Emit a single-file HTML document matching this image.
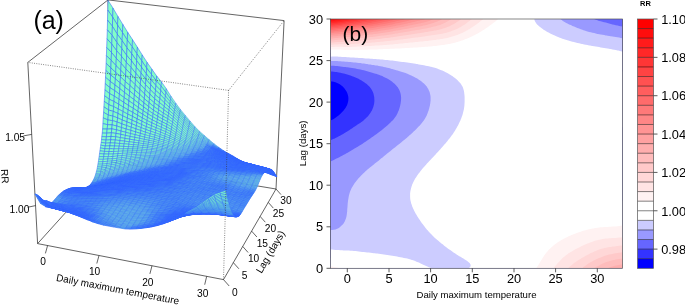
<!DOCTYPE html>
<html><head><meta charset="utf-8"><title>fig</title>
<style>html,body{margin:0;padding:0;background:#fff}svg{display:block;will-change:transform}text{font-family:"Liberation Sans",sans-serif;fill:#000}</style></head><body>
<svg width="685" height="305" viewBox="0 0 685 305">
<rect width="685" height="305" fill="#fff"/>
<g id="cont" clip-path="url(#cp)">
<clipPath id="cp"><rect x="330.5" y="19.0" width="292.1" height="249.3"/></clipPath>
<rect x="330.5" y="19.0" width="292.1" height="249.3" fill="rgb(0,0,255)"/>
<path fill="rgb(51,51,255)" fill-rule="evenodd" d="M330.5 268.3L332.1 268.3L333.8 268.3L335.5 268.3L337.1 268.3L338.8 268.3L340.5 268.3L342.1 268.3L343.8 268.3L345.5 268.3L347.2 268.3L348.8 268.3L350.5 268.3L352.2 268.3L353.8 268.3L355.5 268.3L357.2 268.3L358.8 268.3L360.5 268.3L362.2 268.3L363.8 268.3L365.5 268.3L367.2 268.3L368.8 268.3L370.5 268.3L372.2 268.3L373.8 268.3L375.5 268.3L377.2 268.3L378.9 268.3L380.5 268.3L382.2 268.3L383.9 268.3L385.5 268.3L387.2 268.3L388.9 268.3L390.5 268.3L392.2 268.3L393.9 268.3L395.5 268.3L397.2 268.3L398.9 268.3L400.5 268.3L402.2 268.3L403.9 268.3L405.6 268.3L407.2 268.3L408.9 268.3L410.6 268.3L412.2 268.3L413.9 268.3L415.6 268.3L417.2 268.3L418.9 268.3L420.6 268.3L422.2 268.3L423.9 268.3L425.6 268.3L427.2 268.3L428.9 268.3L430.6 268.3L432.2 268.3L433.9 268.3L435.6 268.3L437.3 268.3L438.9 268.3L440.6 268.3L442.3 268.3L443.9 268.3L445.6 268.3L447.3 268.3L448.9 268.3L450.6 268.3L452.3 268.3L453.9 268.3L455.6 268.3L457.3 268.3L458.9 268.3L460.6 268.3L462.3 268.3L464.0 268.3L465.6 268.3L467.3 268.3L469.0 268.3L470.6 268.3L472.3 268.3L474.0 268.3L475.6 268.3L477.3 268.3L479.0 268.3L480.6 268.3L482.3 268.3L484.0 268.3L485.6 268.3L487.3 268.3L489.0 268.3L490.6 268.3L492.3 268.3L494.0 268.3L495.7 268.3L497.3 268.3L499.0 268.3L500.7 268.3L502.3 268.3L504.0 268.3L505.7 268.3L507.3 268.3L509.0 268.3L510.7 268.3L512.3 268.3L514.0 268.3L515.7 268.3L517.3 268.3L519.0 268.3L520.7 268.3L522.4 268.3L524.0 268.3L525.7 268.3L527.4 268.3L529.0 268.3L530.7 268.3L532.4 268.3L534.0 268.3L535.7 268.3L537.4 268.3L539.0 268.3L540.7 268.3L542.4 268.3L544.0 268.3L545.7 268.3L547.4 268.3L549.0 268.3L550.7 268.3L552.4 268.3L554.1 268.3L555.7 268.3L557.4 268.3L559.1 268.3L560.7 268.3L562.4 268.3L564.1 268.3L565.7 268.3L567.4 268.3L569.1 268.3L570.7 268.3L572.4 268.3L574.1 268.3L575.7 268.3L577.4 268.3L579.1 268.3L580.8 268.3L582.4 268.3L584.1 268.3L585.8 268.3L587.4 268.3L589.1 268.3L590.8 268.3L592.4 268.3L594.1 268.3L595.8 268.3L597.4 268.3L599.1 268.3L600.8 268.3L602.4 268.3L604.1 268.3L605.8 268.3L607.4 268.3L609.1 268.3L610.8 268.3L612.5 268.3L614.1 268.3L615.8 268.3L617.5 268.3L619.1 268.3L620.8 268.3L622.5 268.3L622.5 266.6L622.5 265.0L622.5 263.3L622.5 261.7L622.5 260.0L622.5 258.3L622.5 256.7L622.5 255.0L622.5 253.3L622.5 251.7L622.5 250.0L622.5 248.4L622.5 246.7L622.5 245.0L622.5 243.4L622.5 241.7L622.5 240.0L622.5 238.4L622.5 236.7L622.5 235.1L622.5 233.4L622.5 231.7L622.5 230.1L622.5 228.4L622.5 226.8L622.5 225.1L622.5 223.4L622.5 221.8L622.5 220.1L622.5 218.4L622.5 216.8L622.5 215.1L622.5 213.5L622.5 211.8L622.5 210.1L622.5 208.5L622.5 206.8L622.5 205.1L622.5 203.5L622.5 201.8L622.5 200.2L622.5 198.5L622.5 196.8L622.5 195.2L622.5 193.5L622.5 191.8L622.5 190.2L622.5 188.5L622.5 186.9L622.5 185.2L622.5 183.5L622.5 181.9L622.5 180.2L622.5 178.6L622.5 176.9L622.5 175.2L622.5 173.6L622.5 171.9L622.5 170.2L622.5 168.6L622.5 166.9L622.5 165.3L622.5 163.6L622.5 161.9L622.5 160.3L622.5 158.6L622.5 156.9L622.5 155.3L622.5 153.6L622.5 152.0L622.5 150.3L622.5 148.6L622.5 147.0L622.5 145.3L622.5 143.7L622.5 142.0L622.5 140.3L622.5 138.7L622.5 137.0L622.5 135.3L622.5 133.7L622.5 132.0L622.5 130.4L622.5 128.7L622.5 127.0L622.5 125.4L622.5 123.7L622.5 122.0L622.5 120.4L622.5 118.7L622.5 117.1L622.5 115.4L622.5 113.7L622.5 112.1L622.5 110.4L622.5 108.7L622.5 107.1L622.5 105.4L622.5 103.8L622.5 102.1L622.5 100.4L622.5 98.8L622.5 97.1L622.5 95.5L622.5 93.8L622.5 92.1L622.5 90.5L622.5 88.8L622.5 87.1L622.5 85.5L622.5 83.8L622.5 82.2L622.5 80.5L622.5 78.8L622.5 77.2L622.5 75.5L622.5 73.8L622.5 72.2L622.5 70.5L622.5 68.9L622.5 67.2L622.5 65.5L622.5 63.9L622.5 62.2L622.5 60.6L622.5 58.9L622.5 57.2L622.5 55.6L622.5 53.9L622.5 52.2L622.5 50.6L622.5 48.9L622.5 47.3L622.5 45.6L622.5 43.9L622.5 42.3L622.5 40.6L622.5 38.9L622.5 37.3L622.5 35.6L622.5 34.0L622.5 32.3L622.5 30.6L622.5 29.0L622.5 27.3L622.5 25.6L622.5 24.0L622.5 22.3L622.5 20.7L622.5 19.0L620.8 19.0L619.1 19.0L617.5 19.0L615.8 19.0L614.1 19.0L612.5 19.0L610.8 19.0L609.1 19.0L607.4 19.0L605.8 19.0L604.1 19.0L602.4 19.0L600.8 19.0L599.1 19.0L597.4 19.0L595.8 19.0L594.1 19.0L592.4 19.0L590.8 19.0L589.1 19.0L587.4 19.0L585.8 19.0L584.1 19.0L582.4 19.0L580.8 19.0L579.1 19.0L577.4 19.0L575.7 19.0L574.1 19.0L572.4 19.0L570.7 19.0L569.1 19.0L567.4 19.0L565.7 19.0L564.1 19.0L562.4 19.0L560.7 19.0L559.1 19.0L557.4 19.0L555.7 19.0L554.1 19.0L552.4 19.0L550.7 19.0L549.0 19.0L547.4 19.0L545.7 19.0L544.0 19.0L542.4 19.0L540.7 19.0L539.0 19.0L537.4 19.0L535.7 19.0L534.0 19.0L532.4 19.0L530.7 19.0L529.0 19.0L527.4 19.0L525.7 19.0L524.0 19.0L522.4 19.0L520.7 19.0L519.0 19.0L517.3 19.0L515.7 19.0L514.0 19.0L512.3 19.0L510.7 19.0L509.0 19.0L507.3 19.0L505.7 19.0L504.0 19.0L502.3 19.0L500.7 19.0L499.0 19.0L497.3 19.0L495.7 19.0L494.0 19.0L492.3 19.0L490.6 19.0L489.0 19.0L487.3 19.0L485.6 19.0L484.0 19.0L482.3 19.0L480.6 19.0L479.0 19.0L477.3 19.0L475.6 19.0L474.0 19.0L472.3 19.0L470.6 19.0L469.0 19.0L467.3 19.0L465.6 19.0L464.0 19.0L462.3 19.0L460.6 19.0L458.9 19.0L457.3 19.0L455.6 19.0L453.9 19.0L452.3 19.0L450.6 19.0L448.9 19.0L447.3 19.0L445.6 19.0L443.9 19.0L442.3 19.0L440.6 19.0L438.9 19.0L437.3 19.0L435.6 19.0L433.9 19.0L432.2 19.0L430.6 19.0L428.9 19.0L427.2 19.0L425.6 19.0L423.9 19.0L422.2 19.0L420.6 19.0L418.9 19.0L417.2 19.0L415.6 19.0L413.9 19.0L412.2 19.0L410.6 19.0L408.9 19.0L407.2 19.0L405.6 19.0L403.9 19.0L402.2 19.0L400.5 19.0L398.9 19.0L397.2 19.0L395.5 19.0L393.9 19.0L392.2 19.0L390.5 19.0L388.9 19.0L387.2 19.0L385.5 19.0L383.9 19.0L382.2 19.0L380.5 19.0L378.9 19.0L377.2 19.0L375.5 19.0L373.8 19.0L372.2 19.0L370.5 19.0L368.8 19.0L367.2 19.0L365.5 19.0L363.8 19.0L362.2 19.0L360.5 19.0L358.8 19.0L357.2 19.0L355.5 19.0L353.8 19.0L352.2 19.0L350.5 19.0L348.8 19.0L347.2 19.0L345.5 19.0L343.8 19.0L342.1 19.0L340.5 19.0L338.8 19.0L337.1 19.0L335.5 19.0L333.8 19.0L332.1 19.0L330.5 19.0L330.5 20.7L330.5 22.3L330.5 24.0L330.5 25.6L330.5 27.3L330.5 29.0L330.5 30.6L330.5 32.3L330.5 34.0L330.5 35.6L330.5 37.3L330.5 38.9L330.5 40.6L330.5 42.3L330.5 43.9L330.5 45.6L330.5 47.3L330.5 48.9L330.5 50.6L330.5 52.2L330.5 53.9L330.5 55.6L330.5 57.2L330.5 58.9L330.5 60.6L330.5 62.2L330.5 63.9L330.5 65.5L330.5 67.2L330.5 68.9L330.5 70.5L330.5 72.2L330.5 73.8L330.5 75.5L330.5 77.2L330.5 78.8L330.5 80.5L330.5 81.3L332.1 81.4L333.8 81.7L335.2 82.2L335.5 82.3L337.1 83.0L338.8 83.8L338.9 83.8L340.5 84.8L341.4 85.5L342.1 86.1L343.2 87.1L343.8 87.8L344.7 88.8L345.5 89.9L345.9 90.5L346.8 92.1L347.2 92.9L347.5 93.8L348.0 95.5L348.3 97.1L348.4 98.8L348.3 100.4L348.0 102.1L347.5 103.8L347.2 104.7L346.9 105.4L346.0 107.1L345.5 107.9L344.9 108.7L343.8 110.2L343.6 110.4L342.1 112.1L342.1 112.1L340.5 113.7L340.5 113.7L338.8 115.2L338.6 115.4L337.1 116.6L336.5 117.1L335.5 117.8L334.0 118.7L333.8 118.9L332.1 119.8L330.8 120.4L330.5 120.5L330.5 122.0L330.5 123.7L330.5 125.4L330.5 127.0L330.5 128.7L330.5 130.4L330.5 132.0L330.5 133.7L330.5 135.3L330.5 137.0L330.5 138.7L330.5 140.3L330.5 142.0L330.5 143.7L330.5 145.3L330.5 147.0L330.5 148.6L330.5 150.3L330.5 152.0L330.5 153.6L330.5 155.3L330.5 156.9L330.5 158.6L330.5 160.3L330.5 161.9L330.5 163.6L330.5 165.3L330.5 166.9L330.5 168.6L330.5 170.2L330.5 171.9L330.5 173.6L330.5 175.2L330.5 176.9L330.5 178.6L330.5 180.2L330.5 181.9L330.5 183.5L330.5 185.2L330.5 186.9L330.5 188.5L330.5 190.2L330.5 191.8L330.5 193.5L330.5 195.2L330.5 196.8L330.5 198.5L330.5 200.2L330.5 201.8L330.5 203.5L330.5 205.1L330.5 206.8L330.5 208.5L330.5 210.1L330.5 211.8L330.5 213.5L330.5 215.1L330.5 216.8L330.5 218.4L330.5 220.1L330.5 221.8L330.5 223.4L330.5 225.1L330.5 226.8L330.5 228.4L330.5 230.1L330.5 231.7L330.5 233.4L330.5 235.1L330.5 236.7L330.5 238.4L330.5 240.0L330.5 241.7L330.5 243.4L330.5 245.0L330.5 246.7L330.5 248.4L330.5 250.0L330.5 251.7L330.5 253.3L330.5 255.0L330.5 256.7L330.5 258.3L330.5 260.0L330.5 261.7L330.5 263.3L330.5 265.0L330.5 266.6Z"/>
<path fill="rgb(102,102,255)" fill-rule="evenodd" d="M330.5 268.3L332.1 268.3L333.8 268.3L335.5 268.3L337.1 268.3L338.8 268.3L340.5 268.3L342.1 268.3L343.8 268.3L345.5 268.3L347.2 268.3L348.8 268.3L350.5 268.3L352.2 268.3L353.8 268.3L355.5 268.3L357.2 268.3L358.8 268.3L360.5 268.3L362.2 268.3L363.8 268.3L365.5 268.3L367.2 268.3L368.8 268.3L370.5 268.3L372.2 268.3L373.8 268.3L375.5 268.3L377.2 268.3L378.9 268.3L380.5 268.3L382.2 268.3L383.9 268.3L385.5 268.3L387.2 268.3L388.9 268.3L390.5 268.3L392.2 268.3L393.9 268.3L395.5 268.3L397.2 268.3L398.9 268.3L400.5 268.3L402.2 268.3L403.9 268.3L405.6 268.3L407.2 268.3L408.9 268.3L410.6 268.3L412.2 268.3L413.9 268.3L415.6 268.3L417.2 268.3L418.9 268.3L420.6 268.3L422.2 268.3L423.9 268.3L425.6 268.3L427.2 268.3L428.9 268.3L430.6 268.3L432.2 268.3L433.9 268.3L435.6 268.3L437.3 268.3L438.9 268.3L440.6 268.3L442.3 268.3L443.9 268.3L445.6 268.3L447.3 268.3L448.9 268.3L450.6 268.3L452.3 268.3L453.9 268.3L455.6 268.3L457.3 268.3L458.9 268.3L460.6 268.3L462.3 268.3L464.0 268.3L465.6 268.3L467.3 268.3L469.0 268.3L470.6 268.3L472.3 268.3L474.0 268.3L475.6 268.3L477.3 268.3L479.0 268.3L480.6 268.3L482.3 268.3L484.0 268.3L485.6 268.3L487.3 268.3L489.0 268.3L490.6 268.3L492.3 268.3L494.0 268.3L495.7 268.3L497.3 268.3L499.0 268.3L500.7 268.3L502.3 268.3L504.0 268.3L505.7 268.3L507.3 268.3L509.0 268.3L510.7 268.3L512.3 268.3L514.0 268.3L515.7 268.3L517.3 268.3L519.0 268.3L520.7 268.3L522.4 268.3L524.0 268.3L525.7 268.3L527.4 268.3L529.0 268.3L530.7 268.3L532.4 268.3L534.0 268.3L535.7 268.3L537.4 268.3L539.0 268.3L540.7 268.3L542.4 268.3L544.0 268.3L545.7 268.3L547.4 268.3L549.0 268.3L550.7 268.3L552.4 268.3L554.1 268.3L555.7 268.3L557.4 268.3L559.1 268.3L560.7 268.3L562.4 268.3L564.1 268.3L565.7 268.3L567.4 268.3L569.1 268.3L570.7 268.3L572.4 268.3L574.1 268.3L575.7 268.3L577.4 268.3L579.1 268.3L580.8 268.3L582.4 268.3L584.1 268.3L585.8 268.3L587.4 268.3L589.1 268.3L590.8 268.3L592.4 268.3L594.1 268.3L595.8 268.3L597.4 268.3L599.1 268.3L600.8 268.3L602.4 268.3L604.1 268.3L605.8 268.3L607.4 268.3L609.1 268.3L610.8 268.3L612.5 268.3L614.1 268.3L615.8 268.3L617.5 268.3L619.1 268.3L620.8 268.3L622.5 268.3L622.5 266.6L622.5 265.0L622.5 263.3L622.5 261.7L622.5 260.0L622.5 258.3L622.5 256.7L622.5 255.0L622.5 253.3L622.5 251.7L622.5 250.0L622.5 248.4L622.5 246.7L622.5 245.0L622.5 243.4L622.5 241.7L622.5 240.0L622.5 238.4L622.5 236.7L622.5 235.1L622.5 233.4L622.5 231.7L622.5 230.1L622.5 228.4L622.5 226.8L622.5 225.1L622.5 223.4L622.5 221.8L622.5 220.1L622.5 218.4L622.5 216.8L622.5 215.1L622.5 213.5L622.5 211.8L622.5 210.1L622.5 208.5L622.5 206.8L622.5 205.1L622.5 203.5L622.5 201.8L622.5 200.2L622.5 198.5L622.5 196.8L622.5 195.2L622.5 193.5L622.5 191.8L622.5 190.2L622.5 188.5L622.5 186.9L622.5 185.2L622.5 183.5L622.5 181.9L622.5 180.2L622.5 178.6L622.5 176.9L622.5 175.2L622.5 173.6L622.5 171.9L622.5 170.2L622.5 168.6L622.5 166.9L622.5 165.3L622.5 163.6L622.5 161.9L622.5 160.3L622.5 158.6L622.5 156.9L622.5 155.3L622.5 153.6L622.5 152.0L622.5 150.3L622.5 148.6L622.5 147.0L622.5 145.3L622.5 143.7L622.5 142.0L622.5 140.3L622.5 138.7L622.5 137.0L622.5 135.3L622.5 133.7L622.5 132.0L622.5 130.4L622.5 128.7L622.5 127.0L622.5 125.4L622.5 123.7L622.5 122.0L622.5 120.4L622.5 118.7L622.5 117.1L622.5 115.4L622.5 113.7L622.5 112.1L622.5 110.4L622.5 108.7L622.5 107.1L622.5 105.4L622.5 103.8L622.5 102.1L622.5 100.4L622.5 98.8L622.5 97.1L622.5 95.5L622.5 93.8L622.5 92.1L622.5 90.5L622.5 88.8L622.5 87.1L622.5 85.5L622.5 83.8L622.5 82.2L622.5 80.5L622.5 78.8L622.5 77.2L622.5 75.5L622.5 73.8L622.5 72.2L622.5 70.5L622.5 68.9L622.5 67.2L622.5 65.5L622.5 63.9L622.5 62.2L622.5 60.6L622.5 58.9L622.5 57.2L622.5 55.6L622.5 53.9L622.5 52.2L622.5 50.6L622.5 48.9L622.5 47.3L622.5 45.6L622.5 43.9L622.5 42.3L622.5 40.6L622.5 38.9L622.5 37.3L622.5 35.6L622.5 34.0L622.5 32.3L622.5 30.6L622.5 29.0L622.5 27.3L622.5 25.6L622.5 24.0L622.5 22.3L622.5 20.7L622.5 19.0L620.8 19.0L619.1 19.0L617.5 19.0L615.8 19.0L614.1 19.0L612.5 19.0L610.8 19.0L609.1 19.0L607.4 19.0L605.8 19.0L604.1 19.0L602.4 19.0L600.8 19.0L599.1 19.0L597.4 19.0L595.8 19.0L594.1 19.0L592.4 19.0L590.8 19.0L589.1 19.0L587.4 19.0L585.8 19.0L584.1 19.0L582.4 19.0L580.8 19.0L579.1 19.0L577.4 19.0L575.7 19.0L574.1 19.0L572.4 19.0L570.7 19.0L569.1 19.0L567.4 19.0L565.7 19.0L564.1 19.0L562.4 19.0L560.7 19.0L559.1 19.0L557.4 19.0L555.7 19.0L554.1 19.0L552.4 19.0L550.7 19.0L549.0 19.0L547.4 19.0L545.7 19.0L544.0 19.0L542.4 19.0L540.7 19.0L539.0 19.0L537.4 19.0L535.7 19.0L534.0 19.0L532.4 19.0L530.7 19.0L529.0 19.0L527.4 19.0L525.7 19.0L524.0 19.0L522.4 19.0L520.7 19.0L519.0 19.0L517.3 19.0L515.7 19.0L514.0 19.0L512.3 19.0L510.7 19.0L509.0 19.0L507.3 19.0L505.7 19.0L504.0 19.0L502.3 19.0L500.7 19.0L499.0 19.0L497.3 19.0L495.7 19.0L494.0 19.0L492.3 19.0L490.6 19.0L489.0 19.0L487.3 19.0L485.6 19.0L484.0 19.0L482.3 19.0L480.6 19.0L479.0 19.0L477.3 19.0L475.6 19.0L474.0 19.0L472.3 19.0L470.6 19.0L469.0 19.0L467.3 19.0L465.6 19.0L464.0 19.0L462.3 19.0L460.6 19.0L458.9 19.0L457.3 19.0L455.6 19.0L453.9 19.0L452.3 19.0L450.6 19.0L448.9 19.0L447.3 19.0L445.6 19.0L443.9 19.0L442.3 19.0L440.6 19.0L438.9 19.0L437.3 19.0L435.6 19.0L433.9 19.0L432.2 19.0L430.6 19.0L428.9 19.0L427.2 19.0L425.6 19.0L423.9 19.0L422.2 19.0L420.6 19.0L418.9 19.0L417.2 19.0L415.6 19.0L413.9 19.0L412.2 19.0L410.6 19.0L408.9 19.0L407.2 19.0L405.6 19.0L403.9 19.0L402.2 19.0L400.5 19.0L398.9 19.0L397.2 19.0L395.5 19.0L393.9 19.0L392.2 19.0L390.5 19.0L388.9 19.0L387.2 19.0L385.5 19.0L383.9 19.0L382.2 19.0L380.5 19.0L378.9 19.0L377.2 19.0L375.5 19.0L373.8 19.0L372.2 19.0L370.5 19.0L368.8 19.0L367.2 19.0L365.5 19.0L363.8 19.0L362.2 19.0L360.5 19.0L358.8 19.0L357.2 19.0L355.5 19.0L353.8 19.0L352.2 19.0L350.5 19.0L348.8 19.0L347.2 19.0L345.5 19.0L343.8 19.0L342.1 19.0L340.5 19.0L338.8 19.0L337.1 19.0L335.5 19.0L333.8 19.0L332.1 19.0L330.5 19.0L330.5 20.7L330.5 22.3L330.5 24.0L330.5 25.6L330.5 27.3L330.5 29.0L330.5 30.6L330.5 32.3L330.5 34.0L330.5 35.6L330.5 37.3L330.5 38.9L330.5 40.6L330.5 42.3L330.5 43.9L330.5 45.6L330.5 47.3L330.5 48.9L330.5 50.6L330.5 52.2L330.5 53.9L330.5 55.6L330.5 57.2L330.5 58.9L330.5 60.6L330.5 62.2L330.5 63.9L330.5 65.5L330.5 67.2L330.5 68.9L330.5 70.5L330.5 71.6L332.1 71.6L333.8 71.7L335.5 71.9L337.1 72.1L337.4 72.2L338.8 72.5L340.5 72.8L342.1 73.2L343.8 73.6L344.8 73.8L345.5 74.0L347.2 74.5L348.8 75.0L350.4 75.5L350.5 75.6L352.2 76.2L353.8 76.8L354.9 77.2L355.5 77.4L357.2 78.2L358.6 78.8L358.8 79.0L360.5 79.9L361.6 80.5L362.2 80.9L363.8 81.9L364.2 82.2L365.5 83.2L366.4 83.8L367.2 84.5L368.2 85.5L368.8 86.1L369.8 87.1L370.5 88.1L371.1 88.8L372.1 90.5L372.2 90.7L372.9 92.1L373.5 93.8L373.8 95.2L373.9 95.5L374.2 97.1L374.3 98.8L374.4 100.4L374.3 102.1L374.1 103.8L373.8 104.9L373.7 105.4L373.3 107.1L372.6 108.7L372.2 109.7L371.9 110.4L370.9 112.1L370.5 112.7L369.8 113.7L368.8 115.0L368.6 115.4L367.2 117.0L367.1 117.1L365.5 118.6L365.4 118.7L363.8 120.1L363.6 120.4L362.2 121.5L361.4 122.0L360.5 122.7L358.9 123.7L358.8 123.8L357.2 124.8L356.3 125.4L355.5 125.9L353.9 127.0L353.8 127.1L352.2 128.2L351.4 128.7L350.5 129.3L348.9 130.4L348.8 130.4L347.2 131.5L346.3 132.0L345.5 132.5L343.8 133.5L343.6 133.7L342.1 134.5L340.7 135.3L340.5 135.4L338.8 136.3L337.5 137.0L337.1 137.2L335.5 138.0L334.2 138.7L333.8 138.8L332.1 139.6L330.5 140.2L330.5 140.3L330.5 142.0L330.5 143.7L330.5 145.3L330.5 147.0L330.5 148.6L330.5 150.3L330.5 152.0L330.5 153.6L330.5 155.3L330.5 156.9L330.5 158.6L330.5 160.3L330.5 161.9L330.5 163.6L330.5 165.3L330.5 166.9L330.5 168.6L330.5 170.2L330.5 171.9L330.5 173.6L330.5 175.2L330.5 176.9L330.5 178.6L330.5 180.2L330.5 181.9L330.5 183.5L330.5 185.2L330.5 186.9L330.5 188.5L330.5 190.2L330.5 191.8L330.5 193.5L330.5 195.2L330.5 196.8L330.5 198.5L330.5 200.2L330.5 201.8L330.5 203.5L330.5 205.1L330.5 206.8L330.5 208.5L330.5 210.1L330.5 211.8L330.5 213.5L330.5 215.1L330.5 216.8L330.5 218.4L330.5 220.1L330.5 221.8L330.5 223.4L330.5 225.1L330.5 226.8L330.5 228.4L330.5 230.1L330.5 231.7L330.5 233.4L330.5 235.1L330.5 236.7L330.5 238.4L330.5 240.0L330.5 241.7L330.5 243.4L330.5 245.0L330.5 246.7L330.5 248.4L330.5 250.0L330.5 251.7L330.5 253.3L330.5 255.0L330.5 256.7L330.5 258.3L330.5 260.0L330.5 261.7L330.5 263.3L330.5 265.0L330.5 266.6Z"/>
<path fill="rgb(153,153,255)" fill-rule="evenodd" d="M330.5 268.3L332.1 268.3L333.8 268.3L335.5 268.3L337.1 268.3L338.8 268.3L340.5 268.3L342.1 268.3L343.8 268.3L345.5 268.3L347.2 268.3L348.8 268.3L350.5 268.3L352.2 268.3L353.8 268.3L355.5 268.3L357.2 268.3L358.8 268.3L360.5 268.3L362.2 268.3L363.8 268.3L365.5 268.3L367.2 268.3L368.8 268.3L370.5 268.3L372.2 268.3L373.8 268.3L375.5 268.3L377.2 268.3L378.9 268.3L380.5 268.3L382.2 268.3L383.9 268.3L385.5 268.3L387.2 268.3L388.9 268.3L390.5 268.3L392.2 268.3L393.9 268.3L395.5 268.3L397.2 268.3L398.9 268.3L400.5 268.3L402.2 268.3L403.9 268.3L405.6 268.3L407.2 268.3L408.9 268.3L410.6 268.3L412.2 268.3L413.9 268.3L415.6 268.3L417.2 268.3L418.9 268.3L420.6 268.3L422.2 268.3L423.9 268.3L425.6 268.3L427.2 268.3L428.9 268.3L430.6 268.3L432.2 268.3L433.9 268.3L435.6 268.3L437.3 268.3L438.9 268.3L440.6 268.3L442.3 268.3L443.9 268.3L445.6 268.3L447.3 268.3L448.9 268.3L450.6 268.3L452.3 268.3L453.9 268.3L455.6 268.3L457.3 268.3L458.9 268.3L460.6 268.3L462.3 268.3L464.0 268.3L465.6 268.3L467.3 268.3L469.0 268.3L470.6 268.3L472.3 268.3L474.0 268.3L475.6 268.3L477.3 268.3L479.0 268.3L480.6 268.3L482.3 268.3L484.0 268.3L485.6 268.3L487.3 268.3L489.0 268.3L490.6 268.3L492.3 268.3L494.0 268.3L495.7 268.3L497.3 268.3L499.0 268.3L500.7 268.3L502.3 268.3L504.0 268.3L505.7 268.3L507.3 268.3L509.0 268.3L510.7 268.3L512.3 268.3L514.0 268.3L515.7 268.3L517.3 268.3L519.0 268.3L520.7 268.3L522.4 268.3L524.0 268.3L525.7 268.3L527.4 268.3L529.0 268.3L530.7 268.3L532.4 268.3L534.0 268.3L535.7 268.3L537.4 268.3L539.0 268.3L540.7 268.3L542.4 268.3L544.0 268.3L545.7 268.3L547.4 268.3L549.0 268.3L550.7 268.3L552.4 268.3L554.1 268.3L555.7 268.3L557.4 268.3L559.1 268.3L560.7 268.3L562.4 268.3L564.1 268.3L565.7 268.3L567.4 268.3L569.1 268.3L570.7 268.3L572.4 268.3L574.1 268.3L575.7 268.3L577.4 268.3L579.1 268.3L580.8 268.3L582.4 268.3L584.1 268.3L585.8 268.3L587.4 268.3L589.1 268.3L590.8 268.3L592.4 268.3L594.1 268.3L595.8 268.3L597.4 268.3L599.1 268.3L600.8 268.3L602.4 268.3L604.1 268.3L605.8 268.3L607.4 268.3L609.1 268.3L610.8 268.3L612.5 268.3L614.1 268.3L615.8 268.3L617.5 268.3L619.1 268.3L620.8 268.3L622.5 268.3L622.5 266.6L622.5 265.0L622.5 263.3L622.5 261.7L622.5 260.0L622.5 258.3L622.5 256.7L622.5 255.0L622.5 253.3L622.5 251.7L622.5 250.0L622.5 248.4L622.5 246.7L622.5 245.0L622.5 243.4L622.5 241.7L622.5 240.0L622.5 238.4L622.5 236.7L622.5 235.1L622.5 233.4L622.5 231.7L622.5 230.1L622.5 228.4L622.5 226.8L622.5 225.1L622.5 223.4L622.5 221.8L622.5 220.1L622.5 218.4L622.5 216.8L622.5 215.1L622.5 213.5L622.5 211.8L622.5 210.1L622.5 208.5L622.5 206.8L622.5 205.1L622.5 203.5L622.5 201.8L622.5 200.2L622.5 198.5L622.5 196.8L622.5 195.2L622.5 193.5L622.5 191.8L622.5 190.2L622.5 188.5L622.5 186.9L622.5 185.2L622.5 183.5L622.5 181.9L622.5 180.2L622.5 178.6L622.5 176.9L622.5 175.2L622.5 173.6L622.5 171.9L622.5 170.2L622.5 168.6L622.5 166.9L622.5 165.3L622.5 163.6L622.5 161.9L622.5 160.3L622.5 158.6L622.5 156.9L622.5 155.3L622.5 153.6L622.5 152.0L622.5 150.3L622.5 148.6L622.5 147.0L622.5 145.3L622.5 143.7L622.5 142.0L622.5 140.3L622.5 138.7L622.5 137.0L622.5 135.3L622.5 133.7L622.5 132.0L622.5 130.4L622.5 128.7L622.5 127.0L622.5 125.4L622.5 123.7L622.5 122.0L622.5 120.4L622.5 118.7L622.5 117.1L622.5 115.4L622.5 113.7L622.5 112.1L622.5 110.4L622.5 108.7L622.5 107.1L622.5 105.4L622.5 103.8L622.5 102.1L622.5 100.4L622.5 98.8L622.5 97.1L622.5 95.5L622.5 93.8L622.5 92.1L622.5 90.5L622.5 88.8L622.5 87.1L622.5 85.5L622.5 83.8L622.5 82.2L622.5 80.5L622.5 78.8L622.5 77.2L622.5 75.5L622.5 73.8L622.5 72.2L622.5 70.5L622.5 68.9L622.5 67.2L622.5 65.5L622.5 63.9L622.5 62.2L622.5 60.6L622.5 58.9L622.5 57.2L622.5 55.6L622.5 53.9L622.5 52.2L622.5 50.6L622.5 48.9L622.5 47.3L622.5 45.6L622.5 43.9L622.5 42.3L622.5 40.6L622.5 38.9L622.5 37.3L622.5 35.6L622.5 34.0L622.5 32.3L622.5 30.6L622.5 29.0L622.5 27.3L622.5 26.5L620.8 26.2L619.1 25.9L617.7 25.6L617.5 25.6L615.8 25.2L614.1 24.8L612.5 24.4L610.9 24.0L610.8 24.0L609.1 23.5L607.4 23.1L605.8 22.6L604.5 22.3L604.1 22.2L602.4 21.8L600.8 21.3L599.1 20.9L598.4 20.7L597.4 20.3L595.8 19.8L594.1 19.1L593.7 19.0L592.4 19.0L590.8 19.0L589.1 19.0L587.4 19.0L585.8 19.0L584.1 19.0L582.4 19.0L580.8 19.0L579.1 19.0L577.4 19.0L575.7 19.0L574.1 19.0L572.4 19.0L570.7 19.0L569.1 19.0L567.4 19.0L565.7 19.0L564.1 19.0L562.4 19.0L560.7 19.0L559.1 19.0L557.4 19.0L555.7 19.0L554.1 19.0L552.4 19.0L550.7 19.0L549.0 19.0L547.4 19.0L545.7 19.0L544.0 19.0L542.4 19.0L540.7 19.0L539.0 19.0L537.4 19.0L535.7 19.0L534.0 19.0L532.4 19.0L530.7 19.0L529.0 19.0L527.4 19.0L525.7 19.0L524.0 19.0L522.4 19.0L520.7 19.0L519.0 19.0L517.3 19.0L515.7 19.0L514.0 19.0L512.3 19.0L510.7 19.0L509.0 19.0L507.3 19.0L505.7 19.0L504.0 19.0L502.3 19.0L500.7 19.0L499.0 19.0L497.3 19.0L495.7 19.0L494.0 19.0L492.3 19.0L490.6 19.0L489.0 19.0L487.3 19.0L485.6 19.0L484.0 19.0L482.3 19.0L480.6 19.0L479.0 19.0L477.3 19.0L475.6 19.0L474.0 19.0L472.3 19.0L470.6 19.0L469.0 19.0L467.3 19.0L465.6 19.0L464.0 19.0L462.3 19.0L460.6 19.0L458.9 19.0L457.3 19.0L455.6 19.0L453.9 19.0L452.3 19.0L450.6 19.0L448.9 19.0L447.3 19.0L445.6 19.0L443.9 19.0L442.3 19.0L440.6 19.0L438.9 19.0L437.3 19.0L435.6 19.0L433.9 19.0L432.2 19.0L430.6 19.0L428.9 19.0L427.2 19.0L425.6 19.0L423.9 19.0L422.2 19.0L420.6 19.0L418.9 19.0L417.2 19.0L415.6 19.0L413.9 19.0L412.2 19.0L410.6 19.0L408.9 19.0L407.2 19.0L405.6 19.0L403.9 19.0L402.2 19.0L400.5 19.0L398.9 19.0L397.2 19.0L395.5 19.0L393.9 19.0L392.2 19.0L390.5 19.0L388.9 19.0L387.2 19.0L385.5 19.0L383.9 19.0L382.2 19.0L380.5 19.0L378.9 19.0L377.2 19.0L375.5 19.0L373.8 19.0L372.2 19.0L370.5 19.0L368.8 19.0L367.2 19.0L365.5 19.0L363.8 19.0L362.2 19.0L360.5 19.0L358.8 19.0L357.2 19.0L355.5 19.0L353.8 19.0L352.2 19.0L350.5 19.0L348.8 19.0L347.2 19.0L345.5 19.0L343.8 19.0L342.1 19.0L340.5 19.0L338.8 19.0L337.1 19.0L335.5 19.0L333.8 19.0L332.1 19.0L330.5 19.0L330.5 20.7L330.5 22.3L330.5 24.0L330.5 25.6L330.5 27.3L330.5 29.0L330.5 30.6L330.5 32.3L330.5 34.0L330.5 35.6L330.5 37.3L330.5 38.9L330.5 40.6L330.5 42.3L330.5 43.9L330.5 45.6L330.5 47.3L330.5 48.9L330.5 50.6L330.5 52.2L330.5 53.9L330.5 55.6L330.5 57.2L330.5 58.9L330.5 60.6L330.5 62.2L330.5 63.9L330.5 65.5L330.5 65.8L332.1 65.8L333.8 65.8L335.5 65.9L337.1 66.1L338.8 66.3L340.5 66.5L342.1 66.7L343.8 66.9L345.5 67.1L346.5 67.2L347.2 67.3L348.8 67.5L350.5 67.8L352.2 68.0L353.8 68.3L355.5 68.6L357.1 68.9L357.2 68.9L358.8 69.2L360.5 69.6L362.2 69.9L363.8 70.3L364.6 70.5L365.5 70.8L367.2 71.2L368.8 71.7L370.5 72.2L370.6 72.2L372.2 72.7L373.8 73.2L375.5 73.7L376.1 73.8L377.2 74.2L378.9 74.8L380.5 75.4L380.8 75.5L382.2 76.1L383.9 76.9L384.4 77.2L385.5 77.7L387.2 78.6L387.6 78.8L388.9 79.6L390.4 80.5L390.5 80.6L392.2 81.8L392.7 82.2L393.9 83.2L394.6 83.8L395.5 84.8L396.2 85.5L397.2 86.7L397.6 87.1L398.6 88.8L398.9 89.3L399.5 90.5L400.1 92.1L400.5 93.6L400.6 93.8L400.9 95.5L401.1 97.1L401.1 98.8L401.0 100.4L400.8 102.1L400.6 103.8L400.5 103.8L400.2 105.4L399.8 107.1L399.3 108.7L398.9 109.9L398.7 110.4L398.0 112.1L397.3 113.7L397.2 113.8L396.4 115.4L395.5 116.7L395.3 117.1L394.0 118.7L393.9 118.9L392.6 120.4L392.2 120.8L390.9 122.0L390.5 122.4L389.1 123.7L388.9 124.0L387.3 125.4L387.2 125.4L385.5 126.9L385.4 127.0L383.9 128.3L383.4 128.7L382.2 129.7L381.3 130.4L380.5 131.0L379.2 132.0L378.9 132.3L377.2 133.5L377.0 133.7L375.5 134.7L374.7 135.3L373.8 135.9L372.4 137.0L372.2 137.1L370.5 138.3L370.0 138.7L368.8 139.5L367.6 140.3L367.2 140.6L365.5 141.7L365.1 142.0L363.8 142.8L362.6 143.7L362.2 143.9L360.5 145.0L360.0 145.3L358.8 146.0L357.3 147.0L357.2 147.0L355.5 148.1L354.5 148.6L353.8 149.1L352.2 150.0L351.7 150.3L350.5 151.0L348.8 152.0L348.8 152.0L347.2 152.9L345.9 153.6L345.5 153.9L343.8 154.8L342.9 155.3L342.1 155.7L340.5 156.6L339.8 156.9L338.8 157.5L337.1 158.3L336.5 158.6L335.5 159.1L333.8 160.0L333.2 160.3L332.1 160.8L330.5 161.5L330.5 161.9L330.5 163.6L330.5 165.3L330.5 166.9L330.5 168.6L330.5 170.2L330.5 171.9L330.5 173.6L330.5 175.2L330.5 176.9L330.5 178.6L330.5 180.2L330.5 181.9L330.5 183.5L330.5 185.2L330.5 186.9L330.5 188.5L330.5 190.2L330.5 191.8L330.5 193.5L330.5 195.2L330.5 196.8L330.5 198.5L330.5 200.2L330.5 201.8L330.5 203.5L330.5 205.1L330.5 206.8L330.5 208.5L330.5 210.1L330.5 211.8L330.5 213.5L330.5 215.1L330.5 216.8L330.5 218.4L330.5 220.1L330.5 221.8L330.5 223.4L330.5 225.1L330.5 226.8L330.5 228.4L330.5 230.1L330.5 231.7L330.5 233.4L330.5 235.1L330.5 236.7L330.5 238.4L330.5 240.0L330.5 241.7L330.5 243.4L330.5 245.0L330.5 246.7L330.5 248.4L330.5 250.0L330.5 251.7L330.5 253.3L330.5 255.0L330.5 256.7L330.5 258.3L330.5 260.0L330.5 261.7L330.5 263.3L330.5 265.0L330.5 266.6Z"/>
<path fill="rgb(204,204,255)" fill-rule="evenodd" d="M330.5 268.3L332.1 268.3L333.8 268.3L335.5 268.3L337.1 268.3L338.8 268.3L340.5 268.3L342.1 268.3L343.8 268.3L345.5 268.3L347.2 268.3L348.8 268.3L350.5 268.3L352.2 268.3L353.8 268.3L355.5 268.3L357.2 268.3L358.8 268.3L360.5 268.3L362.2 268.3L363.8 268.3L365.5 268.3L367.2 268.3L368.8 268.3L370.5 268.3L372.2 268.3L373.8 268.3L375.5 268.3L377.2 268.3L378.9 268.3L380.5 268.3L382.2 268.3L383.9 268.3L385.5 268.3L387.2 268.3L388.9 268.3L390.5 268.3L392.2 268.3L393.9 268.3L395.5 268.3L397.2 268.3L398.9 268.3L400.5 268.3L402.2 268.3L403.9 268.3L405.6 268.3L407.2 268.3L408.9 268.3L410.6 268.3L412.2 268.3L413.9 268.3L415.6 268.3L417.2 268.3L418.9 268.3L420.6 268.3L422.2 268.3L423.9 268.3L425.6 268.3L427.2 268.3L428.9 268.3L430.6 268.3L432.2 268.3L433.9 268.3L435.6 268.3L437.3 268.3L438.9 268.3L440.6 268.3L442.3 268.3L443.9 268.3L445.6 268.3L447.3 268.3L448.9 268.3L450.6 268.3L452.3 268.3L453.9 268.3L455.6 268.3L457.3 268.3L458.9 268.3L460.6 268.3L462.3 268.3L464.0 268.3L465.6 268.3L467.3 268.3L469.0 268.3L470.6 268.3L472.3 268.3L474.0 268.3L475.6 268.3L477.3 268.3L479.0 268.3L480.6 268.3L482.3 268.3L484.0 268.3L485.6 268.3L487.3 268.3L489.0 268.3L490.6 268.3L492.3 268.3L494.0 268.3L495.7 268.3L497.3 268.3L499.0 268.3L500.7 268.3L502.3 268.3L504.0 268.3L505.7 268.3L507.3 268.3L509.0 268.3L510.7 268.3L512.3 268.3L514.0 268.3L515.7 268.3L517.3 268.3L519.0 268.3L520.7 268.3L522.4 268.3L524.0 268.3L525.7 268.3L527.4 268.3L529.0 268.3L530.7 268.3L532.4 268.3L534.0 268.3L535.7 268.3L537.4 268.3L539.0 268.3L540.7 268.3L542.4 268.3L544.0 268.3L545.7 268.3L547.4 268.3L549.0 268.3L550.7 268.3L552.4 268.3L554.1 268.3L555.7 268.3L557.4 268.3L559.1 268.3L560.7 268.3L562.4 268.3L564.1 268.3L565.7 268.3L567.4 268.3L569.1 268.3L570.7 268.3L572.4 268.3L574.1 268.3L575.7 268.3L577.4 268.3L579.1 268.3L580.8 268.3L582.4 268.3L584.1 268.3L585.8 268.3L587.4 268.3L589.1 268.3L590.8 268.3L592.4 268.3L594.1 268.3L595.8 268.3L597.4 268.3L599.1 268.3L600.8 268.3L602.4 268.3L604.1 268.3L605.8 268.3L607.4 268.3L609.1 268.3L610.8 268.3L612.5 268.3L614.1 268.3L615.8 268.3L617.5 268.3L619.1 268.3L620.8 268.3L622.5 268.3L622.5 266.6L622.5 265.0L622.5 263.3L622.5 261.7L622.5 260.0L622.5 258.3L622.5 256.7L622.5 255.0L622.5 253.3L622.5 251.7L622.5 250.0L622.5 248.4L622.5 246.7L622.5 245.0L622.5 243.4L622.5 241.7L622.5 240.0L622.5 238.4L622.5 236.7L622.5 235.1L622.5 233.4L622.5 231.7L622.5 230.1L622.5 228.4L622.5 226.8L622.5 225.1L622.5 223.4L622.5 221.8L622.5 220.1L622.5 218.4L622.5 216.8L622.5 215.1L622.5 213.5L622.5 211.8L622.5 210.1L622.5 208.5L622.5 206.8L622.5 205.1L622.5 203.5L622.5 201.8L622.5 200.2L622.5 198.5L622.5 196.8L622.5 195.2L622.5 193.5L622.5 191.8L622.5 190.2L622.5 188.5L622.5 186.9L622.5 185.2L622.5 183.5L622.5 181.9L622.5 180.2L622.5 178.6L622.5 176.9L622.5 175.2L622.5 173.6L622.5 171.9L622.5 170.2L622.5 168.6L622.5 166.9L622.5 165.3L622.5 163.6L622.5 161.9L622.5 160.3L622.5 158.6L622.5 156.9L622.5 155.3L622.5 153.6L622.5 152.0L622.5 150.3L622.5 148.6L622.5 147.0L622.5 145.3L622.5 143.7L622.5 142.0L622.5 140.3L622.5 138.7L622.5 137.0L622.5 135.3L622.5 133.7L622.5 132.0L622.5 130.4L622.5 128.7L622.5 127.0L622.5 125.4L622.5 123.7L622.5 122.0L622.5 120.4L622.5 118.7L622.5 117.1L622.5 115.4L622.5 113.7L622.5 112.1L622.5 110.4L622.5 108.7L622.5 107.1L622.5 105.4L622.5 103.8L622.5 102.1L622.5 100.4L622.5 98.8L622.5 97.1L622.5 95.5L622.5 93.8L622.5 92.1L622.5 90.5L622.5 88.8L622.5 87.1L622.5 85.5L622.5 83.8L622.5 82.2L622.5 80.5L622.5 78.8L622.5 77.2L622.5 75.5L622.5 73.8L622.5 72.2L622.5 70.5L622.5 68.9L622.5 67.2L622.5 65.5L622.5 63.9L622.5 62.2L622.5 60.6L622.5 58.9L622.5 57.2L622.5 55.6L622.5 53.9L622.5 52.2L622.5 50.6L622.5 48.9L622.5 47.3L622.5 45.6L622.5 43.9L622.5 42.3L622.5 40.6L622.5 38.9L622.5 38.2L620.8 37.9L619.1 37.6L617.5 37.3L617.2 37.3L615.8 37.1L614.1 36.8L612.5 36.5L610.8 36.2L609.1 36.0L607.4 35.7L607.1 35.6L605.8 35.4L604.1 35.1L602.4 34.8L600.8 34.5L599.1 34.2L597.9 34.0L597.4 33.9L595.8 33.5L594.1 33.1L592.4 32.7L590.8 32.3L590.7 32.3L589.1 31.9L587.4 31.4L585.8 30.9L584.9 30.6L584.1 30.4L582.4 29.8L580.8 29.2L580.1 29.0L579.1 28.6L577.4 28.0L575.7 27.3L575.7 27.3L574.1 26.6L572.4 25.9L571.8 25.6L570.7 25.1L569.1 24.4L568.2 24.0L567.4 23.6L565.7 22.7L565.1 22.3L564.1 21.7L562.5 20.7L562.4 20.6L560.7 19.2L560.5 19.0L559.1 19.0L557.4 19.0L555.7 19.0L554.1 19.0L552.4 19.0L550.7 19.0L549.0 19.0L547.4 19.0L545.7 19.0L544.0 19.0L542.4 19.0L540.7 19.0L539.0 19.0L537.4 19.0L535.7 19.0L534.0 19.0L532.4 19.0L530.7 19.0L529.0 19.0L527.4 19.0L525.7 19.0L524.0 19.0L522.4 19.0L520.7 19.0L519.0 19.0L517.3 19.0L515.7 19.0L514.0 19.0L512.3 19.0L510.7 19.0L509.0 19.0L507.3 19.0L505.7 19.0L504.0 19.0L502.3 19.0L500.7 19.0L499.0 19.0L497.3 19.0L495.7 19.0L494.0 19.0L492.3 19.0L490.6 19.0L489.0 19.0L487.3 19.0L485.6 19.0L484.0 19.0L482.3 19.0L480.6 19.0L479.0 19.0L477.3 19.0L475.6 19.0L474.0 19.0L472.3 19.0L470.6 19.0L469.0 19.0L467.3 19.0L465.6 19.0L464.0 19.0L462.3 19.0L460.6 19.0L458.9 19.0L457.3 19.0L455.6 19.0L453.9 19.0L452.3 19.0L450.6 19.0L448.9 19.0L447.3 19.0L445.6 19.0L443.9 19.0L442.3 19.0L440.6 19.0L438.9 19.0L437.3 19.0L435.6 19.0L433.9 19.0L432.2 19.0L430.6 19.0L428.9 19.0L427.2 19.0L425.6 19.0L423.9 19.0L422.2 19.0L420.6 19.0L418.9 19.0L417.2 19.0L415.6 19.0L413.9 19.0L412.2 19.0L410.6 19.0L408.9 19.0L407.2 19.0L405.6 19.0L403.9 19.0L402.2 19.0L400.5 19.0L398.9 19.0L397.2 19.0L395.5 19.0L393.9 19.0L392.2 19.0L390.5 19.0L388.9 19.0L387.2 19.0L385.5 19.0L383.9 19.0L382.2 19.0L380.5 19.0L378.9 19.0L377.2 19.0L375.5 19.0L373.8 19.0L372.2 19.0L370.5 19.0L368.8 19.0L367.2 19.0L365.5 19.0L363.8 19.0L362.2 19.0L360.5 19.0L358.8 19.0L357.2 19.0L355.5 19.0L353.8 19.0L352.2 19.0L350.5 19.0L348.8 19.0L347.2 19.0L345.5 19.0L343.8 19.0L342.1 19.0L340.5 19.0L338.8 19.0L337.1 19.0L335.5 19.0L333.8 19.0L332.1 19.0L330.5 19.0L330.5 20.7L330.5 22.3L330.5 24.0L330.5 25.6L330.5 27.3L330.5 29.0L330.5 30.6L330.5 32.3L330.5 34.0L330.5 35.6L330.5 37.3L330.5 38.9L330.5 40.6L330.5 42.3L330.5 43.9L330.5 45.6L330.5 47.3L330.5 48.9L330.5 50.6L330.5 52.2L330.5 53.9L330.5 55.6L330.5 57.2L330.5 58.9L330.5 60.6L330.5 61.1L332.1 61.0L333.8 61.0L335.5 61.0L337.1 61.1L338.8 61.2L340.5 61.3L342.1 61.5L343.8 61.6L345.5 61.7L347.2 61.8L348.8 62.0L350.5 62.1L351.9 62.2L352.2 62.2L353.8 62.4L355.5 62.6L357.2 62.8L358.8 62.9L360.5 63.1L362.2 63.4L363.8 63.6L365.5 63.8L365.8 63.9L367.2 64.1L368.8 64.4L370.5 64.6L372.2 64.9L373.8 65.1L375.5 65.4L376.7 65.5L377.2 65.6L378.9 65.9L380.5 66.2L382.2 66.5L383.9 66.9L385.3 67.2L385.5 67.3L387.2 67.7L388.9 68.1L390.5 68.6L391.7 68.9L392.2 69.0L393.9 69.5L395.5 69.9L397.2 70.4L397.7 70.5L398.9 70.9L400.5 71.4L402.2 71.9L403.0 72.2L403.9 72.5L405.6 73.1L407.2 73.7L407.5 73.8L408.9 74.4L410.6 75.2L411.3 75.5L412.2 76.0L413.9 76.8L414.7 77.2L415.6 77.7L417.2 78.6L417.6 78.8L418.9 79.7L420.1 80.5L420.6 80.8L422.2 82.1L422.3 82.2L423.9 83.6L424.2 83.8L425.6 85.3L425.8 85.5L427.1 87.1L427.2 87.4L428.1 88.8L428.9 90.4L428.9 90.5L429.6 92.1L430.0 93.8L430.4 95.5L430.6 97.1L430.6 97.7L430.6 98.8L430.6 100.3L430.6 100.4L430.4 102.1L430.2 103.8L429.9 105.4L429.5 107.1L429.1 108.7L428.9 109.3L428.6 110.4L428.0 112.1L427.4 113.7L427.2 114.1L426.7 115.4L425.9 117.1L425.6 117.6L424.9 118.7L423.9 120.3L423.8 120.4L422.6 122.0L422.2 122.5L421.2 123.7L420.6 124.4L419.8 125.4L418.9 126.3L418.2 127.0L417.2 128.1L416.6 128.7L415.6 129.7L414.9 130.4L413.9 131.3L413.2 132.0L412.2 132.9L411.4 133.7L410.6 134.4L409.5 135.3L408.9 135.9L407.6 137.0L407.2 137.4L405.7 138.7L405.6 138.8L403.9 140.2L403.7 140.3L402.2 141.6L401.7 142.0L400.5 142.9L399.6 143.7L398.9 144.3L397.6 145.3L397.2 145.6L395.5 146.9L395.5 147.0L393.9 148.3L393.4 148.6L392.2 149.6L391.3 150.3L390.5 150.9L389.2 152.0L388.9 152.2L387.2 153.6L387.2 153.6L385.5 155.0L385.1 155.3L383.9 156.3L383.1 156.9L382.2 157.7L381.0 158.6L380.5 159.0L379.0 160.3L378.9 160.4L377.2 161.7L376.9 161.9L375.5 163.1L374.8 163.6L373.8 164.4L372.8 165.3L372.2 165.7L370.7 166.9L370.5 167.1L368.8 168.4L368.7 168.6L367.2 169.8L366.7 170.2L365.5 171.3L364.8 171.9L363.8 172.9L363.1 173.6L362.2 174.5L361.4 175.2L360.5 176.2L359.8 176.9L358.8 178.0L358.3 178.6L357.2 179.9L356.9 180.2L355.6 181.9L355.5 182.0L354.4 183.5L353.8 184.4L353.3 185.2L352.3 186.9L352.2 187.1L351.4 188.5L350.7 190.2L350.5 190.6L350.0 191.8L349.5 193.5L349.0 195.2L348.8 196.1L348.7 196.8L348.4 198.5L348.1 200.2L347.9 201.8L347.7 203.5L347.6 205.1L347.5 206.8L347.3 208.5L347.2 210.1L347.2 211.3L347.1 211.8L346.9 213.5L346.7 215.1L346.4 216.8L345.9 218.4L345.5 219.6L345.3 220.1L344.6 221.8L343.8 223.0L343.6 223.4L342.2 225.1L342.1 225.1L340.5 226.6L340.4 226.8L338.8 227.9L337.9 228.4L337.1 228.8L335.5 229.4L333.8 229.8L332.1 230.0L330.5 230.0L330.5 230.1L330.5 231.7L330.5 233.4L330.5 235.1L330.5 236.7L330.5 238.4L330.5 240.0L330.5 241.7L330.5 243.4L330.5 245.0L330.5 246.7L330.5 248.4L330.5 250.0L330.5 251.7L330.5 253.3L330.5 255.0L330.5 256.7L330.5 258.3L330.5 260.0L330.5 261.7L330.5 263.3L330.5 265.0L330.5 266.6Z"/>
<path fill="rgb(255,255,255)" fill-rule="evenodd" d="M330.5 268.3L332.1 268.3L333.8 268.3L335.5 268.3L337.1 268.3L338.8 268.3L340.5 268.3L342.1 268.3L343.8 268.3L345.5 268.3L347.2 268.3L348.8 268.3L350.5 268.3L352.2 268.3L353.8 268.3L355.5 268.3L357.2 268.3L358.8 268.3L360.5 268.3L362.2 268.3L363.8 268.3L365.5 268.3L367.2 268.3L368.8 268.3L370.5 268.3L372.2 268.3L373.8 268.3L375.5 268.3L377.2 268.3L378.9 268.3L380.5 268.3L382.2 268.3L383.9 268.3L385.5 268.3L387.2 268.3L388.9 268.3L390.5 268.3L392.2 268.3L393.9 268.3L395.5 268.3L397.2 268.3L398.9 268.3L400.5 268.3L402.2 268.3L403.9 268.3L405.6 268.3L407.2 268.3L408.9 268.3L410.6 268.3L412.2 268.3L413.9 268.3L415.6 268.3L417.2 268.3L418.9 268.3L420.6 268.3L422.2 268.3L423.9 268.3L425.6 268.3L427.2 268.3L428.9 268.3L430.6 268.3L432.2 268.3L432.3 268.3L432.2 268.3L430.6 267.8L428.9 267.2L427.4 266.6L427.2 266.6L425.6 265.8L423.9 265.0L423.8 265.0L422.2 264.2L420.6 263.4L420.3 263.3L418.9 262.6L417.2 261.9L416.5 261.7L415.6 261.3L413.9 260.6L412.2 260.1L411.9 260.0L410.6 259.6L408.9 259.1L407.2 258.6L405.9 258.3L405.6 258.2L403.9 257.9L402.2 257.5L400.5 257.2L398.9 256.9L397.9 256.7L397.2 256.5L395.5 256.2L393.9 255.9L392.2 255.7L390.5 255.4L388.9 255.2L387.6 255.0L387.2 254.9L385.5 254.7L383.9 254.5L382.2 254.3L380.5 254.0L378.9 253.8L377.2 253.6L375.5 253.4L375.3 253.3L373.8 253.2L372.2 252.9L370.5 252.8L368.8 252.6L367.2 252.4L365.5 252.2L363.8 252.0L362.2 251.9L360.5 251.7L360.5 251.7L358.8 251.5L357.2 251.3L355.5 251.1L353.8 251.0L352.2 250.8L350.5 250.7L348.8 250.6L347.2 250.6L345.5 250.5L343.8 250.4L342.1 250.3L340.5 250.2L338.8 250.1L337.6 250.0L337.1 250.0L335.5 249.9L333.8 249.7L332.1 249.6L330.5 249.4L330.5 250.0L330.5 251.7L330.5 253.3L330.5 255.0L330.5 256.7L330.5 258.3L330.5 260.0L330.5 261.7L330.5 263.3L330.5 265.0L330.5 266.6ZM468.2 268.3L469.0 268.3L470.6 268.3L472.3 268.3L474.0 268.3L475.6 268.3L477.3 268.3L479.0 268.3L480.6 268.3L482.3 268.3L484.0 268.3L485.6 268.3L487.3 268.3L489.0 268.3L490.6 268.3L492.3 268.3L494.0 268.3L495.7 268.3L497.3 268.3L499.0 268.3L500.7 268.3L502.3 268.3L504.0 268.3L505.7 268.3L507.3 268.3L509.0 268.3L510.7 268.3L512.3 268.3L514.0 268.3L515.7 268.3L517.3 268.3L519.0 268.3L520.7 268.3L522.4 268.3L524.0 268.3L525.7 268.3L527.4 268.3L529.0 268.3L530.7 268.3L532.4 268.3L534.0 268.3L535.7 268.3L537.4 268.3L539.0 268.3L540.7 268.3L542.4 268.3L544.0 268.3L545.7 268.3L547.4 268.3L549.0 268.3L550.7 268.3L552.4 268.3L554.1 268.3L555.7 268.3L557.4 268.3L559.1 268.3L560.7 268.3L562.4 268.3L564.1 268.3L565.7 268.3L567.4 268.3L569.1 268.3L570.7 268.3L572.4 268.3L574.1 268.3L575.7 268.3L577.4 268.3L579.1 268.3L580.8 268.3L582.4 268.3L584.1 268.3L585.8 268.3L587.4 268.3L589.1 268.3L590.8 268.3L592.4 268.3L594.1 268.3L595.8 268.3L597.4 268.3L599.1 268.3L600.8 268.3L602.4 268.3L604.1 268.3L605.8 268.3L607.4 268.3L609.1 268.3L610.8 268.3L612.5 268.3L614.1 268.3L615.8 268.3L617.5 268.3L619.1 268.3L620.8 268.3L622.5 268.3L622.5 266.6L622.5 265.0L622.5 263.3L622.5 261.7L622.5 260.0L622.5 258.3L622.5 256.7L622.5 255.0L622.5 253.3L622.5 251.7L622.5 250.0L622.5 248.4L622.5 246.7L622.5 245.0L622.5 243.4L622.5 241.7L622.5 240.0L622.5 238.4L622.5 236.7L622.5 235.1L622.5 233.4L622.5 231.7L622.5 230.1L622.5 228.4L622.5 226.8L622.5 225.1L622.5 223.4L622.5 221.8L622.5 220.1L622.5 218.4L622.5 216.8L622.5 215.1L622.5 213.5L622.5 211.8L622.5 210.1L622.5 208.5L622.5 206.8L622.5 205.1L622.5 203.5L622.5 201.8L622.5 200.2L622.5 198.5L622.5 196.8L622.5 195.2L622.5 193.5L622.5 191.8L622.5 190.2L622.5 188.5L622.5 186.9L622.5 185.2L622.5 183.5L622.5 181.9L622.5 180.2L622.5 178.6L622.5 176.9L622.5 175.2L622.5 173.6L622.5 171.9L622.5 170.2L622.5 168.6L622.5 166.9L622.5 165.3L622.5 163.6L622.5 161.9L622.5 160.3L622.5 158.6L622.5 156.9L622.5 155.3L622.5 153.6L622.5 152.0L622.5 150.3L622.5 148.6L622.5 147.0L622.5 145.3L622.5 143.7L622.5 142.0L622.5 140.3L622.5 138.7L622.5 137.0L622.5 135.3L622.5 133.7L622.5 132.0L622.5 130.4L622.5 128.7L622.5 127.0L622.5 125.4L622.5 123.7L622.5 122.0L622.5 120.4L622.5 118.7L622.5 117.1L622.5 115.4L622.5 113.7L622.5 112.1L622.5 110.4L622.5 108.7L622.5 107.1L622.5 105.4L622.5 103.8L622.5 102.1L622.5 100.4L622.5 98.8L622.5 97.1L622.5 95.5L622.5 93.8L622.5 92.1L622.5 90.5L622.5 88.8L622.5 87.1L622.5 85.5L622.5 83.8L622.5 82.2L622.5 80.5L622.5 78.8L622.5 77.2L622.5 75.5L622.5 73.8L622.5 72.2L622.5 70.5L622.5 68.9L622.5 67.2L622.5 65.5L622.5 63.9L622.5 62.2L622.5 60.6L622.5 58.9L622.5 57.2L622.5 55.6L622.5 53.9L622.5 52.2L622.5 51.6L620.8 51.2L619.1 50.8L618.3 50.6L617.5 50.4L615.8 50.0L614.1 49.7L612.5 49.4L610.8 49.1L609.7 48.9L609.1 48.8L607.4 48.5L605.8 48.2L604.1 48.0L602.4 47.7L600.8 47.4L599.9 47.3L599.1 47.1L597.4 46.8L595.8 46.6L594.1 46.3L592.4 46.0L590.8 45.7L590.3 45.6L589.1 45.4L587.4 45.0L585.8 44.7L584.1 44.4L582.4 44.0L581.9 43.9L580.8 43.7L579.1 43.3L577.4 43.0L575.7 42.6L574.6 42.3L574.1 42.1L572.4 41.7L570.7 41.3L569.1 40.8L568.4 40.6L567.4 40.3L565.7 39.8L564.1 39.2L563.2 38.9L562.4 38.7L560.7 38.1L559.1 37.4L558.7 37.3L557.4 36.8L555.7 36.0L554.8 35.6L554.1 35.3L552.4 34.5L551.3 34.0L550.7 33.7L549.0 32.8L548.0 32.3L547.4 31.9L545.7 31.0L545.2 30.6L544.0 29.9L542.7 29.0L542.4 28.8L540.7 27.6L540.4 27.3L539.0 26.2L538.3 25.6L537.4 24.7L536.7 24.0L535.7 22.6L535.5 22.3L534.7 20.7L534.3 19.0L534.0 19.0L532.4 19.0L530.7 19.0L529.0 19.0L527.4 19.0L525.7 19.0L524.0 19.0L522.4 19.0L520.7 19.0L519.0 19.0L517.3 19.0L515.7 19.0L514.0 19.0L512.3 19.0L510.7 19.0L509.0 19.0L507.3 19.0L505.7 19.0L504.0 19.0L502.3 19.0L500.7 19.0L499.0 19.0L497.3 19.0L495.7 19.0L494.0 19.0L492.3 19.0L490.6 19.0L489.0 19.0L487.3 19.0L485.6 19.0L484.0 19.0L482.3 19.0L480.6 19.0L479.0 19.0L477.3 19.0L475.6 19.0L474.0 19.0L472.3 19.0L470.6 19.0L469.0 19.0L467.3 19.0L465.6 19.0L464.0 19.0L462.3 19.0L460.6 19.0L458.9 19.0L457.3 19.0L455.6 19.0L453.9 19.0L452.3 19.0L450.6 19.0L448.9 19.0L447.3 19.0L445.6 19.0L443.9 19.0L442.3 19.0L440.6 19.0L438.9 19.0L437.3 19.0L435.6 19.0L433.9 19.0L432.2 19.0L430.6 19.0L428.9 19.0L427.2 19.0L425.6 19.0L423.9 19.0L422.2 19.0L420.6 19.0L418.9 19.0L417.2 19.0L415.6 19.0L413.9 19.0L412.2 19.0L410.6 19.0L408.9 19.0L407.2 19.0L405.6 19.0L403.9 19.0L402.2 19.0L400.5 19.0L398.9 19.0L397.2 19.0L395.5 19.0L393.9 19.0L392.2 19.0L390.5 19.0L388.9 19.0L387.2 19.0L385.5 19.0L383.9 19.0L382.2 19.0L380.5 19.0L378.9 19.0L377.2 19.0L375.5 19.0L373.8 19.0L372.2 19.0L370.5 19.0L368.8 19.0L367.2 19.0L365.5 19.0L363.8 19.0L362.2 19.0L360.5 19.0L358.8 19.0L357.2 19.0L355.5 19.0L353.8 19.0L352.2 19.0L350.5 19.0L348.8 19.0L347.2 19.0L345.5 19.0L343.8 19.0L342.1 19.0L340.5 19.0L338.8 19.0L337.1 19.0L335.5 19.0L333.8 19.0L332.1 19.0L330.5 19.0L330.5 20.7L330.5 22.3L330.5 24.0L330.5 25.6L330.5 27.3L330.5 29.0L330.5 30.6L330.5 32.3L330.5 34.0L330.5 35.6L330.5 37.3L330.5 38.9L330.5 40.6L330.5 42.3L330.5 43.9L330.5 45.6L330.5 47.3L330.5 48.9L330.5 50.6L330.5 52.2L330.5 53.9L330.5 55.6L330.5 56.8L332.1 56.6L333.8 56.6L335.5 56.6L337.1 56.6L338.8 56.7L340.5 56.8L342.1 56.9L343.8 57.0L345.5 57.1L347.2 57.2L347.5 57.2L348.8 57.3L350.5 57.4L352.2 57.5L353.8 57.6L355.5 57.7L357.2 57.8L358.8 57.9L360.5 58.0L362.2 58.1L363.8 58.2L365.5 58.4L367.2 58.5L368.8 58.6L370.5 58.7L372.2 58.8L373.1 58.9L373.8 58.9L375.5 59.0L377.2 59.2L378.9 59.3L380.5 59.4L382.2 59.6L383.9 59.7L385.5 59.9L387.2 60.0L388.9 60.2L390.5 60.4L391.8 60.6L392.2 60.6L393.9 60.8L395.5 61.0L397.2 61.3L398.9 61.5L400.5 61.7L402.2 61.9L403.9 62.1L405.2 62.2L405.6 62.3L407.2 62.5L408.9 62.7L410.6 63.0L412.2 63.2L413.9 63.5L415.6 63.8L416.2 63.9L417.2 64.1L418.9 64.4L420.6 64.7L422.2 65.0L423.9 65.3L425.0 65.5L425.6 65.7L427.2 66.0L428.9 66.3L430.6 66.7L432.2 67.1L432.5 67.2L433.9 67.6L435.6 68.1L437.3 68.6L438.0 68.9L438.9 69.2L440.6 69.9L442.2 70.5L442.3 70.5L443.9 71.3L445.6 72.2L445.7 72.2L447.3 73.1L448.6 73.8L448.9 74.1L450.6 75.1L451.3 75.5L452.3 76.1L453.8 77.2L453.9 77.3L455.6 78.6L455.9 78.8L457.3 80.0L457.8 80.5L458.9 81.7L459.4 82.2L460.6 83.6L460.8 83.8L461.8 85.5L462.3 86.3L462.7 87.1L463.3 88.8L463.8 90.5L464.0 91.4L464.1 92.1L464.3 93.8L464.5 95.5L464.6 97.1L464.6 98.8L464.6 100.4L464.6 102.1L464.5 103.8L464.4 105.4L464.2 107.1L464.0 108.7L464.0 108.8L463.6 110.4L463.2 112.1L462.8 113.7L462.3 115.4L462.3 115.4L461.7 117.1L461.1 118.7L460.6 119.8L460.4 120.4L459.6 122.0L458.9 123.4L458.8 123.7L458.0 125.4L457.3 126.6L457.1 127.0L456.1 128.7L455.6 129.6L455.1 130.4L454.1 132.0L453.9 132.2L453.0 133.7L452.3 134.7L451.8 135.3L450.6 137.0L450.6 137.0L449.3 138.7L448.9 139.1L448.0 140.3L447.3 141.2L446.6 142.0L445.6 143.2L445.2 143.7L443.9 145.1L443.8 145.3L442.3 147.0L442.3 147.0L440.9 148.6L440.6 148.9L439.4 150.3L438.9 150.8L437.9 152.0L437.3 152.6L436.3 153.6L435.6 154.4L434.8 155.3L433.9 156.2L433.2 156.9L432.2 158.0L431.7 158.6L430.6 159.8L430.1 160.3L428.9 161.5L428.5 161.9L427.2 163.3L427.0 163.6L425.6 165.2L425.5 165.3L424.0 166.9L423.9 167.1L422.6 168.6L422.2 169.0L421.2 170.2L420.6 171.1L419.9 171.9L418.9 173.2L418.6 173.6L417.4 175.2L417.2 175.5L416.3 176.9L415.6 178.1L415.2 178.6L414.3 180.2L413.9 181.0L413.4 181.9L412.7 183.5L412.2 184.6L412.0 185.2L411.4 186.9L411.0 188.5L410.6 190.2L410.6 190.3L410.3 191.8L410.1 193.5L410.1 195.2L410.1 196.8L410.2 198.5L410.4 200.2L410.6 200.7L410.8 201.8L411.2 203.5L411.8 205.1L412.2 206.4L412.4 206.8L413.1 208.5L413.9 210.1L413.9 210.2L414.7 211.8L415.6 213.4L415.6 213.5L416.6 215.1L417.2 216.2L417.6 216.8L418.7 218.4L418.9 218.8L419.8 220.1L420.6 221.2L420.9 221.8L422.1 223.4L422.2 223.6L423.4 225.1L423.9 225.8L424.7 226.8L425.6 227.9L426.0 228.4L427.2 229.9L427.4 230.1L428.8 231.7L428.9 231.8L430.4 233.4L430.6 233.6L432.0 235.1L432.2 235.3L433.7 236.7L433.9 236.9L435.5 238.4L435.6 238.5L437.3 239.9L437.4 240.0L438.9 241.3L439.4 241.7L440.6 242.7L441.4 243.4L442.3 244.1L443.5 245.0L443.9 245.4L445.6 246.7L445.6 246.7L447.3 248.0L447.8 248.4L448.9 249.2L450.2 250.0L450.6 250.3L452.3 251.5L452.5 251.7L453.9 252.7L454.9 253.3L455.6 253.8L457.3 254.9L457.5 255.0L458.9 255.9L460.3 256.7L460.6 256.8L462.3 257.9L463.1 258.3L464.0 258.9L465.6 260.0L465.6 260.0L467.3 261.1L468.0 261.7L469.0 262.4L469.8 263.3L470.6 264.8L470.7 265.0L470.6 265.6L470.5 266.6L469.0 267.9Z"/>
<path fill="rgb(255,255,255)" fill-rule="evenodd" d="M330.5 268.3L332.1 268.3L333.8 268.3L335.5 268.3L337.1 268.3L338.8 268.3L340.5 268.3L342.1 268.3L343.8 268.3L345.5 268.3L347.2 268.3L348.8 268.3L350.5 268.3L352.2 268.3L353.8 268.3L355.5 268.3L357.2 268.3L358.8 268.3L360.5 268.3L362.2 268.3L363.8 268.3L365.5 268.3L367.2 268.3L368.8 268.3L369.6 268.3L368.8 268.0L367.2 267.3L365.5 266.7L365.4 266.6L363.8 266.0L362.2 265.4L361.0 265.0L360.5 264.8L358.8 264.2L357.2 263.6L356.2 263.3L355.5 263.1L353.8 262.6L352.2 262.1L350.7 261.7L350.5 261.6L348.8 261.2L347.2 260.7L345.5 260.4L343.8 260.0L343.7 260.0L342.1 259.7L340.5 259.4L338.8 259.1L337.1 258.9L335.5 258.7L333.8 258.5L332.7 258.3L332.1 258.3L330.5 258.1L330.5 258.3L330.5 260.0L330.5 261.7L330.5 263.3L330.5 265.0L330.5 266.6ZM513.4 268.3L514.0 268.3L515.7 268.3L517.3 268.3L519.0 268.3L520.7 268.3L522.4 268.3L524.0 268.3L525.7 268.3L527.4 268.3L529.0 268.3L530.7 268.3L532.4 268.3L534.0 268.3L535.7 268.3L537.4 268.3L539.0 268.3L540.7 268.3L542.4 268.3L544.0 268.3L545.7 268.3L547.4 268.3L549.0 268.3L550.7 268.3L552.4 268.3L554.1 268.3L555.7 268.3L557.4 268.3L559.1 268.3L560.7 268.3L562.4 268.3L564.1 268.3L565.7 268.3L567.4 268.3L569.1 268.3L570.7 268.3L572.4 268.3L574.1 268.3L575.7 268.3L577.4 268.3L579.1 268.3L580.8 268.3L582.4 268.3L584.1 268.3L585.8 268.3L587.4 268.3L589.1 268.3L590.8 268.3L592.4 268.3L594.1 268.3L595.8 268.3L597.4 268.3L599.1 268.3L600.8 268.3L602.4 268.3L604.1 268.3L605.8 268.3L607.4 268.3L609.1 268.3L610.8 268.3L612.5 268.3L614.1 268.3L615.8 268.3L617.5 268.3L619.1 268.3L620.8 268.3L622.5 268.3L622.5 266.6L622.5 265.0L622.5 263.3L622.5 261.7L622.5 260.0L622.5 258.3L622.5 256.7L622.5 255.0L622.5 253.3L622.5 251.7L622.5 250.0L622.5 248.4L622.5 246.7L622.5 245.0L622.5 243.4L622.5 241.7L622.5 240.0L622.5 238.4L622.5 236.7L622.5 235.1L622.5 233.4L622.5 231.7L622.5 230.1L622.5 228.4L622.5 226.8L622.5 225.1L622.5 223.4L622.5 221.8L622.5 220.1L622.5 218.4L622.5 216.8L622.5 215.1L622.5 213.5L622.5 211.8L622.5 210.1L622.5 208.5L622.5 206.8L622.5 205.1L622.5 203.5L622.5 201.8L622.5 200.4L620.8 201.4L620.0 201.8L619.1 202.2L617.5 202.7L615.8 203.1L614.1 203.4L613.3 203.5L612.5 203.6L610.8 203.7L609.1 203.8L607.4 203.8L605.8 203.8L604.1 203.7L602.4 203.7L600.8 203.6L599.3 203.5L599.1 203.5L597.4 203.3L595.8 203.2L594.1 203.1L592.4 202.9L590.8 202.8L589.1 202.7L587.4 202.5L585.8 202.4L584.1 202.3L582.4 202.2L580.8 202.1L579.1 202.0L577.4 201.8L576.9 201.8L575.7 201.7L574.1 201.6L572.4 201.5L570.7 201.3L569.1 201.0L567.4 200.6L566.0 200.2L565.7 200.0L564.1 199.0L563.2 198.5L562.4 197.7L561.5 196.8L560.7 195.5L560.6 195.2L560.3 193.5L560.5 191.8L560.7 191.2L561.2 190.2L562.3 188.5L562.4 188.4L563.7 186.9L564.1 186.3L565.0 185.2L565.7 183.8L565.9 183.5L566.3 181.9L566.6 180.2L566.9 178.6L567.1 176.9L567.3 175.2L567.4 174.5L567.5 173.6L567.7 171.9L567.9 170.2L568.1 168.6L568.3 166.9L568.4 165.3L568.5 163.6L568.6 161.9L568.6 160.3L568.4 158.6L568.2 156.9L567.8 155.3L567.4 154.3L567.1 153.6L566.0 152.0L565.7 151.7L564.3 150.3L564.1 150.1L562.4 148.6L562.4 148.6L560.7 147.0L560.7 147.0L559.3 145.3L559.1 145.0L558.2 143.7L557.4 142.0L557.4 142.0L556.9 140.3L556.6 138.7L556.7 137.0L557.0 135.3L557.4 134.4L557.7 133.7L558.7 132.0L559.1 131.6L560.3 130.4L560.7 130.0L562.4 128.9L562.7 128.7L564.1 128.1L565.7 127.6L567.4 127.4L569.1 127.5L570.7 127.9L572.4 128.4L573.3 128.7L574.1 129.0L575.7 129.7L577.2 130.4L577.4 130.5L579.1 131.2L580.8 131.9L581.0 132.0L582.4 132.6L584.1 133.2L585.6 133.7L585.8 133.7L587.4 134.2L589.1 134.6L590.8 134.9L592.4 135.1L594.1 135.2L595.8 135.2L597.4 135.1L599.1 135.0L600.8 134.8L602.4 134.5L604.1 134.0L605.2 133.7L605.8 133.5L607.4 133.0L609.1 132.3L609.8 132.0L610.8 131.6L612.5 130.9L613.7 130.4L614.1 130.2L615.8 129.5L617.5 128.8L617.6 128.7L619.1 128.2L620.8 127.7L622.5 127.3L622.5 127.0L622.5 125.4L622.5 123.7L622.5 122.0L622.5 120.4L622.5 118.7L622.5 117.1L622.5 115.4L622.5 113.7L622.5 112.1L622.5 110.4L622.5 108.7L622.5 107.1L622.5 105.4L622.5 103.8L622.5 102.1L622.5 100.4L622.5 98.8L622.5 97.1L622.5 95.5L622.5 93.8L622.5 92.1L622.5 90.5L622.5 88.8L622.5 87.1L622.5 85.5L622.5 83.8L622.5 82.2L622.5 80.5L622.5 78.8L622.5 77.2L622.5 75.5L622.5 73.8L622.5 72.2L622.5 71.6L620.8 71.0L619.3 70.5L619.1 70.5L617.5 70.0L615.8 69.6L614.1 69.2L612.6 68.9L612.5 68.8L610.8 68.5L609.1 68.3L607.4 68.1L605.8 67.9L604.1 67.8L602.4 67.7L600.8 67.6L599.1 67.5L597.4 67.5L595.8 67.5L594.1 67.6L592.4 67.6L590.8 67.7L589.1 67.9L587.4 68.0L585.8 68.2L584.1 68.4L582.4 68.6L580.8 68.8L580.5 68.9L579.1 69.1L577.4 69.4L575.7 69.6L574.1 69.9L572.4 70.2L570.7 70.4L569.7 70.5L569.1 70.6L567.4 70.7L565.7 70.8L564.1 70.7L562.4 70.6L561.3 70.5L560.7 70.5L559.1 70.2L557.4 70.0L555.7 69.7L554.1 69.3L552.4 68.9L552.2 68.9L550.7 68.5L549.0 68.1L547.4 67.6L546.0 67.2L545.7 67.1L544.0 66.6L542.4 66.1L540.7 65.5L540.7 65.5L539.0 65.0L537.4 64.4L535.8 63.9L535.7 63.8L534.0 63.3L532.4 62.7L531.1 62.2L530.7 62.0L529.0 61.4L527.4 60.8L526.6 60.6L525.7 60.2L524.0 59.6L522.4 59.0L521.9 58.9L520.7 58.5L519.0 58.2L517.3 58.3L516.7 58.9L515.7 60.6L515.7 60.6L515.3 62.2L515.0 63.9L514.8 65.5L514.6 67.2L514.5 68.9L514.4 70.5L514.4 72.2L514.4 73.8L514.4 75.5L514.4 77.2L514.4 78.8L514.3 80.5L514.3 82.2L514.2 83.8L514.2 85.5L514.2 87.1L514.2 88.8L514.2 90.5L514.2 92.1L514.2 93.8L514.2 95.5L514.2 97.1L514.1 98.8L514.1 100.4L514.1 102.1L514.1 103.8L514.2 105.4L514.2 107.1L514.2 108.7L514.2 110.4L514.2 112.1L514.2 113.7L514.2 115.4L514.2 117.1L514.2 118.7L514.2 120.4L514.3 122.0L514.3 123.7L514.4 125.4L514.4 127.0L514.4 128.7L514.4 130.4L514.3 132.0L514.3 133.7L514.2 135.3L514.2 137.0L514.3 138.7L514.3 140.3L514.3 142.0L514.3 143.7L514.3 145.3L514.2 147.0L514.2 148.6L514.1 150.3L514.1 152.0L514.1 153.6L514.0 155.3L514.0 156.9L514.0 158.6L514.0 158.6L514.0 160.3L514.0 161.9L514.0 163.6L514.0 165.3L514.0 166.9L514.0 168.6L513.9 170.2L513.9 171.9L513.9 173.6L513.9 175.2L514.0 176.9L514.0 178.6L514.0 180.2L514.0 181.9L514.0 182.0L514.0 183.5L514.1 185.2L514.1 186.9L514.2 188.5L514.3 190.2L514.3 191.8L514.3 193.5L514.3 195.2L514.3 196.8L514.3 198.5L514.3 200.2L514.3 201.8L514.4 203.5L514.4 205.1L514.4 206.8L514.5 208.5L514.5 210.1L514.4 211.8L514.4 213.5L514.3 215.1L514.3 216.8L514.2 218.4L514.3 220.1L514.3 221.8L514.3 223.4L514.3 225.1L514.3 226.8L514.3 228.4L514.2 230.1L514.2 231.7L514.2 233.4L514.2 235.1L514.2 236.7L514.3 238.4L514.3 240.0L514.4 241.7L514.4 243.4L514.4 245.0L514.5 246.7L514.5 248.4L514.5 250.0L514.6 251.7L514.8 253.3L515.0 255.0L515.2 256.7L515.3 258.3L515.3 260.0L515.2 261.7L515.0 263.3L514.6 265.0L514.1 266.6L514.0 266.9ZM383.3 53.9L383.9 53.9L385.5 53.9L387.2 54.0L388.9 54.0L390.5 54.0L392.2 54.0L393.9 54.1L395.5 54.1L397.2 54.1L398.9 54.2L400.5 54.2L402.2 54.2L403.9 54.2L405.6 54.3L407.2 54.3L408.9 54.3L410.6 54.3L412.2 54.3L413.9 54.4L415.6 54.4L417.2 54.4L418.9 54.4L420.6 54.5L422.2 54.5L423.9 54.5L425.6 54.4L427.2 54.4L428.9 54.4L430.6 54.3L432.2 54.3L433.9 54.3L435.6 54.2L437.3 54.2L438.9 54.1L440.6 54.1L442.3 54.0L443.8 53.9L443.9 53.9L445.6 53.8L447.3 53.7L448.9 53.6L450.6 53.4L452.3 53.2L453.9 53.1L455.6 52.9L457.3 52.6L458.9 52.4L459.8 52.2L460.6 52.1L462.3 51.9L464.0 51.6L465.6 51.3L467.3 51.0L469.0 50.6L469.3 50.6L470.6 50.3L472.3 50.0L474.0 49.7L475.6 49.4L477.3 49.1L478.2 48.9L479.0 48.8L480.6 48.5L482.3 48.3L484.0 48.0L485.6 47.8L487.3 47.6L489.0 47.4L490.6 47.3L491.4 47.3L492.3 47.2L494.0 47.2L495.7 47.2L497.3 47.2L498.5 47.3L499.0 47.3L500.7 47.4L502.3 47.6L504.0 47.8L505.7 48.1L507.3 48.2L509.0 48.2L510.5 47.3L510.7 47.0L511.3 45.6L511.7 43.9L512.0 42.3L512.3 40.6L512.3 39.7L512.4 38.9L512.5 37.3L512.4 35.6L512.3 35.4L512.1 34.0L511.9 32.3L511.7 30.6L511.7 29.0L511.9 27.3L512.1 25.6L512.3 24.7L512.5 24.0L513.0 22.3L513.6 20.7L514.0 19.8L514.4 19.0L514.0 19.0L512.3 19.0L510.7 19.0L509.0 19.0L507.3 19.0L505.7 19.0L504.0 19.0L502.3 19.0L500.7 19.0L499.0 19.0L497.3 19.0L495.7 19.0L494.0 19.0L492.3 19.0L490.6 19.0L489.0 19.0L487.3 19.0L485.6 19.0L484.0 19.0L482.3 19.0L480.6 19.0L479.0 19.0L477.3 19.0L475.6 19.0L474.0 19.0L472.3 19.0L470.6 19.0L469.0 19.0L467.3 19.0L465.6 19.0L464.0 19.0L462.3 19.0L460.6 19.0L458.9 19.0L457.3 19.0L455.6 19.0L453.9 19.0L452.3 19.0L450.6 19.0L448.9 19.0L447.3 19.0L445.6 19.0L443.9 19.0L442.3 19.0L440.6 19.0L438.9 19.0L437.3 19.0L435.6 19.0L433.9 19.0L432.2 19.0L430.6 19.0L428.9 19.0L427.2 19.0L425.6 19.0L423.9 19.0L422.2 19.0L420.6 19.0L418.9 19.0L417.2 19.0L415.6 19.0L413.9 19.0L412.2 19.0L410.6 19.0L408.9 19.0L407.2 19.0L405.6 19.0L403.9 19.0L402.2 19.0L400.5 19.0L398.9 19.0L397.2 19.0L395.5 19.0L393.9 19.0L392.2 19.0L390.5 19.0L388.9 19.0L387.2 19.0L385.5 19.0L383.9 19.0L382.2 19.0L380.5 19.0L378.9 19.0L377.2 19.0L375.5 19.0L373.8 19.0L372.2 19.0L370.5 19.0L368.8 19.0L367.2 19.0L365.5 19.0L363.8 19.0L362.2 19.0L360.5 19.0L358.8 19.0L357.2 19.0L355.5 19.0L353.8 19.0L352.2 19.0L350.5 19.0L348.8 19.0L347.2 19.0L345.5 19.0L343.8 19.0L342.1 19.0L340.5 19.0L338.8 19.0L337.1 19.0L335.5 19.0L333.8 19.0L332.1 19.0L330.5 19.0L330.5 20.7L330.5 22.3L330.5 24.0L330.5 25.6L330.5 27.3L330.5 29.0L330.5 30.6L330.5 32.3L330.5 34.0L330.5 35.6L330.5 37.3L330.5 38.9L330.5 40.6L330.5 42.3L330.5 43.9L330.5 45.6L330.5 47.3L330.5 48.9L330.5 50.6L330.5 52.2L330.5 52.9L332.1 52.8L333.8 52.7L335.5 52.7L337.1 52.7L338.8 52.8L340.5 52.9L342.1 53.0L343.8 53.1L345.5 53.2L347.2 53.3L348.8 53.4L350.5 53.4L352.2 53.5L353.8 53.5L355.5 53.5L357.2 53.6L358.8 53.6L360.5 53.6L362.2 53.7L363.8 53.7L365.5 53.7L367.2 53.7L368.8 53.8L370.5 53.8L372.2 53.8L373.8 53.8L375.5 53.8L377.2 53.8L378.9 53.9L380.5 53.9L382.2 53.9Z"/>
<path fill="rgb(255,242,242)" fill-rule="evenodd" d="M330.5 268.3L332.1 268.3L333.8 268.3L335.5 268.3L337.1 268.3L338.8 268.3L339.8 268.3L338.8 268.0L337.1 267.6L335.5 267.3L333.8 266.9L332.3 266.6L332.1 266.6L330.5 266.4L330.5 266.6ZM536.2 268.3L537.4 268.3L539.0 268.3L540.7 268.3L542.4 268.3L544.0 268.3L545.7 268.3L547.4 268.3L549.0 268.3L550.7 268.3L552.4 268.3L554.1 268.3L555.7 268.3L557.4 268.3L559.1 268.3L560.7 268.3L562.4 268.3L564.1 268.3L565.7 268.3L567.4 268.3L569.1 268.3L570.7 268.3L572.4 268.3L574.1 268.3L575.7 268.3L577.4 268.3L579.1 268.3L580.8 268.3L582.4 268.3L584.1 268.3L585.8 268.3L587.4 268.3L589.1 268.3L590.8 268.3L592.4 268.3L594.1 268.3L595.8 268.3L597.4 268.3L599.1 268.3L600.8 268.3L602.4 268.3L604.1 268.3L605.8 268.3L607.4 268.3L609.1 268.3L610.8 268.3L612.5 268.3L614.1 268.3L615.8 268.3L617.5 268.3L619.1 268.3L620.8 268.3L622.5 268.3L622.5 266.6L622.5 265.0L622.5 263.3L622.5 261.7L622.5 260.0L622.5 258.3L622.5 256.7L622.5 255.0L622.5 253.3L622.5 251.7L622.5 250.0L622.5 248.4L622.5 246.7L622.5 245.0L622.5 243.4L622.5 241.7L622.5 240.0L622.5 238.4L622.5 236.7L622.5 235.1L622.5 233.4L622.5 231.7L622.5 230.1L622.5 228.4L622.5 226.8L622.5 225.5L620.8 225.7L619.1 226.0L617.5 226.2L615.8 226.4L614.1 226.5L612.5 226.6L610.8 226.7L610.4 226.8L609.1 226.8L607.4 226.9L605.8 227.0L604.1 227.1L602.4 227.2L600.8 227.3L599.1 227.5L597.4 227.7L595.8 228.0L594.1 228.3L593.4 228.4L592.4 228.6L590.8 228.9L589.1 229.3L587.4 229.7L586.1 230.1L585.8 230.2L584.1 230.6L582.4 231.1L580.8 231.7L580.6 231.7L579.1 232.2L577.4 232.8L575.7 233.4L575.7 233.4L574.1 234.0L572.4 234.7L571.5 235.1L570.7 235.4L569.1 236.1L567.7 236.7L567.4 236.9L565.7 237.7L564.4 238.4L564.1 238.6L562.4 239.5L561.4 240.0L560.7 240.5L559.1 241.5L558.7 241.7L557.4 242.6L556.2 243.4L555.7 243.7L554.1 245.0L554.0 245.0L552.4 246.4L552.0 246.7L550.7 247.9L550.2 248.4L549.0 249.6L548.6 250.0L547.4 251.4L547.2 251.7L545.8 253.3L545.7 253.5L544.6 255.0L544.0 255.8L543.5 256.7L542.4 258.3L542.4 258.4L541.4 260.0L540.7 261.1L540.4 261.7L539.4 263.3L539.0 263.9L538.4 265.0L537.4 266.5L537.3 266.6ZM330.5 48.9L330.5 49.7L332.1 49.6L333.8 49.5L335.5 49.5L337.1 49.5L338.8 49.6L340.5 49.6L342.1 49.7L343.8 49.8L345.5 49.9L347.2 49.9L348.8 49.9L350.5 49.9L352.2 50.0L353.8 49.9L355.5 49.9L357.2 49.9L358.8 49.9L360.5 49.8L362.2 49.8L363.8 49.8L365.5 49.7L367.2 49.7L368.8 49.6L370.5 49.6L372.2 49.5L373.8 49.5L375.5 49.4L377.2 49.4L378.9 49.3L380.5 49.2L382.2 49.2L383.9 49.1L385.5 49.1L387.2 49.0L388.9 48.9L388.9 48.9L390.5 48.8L392.2 48.8L393.9 48.7L395.5 48.6L397.2 48.5L398.9 48.5L400.5 48.4L402.2 48.3L403.9 48.2L405.6 48.1L407.2 48.0L408.9 47.9L410.6 47.8L412.2 47.7L413.9 47.6L415.6 47.5L417.2 47.4L418.9 47.3L420.4 47.3L420.6 47.2L422.2 47.1L423.9 47.0L425.6 46.8L427.2 46.7L428.9 46.5L430.6 46.4L432.2 46.2L433.9 46.1L435.6 45.9L437.3 45.7L438.3 45.6L438.9 45.5L440.6 45.3L442.3 45.1L443.9 44.9L445.6 44.6L447.3 44.3L448.9 44.0L449.4 43.9L450.6 43.7L452.3 43.3L453.9 42.9L455.6 42.5L456.3 42.3L457.3 42.0L458.9 41.5L460.6 41.0L461.7 40.6L462.3 40.4L464.0 39.8L465.6 39.1L466.1 38.9L467.3 38.4L469.0 37.7L470.0 37.3L470.6 37.0L472.3 36.3L473.6 35.6L474.0 35.4L475.6 34.6L476.8 34.0L477.3 33.7L479.0 32.7L479.7 32.3L480.6 31.7L482.3 30.7L482.4 30.6L484.0 29.7L485.0 29.0L485.6 28.6L487.3 27.4L487.5 27.3L489.0 26.3L489.8 25.6L490.6 25.1L492.1 24.0L492.3 23.8L494.0 22.6L494.3 22.3L495.7 21.2L496.2 20.7L497.3 19.7L498.1 19.0L497.3 19.0L495.7 19.0L494.0 19.0L492.3 19.0L490.6 19.0L489.0 19.0L487.3 19.0L485.6 19.0L484.0 19.0L482.3 19.0L480.6 19.0L479.0 19.0L477.3 19.0L475.6 19.0L474.0 19.0L472.3 19.0L470.6 19.0L469.0 19.0L467.3 19.0L465.6 19.0L464.0 19.0L462.3 19.0L460.6 19.0L458.9 19.0L457.3 19.0L455.6 19.0L453.9 19.0L452.3 19.0L450.6 19.0L448.9 19.0L447.3 19.0L445.6 19.0L443.9 19.0L442.3 19.0L440.6 19.0L438.9 19.0L437.3 19.0L435.6 19.0L433.9 19.0L432.2 19.0L430.6 19.0L428.9 19.0L427.2 19.0L425.6 19.0L423.9 19.0L422.2 19.0L420.6 19.0L418.9 19.0L417.2 19.0L415.6 19.0L413.9 19.0L412.2 19.0L410.6 19.0L408.9 19.0L407.2 19.0L405.6 19.0L403.9 19.0L402.2 19.0L400.5 19.0L398.9 19.0L397.2 19.0L395.5 19.0L393.9 19.0L392.2 19.0L390.5 19.0L388.9 19.0L387.2 19.0L385.5 19.0L383.9 19.0L382.2 19.0L380.5 19.0L378.9 19.0L377.2 19.0L375.5 19.0L373.8 19.0L372.2 19.0L370.5 19.0L368.8 19.0L367.2 19.0L365.5 19.0L363.8 19.0L362.2 19.0L360.5 19.0L358.8 19.0L357.2 19.0L355.5 19.0L353.8 19.0L352.2 19.0L350.5 19.0L348.8 19.0L347.2 19.0L345.5 19.0L343.8 19.0L342.1 19.0L340.5 19.0L338.8 19.0L337.1 19.0L335.5 19.0L333.8 19.0L332.1 19.0L330.5 19.0L330.5 20.7L330.5 22.3L330.5 24.0L330.5 25.6L330.5 27.3L330.5 29.0L330.5 30.6L330.5 32.3L330.5 34.0L330.5 35.6L330.5 37.3L330.5 38.9L330.5 40.6L330.5 42.3L330.5 43.9L330.5 45.6L330.5 47.3Z"/>
<path fill="rgb(255,228,228)" fill-rule="evenodd" d="M553.4 268.3L554.1 268.3L555.7 268.3L557.4 268.3L559.1 268.3L560.7 268.3L562.4 268.3L564.1 268.3L565.7 268.3L567.4 268.3L569.1 268.3L570.7 268.3L572.4 268.3L574.1 268.3L575.7 268.3L577.4 268.3L579.1 268.3L580.8 268.3L582.4 268.3L584.1 268.3L585.8 268.3L587.4 268.3L589.1 268.3L590.8 268.3L592.4 268.3L594.1 268.3L595.8 268.3L597.4 268.3L599.1 268.3L600.8 268.3L602.4 268.3L604.1 268.3L605.8 268.3L607.4 268.3L609.1 268.3L610.8 268.3L612.5 268.3L614.1 268.3L615.8 268.3L617.5 268.3L619.1 268.3L620.8 268.3L622.5 268.3L622.5 266.6L622.5 265.0L622.5 263.3L622.5 261.7L622.5 260.0L622.5 258.3L622.5 256.7L622.5 255.0L622.5 253.3L622.5 251.7L622.5 250.0L622.5 248.4L622.5 246.7L622.5 245.0L622.5 243.4L622.5 241.7L622.5 240.0L622.5 238.4L622.5 237.2L620.8 237.4L619.1 237.6L617.5 237.7L615.8 237.9L614.1 238.0L612.5 238.1L610.8 238.2L609.1 238.3L607.7 238.4L607.4 238.4L605.8 238.6L604.1 238.8L602.4 239.0L600.8 239.4L599.1 239.7L597.9 240.0L597.4 240.2L595.8 240.6L594.1 241.1L592.4 241.7L592.4 241.7L590.8 242.3L589.1 242.9L587.9 243.4L587.4 243.6L585.8 244.3L584.1 245.0L584.0 245.0L582.4 245.8L580.8 246.6L580.5 246.7L579.1 247.4L577.4 248.2L577.2 248.4L575.7 249.1L574.1 250.0L574.1 250.0L572.4 251.0L571.3 251.7L570.7 252.0L569.1 253.1L568.6 253.3L567.4 254.2L566.3 255.0L565.7 255.4L564.2 256.7L564.1 256.8L562.4 258.3L562.4 258.3L560.7 259.9L560.7 260.0L559.1 261.7L559.1 261.7L557.6 263.3L557.4 263.6L556.2 265.0L555.7 265.5L554.8 266.6L554.1 267.5ZM330.5 45.6L330.5 47.1L332.1 47.0L333.8 46.9L335.5 46.8L337.1 46.8L338.8 46.8L340.5 46.8L342.1 46.8L343.8 46.9L345.5 46.9L347.2 46.9L348.8 46.9L350.5 46.9L352.2 46.8L353.8 46.8L355.5 46.7L357.2 46.6L358.8 46.6L360.5 46.5L362.2 46.4L363.8 46.3L365.5 46.2L367.2 46.1L368.8 46.0L370.5 45.9L372.2 45.8L373.8 45.7L375.5 45.6L375.8 45.6L377.2 45.5L378.9 45.4L380.5 45.3L382.2 45.2L383.9 45.1L385.5 44.9L387.2 44.8L388.9 44.7L390.5 44.5L392.2 44.4L393.9 44.2L395.5 44.1L397.2 43.9L397.2 43.9L398.9 43.8L400.5 43.6L402.2 43.5L403.9 43.3L405.6 43.1L407.2 43.0L408.9 42.8L410.6 42.6L412.2 42.5L413.9 42.3L414.1 42.3L415.6 42.1L417.2 42.0L418.9 41.8L420.6 41.6L422.2 41.4L423.9 41.3L425.6 41.1L427.2 40.9L428.9 40.7L429.5 40.6L430.6 40.5L432.2 40.3L433.9 40.1L435.6 39.9L437.3 39.6L438.9 39.4L440.6 39.1L441.7 38.9L442.3 38.9L443.9 38.6L445.6 38.2L447.3 37.9L448.9 37.5L449.7 37.3L450.6 37.0L452.3 36.6L453.9 36.1L455.3 35.6L455.6 35.5L457.3 34.9L458.9 34.3L459.8 34.0L460.6 33.6L462.3 32.9L463.5 32.3L464.0 32.1L465.6 31.2L466.7 30.6L467.3 30.3L469.0 29.3L469.6 29.0L470.6 28.3L472.2 27.3L472.3 27.3L474.0 26.1L474.7 25.6L475.6 24.9L477.0 24.0L477.3 23.7L479.0 22.4L479.1 22.3L480.6 21.1L481.2 20.7L482.3 19.8L483.4 19.0L482.3 19.0L480.6 19.0L479.0 19.0L477.3 19.0L475.6 19.0L474.0 19.0L472.3 19.0L470.6 19.0L469.0 19.0L467.3 19.0L465.6 19.0L464.0 19.0L462.3 19.0L460.6 19.0L458.9 19.0L457.3 19.0L455.6 19.0L453.9 19.0L452.3 19.0L450.6 19.0L448.9 19.0L447.3 19.0L445.6 19.0L443.9 19.0L442.3 19.0L440.6 19.0L438.9 19.0L437.3 19.0L435.6 19.0L433.9 19.0L432.2 19.0L430.6 19.0L428.9 19.0L427.2 19.0L425.6 19.0L423.9 19.0L422.2 19.0L420.6 19.0L418.9 19.0L417.2 19.0L415.6 19.0L413.9 19.0L412.2 19.0L410.6 19.0L408.9 19.0L407.2 19.0L405.6 19.0L403.9 19.0L402.2 19.0L400.5 19.0L398.9 19.0L397.2 19.0L395.5 19.0L393.9 19.0L392.2 19.0L390.5 19.0L388.9 19.0L387.2 19.0L385.5 19.0L383.9 19.0L382.2 19.0L380.5 19.0L378.9 19.0L377.2 19.0L375.5 19.0L373.8 19.0L372.2 19.0L370.5 19.0L368.8 19.0L367.2 19.0L365.5 19.0L363.8 19.0L362.2 19.0L360.5 19.0L358.8 19.0L357.2 19.0L355.5 19.0L353.8 19.0L352.2 19.0L350.5 19.0L348.8 19.0L347.2 19.0L345.5 19.0L343.8 19.0L342.1 19.0L340.5 19.0L338.8 19.0L337.1 19.0L335.5 19.0L333.8 19.0L332.1 19.0L330.5 19.0L330.5 20.7L330.5 22.3L330.5 24.0L330.5 25.6L330.5 27.3L330.5 29.0L330.5 30.6L330.5 32.3L330.5 34.0L330.5 35.6L330.5 37.3L330.5 38.9L330.5 40.6L330.5 42.3L330.5 43.9Z"/>
<path fill="rgb(255,215,215)" fill-rule="evenodd" d="M568.0 268.3L569.1 268.3L570.7 268.3L572.4 268.3L574.1 268.3L575.7 268.3L577.4 268.3L579.1 268.3L580.8 268.3L582.4 268.3L584.1 268.3L585.8 268.3L587.4 268.3L589.1 268.3L590.8 268.3L592.4 268.3L594.1 268.3L595.8 268.3L597.4 268.3L599.1 268.3L600.8 268.3L602.4 268.3L604.1 268.3L605.8 268.3L607.4 268.3L609.1 268.3L610.8 268.3L612.5 268.3L614.1 268.3L615.8 268.3L617.5 268.3L619.1 268.3L620.8 268.3L622.5 268.3L622.5 266.6L622.5 265.0L622.5 263.3L622.5 261.7L622.5 260.0L622.5 258.3L622.5 256.7L622.5 255.0L622.5 253.3L622.5 251.7L622.5 250.0L622.5 248.4L622.5 246.7L622.5 245.4L620.8 245.6L619.1 245.8L617.5 246.0L615.8 246.2L614.1 246.4L612.5 246.6L612.0 246.7L610.8 246.9L609.1 247.1L607.4 247.4L605.8 247.7L604.1 248.1L603.2 248.4L602.4 248.6L600.8 249.1L599.1 249.6L598.1 250.0L597.4 250.3L595.8 250.9L594.1 251.6L594.0 251.7L592.4 252.4L590.8 253.1L590.4 253.3L589.1 254.0L587.4 254.9L587.2 255.0L585.8 255.8L584.2 256.7L584.1 256.7L582.4 257.7L581.3 258.3L580.8 258.7L579.1 259.7L578.6 260.0L577.4 260.8L576.1 261.7L575.7 261.9L574.1 263.1L573.8 263.3L572.4 264.4L571.8 265.0L570.7 265.8L569.8 266.6L569.1 267.3ZM330.5 43.9L330.5 44.9L332.1 44.7L333.8 44.6L335.5 44.4L337.1 44.4L338.8 44.3L340.5 44.3L342.1 44.3L343.8 44.2L345.5 44.2L347.2 44.2L348.8 44.1L350.5 44.1L352.2 44.0L353.1 43.9L353.8 43.9L355.5 43.8L357.2 43.7L358.8 43.6L360.5 43.4L362.2 43.3L363.8 43.2L365.5 43.1L367.2 42.9L368.8 42.8L370.5 42.7L372.2 42.5L373.8 42.4L375.3 42.3L375.5 42.3L377.2 42.1L378.9 42.0L380.5 41.8L382.2 41.7L383.9 41.5L385.5 41.3L387.2 41.1L388.9 41.0L390.5 40.8L392.0 40.6L392.2 40.6L393.9 40.4L395.5 40.2L397.2 40.0L398.9 39.8L400.5 39.6L402.2 39.4L403.9 39.1L405.4 38.9L405.6 38.9L407.2 38.7L408.9 38.5L410.6 38.3L412.2 38.1L413.9 37.8L415.6 37.6L417.2 37.4L418.1 37.3L418.9 37.2L420.6 37.0L422.2 36.7L423.9 36.5L425.6 36.3L427.2 36.0L428.9 35.8L430.1 35.6L430.6 35.6L432.2 35.3L433.9 35.1L435.6 34.8L437.3 34.6L438.9 34.3L440.6 34.0L440.9 34.0L442.3 33.7L443.9 33.3L445.6 32.9L447.3 32.4L447.7 32.3L448.9 31.9L450.6 31.4L452.3 30.8L452.8 30.6L453.9 30.2L455.6 29.5L456.7 29.0L457.3 28.7L458.9 27.9L460.0 27.3L460.6 27.0L462.3 26.0L462.9 25.6L464.0 25.0L465.5 24.0L465.6 23.9L467.3 22.6L467.7 22.3L469.0 21.3L469.8 20.7L470.6 20.1L472.0 19.0L470.6 19.0L469.0 19.0L467.3 19.0L465.6 19.0L464.0 19.0L462.3 19.0L460.6 19.0L458.9 19.0L457.3 19.0L455.6 19.0L453.9 19.0L452.3 19.0L450.6 19.0L448.9 19.0L447.3 19.0L445.6 19.0L443.9 19.0L442.3 19.0L440.6 19.0L438.9 19.0L437.3 19.0L435.6 19.0L433.9 19.0L432.2 19.0L430.6 19.0L428.9 19.0L427.2 19.0L425.6 19.0L423.9 19.0L422.2 19.0L420.6 19.0L418.9 19.0L417.2 19.0L415.6 19.0L413.9 19.0L412.2 19.0L410.6 19.0L408.9 19.0L407.2 19.0L405.6 19.0L403.9 19.0L402.2 19.0L400.5 19.0L398.9 19.0L397.2 19.0L395.5 19.0L393.9 19.0L392.2 19.0L390.5 19.0L388.9 19.0L387.2 19.0L385.5 19.0L383.9 19.0L382.2 19.0L380.5 19.0L378.9 19.0L377.2 19.0L375.5 19.0L373.8 19.0L372.2 19.0L370.5 19.0L368.8 19.0L367.2 19.0L365.5 19.0L363.8 19.0L362.2 19.0L360.5 19.0L358.8 19.0L357.2 19.0L355.5 19.0L353.8 19.0L352.2 19.0L350.5 19.0L348.8 19.0L347.2 19.0L345.5 19.0L343.8 19.0L342.1 19.0L340.5 19.0L338.8 19.0L337.1 19.0L335.5 19.0L333.8 19.0L332.1 19.0L330.5 19.0L330.5 20.7L330.5 22.3L330.5 24.0L330.5 25.6L330.5 27.3L330.5 29.0L330.5 30.6L330.5 32.3L330.5 34.0L330.5 35.6L330.5 37.3L330.5 38.9L330.5 40.6L330.5 42.3Z"/>
<path fill="rgb(255,201,201)" fill-rule="evenodd" d="M581.9 268.3L582.4 268.3L584.1 268.3L585.8 268.3L587.4 268.3L589.1 268.3L590.8 268.3L592.4 268.3L594.1 268.3L595.8 268.3L597.4 268.3L599.1 268.3L600.8 268.3L602.4 268.3L604.1 268.3L605.8 268.3L607.4 268.3L609.1 268.3L610.8 268.3L612.5 268.3L614.1 268.3L615.8 268.3L617.5 268.3L619.1 268.3L620.8 268.3L622.5 268.3L622.5 266.6L622.5 265.0L622.5 263.3L622.5 261.7L622.5 260.0L622.5 258.3L622.5 256.7L622.5 255.0L622.5 253.3L622.5 252.3L620.8 252.5L619.1 252.8L617.5 253.0L615.8 253.3L615.5 253.3L614.1 253.6L612.5 253.9L610.8 254.2L609.1 254.6L607.7 255.0L607.4 255.1L605.8 255.6L604.1 256.1L602.6 256.7L602.4 256.7L600.8 257.4L599.1 258.1L598.5 258.3L597.4 258.8L595.8 259.5L594.8 260.0L594.1 260.3L592.4 261.2L591.6 261.7L590.8 262.1L589.1 263.2L588.8 263.3L587.4 264.2L586.3 265.0L585.8 265.4L584.1 266.6L584.0 266.6L582.4 267.9ZM330.5 42.3L330.5 42.7L332.1 42.5L333.8 42.4L334.8 42.3L335.5 42.2L337.1 42.1L338.8 42.0L340.5 41.9L342.1 41.9L343.8 41.8L345.5 41.8L347.2 41.7L348.8 41.6L350.5 41.5L352.2 41.4L353.8 41.2L355.5 41.1L357.2 41.0L358.8 40.8L360.5 40.7L361.1 40.6L362.2 40.5L363.8 40.4L365.5 40.2L367.2 40.1L368.8 39.9L370.5 39.7L372.2 39.6L373.8 39.4L375.5 39.2L377.2 39.1L378.2 38.9L378.9 38.9L380.5 38.7L382.2 38.5L383.9 38.3L385.5 38.1L387.2 37.9L388.9 37.7L390.5 37.4L391.7 37.3L392.2 37.2L393.9 37.0L395.5 36.8L397.2 36.5L398.9 36.3L400.5 36.0L402.2 35.8L403.1 35.6L403.9 35.5L405.6 35.2L407.2 35.0L408.9 34.7L410.6 34.5L412.2 34.2L413.7 34.0L413.9 33.9L415.6 33.7L417.2 33.4L418.9 33.2L420.6 32.9L422.2 32.7L423.9 32.4L424.6 32.3L425.6 32.1L427.2 31.9L428.9 31.6L430.6 31.3L432.2 31.0L433.9 30.7L434.1 30.6L435.6 30.4L437.3 30.0L438.9 29.7L440.6 29.3L441.7 29.0L442.3 28.8L443.9 28.3L445.6 27.8L446.8 27.3L447.3 27.1L448.9 26.4L450.6 25.7L450.6 25.6L452.3 24.8L453.9 24.0L453.9 23.9L455.6 22.9L456.6 22.3L457.3 21.8L458.9 20.7L459.0 20.7L460.6 19.5L461.3 19.0L460.6 19.0L458.9 19.0L457.3 19.0L455.6 19.0L453.9 19.0L452.3 19.0L450.6 19.0L448.9 19.0L447.3 19.0L445.6 19.0L443.9 19.0L442.3 19.0L440.6 19.0L438.9 19.0L437.3 19.0L435.6 19.0L433.9 19.0L432.2 19.0L430.6 19.0L428.9 19.0L427.2 19.0L425.6 19.0L423.9 19.0L422.2 19.0L420.6 19.0L418.9 19.0L417.2 19.0L415.6 19.0L413.9 19.0L412.2 19.0L410.6 19.0L408.9 19.0L407.2 19.0L405.6 19.0L403.9 19.0L402.2 19.0L400.5 19.0L398.9 19.0L397.2 19.0L395.5 19.0L393.9 19.0L392.2 19.0L390.5 19.0L388.9 19.0L387.2 19.0L385.5 19.0L383.9 19.0L382.2 19.0L380.5 19.0L378.9 19.0L377.2 19.0L375.5 19.0L373.8 19.0L372.2 19.0L370.5 19.0L368.8 19.0L367.2 19.0L365.5 19.0L363.8 19.0L362.2 19.0L360.5 19.0L358.8 19.0L357.2 19.0L355.5 19.0L353.8 19.0L352.2 19.0L350.5 19.0L348.8 19.0L347.2 19.0L345.5 19.0L343.8 19.0L342.1 19.0L340.5 19.0L338.8 19.0L337.1 19.0L335.5 19.0L333.8 19.0L332.1 19.0L330.5 19.0L330.5 20.7L330.5 22.3L330.5 24.0L330.5 25.6L330.5 27.3L330.5 29.0L330.5 30.6L330.5 32.3L330.5 34.0L330.5 35.6L330.5 37.3L330.5 38.9L330.5 40.6Z"/>
<path fill="rgb(255,188,188)" fill-rule="evenodd" d="M594.2 268.3L595.8 268.3L597.4 268.3L599.1 268.3L600.8 268.3L602.4 268.3L604.1 268.3L605.8 268.3L607.4 268.3L609.1 268.3L610.8 268.3L612.5 268.3L614.1 268.3L615.8 268.3L617.5 268.3L619.1 268.3L620.8 268.3L622.5 268.3L622.5 266.6L622.5 265.0L622.5 263.3L622.5 261.7L622.5 260.0L622.5 258.5L620.8 258.7L619.1 259.0L617.5 259.3L615.8 259.6L614.1 259.9L613.8 260.0L612.5 260.3L610.8 260.7L609.1 261.2L607.8 261.7L607.4 261.8L605.8 262.3L604.1 263.0L603.4 263.3L602.4 263.7L600.8 264.5L599.9 265.0L599.1 265.4L597.4 266.3L596.8 266.6L595.8 267.3ZM330.5 40.6L330.5 40.7L330.8 40.6L332.1 40.5L333.8 40.3L335.5 40.1L337.1 39.9L338.8 39.8L340.5 39.7L342.1 39.6L343.8 39.5L345.5 39.4L347.2 39.3L348.8 39.2L350.5 39.1L351.9 38.9L352.2 38.9L353.8 38.8L355.5 38.6L357.2 38.5L358.8 38.3L360.5 38.1L362.2 37.9L363.8 37.8L365.5 37.6L367.2 37.4L368.2 37.3L368.8 37.2L370.5 37.0L372.2 36.9L373.8 36.7L375.5 36.5L377.2 36.3L378.9 36.1L380.5 35.8L382.2 35.6L382.2 35.6L383.9 35.4L385.5 35.2L387.2 34.9L388.9 34.7L390.5 34.4L392.2 34.2L393.5 34.0L393.9 33.9L395.5 33.6L397.2 33.4L398.9 33.1L400.5 32.8L402.2 32.5L403.6 32.3L403.9 32.2L405.6 32.0L407.2 31.7L408.9 31.4L410.6 31.1L412.2 30.8L413.0 30.6L413.9 30.5L415.6 30.2L417.2 29.9L418.9 29.7L420.6 29.4L422.2 29.1L422.9 29.0L423.9 28.8L425.6 28.5L427.2 28.2L428.9 27.8L430.6 27.4L431.1 27.3L432.2 27.0L433.9 26.6L435.6 26.2L437.3 25.7L437.5 25.6L438.9 25.2L440.6 24.7L442.3 24.0L442.4 24.0L443.9 23.3L445.6 22.4L445.8 22.3L447.3 21.5L448.6 20.7L448.9 20.5L450.6 19.5L451.3 19.0L450.6 19.0L448.9 19.0L447.3 19.0L445.6 19.0L443.9 19.0L442.3 19.0L440.6 19.0L438.9 19.0L437.3 19.0L435.6 19.0L433.9 19.0L432.2 19.0L430.6 19.0L428.9 19.0L427.2 19.0L425.6 19.0L423.9 19.0L422.2 19.0L420.6 19.0L418.9 19.0L417.2 19.0L415.6 19.0L413.9 19.0L412.2 19.0L410.6 19.0L408.9 19.0L407.2 19.0L405.6 19.0L403.9 19.0L402.2 19.0L400.5 19.0L398.9 19.0L397.2 19.0L395.5 19.0L393.9 19.0L392.2 19.0L390.5 19.0L388.9 19.0L387.2 19.0L385.5 19.0L383.9 19.0L382.2 19.0L380.5 19.0L378.9 19.0L377.2 19.0L375.5 19.0L373.8 19.0L372.2 19.0L370.5 19.0L368.8 19.0L367.2 19.0L365.5 19.0L363.8 19.0L362.2 19.0L360.5 19.0L358.8 19.0L357.2 19.0L355.5 19.0L353.8 19.0L352.2 19.0L350.5 19.0L348.8 19.0L347.2 19.0L345.5 19.0L343.8 19.0L342.1 19.0L340.5 19.0L338.8 19.0L337.1 19.0L335.5 19.0L333.8 19.0L332.1 19.0L330.5 19.0L330.5 20.7L330.5 22.3L330.5 24.0L330.5 25.6L330.5 27.3L330.5 29.0L330.5 30.6L330.5 32.3L330.5 34.0L330.5 35.6L330.5 37.3L330.5 38.9Z"/>
<path fill="rgb(255,174,174)" fill-rule="evenodd" d="M607.8 268.3L609.1 268.3L610.8 268.3L612.5 268.3L614.1 268.3L615.8 268.3L617.5 268.3L619.1 268.3L620.8 268.3L622.5 268.3L622.5 266.6L622.5 265.0L622.5 264.4L620.8 264.6L619.1 264.9L618.8 265.0L617.5 265.2L615.8 265.6L614.1 266.1L612.5 266.6L612.2 266.6L610.8 267.1L609.1 267.7ZM330.5 37.3L330.5 38.7L332.1 38.5L333.8 38.3L335.5 38.1L337.1 37.9L338.8 37.8L340.5 37.6L342.1 37.5L343.8 37.4L345.1 37.3L345.5 37.3L347.2 37.1L348.8 37.0L350.5 36.8L352.2 36.7L353.8 36.5L355.5 36.3L357.2 36.1L358.8 35.9L360.5 35.7L361.5 35.6L362.2 35.5L363.8 35.3L365.5 35.2L367.2 35.0L368.8 34.8L370.5 34.6L372.2 34.4L373.8 34.1L375.3 34.0L375.5 33.9L377.2 33.7L378.9 33.5L380.5 33.2L382.2 33.0L383.9 32.7L385.5 32.5L386.8 32.3L387.2 32.2L388.9 32.0L390.5 31.7L392.2 31.4L393.9 31.1L395.5 30.8L396.5 30.6L397.2 30.5L398.9 30.2L400.5 29.9L402.2 29.6L403.9 29.3L405.6 29.0L405.8 29.0L407.2 28.7L408.9 28.4L410.6 28.1L412.2 27.7L413.9 27.4L414.3 27.3L415.6 27.1L417.2 26.8L418.9 26.5L420.6 26.2L422.2 25.9L423.3 25.6L423.9 25.5L425.6 25.2L427.2 24.8L428.9 24.3L430.0 24.0L430.6 23.8L432.2 23.3L433.9 22.7L435.0 22.3L435.6 22.1L437.3 21.4L438.9 20.7L439.0 20.7L440.6 19.9L442.3 19.0L442.3 19.0L442.3 19.0L440.6 19.0L438.9 19.0L437.3 19.0L435.6 19.0L433.9 19.0L432.2 19.0L430.6 19.0L428.9 19.0L427.2 19.0L425.6 19.0L423.9 19.0L422.2 19.0L420.6 19.0L418.9 19.0L417.2 19.0L415.6 19.0L413.9 19.0L412.2 19.0L410.6 19.0L408.9 19.0L407.2 19.0L405.6 19.0L403.9 19.0L402.2 19.0L400.5 19.0L398.9 19.0L397.2 19.0L395.5 19.0L393.9 19.0L392.2 19.0L390.5 19.0L388.9 19.0L387.2 19.0L385.5 19.0L383.9 19.0L382.2 19.0L380.5 19.0L378.9 19.0L377.2 19.0L375.5 19.0L373.8 19.0L372.2 19.0L370.5 19.0L368.8 19.0L367.2 19.0L365.5 19.0L363.8 19.0L362.2 19.0L360.5 19.0L358.8 19.0L357.2 19.0L355.5 19.0L353.8 19.0L352.2 19.0L350.5 19.0L348.8 19.0L347.2 19.0L345.5 19.0L343.8 19.0L342.1 19.0L340.5 19.0L338.8 19.0L337.1 19.0L335.5 19.0L333.8 19.0L332.1 19.0L330.5 19.0L330.5 20.7L330.5 22.3L330.5 24.0L330.5 25.6L330.5 27.3L330.5 29.0L330.5 30.6L330.5 32.3L330.5 34.0L330.5 35.6Z"/>
<path fill="rgb(255,161,161)" fill-rule="evenodd" d="M330.5 35.6L330.5 36.8L332.1 36.5L333.8 36.3L335.5 36.2L337.1 36.0L338.8 35.8L340.5 35.7L341.1 35.6L342.1 35.5L343.8 35.4L345.5 35.2L347.2 35.1L348.8 34.9L350.5 34.7L352.2 34.5L353.8 34.4L355.5 34.2L357.1 34.0L357.2 34.0L358.8 33.8L360.5 33.5L362.2 33.3L363.8 33.1L365.5 32.9L367.2 32.7L368.8 32.5L370.3 32.3L370.5 32.3L372.2 32.1L373.8 31.8L375.5 31.6L377.2 31.4L378.9 31.1L380.5 30.8L381.7 30.6L382.2 30.6L383.9 30.3L385.5 30.1L387.2 29.8L388.9 29.5L390.5 29.2L391.7 29.0L392.2 28.9L393.9 28.6L395.5 28.2L397.2 27.9L398.9 27.6L400.4 27.3L400.5 27.3L402.2 27.0L403.9 26.7L405.6 26.3L407.2 26.0L408.9 25.6L408.9 25.6L410.6 25.3L412.2 24.9L413.9 24.6L415.6 24.2L416.7 24.0L417.2 23.9L418.9 23.6L420.6 23.2L422.2 22.8L423.9 22.4L424.3 22.3L425.6 22.0L427.2 21.5L428.9 20.9L429.7 20.7L430.6 20.3L432.2 19.6L433.7 19.0L432.2 19.0L430.6 19.0L428.9 19.0L427.2 19.0L425.6 19.0L423.9 19.0L422.2 19.0L420.6 19.0L418.9 19.0L417.2 19.0L415.6 19.0L413.9 19.0L412.2 19.0L410.6 19.0L408.9 19.0L407.2 19.0L405.6 19.0L403.9 19.0L402.2 19.0L400.5 19.0L398.9 19.0L397.2 19.0L395.5 19.0L393.9 19.0L392.2 19.0L390.5 19.0L388.9 19.0L387.2 19.0L385.5 19.0L383.9 19.0L382.2 19.0L380.5 19.0L378.9 19.0L377.2 19.0L375.5 19.0L373.8 19.0L372.2 19.0L370.5 19.0L368.8 19.0L367.2 19.0L365.5 19.0L363.8 19.0L362.2 19.0L360.5 19.0L358.8 19.0L357.2 19.0L355.5 19.0L353.8 19.0L352.2 19.0L350.5 19.0L348.8 19.0L347.2 19.0L345.5 19.0L343.8 19.0L342.1 19.0L340.5 19.0L338.8 19.0L337.1 19.0L335.5 19.0L333.8 19.0L332.1 19.0L330.5 19.0L330.5 20.7L330.5 22.3L330.5 24.0L330.5 25.6L330.5 27.3L330.5 29.0L330.5 30.6L330.5 32.3L330.5 34.0Z"/>
<path fill="rgb(255,148,148)" fill-rule="evenodd" d="M330.5 34.0L330.5 34.9L332.1 34.7L333.8 34.5L335.5 34.3L337.1 34.2L338.8 34.0L339.3 34.0L340.5 33.8L342.1 33.7L343.8 33.5L345.5 33.3L347.2 33.1L348.8 32.9L350.5 32.7L352.2 32.6L353.8 32.4L354.3 32.3L355.5 32.2L357.2 31.9L358.8 31.7L360.5 31.5L362.2 31.3L363.8 31.0L365.5 30.8L366.8 30.6L367.2 30.6L368.8 30.4L370.5 30.2L372.2 29.9L373.8 29.7L375.5 29.4L377.2 29.2L378.3 29.0L378.9 28.9L380.5 28.6L382.2 28.3L383.9 28.1L385.5 27.8L387.2 27.5L388.3 27.3L388.9 27.2L390.5 26.9L392.2 26.6L393.9 26.2L395.5 25.9L396.6 25.6L397.2 25.5L398.9 25.2L400.5 24.9L402.2 24.5L403.9 24.2L404.8 24.0L405.6 23.8L407.2 23.5L408.9 23.1L410.6 22.7L412.1 22.3L412.2 22.3L413.9 21.9L415.6 21.5L417.2 21.1L418.9 20.7L419.2 20.7L420.6 20.3L422.2 19.9L423.9 19.4L425.2 19.0L423.9 19.0L422.2 19.0L420.6 19.0L418.9 19.0L417.2 19.0L415.6 19.0L413.9 19.0L412.2 19.0L410.6 19.0L408.9 19.0L407.2 19.0L405.6 19.0L403.9 19.0L402.2 19.0L400.5 19.0L398.9 19.0L397.2 19.0L395.5 19.0L393.9 19.0L392.2 19.0L390.5 19.0L388.9 19.0L387.2 19.0L385.5 19.0L383.9 19.0L382.2 19.0L380.5 19.0L378.9 19.0L377.2 19.0L375.5 19.0L373.8 19.0L372.2 19.0L370.5 19.0L368.8 19.0L367.2 19.0L365.5 19.0L363.8 19.0L362.2 19.0L360.5 19.0L358.8 19.0L357.2 19.0L355.5 19.0L353.8 19.0L352.2 19.0L350.5 19.0L348.8 19.0L347.2 19.0L345.5 19.0L343.8 19.0L342.1 19.0L340.5 19.0L338.8 19.0L337.1 19.0L335.5 19.0L333.8 19.0L332.1 19.0L330.5 19.0L330.5 20.7L330.5 22.3L330.5 24.0L330.5 25.6L330.5 27.3L330.5 29.0L330.5 30.6L330.5 32.3Z"/>
<path fill="rgb(255,134,134)" fill-rule="evenodd" d="M330.5 32.3L330.5 33.2L332.1 33.0L333.8 32.8L335.5 32.6L337.1 32.5L338.7 32.3L338.8 32.3L340.5 32.1L342.1 31.9L343.8 31.7L345.5 31.5L347.2 31.3L348.8 31.1L350.5 30.9L352.2 30.7L352.7 30.6L353.8 30.5L355.5 30.3L357.2 30.1L358.8 29.8L360.5 29.6L362.2 29.3L363.8 29.1L364.6 29.0L365.5 28.9L367.2 28.6L368.8 28.4L370.5 28.2L372.2 28.0L373.8 27.7L375.5 27.4L376.2 27.3L377.2 27.1L378.9 26.8L380.5 26.6L382.2 26.3L383.9 26.0L385.5 25.7L385.7 25.6L387.2 25.4L388.9 25.1L390.5 24.7L392.2 24.4L393.9 24.0L393.9 24.0L395.5 23.6L397.2 23.3L398.9 22.9L400.5 22.6L401.6 22.3L402.2 22.2L403.9 21.8L405.6 21.4L407.2 21.0L408.8 20.7L408.9 20.6L410.6 20.2L412.2 19.8L413.9 19.3L415.1 19.0L413.9 19.0L412.2 19.0L410.6 19.0L408.9 19.0L407.2 19.0L405.6 19.0L403.9 19.0L402.2 19.0L400.5 19.0L398.9 19.0L397.2 19.0L395.5 19.0L393.9 19.0L392.2 19.0L390.5 19.0L388.9 19.0L387.2 19.0L385.5 19.0L383.9 19.0L382.2 19.0L380.5 19.0L378.9 19.0L377.2 19.0L375.5 19.0L373.8 19.0L372.2 19.0L370.5 19.0L368.8 19.0L367.2 19.0L365.5 19.0L363.8 19.0L362.2 19.0L360.5 19.0L358.8 19.0L357.2 19.0L355.5 19.0L353.8 19.0L352.2 19.0L350.5 19.0L348.8 19.0L347.2 19.0L345.5 19.0L343.8 19.0L342.1 19.0L340.5 19.0L338.8 19.0L337.1 19.0L335.5 19.0L333.8 19.0L332.1 19.0L330.5 19.0L330.5 20.7L330.5 22.3L330.5 24.0L330.5 25.6L330.5 27.3L330.5 29.0L330.5 30.6Z"/>
<path fill="rgb(255,121,121)" fill-rule="evenodd" d="M330.5 30.6L330.5 31.6L332.1 31.4L333.8 31.2L335.5 31.0L337.1 30.9L338.8 30.7L339.1 30.6L340.5 30.5L342.1 30.3L343.8 30.0L345.5 29.8L347.2 29.6L348.8 29.4L350.5 29.2L352.1 29.0L352.2 29.0L353.8 28.8L355.5 28.5L357.2 28.3L358.8 28.1L360.5 27.8L362.2 27.5L363.5 27.3L363.8 27.3L365.5 27.0L367.2 26.8L368.8 26.6L370.5 26.3L372.2 26.1L373.8 25.8L374.8 25.6L375.5 25.5L377.2 25.2L378.9 24.9L380.5 24.6L382.2 24.3L383.8 24.0L383.9 24.0L385.5 23.7L387.2 23.3L388.9 23.0L390.5 22.6L391.9 22.3L392.2 22.3L393.9 21.9L395.5 21.5L397.2 21.1L398.9 20.7L399.1 20.7L400.5 20.3L402.2 19.9L403.9 19.5L405.6 19.1L405.9 19.0L405.6 19.0L403.9 19.0L402.2 19.0L400.5 19.0L398.9 19.0L397.2 19.0L395.5 19.0L393.9 19.0L392.2 19.0L390.5 19.0L388.9 19.0L387.2 19.0L385.5 19.0L383.9 19.0L382.2 19.0L380.5 19.0L378.9 19.0L377.2 19.0L375.5 19.0L373.8 19.0L372.2 19.0L370.5 19.0L368.8 19.0L367.2 19.0L365.5 19.0L363.8 19.0L362.2 19.0L360.5 19.0L358.8 19.0L357.2 19.0L355.5 19.0L353.8 19.0L352.2 19.0L350.5 19.0L348.8 19.0L347.2 19.0L345.5 19.0L343.8 19.0L342.1 19.0L340.5 19.0L338.8 19.0L337.1 19.0L335.5 19.0L333.8 19.0L332.1 19.0L330.5 19.0L330.5 20.7L330.5 22.3L330.5 24.0L330.5 25.6L330.5 27.3L330.5 29.0Z"/>
<path fill="rgb(255,107,107)" fill-rule="evenodd" d="M330.5 29.0L330.5 30.0L332.1 29.9L333.8 29.7L335.5 29.5L337.1 29.3L338.8 29.1L340.1 29.0L340.5 28.9L342.1 28.7L343.8 28.5L345.5 28.2L347.2 28.0L348.8 27.8L350.5 27.5L352.2 27.3L352.2 27.3L353.8 27.1L355.5 26.9L357.2 26.6L358.8 26.4L360.5 26.1L362.2 25.8L363.2 25.6L363.8 25.5L365.5 25.3L367.2 25.1L368.8 24.8L370.5 24.6L372.2 24.3L373.8 24.0L374.0 24.0L375.5 23.7L377.2 23.4L378.9 23.1L380.5 22.7L382.2 22.4L382.6 22.3L383.9 22.1L385.5 21.7L387.2 21.4L388.9 21.0L390.3 20.7L390.5 20.6L392.2 20.2L393.9 19.8L395.5 19.4L397.1 19.0L395.5 19.0L393.9 19.0L392.2 19.0L390.5 19.0L388.9 19.0L387.2 19.0L385.5 19.0L383.9 19.0L382.2 19.0L380.5 19.0L378.9 19.0L377.2 19.0L375.5 19.0L373.8 19.0L372.2 19.0L370.5 19.0L368.8 19.0L367.2 19.0L365.5 19.0L363.8 19.0L362.2 19.0L360.5 19.0L358.8 19.0L357.2 19.0L355.5 19.0L353.8 19.0L352.2 19.0L350.5 19.0L348.8 19.0L347.2 19.0L345.5 19.0L343.8 19.0L342.1 19.0L340.5 19.0L338.8 19.0L337.1 19.0L335.5 19.0L333.8 19.0L332.1 19.0L330.5 19.0L330.5 20.7L330.5 22.3L330.5 24.0L330.5 25.6L330.5 27.3Z"/>
<path fill="rgb(255,94,94)" fill-rule="evenodd" d="M330.5 27.3L330.5 28.6L332.1 28.4L333.8 28.2L335.5 28.1L337.1 27.9L338.8 27.7L340.5 27.5L341.4 27.3L342.1 27.2L343.8 27.0L345.5 26.7L347.2 26.4L348.8 26.2L350.5 26.0L352.2 25.8L352.9 25.6L353.8 25.5L355.5 25.3L357.2 25.0L358.8 24.8L360.5 24.5L362.2 24.2L363.3 24.0L363.8 23.9L365.5 23.6L367.2 23.4L368.8 23.1L370.5 22.9L372.2 22.6L373.5 22.3L373.8 22.3L375.5 21.9L377.2 21.6L378.9 21.3L380.5 20.9L381.7 20.7L382.2 20.6L383.9 20.2L385.5 19.8L387.2 19.4L388.9 19.0L388.9 19.0L388.9 19.0L387.2 19.0L385.5 19.0L383.9 19.0L382.2 19.0L380.5 19.0L378.9 19.0L377.2 19.0L375.5 19.0L373.8 19.0L372.2 19.0L370.5 19.0L368.8 19.0L367.2 19.0L365.5 19.0L363.8 19.0L362.2 19.0L360.5 19.0L358.8 19.0L357.2 19.0L355.5 19.0L353.8 19.0L352.2 19.0L350.5 19.0L348.8 19.0L347.2 19.0L345.5 19.0L343.8 19.0L342.1 19.0L340.5 19.0L338.8 19.0L337.1 19.0L335.5 19.0L333.8 19.0L332.1 19.0L330.5 19.0L330.5 20.7L330.5 22.3L330.5 24.0L330.5 25.6Z"/>
<path fill="rgb(255,81,81)" fill-rule="evenodd" d="M330.5 25.6L330.5 27.2L332.1 27.0L333.8 26.8L335.5 26.7L337.1 26.5L338.8 26.3L340.5 26.0L342.1 25.8L343.0 25.6L343.8 25.5L345.5 25.2L347.2 25.0L348.8 24.7L350.5 24.5L352.2 24.3L353.8 24.0L353.9 24.0L355.5 23.7L357.2 23.5L358.8 23.2L360.5 22.9L362.2 22.6L363.7 22.3L363.8 22.3L365.5 22.0L367.2 21.7L368.8 21.5L370.5 21.2L372.2 20.9L373.2 20.7L373.8 20.5L375.5 20.2L377.2 19.8L378.9 19.5L380.5 19.1L381.0 19.0L380.5 19.0L378.9 19.0L377.2 19.0L375.5 19.0L373.8 19.0L372.2 19.0L370.5 19.0L368.8 19.0L367.2 19.0L365.5 19.0L363.8 19.0L362.2 19.0L360.5 19.0L358.8 19.0L357.2 19.0L355.5 19.0L353.8 19.0L352.2 19.0L350.5 19.0L348.8 19.0L347.2 19.0L345.5 19.0L343.8 19.0L342.1 19.0L340.5 19.0L338.8 19.0L337.1 19.0L335.5 19.0L333.8 19.0L332.1 19.0L330.5 19.0L330.5 20.7L330.5 22.3L330.5 24.0Z"/>
<path fill="rgb(255,67,67)" fill-rule="evenodd" d="M330.5 25.6L330.5 25.8L332.1 25.7L332.4 25.6L333.8 25.5L335.5 25.3L337.1 25.1L338.8 24.9L340.5 24.7L342.1 24.4L343.8 24.1L344.5 24.0L345.5 23.8L347.2 23.5L348.8 23.3L350.5 23.0L352.2 22.8L353.8 22.5L355.0 22.3L355.5 22.2L357.2 22.0L358.8 21.7L360.5 21.3L362.2 21.0L363.8 20.7L364.2 20.7L365.5 20.4L367.2 20.1L368.8 19.8L370.5 19.5L372.2 19.1L372.9 19.0L372.2 19.0L370.5 19.0L368.8 19.0L367.2 19.0L365.5 19.0L363.8 19.0L362.2 19.0L360.5 19.0L358.8 19.0L357.2 19.0L355.5 19.0L353.8 19.0L352.2 19.0L350.5 19.0L348.8 19.0L347.2 19.0L345.5 19.0L343.8 19.0L342.1 19.0L340.5 19.0L338.8 19.0L337.1 19.0L335.5 19.0L333.8 19.0L332.1 19.0L330.5 19.0L330.5 20.7L330.5 22.3L330.5 24.0Z"/>
<path fill="rgb(255,54,54)" fill-rule="evenodd" d="M330.5 24.0L330.5 24.5L332.1 24.4L333.8 24.2L335.5 24.0L335.7 24.0L337.1 23.8L338.8 23.6L340.5 23.3L342.1 23.0L343.8 22.7L345.5 22.4L346.1 22.3L347.2 22.1L348.8 21.9L350.5 21.6L352.2 21.3L353.8 21.0L355.5 20.7L356.0 20.7L357.2 20.4L358.8 20.1L360.5 19.8L362.2 19.5L363.8 19.2L364.6 19.0L363.8 19.0L362.2 19.0L360.5 19.0L358.8 19.0L357.2 19.0L355.5 19.0L353.8 19.0L352.2 19.0L350.5 19.0L348.8 19.0L347.2 19.0L345.5 19.0L343.8 19.0L342.1 19.0L340.5 19.0L338.8 19.0L337.1 19.0L335.5 19.0L333.8 19.0L332.1 19.0L330.5 19.0L330.5 20.7L330.5 22.3Z"/>
<path fill="rgb(255,40,40)" fill-rule="evenodd" d="M330.5 22.3L330.5 23.3L332.1 23.1L333.8 22.9L335.5 22.7L337.1 22.5L338.2 22.3L338.8 22.2L340.5 22.0L342.1 21.7L343.8 21.4L345.5 21.1L347.2 20.8L347.8 20.7L348.8 20.5L350.5 20.2L352.2 19.9L353.8 19.6L355.5 19.2L356.7 19.0L355.5 19.0L353.8 19.0L352.2 19.0L350.5 19.0L348.8 19.0L347.2 19.0L345.5 19.0L343.8 19.0L342.1 19.0L340.5 19.0L338.8 19.0L337.1 19.0L335.5 19.0L333.8 19.0L332.1 19.0L330.5 19.0L330.5 20.7Z"/>
<path fill="rgb(255,27,27)" fill-rule="evenodd" d="M330.5 20.7L330.5 22.0L332.1 21.8L333.8 21.6L335.5 21.4L337.1 21.2L338.8 20.9L340.2 20.7L340.5 20.6L342.1 20.3L343.8 20.0L345.5 19.7L347.2 19.4L348.8 19.1L349.1 19.0L348.8 19.0L347.2 19.0L345.5 19.0L343.8 19.0L342.1 19.0L340.5 19.0L338.8 19.0L337.1 19.0L335.5 19.0L333.8 19.0L332.1 19.0L330.5 19.0Z"/>
<path fill="rgb(255,13,13)" fill-rule="evenodd" d="M330.5 20.7L330.5 20.7L331.1 20.7L332.1 20.6L333.8 20.4L335.5 20.1L337.1 19.8L338.8 19.5L340.5 19.2L341.7 19.0L340.5 19.0L338.8 19.0L337.1 19.0L335.5 19.0L333.8 19.0L332.1 19.0L330.5 19.0Z"/>
<path fill="rgb(255,0,0)" fill-rule="evenodd" d="M330.5 19.0L330.5 19.4L332.1 19.2L333.8 19.0L333.9 19.0L333.8 19.0L332.1 19.0Z"/>
</g>
<rect x="330.5" y="19.0" width="292.1" height="249.3" fill="none" stroke="#555" stroke-width="0.7"/>
<path d="M347.3 268.3v4M389.0 268.3v4M430.6 268.3v4M472.3 268.3v4M514.0 268.3v4M555.6 268.3v4M597.3 268.3v4M330.5 268.3h-4M330.5 226.8h-4M330.5 185.2h-4M330.5 143.7h-4M330.5 102.1h-4M330.5 60.6h-4M330.5 19.0h-4" stroke="#333" stroke-width="0.8" fill="none"/>
<text x="347.3" y="283" font-size="12.8" text-anchor="middle">0</text>
<text x="389.0" y="283" font-size="12.8" text-anchor="middle">5</text>
<text x="430.6" y="283" font-size="12.8" text-anchor="middle">10</text>
<text x="472.3" y="283" font-size="12.8" text-anchor="middle">15</text>
<text x="514.0" y="283" font-size="12.8" text-anchor="middle">20</text>
<text x="555.6" y="283" font-size="12.8" text-anchor="middle">25</text>
<text x="597.3" y="283" font-size="12.8" text-anchor="middle">30</text>
<text x="323" y="272.9" font-size="12.8" text-anchor="end">0</text>
<text x="323" y="231.3" font-size="12.8" text-anchor="end">5</text>
<text x="323" y="189.8" font-size="12.8" text-anchor="end">10</text>
<text x="323" y="148.2" font-size="12.8" text-anchor="end">15</text>
<text x="323" y="106.7" font-size="12.8" text-anchor="end">20</text>
<text x="323" y="65.2" font-size="12.8" text-anchor="end">25</text>
<text x="323" y="23.6" font-size="12.8" text-anchor="end">30</text>
<text x="476.5" y="298" font-size="9.6" text-anchor="middle">Daily maximum temperature</text>
<text transform="translate(306,143.3) rotate(-90)" font-size="9.7" text-anchor="middle">Lag (days)</text>
<text x="342.6" y="40.8" font-size="21">(b)</text>
<rect x="637.6" y="258.71" width="15.9" height="9.64" fill="rgb(0,0,255)"/>
<rect x="637.6" y="249.12" width="15.9" height="9.64" fill="rgb(51,51,255)"/>
<rect x="637.6" y="239.53" width="15.9" height="9.64" fill="rgb(102,102,255)"/>
<rect x="637.6" y="229.95" width="15.9" height="9.64" fill="rgb(153,153,255)"/>
<rect x="637.6" y="220.36" width="15.9" height="9.64" fill="rgb(204,204,255)"/>
<rect x="637.6" y="210.77" width="15.9" height="9.64" fill="rgb(255,255,255)"/>
<rect x="637.6" y="201.18" width="15.9" height="9.64" fill="rgb(255,255,255)"/>
<rect x="637.6" y="191.59" width="15.9" height="9.64" fill="rgb(255,242,242)"/>
<rect x="637.6" y="182.00" width="15.9" height="9.64" fill="rgb(255,228,228)"/>
<rect x="637.6" y="172.42" width="15.9" height="9.64" fill="rgb(255,215,215)"/>
<rect x="637.6" y="162.83" width="15.9" height="9.64" fill="rgb(255,201,201)"/>
<rect x="637.6" y="153.24" width="15.9" height="9.64" fill="rgb(255,188,188)"/>
<rect x="637.6" y="143.65" width="15.9" height="9.64" fill="rgb(255,174,174)"/>
<rect x="637.6" y="134.06" width="15.9" height="9.64" fill="rgb(255,161,161)"/>
<rect x="637.6" y="124.47" width="15.9" height="9.64" fill="rgb(255,148,148)"/>
<rect x="637.6" y="114.88" width="15.9" height="9.64" fill="rgb(255,134,134)"/>
<rect x="637.6" y="105.30" width="15.9" height="9.64" fill="rgb(255,121,121)"/>
<rect x="637.6" y="95.71" width="15.9" height="9.64" fill="rgb(255,107,107)"/>
<rect x="637.6" y="86.12" width="15.9" height="9.64" fill="rgb(255,94,94)"/>
<rect x="637.6" y="76.53" width="15.9" height="9.64" fill="rgb(255,81,81)"/>
<rect x="637.6" y="66.94" width="15.9" height="9.64" fill="rgb(255,67,67)"/>
<rect x="637.6" y="57.35" width="15.9" height="9.64" fill="rgb(255,54,54)"/>
<rect x="637.6" y="47.77" width="15.9" height="9.64" fill="rgb(255,40,40)"/>
<rect x="637.6" y="38.18" width="15.9" height="9.64" fill="rgb(255,27,27)"/>
<rect x="637.6" y="28.59" width="15.9" height="9.64" fill="rgb(255,13,13)"/>
<rect x="637.6" y="19.00" width="15.9" height="9.64" fill="rgb(255,0,0)"/>
<path d="M637.6 258.71H653.5M637.6 249.12H653.5M637.6 239.53H653.5M637.6 229.95H653.5M637.6 220.36H653.5M637.6 210.77H653.5M637.6 201.18H653.5M637.6 191.59H653.5M637.6 182.00H653.5M637.6 172.42H653.5M637.6 162.83H653.5M637.6 153.24H653.5M637.6 143.65H653.5M637.6 134.06H653.5M637.6 124.47H653.5M637.6 114.88H653.5M637.6 105.30H653.5M637.6 95.71H653.5M637.6 86.12H653.5M637.6 76.53H653.5M637.6 66.94H653.5M637.6 57.35H653.5M637.6 47.77H653.5M637.6 38.18H653.5M637.6 28.59H653.5" stroke="#000" stroke-opacity="0.7" stroke-width="0.7" fill="none"/>
<rect x="637.6" y="19.0" width="15.9" height="249.3" fill="none" stroke="#555" stroke-width="0.7"/>
<text x="661.2" y="253.8" font-size="12.8">0.98</text>
<text x="661.2" y="215.5" font-size="12.8">1.00</text>
<text x="661.2" y="177.1" font-size="12.8">1.02</text>
<text x="661.2" y="138.8" font-size="12.8">1.04</text>
<text x="661.2" y="100.4" font-size="12.8">1.06</text>
<text x="661.2" y="62.1" font-size="12.8">1.08</text>
<text x="661.2" y="23.7" font-size="12.8">1.10</text>
<path d="M653.5 249.12h4M653.5 210.77h4M653.5 172.42h4M653.5 134.06h4M653.5 95.71h4M653.5 57.35h4M653.5 19.00h4" stroke="#333" stroke-width="0.8" fill="none"/>
<text x="645.5" y="6.2" font-size="7.5" font-weight="bold" text-anchor="middle">RR</text>
<path d="M111.5 161.8L37.6 243.6" fill="none" stroke="#222" stroke-width="0.7"/>
<path d="M111.5 161.8L276.0 189.0" fill="none" stroke="#222" stroke-width="0.7"/>
<path d="M111.5 161.8L108.0 -0.1" fill="none" stroke="#222" stroke-width="0.7"/>
<path d="M108.0 -0.1L27.8 62.4" fill="none" stroke="#222" stroke-width="0.7"/>
<path d="M108.0 -0.1L284.1 20.6" fill="none" stroke="#222" stroke-width="0.7"/>
<path d="M37.6 243.6L27.8 62.4" fill="none" stroke="#222" stroke-width="0.7"/>
<path d="M276.0 189.0L284.1 20.6" fill="none" stroke="#222" stroke-width="0.7"/>
<path d="M37.6 243.6L223.5 279.6" fill="none" stroke="#222" stroke-width="0.7"/>
<path d="M223.5 279.6L276.0 189.0" fill="none" stroke="#222" stroke-width="0.7"/>
<style>.w1{stroke-width:0.47}.w2{stroke-width:0.51}.w3{stroke-width:0.55}.w4{stroke-width:0.59}.w5{stroke-width:0.63}.w6{stroke-width:0.67}.w7{stroke-width:0.71}.w8{stroke-width:0.75}.w9{stroke-width:0.79}.w10{stroke-width:0.83}.w11{stroke-width:0.87}.w12{stroke-width:0.91}.w13{stroke-width:0.95}.w14{stroke-width:0.99}.w15{stroke-width:1.03}.w16{stroke-width:1.07}.w17{stroke-width:1.11}</style>
.wb{stroke-width:0.24}<g fill="#82ffc6" stroke="#3366ff" stroke-width="0.43" stroke-linejoin="round">
<path class="w3" d="M107.8 10.1l4.9 7.1 0.3-9.1-5-7.7z"/><path class="w3" d="M112.7 17.2l4.9 8 0.3-8.8-4.9-8.3z"/><path class="w3" d="M117.6 25.2l4.9 7.4 0.3-8.2-4.9-8z"/><path class="w3" d="M122.5 32.6l4.8 7.5 0.4-7.8-4.9-7.9z"/><path class="w3" d="M127.3 40.1l4.9 6.7 0.3-7.2-4.8-7.3z"/><path class="w3" d="M132.2 46.8l4.8 7.2 0.4-6.8-4.9-7.6z"/><path class="w3" d="M137 54l4.9 7.1 0.3-6.2-4.8-7.7z"/><path class="w3" d="M141.9 61.1l4.8 7.1 0.4-5.8-4.9-7.5z"/><path class="w3" d="M146.7 68.2l4.8 6.3 0.4-5.3-4.8-6.8z"/><path class="w3" d="M151.5 74.5l4.8 6.3 0.4-4.8-4.8-6.8z"/><path class="w3" d="M156.3 80.8l4.8 5.3 0.4-4.2-4.8-5.9z"/><path class="w2" d="M161.1 86.1l4.8 6.3 0.4-3.6-4.8-6.9z"/><path class="w1" d="M165.9 92.4l4.7 6.7 0.4-2.8-4.7-7.5z"/><path d="M170.6 99.1l4.8 6.3 0.4-2.2-4.8-6.9z"/><path d="M175.4 105.4l4.7 6 0.4-1.8-4.7-6.4z"/><path d="M180.1 111.4l4.8 5.6 0.4-1.6-4.8-5.8z"/><path d="M184.9 117l4.8 5.7 0.3-1.7-4.7-5.6z"/><path d="M189.7 122.7l4.7 5.4 0.4-1.5-4.8-5.6z"/><path d="M194.4 128.1l4.7 4.6 0.4-1.4-4.7-4.7z"/><path d="M199.1 132.7l4.8 3.9 0.4-1.1-4.8-4.2z"/><path d="M203.9 136.6l4.8 3.9 0.3-0.9-4.7-4.1z"/><path d="M208.7 140.5l4.7 3.8 0.4-0.7-4.8-4z"/><path class="w1" d="M213.4 144.3l4.8 3.5 0.4-0.6-4.8-3.6z"/><path class="w6" d="M218.2 147.8l4.8 3.2 0.3-0.4-4.7-3.4z"/><path class="w11" d="M223 151l4.8 2.8 0.3-0.3-4.8-2.9z"/><path class="w15" d="M227.8 153.8l4.8 2.7 0.3-0.2-4.8-2.8z"/><path class="w17" d="M232.6 156.5l4.8 2.8 0.3-0.1-4.8-2.9z"/><path class="w17" d="M237.4 159.3l4.8 2.5 0.4-0.1-4.9-2.5z"/><path class="w17" d="M242.2 161.8l4.9 2.2 0.3 0-4.8-2.3z"/><path class="w17" d="M247.1 164l4.8 2.4 0.3 0.1-4.8-2.5z"/><path class="w17" d="M251.9 166.4l4.9 2.5 0.3 0-4.9-2.4z"/><path class="w17" d="M256.8 168.9l4.9 1.9 0.2 0.2-4.8-2.1z"/><path class="w17" d="M261.7 170.8l4.8 1.7 0.3 0.1-4.9-1.6z"/><path class="w17" d="M266.5 172.5l4.9 1.9 0.3 0.2-4.9-2z"/><path class="w17" d="M271.4 174.4l5 1.9 0.2 0.2-4.9-1.9z"/><path class="w3" d="M107.5 20.1l4.9 6.2 0.3-9.1-4.9-7.1z"/><path class="w3" d="M112.4 26.3l4.9 7.9 0.3-9-4.9-8z"/><path class="w3" d="M117.3 34.2l4.8 6.5 0.4-8.1-4.9-7.4z"/><path class="w3" d="M122.1 40.7l4.9 7.2 0.3-7.8-4.8-7.5z"/><path class="w3" d="M127 47.9l4.8 6 0.4-7.1-4.9-6.7z"/><path class="w3" d="M131.8 53.9l4.9 6.9 0.3-6.8-4.8-7.2z"/><path class="w3" d="M136.7 60.8l4.8 6.4 0.4-6.1-4.9-7.1z"/><path class="w3" d="M141.5 67.2l4.8 6.7 0.4-5.7-4.8-7.1z"/><path class="w3" d="M146.3 73.9l4.8 5.8 0.4-5.2-4.8-6.3z"/><path class="w3" d="M151.1 79.7l4.8 5.9 0.4-4.8-4.8-6.3z"/><path class="w3" d="M155.9 85.6l4.8 4.8 0.4-4.3-4.8-5.3z"/><path class="w2" d="M160.7 90.4l4.7 5.6 0.5-3.6-4.8-6.3z"/><path class="w1" d="M165.4 96l4.8 5.8 0.4-2.7-4.7-6.7z"/><path d="M170.2 101.8l4.8 5.7 0.4-2.1-4.8-6.3z"/><path d="M175 107.5l4.7 5.7 0.4-1.8-4.7-6z"/><path d="M179.7 113.2l4.8 5.5 0.4-1.7-4.8-5.6z"/><path d="M184.5 118.7l4.8 5.6 0.4-1.6-4.8-5.7z"/><path d="M189.3 124.3l4.7 5.3 0.4-1.5-4.7-5.4z"/><path d="M194 129.6l4.8 4.5 0.3-1.4-4.7-4.6z"/><path d="M198.8 134.1l4.7 3.6 0.4-1.1-4.8-3.9z"/><path d="M203.5 137.7l4.8 3.7 0.4-0.9-4.8-3.9z"/><path d="M208.3 141.4l4.8 3.6 0.3-0.7-4.7-3.8z"/><path class="w3" d="M213.1 145l4.8 3.3 0.3-0.5-4.8-3.5z"/><path class="w8" d="M217.9 148.3l4.8 3.1 0.3-0.4-4.8-3.2z"/><path class="w14" d="M222.7 151.4l4.8 2.6 0.3-0.2-4.8-2.8z"/><path class="w17" d="M227.5 154l4.8 2.6 0.3-0.1-4.8-2.7z"/><path class="w17" d="M232.3 156.6l4.8 2.7 0.3 0-4.8-2.8z"/><path class="w17" d="M237.1 159.3l4.8 2.5 0.3 0-4.8-2.5z"/><path class="w17" d="M241.9 161.8l4.9 2.2 0.3 0-4.9-2.2z"/><path class="w17" d="M246.8 164l4.8 2.3 0.3 0.1-4.8-2.4z"/><path class="w17" d="M251.6 166.3l4.9 2.4 0.3 0.2-4.9-2.5z"/><path class="w17" d="M256.5 168.7l4.9 2 0.3 0.1-4.9-1.9z"/><path class="w17" d="M261.4 170.7l4.9 1.6 0.2 0.2-4.8-1.7z"/><path class="w17" d="M266.3 172.3l4.9 1.8 0.2 0.3-4.9-1.9z"/><path class="w17" d="M271.2 174.1l4.9 1.9 0.3 0.3-5-1.9z"/><path class="w3" d="M107.3 29.8l4.8 5.6 0.3-9.1-4.9-6.2z"/><path class="w3" d="M112.1 35.4l4.9 7.3 0.3-8.5-4.9-7.9z"/><path class="w3" d="M117 42.7l4.8 5.9 0.3-7.9-4.8-6.5z"/><path class="w3" d="M121.8 48.6l4.9 6.8 0.3-7.5-4.9-7.2z"/><path class="w3" d="M126.7 55.4l4.8 5.5 0.3-7-4.8-6z"/><path class="w3" d="M131.5 60.9l4.8 6.4 0.4-6.5-4.9-6.9z"/><path class="w3" d="M136.3 67.3l4.8 5.8 0.4-5.9-4.8-6.4z"/><path class="w3" d="M141.1 73.1l4.8 6.3 0.4-5.5-4.8-6.7z"/><path class="w3" d="M145.9 79.4l4.8 5.3 0.4-5-4.8-5.8z"/><path class="w3" d="M150.7 84.7l4.8 5.6 0.4-4.7-4.8-5.9z"/><path class="w3" d="M155.5 90.3l4.8 4.2 0.4-4.1-4.8-4.8z"/><path class="w2" d="M160.3 94.5l4.7 5 0.4-3.5-4.7-5.6z"/><path class="w1" d="M165 99.5l4.8 5 0.4-2.7-4.8-5.8z"/><path class="w1" d="M169.8 104.5l4.8 5.2 0.4-2.2-4.8-5.7z"/><path d="M174.6 109.7l4.7 5.3 0.4-1.8-4.7-5.7z"/><path d="M179.3 115l4.8 5.3 0.4-1.6-4.8-5.5z"/><path d="M184.1 120.3l4.8 5.7 0.4-1.7-4.8-5.6z"/><path d="M188.9 126l4.7 5.1 0.4-1.5-4.7-5.3z"/><path d="M193.6 131.1l4.8 4.3 0.4-1.3-4.8-4.5z"/><path d="M198.4 135.4l4.8 3.4 0.3-1.1-4.7-3.6z"/><path d="M203.2 138.8l4.7 3.4 0.4-0.8-4.8-3.7z"/><path d="M207.9 142.2l4.8 3.3 0.4-0.5-4.8-3.6z"/><path class="w6" d="M212.7 145.5l4.8 3.2 0.4-0.4-4.8-3.3z"/><path class="w11" d="M217.5 148.7l4.8 2.9 0.4-0.2-4.8-3.1z"/><path class="w16" d="M222.3 151.6l4.8 2.6 0.4-0.2-4.8-2.6z"/><path class="w17" d="M227.1 154.2l4.8 2.5 0.4-0.1-4.8-2.6z"/><path class="w17" d="M231.9 156.7l4.9 2.6 0.3 0-4.8-2.7z"/><path class="w17" d="M236.8 159.3l4.8 2.4 0.3 0.1-4.8-2.5z"/><path class="w17" d="M241.6 161.7l4.9 2.2 0.3 0.1-4.9-2.2z"/><path class="w17" d="M246.5 163.9l4.8 2.3 0.3 0.1-4.8-2.3z"/><path class="w17" d="M251.3 166.2l4.9 2.3 0.3 0.2-4.9-2.4z"/><path class="w17" d="M256.2 168.5l4.9 1.9 0.3 0.3-4.9-2z"/><path class="w17" d="M261.1 170.4l4.9 1.6 0.3 0.3-4.9-1.6z"/><path class="w17" d="M266 172l4.9 1.8 0.3 0.3-4.9-1.8z"/><path class="w17" d="M270.9 173.8l4.9 1.8 0.3 0.4-4.9-1.9z"/><path class="w3" d="M107 38.8l4.8 5.4 0.3-8.8-4.8-5.6z"/><path class="w3" d="M111.8 44.2l4.9 6.6 0.3-8.1-4.9-7.3z"/><path class="w3" d="M116.7 50.8l4.8 5.5 0.3-7.7-4.8-5.9z"/><path class="w3" d="M121.5 56.3l4.8 6.1 0.4-7-4.9-6.8z"/><path class="w3" d="M126.3 62.4l4.8 5.1 0.4-6.6-4.8-5.5z"/><path class="w3" d="M131.1 67.5l4.8 5.9 0.4-6.1-4.8-6.4z"/><path class="w3" d="M135.9 73.4l4.8 5.4 0.4-5.7-4.8-5.8z"/><path class="w3" d="M140.7 78.8l4.8 5.8 0.4-5.2-4.8-6.3z"/><path class="w3" d="M145.5 84.6l4.8 5 0.4-4.9-4.8-5.3z"/><path class="w3" d="M150.3 89.6l4.8 5 0.4-4.3-4.8-5.6z"/><path class="w3" d="M155.1 94.6l4.8 4 0.4-4.1-4.8-4.2z"/><path class="w2" d="M159.9 98.6l4.7 4.4 0.4-3.5-4.7-5z"/><path class="w2" d="M164.6 103l4.8 4.4 0.4-2.9-4.8-5z"/><path class="w1" d="M169.4 107.4l4.8 4.6 0.4-2.3-4.8-5.2z"/><path d="M174.2 112l4.7 5 0.4-2-4.7-5.3z"/><path d="M178.9 117l4.8 5.1 0.4-1.8-4.8-5.3z"/><path d="M183.7 122.1l4.8 5.6 0.4-1.7-4.8-5.7z"/><path d="M188.5 127.7l4.7 4.9 0.4-1.5-4.7-5.1z"/><path d="M193.2 132.6l4.8 4.1 0.4-1.3-4.8-4.3z"/><path d="M198 136.7l4.8 3.2 0.4-1.1-4.8-3.4z"/><path d="M202.8 139.9l4.8 3.1 0.3-0.8-4.7-3.4z"/><path class="w1" d="M207.6 143l4.8 3 0.3-0.5-4.8-3.3z"/><path class="w7" d="M212.4 146l4.8 3 0.3-0.3-4.8-3.2z"/><path class="w13" d="M217.2 149l4.8 2.9 0.3-0.3-4.8-2.9z"/><path class="w17" d="M222 151.9l4.8 2.4 0.3-0.1-4.8-2.6z"/><path class="w17" d="M226.8 154.3l4.8 2.4 0.3 0-4.8-2.5z"/><path class="w17" d="M231.6 156.7l4.8 2.6 0.4 0-4.9-2.6z"/><path class="w17" d="M236.4 159.3l4.9 2.3 0.3 0.1-4.8-2.4z"/><path class="w17" d="M241.3 161.6l4.9 2.1 0.3 0.2-4.9-2.2z"/><path class="w17" d="M246.2 163.7l4.8 2.3 0.3 0.2-4.8-2.3z"/><path class="w17" d="M251 166l4.9 2.3 0.3 0.2-4.9-2.3z"/><path class="w17" d="M255.9 168.3l4.9 1.9 0.3 0.2-4.9-1.9z"/><path class="w17" d="M260.8 170.2l4.9 1.6 0.3 0.2-4.9-1.6z"/><path class="w17" d="M265.7 171.8l4.9 1.7 0.3 0.3-4.9-1.8z"/><path class="w17" d="M270.6 173.5l5 1.8 0.2 0.3-4.9-1.8z"/><path class="w3" d="M106.7 47.5l4.8 5 0.3-8.3-4.8-5.4z"/><path class="w3" d="M111.5 52.5l4.8 5.9 0.4-7.6-4.9-6.6z"/><path class="w3" d="M116.3 58.4l4.9 5.1 0.3-7.2-4.8-5.5z"/><path class="w3" d="M121.2 63.5l4.8 5.6 0.3-6.7-4.8-6.1z"/><path class="w3" d="M126 69.1l4.8 4.8 0.3-6.4-4.8-5.1z"/><path class="w3" d="M130.8 73.9l4.7 5.3 0.4-5.8-4.8-5.9z"/><path class="w3" d="M135.5 79.2l4.8 5.1 0.4-5.5-4.8-5.4z"/><path class="w3" d="M140.3 84.3l4.8 5.2 0.4-4.9-4.8-5.8z"/><path class="w3" d="M145.1 89.5l4.8 4.7 0.4-4.6-4.8-5z"/><path class="w3" d="M149.9 94.2l4.8 4.6 0.4-4.2-4.8-5z"/><path class="w3" d="M154.7 98.8l4.7 3.7 0.5-3.9-4.8-4z"/><path class="w2" d="M159.4 102.5l4.8 4 0.4-3.5-4.7-4.4z"/><path class="w2" d="M164.2 106.5l4.8 3.8 0.4-2.9-4.8-4.4z"/><path class="w1" d="M169 110.3l4.8 4.2 0.4-2.5-4.8-4.6z"/><path class="w1" d="M173.8 114.5l4.7 4.6 0.4-2.1-4.7-5z"/><path d="M178.5 119.1l4.8 5.1 0.4-2.1-4.8-5.1z"/><path d="M183.3 124.2l4.8 5.3 0.4-1.8-4.8-5.6z"/><path d="M188.1 129.5l4.7 4.7 0.4-1.6-4.7-4.9z"/><path d="M192.8 134.2l4.8 3.7 0.4-1.2-4.8-4.1z"/><path d="M197.6 137.9l4.8 3 0.4-1-4.8-3.2z"/><path d="M202.4 140.9l4.8 2.8 0.4-0.7-4.8-3.1z"/><path class="w2" d="M207.2 143.7l4.8 2.8 0.4-0.5-4.8-3z"/><path class="w9" d="M212 146.5l4.8 2.9 0.4-0.4-4.8-3z"/><path class="w14" d="M216.8 149.4l4.8 2.7 0.4-0.2-4.8-2.9z"/><path class="w17" d="M221.6 152.1l4.8 2.3 0.4-0.1-4.8-2.4z"/><path class="w17" d="M226.4 154.4l4.9 2.4 0.3-0.1-4.8-2.4z"/><path class="w17" d="M231.3 156.8l4.8 2.4 0.3 0.1-4.8-2.6z"/><path class="w17" d="M236.1 159.2l4.9 2.3 0.3 0.1-4.9-2.3z"/><path class="w17" d="M241 161.5l4.8 2.1 0.4 0.1-4.9-2.1z"/><path class="w17" d="M245.8 163.6l4.9 2.2 0.3 0.2-4.8-2.3z"/><path class="w17" d="M250.7 165.8l4.9 2.2 0.3 0.3-4.9-2.3z"/><path class="w17" d="M255.6 168l4.9 1.9 0.3 0.3-4.9-1.9z"/><path class="w17" d="M260.5 169.9l4.9 1.6 0.3 0.3-4.9-1.6z"/><path class="w17" d="M265.4 171.5l5 1.7 0.2 0.3-4.9-1.7z"/><path class="w17" d="M270.4 173.2l4.9 1.7 0.3 0.4-5-1.8z"/><path class="w3" d="M106.4 55.6l4.8 4.8 0.3-7.9-4.8-5z"/><path class="w3" d="M111.2 60.4l4.8 5.3 0.3-7.3-4.8-5.9z"/><path class="w3" d="M116 65.7l4.8 4.7 0.4-6.9-4.9-5.1z"/><path class="w3" d="M120.8 70.4l4.8 5.1 0.4-6.4-4.8-5.6z"/><path class="w3" d="M125.6 75.5l4.8 4.4 0.4-6-4.8-4.8z"/><path class="w3" d="M130.4 79.9l4.8 4.9 0.3-5.6-4.7-5.3z"/><path class="w3" d="M135.2 84.8l4.8 4.6 0.3-5.1-4.8-5.1z"/><path class="w3" d="M140 89.4l4.7 4.8 0.4-4.7-4.8-5.2z"/><path class="w3" d="M144.7 94.2l4.8 4.4 0.4-4.4-4.8-4.7z"/><path class="w3" d="M149.5 98.6l4.8 4.2 0.4-4-4.8-4.6z"/><path class="w3" d="M154.3 102.8l4.7 3.4 0.4-3.7-4.7-3.7z"/><path class="w2" d="M159 106.2l4.8 3.6 0.4-3.3-4.8-4z"/><path class="w2" d="M163.8 109.8l4.8 3.4 0.4-2.9-4.8-3.8z"/><path class="w1" d="M168.6 113.2l4.8 3.8 0.4-2.5-4.8-4.2z"/><path class="w1" d="M173.4 117l4.7 4.3 0.4-2.2-4.7-4.6z"/><path d="M178.1 121.3l4.8 5 0.4-2.1-4.8-5.1z"/><path d="M182.9 126.3l4.8 5 0.4-1.8-4.8-5.3z"/><path d="M187.7 131.3l4.7 4.3 0.4-1.4-4.7-4.7z"/><path d="M192.4 135.6l4.8 3.5 0.4-1.2-4.8-3.7z"/><path d="M197.2 139.1l4.8 2.7 0.4-0.9-4.8-3z"/><path d="M202 141.8l4.8 2.6 0.4-0.7-4.8-2.8z"/><path class="w3" d="M206.8 144.4l4.8 2.5 0.4-0.4-4.8-2.8z"/><path class="w10" d="M211.6 146.9l4.8 2.8 0.4-0.3-4.8-2.9z"/><path class="w15" d="M216.4 149.7l4.9 2.5 0.3-0.1-4.8-2.7z"/><path class="w17" d="M221.3 152.2l4.8 2.3 0.3-0.1-4.8-2.3z"/><path class="w17" d="M226.1 154.5l4.9 2.3 0.3 0-4.9-2.4z"/><path class="w17" d="M231 156.8l4.8 2.3 0.3 0.1-4.8-2.4z"/><path class="w17" d="M235.8 159.1l4.9 2.3 0.3 0.1-4.9-2.3z"/><path class="w17" d="M240.7 161.4l4.8 2 0.3 0.2-4.8-2.1z"/><path class="w17" d="M245.5 163.4l4.9 2.2 0.3 0.2-4.9-2.2z"/><path class="w17" d="M250.4 165.6l4.9 2.1 0.3 0.3-4.9-2.2z"/><path class="w17" d="M255.3 167.7l4.9 1.9 0.3 0.3-4.9-1.9z"/><path class="w17" d="M260.2 169.6l4.9 1.6 0.3 0.3-4.9-1.6z"/><path class="w17" d="M265.1 171.2l5 1.6 0.3 0.4-5-1.7z"/><path class="w17" d="M270.1 172.8l4.9 1.7 0.3 0.4-4.9-1.7z"/><path class="w3" d="M106.1 63.3l4.8 4.6 0.3-7.5-4.8-4.8z"/><path class="w3" d="M110.9 67.9l4.8 4.6 0.3-6.8-4.8-5.3z"/><path class="w3" d="M115.7 72.5l4.8 4.3 0.3-6.4-4.8-4.7z"/><path class="w3" d="M120.5 76.8l4.8 4.7 0.3-6-4.8-5.1z"/><path class="w3" d="M125.3 81.5l4.7 4.1 0.4-5.7-4.8-4.4z"/><path class="w3" d="M130 85.6l4.8 4.4 0.4-5.2-4.8-4.9z"/><path class="w3" d="M134.8 90l4.8 4.3 0.4-4.9-4.8-4.6z"/><path class="w3" d="M139.6 94.3l4.7 4.4 0.4-4.5-4.7-4.8z"/><path class="w3" d="M144.3 98.7l4.8 4 0.4-4.1-4.8-4.4z"/><path class="w3" d="M149.1 102.7l4.8 3.9 0.4-3.8-4.8-4.2z"/><path class="w3" d="M153.9 106.6l4.7 3.2 0.4-3.6-4.7-3.4z"/><path class="w2" d="M158.6 109.8l4.8 3.3 0.4-3.3-4.8-3.6z"/><path class="w2" d="M163.4 113.1l4.8 2.9 0.4-2.8-4.8-3.4z"/><path class="w1" d="M168.2 116l4.8 3.5 0.4-2.5-4.8-3.8z"/><path class="w1" d="M173 119.5l4.7 4.1 0.4-2.3-4.7-4.3z"/><path class="w1" d="M177.7 123.6l4.8 4.8 0.4-2.1-4.8-5z"/><path d="M182.5 128.4l4.8 4.7 0.4-1.8-4.8-5z"/><path d="M187.3 133.1l4.8 4 0.3-1.5-4.7-4.3z"/><path d="M192.1 137.1l4.7 3.2 0.4-1.2-4.8-3.5z"/><path d="M196.8 140.3l4.8 2.4 0.4-0.9-4.8-2.7z"/><path d="M201.6 142.7l4.9 2.3 0.3-0.6-4.8-2.6z"/><path class="w5" d="M206.5 145l4.8 2.4 0.3-0.5-4.8-2.5z"/><path class="w11" d="M211.3 147.4l4.8 2.5 0.3-0.2-4.8-2.8z"/><path class="w16" d="M216.1 149.9l4.8 2.5 0.4-0.2-4.9-2.5z"/><path class="w17" d="M220.9 152.4l4.9 2.2 0.3-0.1-4.8-2.3z"/><path class="w17" d="M225.8 154.6l4.8 2.2 0.4 0-4.9-2.3z"/><path class="w17" d="M230.6 156.8l4.9 2.2 0.3 0.1-4.8-2.3z"/><path class="w17" d="M235.5 159l4.8 2.2 0.4 0.2-4.9-2.3z"/><path class="w17" d="M240.3 161.2l4.9 2 0.3 0.2-4.8-2z"/><path class="w17" d="M245.2 163.2l4.9 2.1 0.3 0.3-4.9-2.2z"/><path class="w17" d="M250.1 165.3l4.9 2.1 0.3 0.3-4.9-2.1z"/><path class="w17" d="M255 167.4l4.9 1.8 0.3 0.4-4.9-1.9z"/><path class="w17" d="M259.9 169.2l5 1.6 0.2 0.4-4.9-1.6z"/><path class="w17" d="M264.9 170.8l4.9 1.6 0.3 0.4-5-1.6z"/><path class="w17" d="M269.8 172.4l5 1.7 0.2 0.4-4.9-1.7z"/><path class="w3" d="M105.8 70.5l4.8 4.4 0.3-7-4.8-4.6z"/><path class="w3" d="M110.6 74.9l4.8 4 0.3-6.4-4.8-4.6z"/><path class="w3" d="M115.4 78.9l4.7 4 0.4-6.1-4.8-4.3z"/><path class="w3" d="M120.1 82.9l4.8 4.3 0.4-5.7-4.8-4.7z"/><path class="w3" d="M124.9 87.2l4.8 3.8 0.3-5.4-4.7-4.1z"/><path class="w3" d="M129.7 91l4.7 4 0.4-5-4.8-4.4z"/><path class="w3" d="M134.4 95l4.8 3.9 0.4-4.6-4.8-4.3z"/><path class="w3" d="M139.2 98.9l4.7 4 0.4-4.2-4.7-4.4z"/><path class="w3" d="M143.9 102.9l4.8 3.8 0.4-4-4.8-4z"/><path class="w3" d="M148.7 106.7l4.8 3.5 0.4-3.6-4.8-3.9z"/><path class="w2" d="M153.5 110.2l4.7 3 0.4-3.4-4.7-3.2z"/><path class="w2" d="M158.2 113.2l4.8 3 0.4-3.1-4.8-3.3z"/><path class="w2" d="M163 116.2l4.8 2.6 0.4-2.8-4.8-2.9z"/><path class="w1" d="M167.8 118.8l4.8 3.3 0.4-2.6-4.8-3.5z"/><path class="w1" d="M172.6 122.1l4.7 3.9 0.4-2.4-4.7-4.1z"/><path class="w1" d="M177.3 126l4.8 4.5 0.4-2.1-4.8-4.8z"/><path d="M182.1 130.5l4.8 4.3 0.4-1.7-4.8-4.7z"/><path d="M186.9 134.8l4.8 3.7 0.4-1.4-4.8-4z"/><path d="M191.7 138.5l4.8 2.9 0.3-1.1-4.7-3.2z"/><path d="M196.5 141.4l4.8 2.2 0.3-0.9-4.8-2.4z"/><path d="M201.3 143.6l4.8 2 0.4-0.6-4.9-2.3z"/><path class="w5" d="M206.1 145.6l4.8 2.1 0.4-0.3-4.8-2.4z"/><path class="w12" d="M210.9 147.7l4.8 2.5 0.4-0.3-4.8-2.5z"/><path class="w16" d="M215.7 150.2l4.9 2.4 0.3-0.2-4.8-2.5z"/><path class="w17" d="M220.6 152.6l4.8 2.1 0.4-0.1-4.9-2.2z"/><path class="w17" d="M225.4 154.7l4.9 2.1 0.3 0-4.8-2.2z"/><path class="w17" d="M230.3 156.8l4.9 2.1 0.3 0.1-4.9-2.2z"/><path class="w17" d="M235.2 158.9l4.8 2.2 0.3 0.1-4.8-2.2z"/><path class="w17" d="M240 161.1l4.9 1.9 0.3 0.2-4.9-2z"/><path class="w17" d="M244.9 163l4.9 2.1 0.3 0.2-4.9-2.1z"/><path class="w17" d="M249.8 165.1l4.9 2 0.3 0.3-4.9-2.1z"/><path class="w17" d="M254.7 167.1l4.9 1.8 0.3 0.3-4.9-1.8z"/><path class="w17" d="M259.6 168.9l5 1.6 0.3 0.3-5-1.6z"/><path class="w17" d="M264.6 170.5l4.9 1.5 0.3 0.4-4.9-1.6z"/><path class="w17" d="M269.5 172l5 1.6 0.3 0.5-5-1.7z"/><path class="w3" d="M105.5 77.3l4.8 4.2 0.3-6.6-4.8-4.4z"/><path class="w3" d="M110.3 81.5l4.7 3.5 0.4-6.1-4.8-4z"/><path class="w3" d="M115 85l4.8 3.7 0.3-5.8-4.7-4z"/><path class="w3" d="M119.8 88.7l4.7 3.8 0.4-5.3-4.8-4.3z"/><path class="w3" d="M124.5 92.5l4.8 3.6 0.4-5.1-4.8-3.8z"/><path class="w3" d="M129.3 96.1l4.7 3.5 0.4-4.6-4.7-4z"/><path class="w3" d="M134 99.6l4.8 3.7 0.4-4.4-4.8-3.9z"/><path class="w3" d="M138.8 103.3l4.8 3.6 0.3-4-4.7-4z"/><path class="w3" d="M143.6 106.9l4.7 3.5 0.4-3.7-4.8-3.8z"/><path class="w2" d="M148.3 110.4l4.8 3.2 0.4-3.4-4.8-3.5z"/><path class="w2" d="M153.1 113.6l4.7 2.8 0.4-3.2-4.7-3z"/><path class="w2" d="M157.8 116.4l4.8 2.7 0.4-2.9-4.8-3z"/><path class="w2" d="M162.6 119.1l4.8 2.5 0.4-2.8-4.8-2.6z"/><path class="w1" d="M167.4 121.6l4.8 3 0.4-2.5-4.8-3.3z"/><path class="w1" d="M172.2 124.6l4.7 3.7 0.4-2.3-4.7-3.9z"/><path class="w1" d="M176.9 128.3l4.8 4.2 0.4-2-4.8-4.5z"/><path d="M181.7 132.5l4.8 4 0.4-1.7-4.8-4.3z"/><path d="M186.5 136.5l4.8 3.3 0.4-1.3-4.8-3.7z"/><path d="M191.3 139.8l4.8 2.6 0.4-1-4.8-2.9z"/><path d="M196.1 142.4l4.8 2 0.4-0.8-4.8-2.2z"/><path d="M200.9 144.4l4.8 1.9 0.4-0.7-4.8-2z"/><path class="w6" d="M205.7 146.3l4.9 1.8 0.3-0.4-4.8-2.1z"/><path class="w12" d="M210.6 148.1l4.8 2.4 0.3-0.3-4.8-2.5z"/><path class="w16" d="M215.4 150.5l4.8 2.2 0.4-0.1-4.9-2.4z"/><path class="w17" d="M220.2 152.7l4.9 2.1 0.3-0.1-4.8-2.1z"/><path class="w17" d="M225.1 154.8l4.9 2 0.3 0-4.9-2.1z"/><path class="w17" d="M230 156.8l4.8 2.1 0.4 0-4.9-2.1z"/><path class="w17" d="M234.8 158.9l4.9 2 0.3 0.2-4.8-2.2z"/><path class="w17" d="M239.7 160.9l4.9 2 0.3 0.1-4.9-1.9z"/><path class="w17" d="M244.6 162.9l4.9 1.9 0.3 0.3-4.9-2.1z"/><path class="w17" d="M249.5 164.8l4.9 1.9 0.3 0.4-4.9-2z"/><path class="w17" d="M254.4 166.7l5 1.8 0.2 0.4-4.9-1.8z"/><path class="w17" d="M259.4 168.5l4.9 1.6 0.3 0.4-5-1.6z"/><path class="w17" d="M264.3 170.1l5 1.5 0.2 0.4-4.9-1.5z"/><path class="w17" d="M269.3 171.6l4.9 1.6 0.3 0.4-5-1.6z"/><path class="w3" d="M105.2 83.7l4.8 4 0.3-6.2-4.8-4.2z"/><path class="w3" d="M110 87.7l4.7 3 0.3-5.7-4.7-3.5z"/><path class="w3" d="M114.7 90.7l4.7 3.4 0.4-5.4-4.8-3.7z"/><path class="w3" d="M119.4 94.1l4.8 3.5 0.3-5.1-4.7-3.8z"/><path class="w3" d="M124.2 97.6l4.7 3.3 0.4-4.8-4.8-3.6z"/><path class="w3" d="M128.9 100.9l4.8 3.2 0.3-4.5-4.7-3.5z"/><path class="w3" d="M133.7 104.1l4.7 3.4 0.4-4.2-4.8-3.7z"/><path class="w3" d="M138.4 107.5l4.8 3.2 0.4-3.8-4.8-3.6z"/><path class="w3" d="M143.2 110.7l4.7 3.2 0.4-3.5-4.7-3.5z"/><path class="w2" d="M147.9 113.9l4.8 2.9 0.4-3.2-4.8-3.2z"/><path class="w2" d="M152.7 116.8l4.7 2.6 0.4-3-4.7-2.8z"/><path class="w2" d="M157.4 119.4l4.8 2.5 0.4-2.8-4.8-2.7z"/><path class="w2" d="M162.2 121.9l4.8 2.4 0.4-2.7-4.8-2.5z"/><path class="w1" d="M167 124.3l4.7 2.8 0.5-2.5-4.8-3z"/><path class="w1" d="M171.7 127.1l4.8 3.5 0.4-2.3-4.7-3.7z"/><path class="w1" d="M176.5 130.6l4.8 3.8 0.4-1.9-4.8-4.2z"/><path d="M181.3 134.4l4.8 3.7 0.4-1.6-4.8-4z"/><path d="M186.1 138.1l4.8 3 0.4-1.3-4.8-3.3z"/><path d="M190.9 141.1l4.8 2.3 0.4-1-4.8-2.6z"/><path d="M195.7 143.4l4.8 1.9 0.4-0.9-4.8-2z"/><path d="M200.5 145.3l4.8 1.6 0.4-0.6-4.8-1.9z"/><path class="w6" d="M205.3 146.9l4.9 1.6 0.4-0.4-4.9-1.8z"/><path class="w12" d="M210.2 148.5l4.8 2.2 0.4-0.2-4.8-2.4z"/><path class="w16" d="M215 150.7l4.9 2.2 0.3-0.2-4.8-2.2z"/><path class="w17" d="M219.9 152.9l4.8 2 0.4-0.1-4.9-2.1z"/><path class="w17" d="M224.7 154.9l4.9 1.9 0.4 0-4.9-2z"/><path class="w17" d="M229.6 156.8l4.9 2 0.3 0.1-4.8-2.1z"/><path class="w17" d="M234.5 158.8l4.9 2 0.3 0.1-4.9-2z"/><path class="w17" d="M239.4 160.8l4.9 1.9 0.3 0.2-4.9-2z"/><path class="w17" d="M244.3 162.7l4.9 1.8 0.3 0.3-4.9-1.9z"/><path class="w17" d="M249.2 164.5l4.9 1.9 0.3 0.3-4.9-1.9z"/><path class="w17" d="M254.1 166.4l5 1.8 0.3 0.3-5-1.8z"/><path class="w17" d="M259.1 168.2l4.9 1.5 0.3 0.4-4.9-1.6z"/><path class="w17" d="M264 169.7l5 1.5 0.3 0.4-5-1.5z"/><path class="w17" d="M269 171.2l5 1.6 0.2 0.4-4.9-1.6z"/><path class="w3" d="M104.9 89.9l4.7 3.7 0.4-5.9-4.8-4z"/><path class="w3" d="M109.6 93.6l4.7 2.6 0.4-5.5-4.7-3z"/><path class="w3" d="M114.3 96.2l4.8 3.1 0.3-5.2-4.7-3.4z"/><path class="w3" d="M119.1 99.3l4.7 3.1 0.4-4.8-4.8-3.5z"/><path class="w3" d="M123.8 102.4l4.7 3.1 0.4-4.6-4.7-3.3z"/><path class="w3" d="M128.5 105.5l4.8 2.9 0.4-4.3-4.8-3.2z"/><path class="w3" d="M133.3 108.4l4.7 3 0.4-3.9-4.7-3.4z"/><path class="w3" d="M138 111.4l4.8 3 0.4-3.7-4.8-3.2z"/><path class="w3" d="M142.8 114.4l4.7 2.9 0.4-3.4-4.7-3.2z"/><path class="w2" d="M147.5 117.3l4.8 2.6 0.4-3.1-4.8-2.9z"/><path class="w2" d="M152.3 119.9l4.7 2.4 0.4-2.9-4.7-2.6z"/><path class="w2" d="M157 122.3l4.8 2.3 0.4-2.7-4.8-2.5z"/><path class="w2" d="M161.8 124.6l4.8 2.3 0.4-2.6-4.8-2.4z"/><path class="w1" d="M166.6 126.9l4.7 2.6 0.4-2.4-4.7-2.8z"/><path class="w1" d="M171.3 129.5l4.8 3.3 0.4-2.2-4.8-3.5z"/><path class="w1" d="M176.1 132.8l4.8 3.5 0.4-1.9-4.8-3.8z"/><path d="M180.9 136.3l4.8 3.3 0.4-1.5-4.8-3.7z"/><path d="M185.7 139.6l4.8 2.7 0.4-1.2-4.8-3z"/><path d="M190.5 142.3l4.8 2.1 0.4-1-4.8-2.3z"/><path d="M195.3 144.4l4.8 1.7 0.4-0.8-4.8-1.9z"/><path d="M200.1 146.1l4.9 1.4 0.3-0.6-4.8-1.6z"/><path class="w5" d="M205 147.5l4.8 1.5 0.4-0.5-4.9-1.6z"/><path class="w10" d="M209.8 149l4.9 2 0.3-0.3-4.8-2.2z"/><path class="w15" d="M214.7 151l4.8 2.1 0.4-0.2-4.9-2.2z"/><path class="w17" d="M219.5 153.1l4.9 1.9 0.3-0.1-4.8-2z"/><path class="w17" d="M224.4 155l4.9 1.9 0.3-0.1-4.9-1.9z"/><path class="w17" d="M229.3 156.9l4.9 1.9 0.3 0-4.9-2z"/><path class="w17" d="M234.2 158.8l4.9 1.9 0.3 0.1-4.9-2z"/><path class="w17" d="M239.1 160.7l4.9 1.8 0.3 0.2-4.9-1.9z"/><path class="w17" d="M244 162.5l4.9 1.8 0.3 0.2-4.9-1.8z"/><path class="w17" d="M248.9 164.3l4.9 1.8 0.3 0.3-4.9-1.9z"/><path class="w17" d="M253.8 166.1l5 1.7 0.3 0.4-5-1.8z"/><path class="w17" d="M258.8 167.8l4.9 1.6 0.3 0.3-4.9-1.5z"/><path class="w17" d="M263.7 169.4l5 1.5 0.3 0.3-5-1.5z"/><path class="w17" d="M268.7 170.9l5 1.5 0.3 0.4-5-1.6z"/><path class="w3" d="M104.6 95.8l4.7 3.5 0.3-5.7-4.7-3.7z"/><path class="w3" d="M109.3 99.3l4.7 2.2 0.3-5.3-4.7-2.6z"/><path class="w3" d="M114 101.5l4.7 2.8 0.4-5-4.8-3.1z"/><path class="w3" d="M118.7 104.3l4.7 2.8 0.4-4.7-4.7-3.1z"/><path class="w3" d="M123.4 107.1l4.8 2.8 0.3-4.4-4.7-3.1z"/><path class="w3" d="M128.2 109.9l4.7 2.6 0.4-4.1-4.8-2.9z"/><path class="w3" d="M132.9 112.5l4.7 2.8 0.4-3.9-4.7-3z"/><path class="w3" d="M137.6 115.3l4.8 2.6 0.4-3.5-4.8-3z"/><path class="w2" d="M142.4 117.9l4.7 2.7 0.4-3.3-4.7-2.9z"/><path class="w2" d="M147.1 120.6l4.8 2.3 0.4-3-4.8-2.6z"/><path class="w2" d="M151.9 122.9l4.7 2.2 0.4-2.8-4.7-2.4z"/><path class="w2" d="M156.6 125.1l4.8 2.2 0.4-2.7-4.8-2.3z"/><path class="w1" d="M161.4 127.3l4.8 2.1 0.4-2.5-4.8-2.3z"/><path class="w1" d="M166.2 129.4l4.7 2.4 0.4-2.3-4.7-2.6z"/><path class="w1" d="M170.9 131.8l4.8 3 0.4-2-4.8-3.3z"/><path d="M175.7 134.8l4.8 3.2 0.4-1.7-4.8-3.5z"/><path d="M180.5 138l4.8 3 0.4-1.4-4.8-3.3z"/><path d="M185.3 141l4.8 2.5 0.4-1.2-4.8-2.7z"/><path d="M190.1 143.5l4.8 1.9 0.4-1-4.8-2.1z"/><path d="M194.9 145.4l4.9 1.4 0.3-0.7-4.8-1.7z"/><path d="M199.8 146.8l4.8 1.3 0.4-0.6-4.9-1.4z"/><path class="w5" d="M204.6 148.1l4.9 1.4 0.3-0.5-4.8-1.5z"/><path class="w10" d="M209.5 149.5l4.8 1.9 0.4-0.4-4.9-2z"/><path class="w15" d="M214.3 151.4l4.9 1.9 0.3-0.2-4.8-2.1z"/><path class="w17" d="M219.2 153.3l4.9 1.9 0.3-0.2-4.9-1.9z"/><path class="w17" d="M224.1 155.2l4.8 1.8 0.4-0.1-4.9-1.9z"/><path class="w17" d="M228.9 157l4.9 1.8 0.4 0-4.9-1.9z"/><path class="w17" d="M233.8 158.8l5 1.8 0.3 0.1-4.9-1.9z"/><path class="w17" d="M238.8 160.6l4.9 1.7 0.3 0.2-4.9-1.8z"/><path class="w17" d="M243.7 162.3l4.9 1.8 0.3 0.2-4.9-1.8z"/><path class="w17" d="M248.6 164.1l4.9 1.7 0.3 0.3-4.9-1.8z"/><path class="w17" d="M253.5 165.8l5 1.7 0.3 0.3-5-1.7z"/><path class="w17" d="M258.5 167.5l5 1.5 0.2 0.4-4.9-1.6z"/><path class="w17" d="M263.5 169l4.9 1.5 0.3 0.4-5-1.5z"/><path class="w17" d="M268.4 170.5l5 1.6 0.3 0.3-5-1.5z"/><path class="w3" d="M104.2 101.4l4.7 3.3 0.4-5.4-4.7-3.5z"/><path class="w3" d="M108.9 104.7l4.7 1.9 0.4-5.1-4.7-2.2z"/><path class="w3" d="M113.6 106.6l4.7 2.4 0.4-4.7-4.7-2.8z"/><path class="w3" d="M118.3 109l4.8 2.6 0.3-4.5-4.7-2.8z"/><path class="w3" d="M123.1 111.6l4.7 2.5 0.4-4.2-4.8-2.8z"/><path class="w3" d="M127.8 114.1l4.7 2.3 0.4-3.9-4.7-2.6z"/><path class="w3" d="M132.5 116.4l4.7 2.5 0.4-3.6-4.7-2.8z"/><path class="w3" d="M137.2 118.9l4.8 2.4 0.4-3.4-4.8-2.6z"/><path class="w2" d="M142 121.3l4.7 2.4 0.4-3.1-4.7-2.7z"/><path class="w2" d="M146.7 123.7l4.8 2.1 0.4-2.9-4.8-2.3z"/><path class="w2" d="M151.5 125.8l4.7 2 0.4-2.7-4.7-2.2z"/><path class="w2" d="M156.2 127.8l4.8 2 0.4-2.5-4.8-2.2z"/><path class="w1" d="M161 129.8l4.8 2 0.4-2.4-4.8-2.1z"/><path class="w1" d="M165.8 131.8l4.7 2.3 0.4-2.3-4.7-2.4z"/><path class="w1" d="M170.5 134.1l4.8 2.7 0.4-2-4.8-3z"/><path d="M175.3 136.8l4.8 2.9 0.4-1.7-4.8-3.2z"/><path d="M180.1 139.7l4.8 2.7 0.4-1.4-4.8-3z"/><path d="M184.9 142.4l4.8 2.2 0.4-1.1-4.8-2.5z"/><path d="M189.7 144.6l4.8 1.7 0.4-0.9-4.8-1.9z"/><path d="M194.5 146.3l4.9 1.3 0.4-0.8-4.9-1.4z"/><path d="M199.4 147.6l4.8 1.1 0.4-0.6-4.8-1.3z"/><path class="w5" d="M204.2 148.7l4.9 1.3 0.4-0.5-4.9-1.4z"/><path class="w9" d="M209.1 150l4.9 1.7 0.3-0.3-4.8-1.9z"/><path class="w14" d="M214 151.7l4.8 1.9 0.4-0.3-4.9-1.9z"/><path class="w17" d="M218.8 153.6l4.9 1.7 0.4-0.1-4.9-1.9z"/><path class="w17" d="M223.7 155.3l4.9 1.8 0.3-0.1-4.8-1.8z"/><path class="w17" d="M228.6 157.1l4.9 1.7 0.3 0-4.9-1.8z"/><path class="w17" d="M233.5 158.8l4.9 1.7 0.4 0.1-5-1.8z"/><path class="w17" d="M238.4 160.5l5 1.7 0.3 0.1-4.9-1.7z"/><path class="w17" d="M243.4 162.2l4.9 1.6 0.3 0.3-4.9-1.8z"/><path class="w17" d="M248.3 163.8l4.9 1.7 0.3 0.3-4.9-1.7z"/><path class="w17" d="M253.2 165.5l5 1.6 0.3 0.4-5-1.7z"/><path class="w17" d="M258.2 167.1l5 1.5 0.3 0.4-5-1.5z"/><path class="w17" d="M263.2 168.6l5 1.5 0.2 0.4-4.9-1.5z"/><path class="w17" d="M268.2 170.1l5 1.6 0.2 0.4-5-1.6z"/><path class="w3" d="M103.9 106.9l4.7 3.1 0.3-5.3-4.7-3.3z"/><path class="w3" d="M108.6 110l4.7 1.4 0.3-4.8-4.7-1.9z"/><path class="w3" d="M113.3 111.4l4.7 2.1 0.3-4.5-4.7-2.4z"/><path class="w3" d="M118 113.5l4.7 2.4 0.4-4.3-4.8-2.6z"/><path class="w3" d="M122.7 115.9l4.7 2.2 0.4-4-4.7-2.5z"/><path class="w3" d="M127.4 118.1l4.7 2.1 0.4-3.8-4.7-2.3z"/><path class="w3" d="M132.1 120.2l4.7 2.2 0.4-3.5-4.7-2.5z"/><path class="w3" d="M136.8 122.4l4.8 2.2 0.4-3.3-4.8-2.4z"/><path class="w2" d="M141.6 124.6l4.7 2.1 0.4-3-4.7-2.4z"/><path class="w2" d="M146.3 126.7l4.8 1.9 0.4-2.8-4.8-2.1z"/><path class="w2" d="M151.1 128.6l4.7 1.7 0.4-2.5-4.7-2z"/><path class="w1" d="M155.8 130.3l4.8 1.9 0.4-2.4-4.8-2z"/><path class="w1" d="M160.6 132.2l4.7 1.9 0.5-2.3-4.8-2z"/><path class="w1" d="M165.3 134.1l4.8 2.1 0.4-2.1-4.7-2.3z"/><path class="w1" d="M170.1 136.2l4.8 2.5 0.4-1.9-4.8-2.7z"/><path d="M174.9 138.7l4.8 2.6 0.4-1.6-4.8-2.9z"/><path d="M179.7 141.3l4.8 2.4 0.4-1.3-4.8-2.7z"/><path d="M184.5 143.7l4.8 2 0.4-1.1-4.8-2.2z"/><path d="M189.3 145.7l4.9 1.5 0.3-0.9-4.8-1.7z"/><path d="M194.2 147.2l4.8 1.1 0.4-0.7-4.9-1.3z"/><path class="w1" d="M199 148.3l4.9 1 0.3-0.6-4.8-1.1z"/><path class="w5" d="M203.9 149.3l4.8 1.2 0.4-0.5-4.9-1.3z"/><path class="w9" d="M208.7 150.5l4.9 1.5 0.4-0.3-4.9-1.7z"/><path class="w14" d="M213.6 152l4.9 1.8 0.3-0.2-4.8-1.9z"/><path class="w17" d="M218.5 153.8l4.9 1.7 0.3-0.2-4.9-1.7z"/><path class="w17" d="M223.4 155.5l4.9 1.7 0.3-0.1-4.9-1.8z"/><path class="w17" d="M228.3 157.2l4.9 1.7 0.3-0.1-4.9-1.7z"/><path class="w17" d="M233.2 158.9l4.9 1.6 0.3 0-4.9-1.7z"/><path class="w17" d="M238.1 160.5l4.9 1.6 0.4 0.1-5-1.7z"/><path class="w17" d="M243 162.1l5 1.6 0.3 0.1-4.9-1.6z"/><path class="w17" d="M248 163.7l4.9 1.5 0.3 0.3-4.9-1.7z"/><path class="w17" d="M252.9 165.2l5 1.6 0.3 0.3-5-1.6z"/><path class="w17" d="M257.9 166.8l5 1.5 0.3 0.3-5-1.5z"/><path class="w17" d="M262.9 168.3l5 1.5 0.3 0.3-5-1.5z"/><path class="w17" d="M267.9 169.8l5 1.6 0.3 0.3-5-1.6z"/><path class="w3" d="M103.6 112.3l4.7 2.8 0.3-5.1-4.7-3.1z"/><path class="w3" d="M108.3 115.1l4.6 1 0.4-4.7-4.7-1.4z"/><path class="w3" d="M112.9 116.1l4.7 1.8 0.4-4.4-4.7-2.1z"/><path class="w3" d="M117.6 117.9l4.7 2.1 0.4-4.1-4.7-2.4z"/><path class="w3" d="M122.3 120l4.7 1.9 0.4-3.8-4.7-2.2z"/><path class="w3" d="M127 121.9l4.7 1.9 0.4-3.6-4.7-2.1z"/><path class="w3" d="M131.7 123.8l4.7 1.9 0.4-3.3-4.7-2.2z"/><path class="w2" d="M136.4 125.7l4.8 2 0.4-3.1-4.8-2.2z"/><path class="w2" d="M141.2 127.7l4.7 1.8 0.4-2.8-4.7-2.1z"/><path class="w2" d="M145.9 129.5l4.8 1.8 0.4-2.7-4.8-1.9z"/><path class="w2" d="M150.7 131.3l4.7 1.5 0.4-2.5-4.7-1.7z"/><path class="w1" d="M155.4 132.8l4.8 1.8 0.4-2.4-4.8-1.9z"/><path class="w1" d="M160.2 134.6l4.7 1.7 0.4-2.2-4.7-1.9z"/><path class="w1" d="M164.9 136.3l4.8 1.9 0.4-2-4.8-2.1z"/><path class="w1" d="M169.7 138.2l4.8 2.2 0.4-1.7-4.8-2.5z"/><path d="M174.5 140.4l4.8 2.4 0.4-1.5-4.8-2.6z"/><path d="M179.3 142.8l4.8 2.2 0.4-1.3-4.8-2.4z"/><path d="M184.1 145l4.8 1.7 0.4-1-4.8-2z"/><path d="M188.9 146.7l4.9 1.3 0.4-0.8-4.9-1.5z"/><path d="M193.8 148l4.8 1 0.4-0.7-4.8-1.1z"/><path class="w1" d="M198.6 149l4.9 0.9 0.4-0.6-4.9-1z"/><path class="w5" d="M203.5 149.9l4.9 1 0.3-0.4-4.8-1.2z"/><path class="w9" d="M208.4 150.9l4.8 1.5 0.4-0.4-4.9-1.5z"/><path class="w13" d="M213.2 152.4l4.9 1.7 0.4-0.3-4.9-1.8z"/><path class="w17" d="M218.1 154.1l4.9 1.6 0.4-0.2-4.9-1.7z"/><path class="w17" d="M223 155.7l4.9 1.6 0.4-0.1-4.9-1.7z"/><path class="w17" d="M227.9 157.3l4.9 1.6 0.4 0-4.9-1.7z"/><path class="w17" d="M232.8 158.9l5 1.6 0.3 0-4.9-1.6z"/><path class="w17" d="M237.8 160.5l4.9 1.5 0.3 0.1-4.9-1.6z"/><path class="w17" d="M242.7 162l5 1.5 0.3 0.2-5-1.6z"/><path class="w17" d="M247.7 163.5l4.9 1.5 0.3 0.2-4.9-1.5z"/><path class="w17" d="M252.6 165l5 1.5 0.3 0.3-5-1.6z"/><path class="w17" d="M257.6 166.5l5 1.5 0.3 0.3-5-1.5z"/><path class="w17" d="M262.6 168l5 1.5 0.3 0.3-5-1.5z"/><path class="w17" d="M267.6 169.5l5 1.6 0.3 0.3-5-1.6z"/><path class="w3" d="M103.2 117.8l4.7 2.2 0.4-4.9-4.7-2.8z"/><path class="w3" d="M107.9 120l4.6 0.6 0.4-4.5-4.6-1z"/><path class="w3" d="M112.5 120.6l4.7 1.4 0.4-4.1-4.7-1.8z"/><path class="w3" d="M117.2 122l4.7 1.9 0.4-3.9-4.7-2.1z"/><path class="w3" d="M121.9 123.9l4.7 1.7 0.4-3.7-4.7-1.9z"/><path class="w3" d="M126.6 125.6l4.7 1.7 0.4-3.5-4.7-1.9z"/><path class="w3" d="M131.3 127.3l4.7 1.6 0.4-3.2-4.7-1.9z"/><path class="w2" d="M136 128.9l4.8 1.7 0.4-2.9-4.8-2z"/><path class="w2" d="M140.8 130.6l4.7 1.6 0.4-2.7-4.7-1.8z"/><path class="w2" d="M145.5 132.2l4.7 1.6 0.5-2.5-4.8-1.8z"/><path class="w1" d="M150.2 133.8l4.8 1.3 0.4-2.3-4.7-1.5z"/><path class="w1" d="M155 135.1l4.8 1.7 0.4-2.2-4.8-1.8z"/><path class="w1" d="M159.8 136.8l4.7 1.5 0.4-2-4.7-1.7z"/><path class="w1" d="M164.5 138.3l4.8 1.8 0.4-1.9-4.8-1.9z"/><path d="M169.3 140.1l4.8 2 0.4-1.7-4.8-2.2z"/><path d="M174.1 142.1l4.8 2.1 0.4-1.4-4.8-2.4z"/><path d="M178.9 144.2l4.8 1.9 0.4-1.1-4.8-2.2z"/><path d="M183.7 146.1l4.8 1.6 0.4-1-4.8-1.7z"/><path d="M188.5 147.7l4.9 1.2 0.4-0.9-4.9-1.3z"/><path d="M193.4 148.9l4.8 0.8 0.4-0.7-4.8-1z"/><path class="w2" d="M198.2 149.7l4.9 0.8 0.4-0.6-4.9-0.9z"/><path class="w6" d="M203.1 150.5l4.9 0.9 0.4-0.5-4.9-1z"/><path class="w9" d="M208 151.4l4.9 1.4 0.3-0.4-4.8-1.5z"/><path class="w13" d="M212.9 152.8l4.9 1.6 0.3-0.3-4.9-1.7z"/><path class="w16" d="M217.8 154.4l4.9 1.5 0.3-0.2-4.9-1.6z"/><path class="w17" d="M222.7 155.9l4.9 1.6 0.3-0.2-4.9-1.6z"/><path class="w17" d="M227.6 157.5l4.9 1.5 0.3-0.1-4.9-1.6z"/><path class="w17" d="M232.5 159l4.9 1.5 0.4 0-5-1.6z"/><path class="w17" d="M237.4 160.5l5 1.5 0.3 0-4.9-1.5z"/><path class="w17" d="M242.4 162l5 1.4 0.3 0.1-5-1.5z"/><path class="w17" d="M247.4 163.4l4.9 1.4 0.3 0.2-4.9-1.5z"/><path class="w17" d="M252.3 164.8l5 1.5 0.3 0.2-5-1.5z"/><path class="w17" d="M257.3 166.3l5 1.4 0.3 0.3-5-1.5z"/><path class="w17" d="M262.3 167.7l5 1.5 0.3 0.3-5-1.5z"/><path class="w17" d="M267.3 169.2l5 1.6 0.3 0.3-5-1.6z"/><path class="w3" d="M102.9 123.6l4.7 1.1 0.3-4.7-4.7-2.2z"/><path class="w3" d="M107.6 124.7l4.6 0.2 0.3-4.3-4.6-0.6z"/><path class="w3" d="M112.2 124.9l4.6 1.1 0.4-4-4.7-1.4z"/><path class="w3" d="M116.8 126l4.7 1.6 0.4-3.7-4.7-1.9z"/><path class="w3" d="M121.5 127.6l4.7 1.4 0.4-3.4-4.7-1.7z"/><path class="w3" d="M126.2 129l4.7 1.5 0.4-3.2-4.7-1.7z"/><path class="w2" d="M130.9 130.5l4.7 1.4 0.4-3-4.7-1.6z"/><path class="w2" d="M135.6 131.9l4.8 1.5 0.4-2.8-4.8-1.7z"/><path class="w2" d="M140.4 133.4l4.7 1.4 0.4-2.6-4.7-1.6z"/><path class="w1" d="M145.1 134.8l4.7 1.3 0.4-2.3-4.7-1.6z"/><path class="w1" d="M149.8 136.1l4.8 1.2 0.4-2.2-4.8-1.3z"/><path class="w1" d="M154.6 137.3l4.8 1.6 0.4-2.1-4.8-1.7z"/><path class="w1" d="M159.4 138.9l4.7 1.4 0.4-2-4.7-1.5z"/><path class="w1" d="M164.1 140.3l4.8 1.5 0.4-1.7-4.8-1.8z"/><path d="M168.9 141.8l4.8 1.8 0.4-1.5-4.8-2z"/><path d="M173.7 143.6l4.8 1.9 0.4-1.3-4.8-2.1z"/><path d="M178.5 145.5l4.8 1.8 0.4-1.2-4.8-1.9z"/><path d="M183.3 147.3l4.9 1.4 0.3-1-4.8-1.6z"/><path d="M188.2 148.7l4.8 1 0.4-0.8-4.9-1.2z"/><path d="M193 149.7l4.9 0.7 0.3-0.7-4.8-0.8z"/><path class="w3" d="M197.9 150.4l4.8 0.7 0.4-0.6-4.9-0.8z"/><path class="w6" d="M202.7 151.1l4.9 0.8 0.4-0.5-4.9-0.9z"/><path class="w9" d="M207.6 151.9l4.9 1.3 0.4-0.4-4.9-1.4z"/><path class="w13" d="M212.5 153.2l4.9 1.5 0.4-0.3-4.9-1.6z"/><path class="w16" d="M217.4 154.7l4.9 1.5 0.4-0.3-4.9-1.5z"/><path class="w17" d="M222.3 156.2l4.9 1.5 0.4-0.2-4.9-1.6z"/><path class="w17" d="M227.2 157.7l5 1.4 0.3-0.1-4.9-1.5z"/><path class="w17" d="M232.2 159.1l4.9 1.5 0.3-0.1-4.9-1.5z"/><path class="w17" d="M237.1 160.6l5 1.4 0.3 0-5-1.5z"/><path class="w17" d="M242.1 162l4.9 1.3 0.4 0.1-5-1.4z"/><path class="w17" d="M247 163.3l5 1.3 0.3 0.2-4.9-1.4z"/><path class="w17" d="M252 164.6l5 1.4 0.3 0.3-5-1.5z"/><path class="w17" d="M257 166l5 1.5 0.3 0.2-5-1.4z"/><path class="w17" d="M262 167.5l5 1.4 0.3 0.3-5-1.5z"/><path class="w17" d="M267 168.9l5.1 1.6 0.2 0.3-5-1.6z"/><path class="w3" d="M102.6 129l4.6 0.1 0.4-4.4-4.7-1.1z"/><path class="w3" d="M107.2 129.1l4.6-0.2 0.4-4-4.6-0.2z"/><path class="w3" d="M111.8 128.9l4.7 0.9 0.3-3.8-4.6-1.1z"/><path class="w3" d="M116.5 129.8l4.6 1.3 0.4-3.5-4.7-1.6z"/><path class="w3" d="M121.1 131.1l4.7 1.2 0.4-3.3-4.7-1.4z"/><path class="w2" d="M125.8 132.3l4.7 1.3 0.4-3.1-4.7-1.5z"/><path class="w2" d="M130.5 133.6l4.7 1.1 0.4-2.8-4.7-1.4z"/><path class="w2" d="M135.2 134.7l4.8 1.3 0.4-2.6-4.8-1.5z"/><path class="w2" d="M140 136l4.7 1.2 0.4-2.4-4.7-1.4z"/><path class="w1" d="M144.7 137.2l4.7 1.1 0.4-2.2-4.7-1.3z"/><path class="w1" d="M149.4 138.3l4.8 1.1 0.4-2.1-4.8-1.2z"/><path class="w1" d="M154.2 139.4l4.8 1.4 0.4-1.9-4.8-1.6z"/><path class="w1" d="M159 140.8l4.7 1.3 0.4-1.8-4.7-1.4z"/><path d="M163.7 142.1l4.8 1.4 0.4-1.7-4.8-1.5z"/><path d="M168.5 143.5l4.8 1.6 0.4-1.5-4.8-1.8z"/><path d="M173.3 145.1l4.8 1.7 0.4-1.3-4.8-1.9z"/><path d="M178.1 146.8l4.8 1.5 0.4-1-4.8-1.8z"/><path d="M182.9 148.3l4.9 1.3 0.4-0.9-4.9-1.4z"/><path d="M187.8 149.6l4.8 0.8 0.4-0.7-4.8-1z"/><path d="M192.6 150.4l4.9 0.7 0.4-0.7-4.9-0.7z"/><path class="w3" d="M197.5 151.1l4.9 0.6 0.3-0.6-4.8-0.7z"/><path class="w6" d="M202.4 151.7l4.9 0.7 0.3-0.5-4.9-0.8z"/><path class="w9" d="M207.3 152.4l4.9 1.2 0.3-0.4-4.9-1.3z"/><path class="w12" d="M212.2 153.6l4.9 1.4 0.3-0.3-4.9-1.5z"/><path class="w15" d="M217.1 155l4.9 1.4 0.3-0.2-4.9-1.5z"/><path class="w17" d="M222 156.4l4.9 1.5 0.3-0.2-4.9-1.5z"/><path class="w17" d="M226.9 157.9l4.9 1.4 0.4-0.2-5-1.4z"/><path class="w17" d="M231.8 159.3l5 1.4 0.3-0.1-4.9-1.5z"/><path class="w17" d="M236.8 160.7l4.9 1.3 0.4 0-5-1.4z"/><path class="w17" d="M241.7 162l5 1.2 0.3 0.1-4.9-1.3z"/><path class="w17" d="M246.7 163.2l5 1.3 0.3 0.1-5-1.3z"/><path class="w17" d="M251.7 164.5l5 1.4 0.3 0.1-5-1.4z"/><path class="w17" d="M256.7 165.9l5 1.4 0.3 0.2-5-1.5z"/><path class="w17" d="M261.7 167.3l5 1.4 0.3 0.2-5-1.4z"/><path class="w17" d="M266.7 168.7l5.1 1.6 0.3 0.2-5.1-1.6z"/><path class="w3" d="M102.2 133.1l4.6 0.1 0.4-4.1-4.6-0.1z"/><path class="w3" d="M106.8 133.2l4.6-0.4 0.4-3.9-4.6 0.2z"/><path class="w3" d="M111.4 132.8l4.7 0.6 0.4-3.6-4.7-0.9z"/><path class="w3" d="M116.1 133.4l4.7 1 0.3-3.3-4.6-1.3z"/><path class="w3" d="M120.8 134.4l4.6 1 0.4-3.1-4.7-1.2z"/><path class="w2" d="M125.4 135.4l4.7 1.1 0.4-2.9-4.7-1.3z"/><path class="w2" d="M130.1 136.5l4.7 0.9 0.4-2.7-4.7-1.1z"/><path class="w2" d="M134.8 137.4l4.8 1 0.4-2.4-4.8-1.3z"/><path class="w1" d="M139.6 138.4l4.7 1 0.4-2.2-4.7-1.2z"/><path class="w1" d="M144.3 139.4l4.7 1 0.4-2.1-4.7-1.1z"/><path class="w1" d="M149 140.4l4.8 1 0.4-2-4.8-1.1z"/><path class="w1" d="M153.8 141.4l4.7 1.2 0.5-1.8-4.8-1.4z"/><path d="M158.5 142.6l4.8 1.2 0.4-1.7-4.7-1.3z"/><path d="M163.3 143.8l4.8 1.3 0.4-1.6-4.8-1.4z"/><path d="M168.1 145.1l4.8 1.4 0.4-1.4-4.8-1.6z"/><path d="M172.9 146.5l4.8 1.5 0.4-1.2-4.8-1.7z"/><path d="M177.7 148l4.8 1.4 0.4-1.1-4.8-1.5z"/><path d="M182.5 149.4l4.9 1 0.4-0.8-4.9-1.3z"/><path d="M187.4 150.4l4.8 0.8 0.4-0.8-4.8-0.8z"/><path d="M192.2 151.2l4.9 0.5 0.4-0.6-4.9-0.7z"/><path class="w4" d="M197.1 151.7l4.9 0.5 0.4-0.5-4.9-0.6z"/><path class="w7" d="M202 152.2l4.9 0.7 0.4-0.5-4.9-0.7z"/><path class="w9" d="M206.9 152.9l4.9 1.1 0.4-0.4-4.9-1.2z"/><path class="w12" d="M211.8 154l4.9 1.3 0.4-0.3-4.9-1.4z"/><path class="w15" d="M216.7 155.3l4.9 1.4 0.4-0.3-4.9-1.4z"/><path class="w17" d="M221.6 156.7l5 1.4 0.3-0.2-4.9-1.5z"/><path class="w17" d="M226.6 158.1l4.9 1.3 0.3-0.1-4.9-1.4z"/><path class="w17" d="M231.5 159.4l5 1.4 0.3-0.1-5-1.4z"/><path class="w17" d="M236.5 160.8l4.9 1.2 0.3 0-4.9-1.3z"/><path class="w17" d="M241.4 162l5 1.2 0.3 0-5-1.2z"/><path class="w17" d="M246.4 163.2l5 1.2 0.3 0.1-5-1.3z"/><path class="w17" d="M251.4 164.4l5 1.3 0.3 0.2-5-1.4z"/><path class="w17" d="M256.4 165.7l5 1.4 0.3 0.2-5-1.4z"/><path class="w17" d="M261.4 167.1l5.1 1.4 0.2 0.2-5-1.4z"/><path class="w17" d="M266.5 168.5l5 1.6 0.3 0.2-5.1-1.6z"/><path class="w3" d="M101.8 136.6l4.6 0.2 0.4-3.6-4.6-0.1z"/><path class="w3" d="M106.4 136.8l4.7-0.4 0.3-3.6-4.6 0.4z"/><path class="w3" d="M111.1 136.4l4.6 0.4 0.4-3.4-4.7-0.6z"/><path class="w3" d="M115.7 136.8l4.7 0.8 0.4-3.2-4.7-1z"/><path class="w2" d="M120.4 137.6l4.6 0.8 0.4-3-4.6-1z"/><path class="w2" d="M125 138.4l4.7 0.8 0.4-2.7-4.7-1.1z"/><path class="w2" d="M129.7 139.2l4.7 0.8 0.4-2.6-4.7-0.9z"/><path class="w1" d="M134.4 140l4.7 0.8 0.5-2.4-4.8-1z"/><path class="w1" d="M139.1 140.8l4.8 0.8 0.4-2.2-4.7-1z"/><path class="w1" d="M143.9 141.6l4.7 0.8 0.4-2-4.7-1z"/><path class="w1" d="M148.6 142.4l4.8 0.9 0.4-1.9-4.8-1z"/><path class="w1" d="M153.4 143.3l4.7 1.1 0.4-1.8-4.7-1.2z"/><path d="M158.1 144.4l4.8 1 0.4-1.6-4.8-1.2z"/><path d="M162.9 145.4l4.8 1.1 0.4-1.4-4.8-1.3z"/><path d="M167.7 146.5l4.8 1.3 0.4-1.3-4.8-1.4z"/><path d="M172.5 147.8l4.8 1.4 0.4-1.2-4.8-1.5z"/><path d="M177.3 149.2l4.9 1.2 0.3-1-4.8-1.4z"/><path d="M182.2 150.4l4.8 0.9 0.4-0.9-4.9-1z"/><path d="M187 151.3l4.8 0.6 0.4-0.7-4.8-0.8z"/><path class="w1" d="M191.8 151.9l4.9 0.5 0.4-0.7-4.9-0.5z"/><path class="w4" d="M196.7 152.4l4.9 0.4 0.4-0.6-4.9-0.5z"/><path class="w7" d="M201.6 152.8l4.9 0.6 0.4-0.5-4.9-0.7z"/><path class="w9" d="M206.5 153.4l4.9 1 0.4-0.4-4.9-1.1z"/><path class="w12" d="M211.4 154.4l4.9 1.2 0.4-0.3-4.9-1.3z"/><path class="w14" d="M216.3 155.6l5 1.4 0.3-0.3-4.9-1.4z"/><path class="w16" d="M221.3 157l4.9 1.3 0.4-0.2-5-1.4z"/><path class="w17" d="M226.2 158.3l5 1.3 0.3-0.2-4.9-1.3z"/><path class="w17" d="M231.2 159.6l4.9 1.3 0.4-0.1-5-1.4z"/><path class="w17" d="M236.1 160.9l5 1.2 0.3-0.1-4.9-1.2z"/><path class="w17" d="M241.1 162.1l5 1.1 0.3 0-5-1.2z"/><path class="w17" d="M246.1 163.2l5 1.2 0.3 0-5-1.2z"/><path class="w17" d="M251.1 164.4l5 1.2 0.3 0.1-5-1.3z"/><path class="w17" d="M256.1 165.6l5 1.3 0.3 0.2-5-1.4z"/><path class="w17" d="M261.1 166.9l5.1 1.4 0.3 0.2-5.1-1.4z"/><path class="w17" d="M266.2 168.3l5 1.6 0.3 0.2-5-1.6z"/><path class="w3" d="M101.5 139.6l4.6 0.5 0.3-3.3-4.6-0.2z"/><path class="w3" d="M106.1 140.1l4.6-0.3 0.4-3.4-4.7 0.4z"/><path class="w3" d="M110.7 139.8l4.6 0.2 0.4-3.2-4.6-0.4z"/><path class="w2" d="M115.3 140l4.7 0.6 0.4-3-4.7-0.8z"/><path class="w2" d="M120 140.6l4.6 0.6 0.4-2.8-4.6-0.8z"/><path class="w2" d="M124.6 141.2l4.7 0.6 0.4-2.6-4.7-0.8z"/><path class="w2" d="M129.3 141.8l4.7 0.6 0.4-2.4-4.7-0.8z"/><path class="w1" d="M134 142.4l4.7 0.6 0.4-2.2-4.7-0.8z"/><path class="w1" d="M138.7 143l4.8 0.7 0.4-2.1-4.8-0.8z"/><path class="w1" d="M143.5 143.7l4.7 0.6 0.4-1.9-4.7-0.8z"/><path class="w1" d="M148.2 144.3l4.8 0.7 0.4-1.7-4.8-0.9z"/><path d="M153 145l4.7 1 0.4-1.6-4.7-1.1z"/><path d="M157.7 146l4.8 0.9 0.4-1.5-4.8-1z"/><path d="M162.5 146.9l4.8 1 0.4-1.4-4.8-1.1z"/><path d="M167.3 147.9l4.8 1.2 0.4-1.3-4.8-1.3z"/><path d="M172.1 149.1l4.8 1.1 0.4-1-4.8-1.4z"/><path d="M176.9 150.2l4.9 1.1 0.4-0.9-4.9-1.2z"/><path d="M181.8 151.3l4.8 0.8 0.4-0.8-4.8-0.9z"/><path d="M186.6 152.1l4.9 0.6 0.3-0.8-4.8-0.6z"/><path class="w2" d="M191.5 152.7l4.8 0.3 0.4-0.6-4.9-0.5z"/><path class="w5" d="M196.3 153l4.9 0.4 0.4-0.6-4.9-0.4z"/><path class="w7" d="M201.2 153.4l4.9 0.5 0.4-0.5-4.9-0.6z"/><path class="w9" d="M206.1 153.9l5 0.9 0.3-0.4-4.9-1z"/><path class="w11" d="M211.1 154.8l4.9 1.2 0.3-0.4-4.9-1.2z"/><path class="w14" d="M216 156l4.9 1.3 0.4-0.3-5-1.4z"/><path class="w16" d="M220.9 157.3l5 1.3 0.3-0.3-4.9-1.3z"/><path class="w17" d="M225.9 158.6l4.9 1.2 0.4-0.2-5-1.3z"/><path class="w17" d="M230.8 159.8l5 1.3 0.3-0.2-4.9-1.3z"/><path class="w17" d="M235.8 161.1l5 1.1 0.3-0.1-5-1.2z"/><path class="w17" d="M240.8 162.2l5 1.1 0.3-0.1-5-1.1z"/><path class="w17" d="M245.8 163.3l5 1.1 0.3 0-5-1.2z"/><path class="w17" d="M250.8 164.4l5 1.1 0.3 0.1-5-1.2z"/><path class="w17" d="M255.8 165.5l5 1.3 0.3 0.1-5-1.3z"/><path class="w17" d="M260.8 166.8l5.1 1.4 0.3 0.1-5.1-1.4z"/><path class="w17" d="M265.9 168.2l5 1.6 0.3 0.1-5-1.6z"/><path class="w2" d="M101.1 142.4l4.6 0.8 0.4-3.1-4.6-0.5z"/><path class="w2" d="M105.7 143.2l4.6-0.3 0.4-3.1-4.6 0.3z"/><path class="w2" d="M110.3 142.9l4.6 0.2 0.4-3.1-4.6-0.2z"/><path class="w2" d="M114.9 143.1l4.7 0.4 0.4-2.9-4.7-0.6z"/><path class="w2" d="M119.6 143.5l4.6 0.3 0.4-2.6-4.6-0.6z"/><path class="w2" d="M124.2 143.8l4.7 0.5 0.4-2.5-4.7-0.6z"/><path class="w1" d="M128.9 144.3l4.7 0.4 0.4-2.3-4.7-0.6z"/><path class="w1" d="M133.6 144.7l4.7 0.4 0.4-2.1-4.7-0.6z"/><path class="w1" d="M138.3 145.1l4.8 0.5 0.4-1.9-4.8-0.7z"/><path class="w1" d="M143.1 145.6l4.7 0.6 0.4-1.9-4.7-0.6z"/><path d="M147.8 146.2l4.8 0.5 0.4-1.7-4.8-0.7z"/><path d="M152.6 146.7l4.7 0.9 0.4-1.6-4.7-1z"/><path d="M157.3 147.6l4.8 0.8 0.4-1.5-4.8-0.9z"/><path d="M162.1 148.4l4.8 0.8 0.4-1.3-4.8-1z"/><path d="M166.9 149.2l4.8 1 0.4-1.1-4.8-1.2z"/><path d="M171.7 150.2l4.8 1.1 0.4-1.1-4.8-1.1z"/><path d="M176.5 151.3l4.9 0.9 0.4-0.9-4.9-1.1z"/><path d="M181.4 152.2l4.8 0.7 0.4-0.8-4.8-0.8z"/><path d="M186.2 152.9l4.9 0.5 0.4-0.7-4.9-0.6z"/><path class="w3" d="M191.1 153.4l4.9 0.3 0.3-0.7-4.8-0.3z"/><path class="w5" d="M196 153.7l4.9 0.2 0.3-0.5-4.9-0.4z"/><path class="w7" d="M200.9 153.9l4.9 0.5 0.3-0.5-4.9-0.5z"/><path class="w9" d="M205.8 154.4l4.9 0.9 0.4-0.5-5-0.9z"/><path class="w11" d="M210.7 155.3l4.9 1.1 0.4-0.4-4.9-1.2z"/><path class="w13" d="M215.6 156.4l5 1.2 0.3-0.3-4.9-1.3z"/><path class="w15" d="M220.6 157.6l4.9 1.2 0.4-0.2-5-1.3z"/><path class="w17" d="M225.5 158.8l5 1.3 0.3-0.3-4.9-1.2z"/><path class="w17" d="M230.5 160.1l4.9 1.1 0.4-0.1-5-1.3z"/><path class="w17" d="M235.4 161.2l5 1.1 0.4-0.1-5-1.1z"/><path class="w17" d="M240.4 162.3l5 1.1 0.4-0.1-5-1.1z"/><path class="w17" d="M245.4 163.4l5.1 1 0.3 0-5-1.1z"/><path class="w17" d="M250.5 164.4l5 1.1 0.3 0-5-1.1z"/><path class="w17" d="M255.5 165.5l5 1.2 0.3 0.1-5-1.3z"/><path class="w17" d="M260.5 166.7l5.1 1.4 0.3 0.1-5.1-1.4z"/><path class="w17" d="M265.6 168.1l5 1.5 0.3 0.2-5-1.6z"/><path class="w2" d="M100.7 145.2l4.6 0.8 0.4-2.8-4.6-0.8z"/><path class="w2" d="M105.3 146l4.6-0.1 0.4-3-4.6 0.3z"/><path class="w2" d="M109.9 145.9l4.6 0.1 0.4-2.9-4.6-0.2z"/><path class="w2" d="M114.5 146l4.7 0.2 0.4-2.7-4.7-0.4z"/><path class="w2" d="M119.2 146.2l4.6 0.2 0.4-2.6-4.6-0.3z"/><path class="w1" d="M123.8 146.4l4.7 0.3 0.4-2.4-4.7-0.5z"/><path class="w1" d="M128.5 146.7l4.7 0.2 0.4-2.2-4.7-0.4z"/><path class="w1" d="M133.2 146.9l4.7 0.2 0.4-2-4.7-0.4z"/><path class="w1" d="M137.9 147.1l4.7 0.4 0.5-1.9-4.8-0.5z"/><path class="w1" d="M142.6 147.5l4.8 0.4 0.4-1.7-4.7-0.6z"/><path d="M147.4 147.9l4.7 0.5 0.5-1.7-4.8-0.5z"/><path d="M152.1 148.4l4.8 0.6 0.4-1.4-4.7-0.9z"/><path d="M156.9 149l4.8 0.7 0.4-1.3-4.8-0.8z"/><path d="M161.7 149.7l4.8 0.8 0.4-1.3-4.8-0.8z"/><path d="M166.5 150.5l4.8 0.8 0.4-1.1-4.8-1z"/><path d="M171.3 151.3l4.8 1 0.4-1-4.8-1.1z"/><path d="M176.1 152.3l4.9 0.8 0.4-0.9-4.9-0.9z"/><path d="M181 153.1l4.8 0.6 0.4-0.8-4.8-0.7z"/><path d="M185.8 153.7l4.9 0.3 0.4-0.6-4.9-0.5z"/><path class="w3" d="M190.7 154l4.9 0.3 0.4-0.6-4.9-0.3z"/><path class="w6" d="M195.6 154.3l4.9 0.2 0.4-0.6-4.9-0.2z"/><path class="w7" d="M200.5 154.5l4.9 0.4 0.4-0.5-4.9-0.5z"/><path class="w9" d="M205.4 154.9l4.9 0.8 0.4-0.4-4.9-0.9z"/><path class="w11" d="M210.3 155.7l5 1 0.3-0.3-4.9-1.1z"/><path class="w13" d="M215.3 156.7l4.9 1.2 0.4-0.3-5-1.2z"/><path class="w15" d="M220.2 157.9l5 1.2 0.3-0.3-4.9-1.2z"/><path class="w16" d="M225.2 159.1l4.9 1.2 0.4-0.2-5-1.3z"/><path class="w17" d="M230.1 160.3l5 1.1 0.3-0.2-4.9-1.1z"/><path class="w17" d="M235.1 161.4l5 1.1 0.3-0.2-5-1.1z"/><path class="w17" d="M240.1 162.5l5 1 0.3-0.1-5-1.1z"/><path class="w17" d="M245.1 163.5l5 0.9 0.4 0-5.1-1z"/><path class="w17" d="M250.1 164.4l5.1 1.1 0.3 0-5-1.1z"/><path class="w17" d="M255.2 165.5l5 1.2 0.3 0-5-1.2z"/><path class="w17" d="M260.2 166.7l5.1 1.3 0.3 0.1-5.1-1.4z"/><path class="w17" d="M265.3 168l5 1.5 0.3 0.1-5-1.5z"/><path class="w2" d="M100.3 148l4.6 0.7 0.4-2.7-4.6-0.8z"/><path class="w2" d="M104.9 148.7l4.6 0 0.4-2.8-4.6 0.1z"/><path class="w2" d="M109.5 148.7l4.6 0.1 0.4-2.8-4.6-0.1z"/><path class="w2" d="M114.1 148.8l4.7 0 0.4-2.6-4.7-0.2z"/><path class="w2" d="M118.8 148.8l4.6 0 0.4-2.4-4.6-0.2z"/><path class="w1" d="M123.4 148.8l4.7 0.1 0.4-2.2-4.7-0.3z"/><path class="w1" d="M128.1 148.9l4.7 0.1 0.4-2.1-4.7-0.2z"/><path class="w1" d="M132.8 149l4.7 0 0.4-1.9-4.7-0.2z"/><path class="w1" d="M137.5 149l4.7 0.3 0.4-1.8-4.7-0.4z"/><path d="M142.2 149.3l4.8 0.3 0.4-1.7-4.8-0.4z"/><path d="M147 149.6l4.7 0.3 0.4-1.5-4.7-0.5z"/><path d="M151.7 149.9l4.8 0.5 0.4-1.4-4.8-0.6z"/><path d="M156.5 150.4l4.8 0.6 0.4-1.3-4.8-0.7z"/><path d="M161.3 151l4.8 0.7 0.4-1.2-4.8-0.8z"/><path d="M166.1 151.7l4.8 0.7 0.4-1.1-4.8-0.8z"/><path d="M170.9 152.4l4.8 0.8 0.4-0.9-4.8-1z"/><path d="M175.7 153.2l4.9 0.7 0.4-0.8-4.9-0.8z"/><path d="M180.6 153.9l4.8 0.5 0.4-0.7-4.8-0.6z"/><path class="w1" d="M185.4 154.4l4.9 0.3 0.4-0.7-4.9-0.3z"/><path class="w4" d="M190.3 154.7l4.9 0.2 0.4-0.6-4.9-0.3z"/><path class="w6" d="M195.2 154.9l4.9 0.2 0.4-0.6-4.9-0.2z"/><path class="w8" d="M200.1 155.1l4.9 0.3 0.4-0.5-4.9-0.4z"/><path class="w9" d="M205 155.4l5 0.8 0.3-0.5-4.9-0.8z"/><path class="w11" d="M210 156.2l4.9 0.9 0.4-0.4-5-1z"/><path class="w13" d="M214.9 157.1l4.9 1.1 0.4-0.3-4.9-1.2z"/><path class="w14" d="M219.8 158.2l5 1.2 0.4-0.3-5-1.2z"/><path class="w16" d="M224.8 159.4l5 1.2 0.3-0.3-4.9-1.2z"/><path class="w17" d="M229.8 160.6l5 1.1 0.3-0.3-5-1.1z"/><path class="w17" d="M234.8 161.7l5 1 0.3-0.2-5-1.1z"/><path class="w17" d="M239.8 162.7l5 0.9 0.3-0.1-5-1z"/><path class="w17" d="M244.8 163.6l5 0.9 0.3-0.1-5-0.9z"/><path class="w17" d="M249.8 164.5l5.1 1 0.3 0-5.1-1.1z"/><path class="w17" d="M254.9 165.5l5 1.1 0.3 0.1-5-1.2z"/><path class="w17" d="M259.9 166.6l5.1 1.3 0.3 0.1-5.1-1.3z"/><path class="w17" d="M265 167.9l5 1.6 0.3 0-5-1.5z"/><path class="w2" d="M99.9 150.9l4.6 0.5 0.4-2.7-4.6-0.7z"/><path class="w2" d="M104.5 151.4l4.6 0.1 0.4-2.8-4.6 0z"/><path class="w2" d="M109.1 151.5l4.6 0 0.4-2.7-4.6-0.1z"/><path class="w2" d="M113.7 151.5l4.7-0.2 0.4-2.5-4.7 0z"/><path class="w1" d="M118.4 151.3l4.6-0.2 0.4-2.3-4.6 0z"/><path class="w1" d="M123 151.1l4.7 0 0.4-2.2-4.7-0.1z"/><path class="w1" d="M127.7 151.1l4.7-0.1 0.4-2-4.7-0.1z"/><path class="w1" d="M132.4 151l4.7-0.1 0.4-1.9-4.7 0z"/><path d="M137.1 150.9l4.7 0.1 0.4-1.7-4.7-0.3z"/><path d="M141.8 151l4.8 0.2 0.4-1.6-4.8-0.3z"/><path d="M146.6 151.2l4.7 0.2 0.4-1.5-4.7-0.3z"/><path d="M151.3 151.4l4.8 0.4 0.4-1.4-4.8-0.5z"/><path d="M156.1 151.8l4.8 0.5 0.4-1.3-4.8-0.6z"/><path d="M160.9 152.3l4.8 0.5 0.4-1.1-4.8-0.7z"/><path d="M165.7 152.8l4.8 0.6 0.4-1-4.8-0.7z"/><path d="M170.5 153.4l4.8 0.7 0.4-0.9-4.8-0.8z"/><path d="M175.3 154.1l4.9 0.6 0.4-0.8-4.9-0.7z"/><path d="M180.2 154.7l4.8 0.4 0.4-0.7-4.8-0.5z"/><path class="w2" d="M185 155.1l4.9 0.2 0.4-0.6-4.9-0.3z"/><path class="w5" d="M189.9 155.3l4.9 0.2 0.4-0.6-4.9-0.2z"/><path class="w7" d="M194.8 155.5l4.9 0.1 0.4-0.5-4.9-0.2z"/><path class="w8" d="M199.7 155.6l5 0.4 0.3-0.6-4.9-0.3z"/><path class="w9" d="M204.7 156l4.9 0.6 0.4-0.4-5-0.8z"/><path class="w11" d="M209.6 156.6l4.9 0.9 0.4-0.4-4.9-0.9z"/><path class="w12" d="M214.5 157.5l5 1.1 0.3-0.4-4.9-1.1z"/><path class="w14" d="M219.5 158.6l5 1.1 0.3-0.3-5-1.2z"/><path class="w15" d="M224.5 159.7l4.9 1.1 0.4-0.2-5-1.2z"/><path class="w17" d="M229.4 160.8l5 1.1 0.4-0.2-5-1.1z"/><path class="w17" d="M234.4 161.9l5 1 0.4-0.2-5-1z"/><path class="w17" d="M239.4 162.9l5.1 0.9 0.3-0.2-5-0.9z"/><path class="w17" d="M244.5 163.8l5 0.8 0.3-0.1-5-0.9z"/><path class="w17" d="M249.5 164.6l5.1 1 0.3-0.1-5.1-1z"/><path class="w17" d="M254.6 165.6l5 1 0.3 0-5-1.1z"/><path class="w17" d="M259.6 166.6l5.1 1.3 0.3 0-5.1-1.3z"/><path class="w17" d="M264.7 167.9l5.1 1.5 0.2 0.1-5-1.6z"/><path class="w2" d="M99.5 153.7l4.6 0.3 0.4-2.6-4.6-0.5z"/><path class="w2" d="M104.1 154l4.6 0.1 0.4-2.6-4.6-0.1z"/><path class="w2" d="M108.7 154.1l4.6-0.1 0.4-2.5-4.6 0z"/><path class="w1" d="M113.3 154l4.7-0.3 0.4-2.4-4.7 0.2z"/><path class="w1" d="M118 153.7l4.6-0.4 0.4-2.2-4.6 0.2z"/><path class="w1" d="M122.6 153.3l4.7-0.1 0.4-2.1-4.7 0z"/><path class="w1" d="M127.3 153.2l4.7-0.3 0.4-1.9-4.7 0.1z"/><path class="w1" d="M132 152.9l4.7-0.2 0.4-1.8-4.7 0.1z"/><path d="M136.7 152.7l4.7 0 0.4-1.7-4.7-0.1z"/><path d="M141.4 152.7l4.8 0 0.4-1.5-4.8-0.2z"/><path d="M146.2 152.7l4.7 0.1 0.4-1.4-4.7-0.2z"/><path d="M150.9 152.8l4.8 0.3 0.4-1.3-4.8-0.4z"/><path d="M155.7 153.1l4.8 0.3 0.4-1.1-4.8-0.5z"/><path d="M160.5 153.4l4.8 0.4 0.4-1-4.8-0.5z"/><path d="M165.3 153.8l4.8 0.6 0.4-1-4.8-0.6z"/><path d="M170.1 154.4l4.8 0.6 0.4-0.9-4.8-0.7z"/><path d="M174.9 155l4.9 0.5 0.4-0.8-4.9-0.6z"/><path d="M179.8 155.5l4.8 0.3 0.4-0.7-4.8-0.4z"/><path class="w3" d="M184.6 155.8l4.9 0.2 0.4-0.7-4.9-0.2z"/><path class="w5" d="M189.5 156l4.9 0.1 0.4-0.6-4.9-0.2z"/><path class="w7" d="M194.4 156.1l4.9 0.1 0.4-0.6-4.9-0.1z"/><path class="w8" d="M199.3 156.2l5 0.3 0.4-0.5-5-0.4z"/><path class="w9" d="M204.3 156.5l4.9 0.6 0.4-0.5-4.9-0.6z"/><path class="w10" d="M209.2 157.1l5 0.8 0.3-0.4-4.9-0.9z"/><path class="w12" d="M214.2 157.9l4.9 1.1 0.4-0.4-5-1.1z"/><path class="w13" d="M219.1 159l5 1.1 0.4-0.4-5-1.1z"/><path class="w15" d="M224.1 160.1l5 1 0.3-0.3-4.9-1.1z"/><path class="w16" d="M229.1 161.1l5 1.1 0.3-0.3-5-1.1z"/><path class="w17" d="M234.1 162.2l5 0.9 0.3-0.2-5-1z"/><path class="w17" d="M239.1 163.1l5 0.8 0.4-0.1-5.1-0.9z"/><path class="w17" d="M244.1 163.9l5.1 0.8 0.3-0.1-5-0.8z"/><path class="w17" d="M249.2 164.7l5 0.9 0.4 0-5.1-1z"/><path class="w17" d="M254.2 165.6l5.1 1.1 0.3-0.1-5-1z"/><path class="w17" d="M259.3 166.7l5.1 1.2 0.3 0-5.1-1.3z"/><path class="w17" d="M264.4 167.9l5.1 1.5 0.3 0-5.1-1.5z"/><path class="w2" d="M99.1 156.6l4.6 0.1 0.4-2.7-4.6-0.3z"/><path class="w2" d="M103.7 156.7l4.6-0.1 0.4-2.5-4.6-0.1z"/><path class="w1" d="M108.3 156.6l4.6-0.1 0.4-2.5-4.6 0.1z"/><path class="w1" d="M112.9 156.5l4.7-0.5 0.4-2.3-4.7 0.3z"/><path class="w1" d="M117.6 156l4.6-0.5 0.4-2.2-4.6 0.4z"/><path class="w1" d="M122.2 155.5l4.7-0.3 0.4-2-4.7 0.1z"/><path class="w1" d="M126.9 155.2l4.7-0.4 0.4-1.9-4.7 0.3z"/><path d="M131.6 154.8l4.7-0.4 0.4-1.7-4.7 0.2z"/><path d="M136.3 154.4l4.7-0.1 0.4-1.6-4.7 0z"/><path d="M141 154.3l4.7-0.1 0.5-1.5-4.8 0z"/><path d="M145.7 154.2l4.8-0.1 0.4-1.3-4.7-0.1z"/><path d="M150.5 154.1l4.8 0.2 0.4-1.2-4.8-0.3z"/><path d="M155.3 154.3l4.8 0.3 0.4-1.2-4.8-0.3z"/><path d="M160.1 154.6l4.8 0.2 0.4-1-4.8-0.4z"/><path d="M164.9 154.8l4.8 0.5 0.4-0.9-4.8-0.6z"/><path d="M169.7 155.3l4.8 0.5 0.4-0.8-4.8-0.6z"/><path d="M174.5 155.8l4.9 0.4 0.4-0.7-4.9-0.5z"/><path d="M179.4 156.2l4.9 0.3 0.3-0.7-4.8-0.3z"/><path class="w3" d="M184.3 156.5l4.8 0.1 0.4-0.6-4.9-0.2z"/><path class="w6" d="M189.1 156.6l4.9 0 0.4-0.5-4.9-0.1z"/><path class="w7" d="M194 156.6l5 0.1 0.3-0.5-4.9-0.1z"/><path class="w8" d="M199 156.7l4.9 0.3 0.4-0.5-5-0.3z"/><path class="w9" d="M203.9 157l4.9 0.5 0.4-0.4-4.9-0.6z"/><path class="w10" d="M208.8 157.5l5 0.9 0.4-0.5-5-0.8z"/><path class="w12" d="M213.8 158.4l5 0.9 0.3-0.3-4.9-1.1z"/><path class="w13" d="M218.8 159.3l4.9 1.1 0.4-0.3-5-1.1z"/><path class="w14" d="M223.7 160.4l5 1.1 0.4-0.4-5-1z"/><path class="w15" d="M228.7 161.5l5 1 0.4-0.3-5-1.1z"/><path class="w17" d="M233.7 162.5l5.1 0.9 0.3-0.3-5-0.9z"/><path class="w17" d="M238.8 163.4l5 0.7 0.3-0.2-5-0.8z"/><path class="w17" d="M243.8 164.1l5.1 0.8 0.3-0.2-5.1-0.8z"/><path class="w17" d="M248.9 164.9l5 0.8 0.3-0.1-5-0.9z"/><path class="w17" d="M253.9 165.7l5.1 1 0.3 0-5.1-1.1z"/><path class="w17" d="M259 166.7l5.1 1.2 0.3 0-5.1-1.2z"/><path class="w17" d="M264.1 167.9l5.1 1.5 0.3 0-5.1-1.5z"/><path class="w2" d="M98.7 159.3l4.6 0 0.4-2.6-4.6-0.1z"/><path class="w1" d="M103.3 159.3l4.6-0.3 0.4-2.4-4.6 0.1z"/><path class="w1" d="M107.9 159l4.6-0.2 0.4-2.3-4.6 0.1z"/><path class="w1" d="M112.5 158.8l4.6-0.5 0.5-2.3-4.7 0.5z"/><path class="w1" d="M117.1 158.3l4.7-0.7 0.4-2.1-4.6 0.5z"/><path class="w1" d="M121.8 157.6l4.7-0.4 0.4-2-4.7 0.3z"/><path d="M126.5 157.2l4.7-0.6 0.4-1.8-4.7 0.4z"/><path d="M131.2 156.6l4.7-0.5 0.4-1.7-4.7 0.4z"/><path d="M135.9 156.1l4.7-0.2 0.4-1.6-4.7 0.1z"/><path d="M140.6 155.9l4.7-0.3 0.4-1.4-4.7 0.1z"/><path d="M145.3 155.6l4.8-0.1 0.4-1.4-4.8 0.1z"/><path d="M150.1 155.5l4.8 0 0.4-1.2-4.8-0.2z"/><path d="M154.9 155.5l4.8 0.1 0.4-1-4.8-0.3z"/><path d="M159.7 155.6l4.8 0.2 0.4-1-4.8-0.2z"/><path d="M164.5 155.8l4.8 0.4 0.4-0.9-4.8-0.5z"/><path d="M169.3 156.2l4.8 0.4 0.4-0.8-4.8-0.5z"/><path d="M174.1 156.6l4.9 0.3 0.4-0.7-4.9-0.4z"/><path class="w1" d="M179 156.9l4.9 0.3 0.4-0.7-4.9-0.3z"/><path class="w4" d="M183.9 157.2l4.9 0 0.3-0.6-4.8-0.1z"/><path class="w6" d="M188.8 157.2l4.9 0 0.3-0.6-4.9 0z"/><path class="w8" d="M193.7 157.2l4.9 0 0.4-0.5-5-0.1z"/><path class="w9" d="M198.6 157.2l4.9 0.3 0.4-0.5-4.9-0.3z"/><path class="w9" d="M203.5 157.5l5 0.5 0.3-0.5-4.9-0.5z"/><path class="w10" d="M208.5 158l4.9 0.8 0.4-0.4-5-0.9z"/><path class="w11" d="M213.4 158.8l5 0.9 0.4-0.4-5-0.9z"/><path class="w12" d="M218.4 159.7l5 1.1 0.3-0.4-4.9-1.1z"/><path class="w14" d="M223.4 160.8l5 1 0.3-0.3-5-1.1z"/><path class="w15" d="M228.4 161.8l5 1 0.3-0.3-5-1z"/><path class="w16" d="M233.4 162.8l5 0.8 0.4-0.2-5.1-0.9z"/><path class="w17" d="M238.4 163.6l5.1 0.8 0.3-0.3-5-0.7z"/><path class="w17" d="M243.5 164.4l5 0.7 0.4-0.2-5.1-0.8z"/><path class="w17" d="M248.5 165.1l5.1 0.8 0.3-0.2-5-0.8z"/><path class="w17" d="M253.6 165.9l5.1 0.9 0.3-0.1-5.1-1z"/><path class="w17" d="M258.7 166.8l5.1 1.2 0.3-0.1-5.1-1.2z"/><path class="w17" d="M263.8 168l5.1 1.4 0.3 0-5.1-1.5z"/><path class="w1" d="M98.3 161.8l4.6-0.1 0.4-2.4-4.6 0z"/><path class="w1" d="M102.9 161.7l4.6-0.4 0.4-2.3-4.6 0.3z"/><path class="w1" d="M107.5 161.3l4.6-0.3 0.4-2.2-4.6 0.2z"/><path class="w1" d="M112.1 161l4.6-0.6 0.4-2.1-4.6 0.5z"/><path class="w1" d="M116.7 160.4l4.7-0.8 0.4-2-4.7 0.7z"/><path class="w1" d="M121.4 159.6l4.7-0.6 0.4-1.8-4.7 0.4z"/><path d="M126.1 159l4.6-0.7 0.5-1.7-4.7 0.6z"/><path d="M130.7 158.3l4.7-0.6 0.5-1.6-4.7 0.5z"/><path d="M135.4 157.7l4.8-0.3 0.4-1.5-4.7 0.2z"/><path d="M140.2 157.4l4.7-0.4 0.4-1.4-4.7 0.3z"/><path d="M144.9 157l4.8-0.2 0.4-1.3-4.8 0.1z"/><path d="M149.7 156.8l4.8-0.1 0.4-1.2-4.8 0z"/><path d="M154.5 156.7l4.7 0 0.5-1.1-4.8-0.1z"/><path d="M159.2 156.7l4.9 0 0.4-0.9-4.8-0.2z"/><path d="M164.1 156.7l4.8 0.3 0.4-0.8-4.8-0.4z"/><path d="M168.9 157l4.8 0.4 0.4-0.8-4.8-0.4z"/><path d="M173.7 157.4l4.9 0.3 0.4-0.8-4.9-0.3z"/><path class="w2" d="M178.6 157.7l4.9 0.1 0.4-0.6-4.9-0.3z"/><path class="w5" d="M183.5 157.8l4.9 0 0.4-0.6-4.9 0z"/><path class="w7" d="M188.4 157.8l4.9 0 0.4-0.6-4.9 0z"/><path class="w8" d="M193.3 157.8l4.9 0 0.4-0.6-4.9 0z"/><path class="w9" d="M198.2 157.8l4.9 0.2 0.4-0.5-4.9-0.3z"/><path class="w9" d="M203.1 158l5 0.5 0.4-0.5-5-0.5z"/><path class="w10" d="M208.1 158.5l5 0.7 0.3-0.4-4.9-0.8z"/><path class="w11" d="M213.1 159.2l4.9 0.9 0.4-0.4-5-0.9z"/><path class="w12" d="M218 160.1l5 1 0.4-0.3-5-1.1z"/><path class="w13" d="M223 161.1l5 1 0.4-0.3-5-1z"/><path class="w14" d="M228 162.1l5 1 0.4-0.3-5-1z"/><path class="w16" d="M233 163.1l5.1 0.8 0.3-0.3-5-0.8z"/><path class="w17" d="M238.1 163.9l5 0.7 0.4-0.2-5.1-0.8z"/><path class="w17" d="M243.1 164.6l5.1 0.7 0.3-0.2-5-0.7z"/><path class="w17" d="M248.2 165.3l5.1 0.7 0.3-0.1-5.1-0.8z"/><path class="w17" d="M253.3 166l5.1 0.9 0.3-0.1-5.1-0.9z"/><path class="w17" d="M258.4 166.9l5.1 1.1 0.3 0-5.1-1.2z"/><path class="w17" d="M263.5 168l5.1 1.5 0.3-0.1-5.1-1.4z"/><path class="w1" d="M97.9 164.2l4.6-0.1 0.4-2.4-4.6 0.1z"/><path class="w1" d="M102.5 164.1l4.6-0.6 0.4-2.2-4.6 0.4z"/><path class="w1" d="M107.1 163.5l4.6-0.5 0.4-2-4.6 0.3z"/><path class="w1" d="M111.7 163l4.6-0.6 0.4-2-4.6 0.6z"/><path class="w1" d="M116.3 162.4l4.7-0.9 0.4-1.9-4.7 0.8z"/><path d="M121 161.5l4.6-0.7 0.5-1.8-4.7 0.6z"/><path d="M125.6 160.8l4.7-0.8 0.4-1.7-4.6 0.7z"/><path d="M130.3 160l4.7-0.7 0.4-1.6-4.7 0.6z"/><path d="M135 159.3l4.8-0.5 0.4-1.4-4.8 0.3z"/><path d="M139.8 158.8l4.7-0.4 0.4-1.4-4.7 0.4z"/><path d="M144.5 158.4l4.8-0.4 0.4-1.2-4.8 0.2z"/><path d="M149.3 158l4.7-0.1 0.5-1.2-4.8 0.1z"/><path d="M154 157.9l4.8-0.2 0.4-1-4.7 0z"/><path d="M158.8 157.7l4.9-0.1 0.4-0.9-4.9 0z"/><path d="M163.7 157.6l4.8 0.2 0.4-0.8-4.8-0.3z"/><path d="M168.5 157.8l4.8 0.3 0.4-0.7-4.8-0.4z"/><path d="M173.3 158.1l4.9 0.3 0.4-0.7-4.9-0.3z"/><path class="w3" d="M178.2 158.4l4.9 0 0.4-0.6-4.9-0.1z"/><path class="w5" d="M183.1 158.4l4.9 0 0.4-0.6-4.9 0z"/><path class="w7" d="M188 158.4l4.9-0.1 0.4-0.5-4.9 0z"/><path class="w8" d="M192.9 158.3l4.9 0 0.4-0.5-4.9 0z"/><path class="w9" d="M197.8 158.3l5 0.2 0.3-0.5-4.9-0.2z"/><path class="w9" d="M202.8 158.5l4.9 0.4 0.4-0.4-5-0.5z"/><path class="w10" d="M207.7 158.9l5 0.7 0.4-0.4-5-0.7z"/><path class="w11" d="M212.7 159.6l5 0.9 0.3-0.4-4.9-0.9z"/><path class="w12" d="M217.7 160.5l5 1 0.3-0.4-5-1z"/><path class="w13" d="M222.7 161.5l5 1 0.3-0.4-5-1z"/><path class="w14" d="M227.7 162.5l5 0.9 0.3-0.3-5-1z"/><path class="w15" d="M232.7 163.4l5 0.8 0.4-0.3-5.1-0.8z"/><path class="w17" d="M237.7 164.2l5.1 0.7 0.3-0.3-5-0.7z"/><path class="w17" d="M242.8 164.9l5.1 0.6 0.3-0.2-5.1-0.7z"/><path class="w17" d="M247.9 165.5l5.1 0.7 0.3-0.2-5.1-0.7z"/><path class="w17" d="M253 166.2l5 0.9 0.4-0.2-5.1-0.9z"/><path class="w17" d="M258 167.1l5.2 1 0.3-0.1-5.1-1.1z"/><path class="w17" d="M263.2 168.1l5.1 1.5 0.3-0.1-5.1-1.5z"/><path class="w1" d="M97.5 166.4l4.6-0.2 0.4-2.1-4.6 0.1z"/><path class="w1" d="M102.1 166.2l4.6-0.7 0.4-2-4.6 0.6z"/><path class="w1" d="M106.7 165.5l4.6-0.6 0.4-1.9-4.6 0.5z"/><path d="M111.3 164.9l4.6-0.7 0.4-1.8-4.6 0.6z"/><path d="M115.9 164.2l4.7-0.9 0.4-1.8-4.7 0.9z"/><path d="M120.6 163.3l4.6-0.7 0.4-1.8-4.6 0.7z"/><path d="M125.2 162.6l4.7-1 0.4-1.6-4.7 0.8z"/><path d="M129.9 161.6l4.7-0.8 0.4-1.5-4.7 0.7z"/><path d="M134.6 160.8l4.7-0.5 0.5-1.5-4.8 0.5z"/><path d="M139.3 160.3l4.8-0.6 0.4-1.3-4.7 0.4z"/><path d="M144.1 159.7l4.7-0.4 0.5-1.3-4.8 0.4z"/><path d="M148.8 159.3l4.8-0.3 0.4-1.1-4.7 0.1z"/><path d="M153.6 159l4.8-0.3 0.4-1-4.8 0.2z"/><path d="M158.4 158.7l4.8-0.2 0.5-0.9-4.9 0.1z"/><path d="M163.2 158.5l4.9 0.1 0.4-0.8-4.8-0.2z"/><path d="M168.1 158.6l4.8 0.3 0.4-0.8-4.8-0.3z"/><path class="w1" d="M172.9 158.9l4.9 0.1 0.4-0.6-4.9-0.3z"/><path class="w4" d="M177.8 159l4.9 0.1 0.4-0.7-4.9 0z"/><path class="w6" d="M182.7 159.1l4.9-0.1 0.4-0.6-4.9 0z"/><path class="w8" d="M187.6 159l4.9-0.1 0.4-0.6-4.9 0.1z"/><path class="w8" d="M192.5 158.9l4.9-0.1 0.4-0.5-4.9 0z"/><path class="w9" d="M197.4 158.8l5 0.2 0.4-0.5-5-0.2z"/><path class="w9" d="M202.4 159l5 0.4 0.3-0.5-4.9-0.4z"/><path class="w10" d="M207.4 159.4l4.9 0.7 0.4-0.5-5-0.7z"/><path class="w10" d="M212.3 160.1l5 0.9 0.4-0.5-5-0.9z"/><path class="w11" d="M217.3 161l5 0.9 0.4-0.4-5-1z"/><path class="w12" d="M222.3 161.9l5 1 0.4-0.4-5-1z"/><path class="w13" d="M227.3 162.9l5 0.9 0.4-0.4-5-0.9z"/><path class="w15" d="M232.3 163.8l5.1 0.7 0.3-0.3-5-0.8z"/><path class="w16" d="M237.4 164.5l5.1 0.6 0.3-0.2-5.1-0.7z"/><path class="w17" d="M242.5 165.1l5 0.6 0.4-0.2-5.1-0.6z"/><path class="w17" d="M247.5 165.7l5.1 0.7 0.4-0.2-5.1-0.7z"/><path class="w17" d="M252.6 166.4l5.1 0.8 0.3-0.1-5-0.9z"/><path class="w17" d="M257.7 167.2l5.1 1.1 0.4-0.2-5.2-1z"/><path class="w17" d="M262.8 168.3l5.1 1.4 0.4-0.1-5.1-1.5z"/><path class="w1" d="M97.1 168.4l4.6-0.2 0.4-2-4.6 0.2z"/><path class="w1" d="M101.7 168.2l4.5-0.8 0.5-1.9-4.6 0.7z"/><path d="M106.2 167.4l4.7-0.7 0.4-1.8-4.6 0.6z"/><path d="M110.9 166.7l4.6-0.7 0.4-1.8-4.6 0.7z"/><path d="M115.5 166l4.6-1 0.5-1.7-4.7 0.9z"/><path d="M120.1 165l4.7-0.8 0.4-1.6-4.6 0.7z"/><path d="M124.8 164.2l4.7-1 0.4-1.6-4.7 1z"/><path d="M129.5 163.2l4.7-0.9 0.4-1.5-4.7 0.8z"/><path d="M134.2 162.3l4.7-0.7 0.4-1.3-4.7 0.5z"/><path d="M138.9 161.6l4.8-0.6 0.4-1.3-4.8 0.6z"/><path d="M143.7 161l4.7-0.5 0.4-1.2-4.7 0.4z"/><path d="M148.4 160.5l4.8-0.5 0.4-1-4.8 0.3z"/><path d="M153.2 160l4.8-0.3 0.4-1-4.8 0.3z"/><path d="M158 159.7l4.8-0.3 0.4-0.9-4.8 0.2z"/><path d="M162.8 159.4l4.9 0 0.4-0.8-4.9-0.1z"/><path d="M167.7 159.4l4.8 0.2 0.4-0.7-4.8-0.3z"/><path class="w2" d="M172.5 159.6l4.9 0.1 0.4-0.7-4.9-0.1z"/><path class="w4" d="M177.4 159.7l4.9 0 0.4-0.6-4.9-0.1z"/><path class="w6" d="M182.3 159.7l4.9-0.1 0.4-0.6-4.9 0.1z"/><path class="w8" d="M187.2 159.6l4.9-0.2 0.4-0.5-4.9 0.1z"/><path class="w9" d="M192.1 159.4l5 0 0.3-0.6-4.9 0.1z"/><path class="w9" d="M197.1 159.4l4.9 0.1 0.4-0.5-5-0.2z"/><path class="w9" d="M202 159.5l5 0.4 0.4-0.5-5-0.4z"/><path class="w9" d="M207 159.9l5 0.6 0.3-0.4-4.9-0.7z"/><path class="w10" d="M212 160.5l4.9 0.9 0.4-0.4-5-0.9z"/><path class="w11" d="M216.9 161.4l5.1 0.9 0.3-0.4-5-0.9z"/><path class="w12" d="M222 162.3l5 1 0.3-0.4-5-1z"/><path class="w13" d="M227 163.3l5 0.9 0.3-0.4-5-0.9z"/><path class="w14" d="M232 164.2l5 0.7 0.4-0.4-5.1-0.7z"/><path class="w16" d="M237 164.9l5.1 0.5 0.4-0.3-5.1-0.6z"/><path class="w17" d="M242.1 165.4l5.1 0.6 0.3-0.3-5-0.6z"/><path class="w17" d="M247.2 166l5.1 0.6 0.3-0.2-5.1-0.7z"/><path class="w17" d="M252.3 166.6l5.1 0.8 0.3-0.2-5.1-0.8z"/><path class="w17" d="M257.4 167.4l5.1 1 0.3-0.1-5.1-1.1z"/><path class="w17" d="M262.5 168.4l5.1 1.4 0.3-0.1-5.1-1.4z"/><path d="M96.7 170.3l4.5-0.2 0.5-1.9-4.6 0.2z"/><path d="M101.2 170.1l4.6-0.9 0.4-1.8-4.5 0.8z"/><path d="M105.8 169.2l4.6-0.8 0.5-1.7-4.7 0.7z"/><path d="M110.4 168.4l4.7-0.9 0.4-1.5-4.6 0.7z"/><path d="M115.1 167.5l4.6-0.9 0.4-1.6-4.6 1z"/><path d="M119.7 166.6l4.7-0.8 0.4-1.6-4.7 0.8z"/><path d="M124.4 165.8l4.7-1.1 0.4-1.5-4.7 1z"/><path d="M129.1 164.7l4.7-1 0.4-1.4-4.7 0.9z"/><path d="M133.8 163.7l4.7-0.8 0.4-1.3-4.7 0.7z"/><path d="M138.5 162.9l4.7-0.7 0.5-1.2-4.8 0.6z"/><path d="M143.2 162.2l4.8-0.6 0.4-1.1-4.7 0.5z"/><path d="M148 161.6l4.8-0.5 0.4-1.1-4.8 0.5z"/><path d="M152.8 161.1l4.8-0.5 0.4-0.9-4.8 0.3z"/><path d="M157.6 160.6l4.8-0.4 0.4-0.8-4.8 0.3z"/><path d="M162.4 160.2l4.9 0 0.4-0.8-4.9 0z"/><path d="M167.3 160.2l4.8 0.1 0.4-0.7-4.8-0.2z"/><path class="w2" d="M172.1 160.3l4.9 0.1 0.4-0.7-4.9-0.1z"/><path class="w5" d="M177 160.4l4.9-0.1 0.4-0.6-4.9 0z"/><path class="w7" d="M181.9 160.3l4.9-0.1 0.4-0.6-4.9 0.1z"/><path class="w8" d="M186.8 160.2l4.9-0.2 0.4-0.6-4.9 0.2z"/><path class="w9" d="M191.7 160l5-0.1 0.4-0.5-5 0z"/><path class="w9" d="M196.7 159.9l4.9 0.1 0.4-0.5-4.9-0.1z"/><path class="w9" d="M201.6 160l5 0.4 0.4-0.5-5-0.4z"/><path class="w9" d="M206.6 160.4l5 0.6 0.4-0.5-5-0.6z"/><path class="w10" d="M211.6 161l5 0.8 0.3-0.4-4.9-0.9z"/><path class="w11" d="M216.6 161.8l5 0.9 0.4-0.4-5.1-0.9z"/><path class="w12" d="M221.6 162.7l5 0.9 0.4-0.3-5-1z"/><path class="w13" d="M226.6 163.6l5 0.9 0.4-0.3-5-0.9z"/><path class="w14" d="M231.6 164.5l5.1 0.7 0.3-0.3-5-0.7z"/><path class="w15" d="M236.7 165.2l5.1 0.5 0.3-0.3-5.1-0.5z"/><path class="w17" d="M241.8 165.7l5.1 0.6 0.3-0.3-5.1-0.6z"/><path class="w17" d="M246.9 166.3l5.1 0.5 0.3-0.2-5.1-0.6z"/><path class="w17" d="M252 166.8l5.1 0.8 0.3-0.2-5.1-0.8z"/><path class="w17" d="M257.1 167.6l5.1 1 0.3-0.2-5.1-1z"/><path class="w17" d="M262.2 168.6l5.1 1.4 0.3-0.2-5.1-1.4z"/><path d="M96.2 172l4.6-0.3 0.4-1.6-4.5 0.2z"/><path d="M100.8 171.7l4.6-0.9 0.4-1.6-4.6 0.9z"/><path d="M105.4 170.8l4.6-0.9 0.4-1.5-4.6 0.8z"/><path d="M110 169.9l4.6-0.9 0.5-1.5-4.7 0.9z"/><path d="M114.6 169l4.7-1 0.4-1.4-4.6 0.9z"/><path d="M119.3 168l4.7-0.8 0.4-1.4-4.7 0.8z"/><path d="M124 167.2l4.6-1.1 0.5-1.4-4.7 1.1z"/><path d="M128.6 166.1l4.7-1.1 0.5-1.3-4.7 1z"/><path d="M133.3 165l4.8-0.8 0.4-1.3-4.7 0.8z"/><path d="M138.1 164.2l4.7-0.8 0.4-1.2-4.7 0.7z"/><path d="M142.8 163.4l4.8-0.7 0.4-1.1-4.8 0.6z"/><path d="M147.6 162.7l4.8-0.6 0.4-1-4.8 0.5z"/><path d="M152.4 162.1l4.8-0.6 0.4-0.9-4.8 0.5z"/><path d="M157.2 161.5l4.8-0.4 0.4-0.9-4.8 0.4z"/><path d="M162 161.1l4.9-0.2 0.4-0.7-4.9 0z"/><path class="w1" d="M166.9 160.9l4.8 0.1 0.4-0.7-4.8-0.1z"/><path class="w3" d="M171.7 161l4.9 0 0.4-0.6-4.9-0.1z"/><path class="w5" d="M176.6 161l4.9-0.1 0.4-0.6-4.9 0.1z"/><path class="w7" d="M181.5 160.9l4.9-0.2 0.4-0.5-4.9 0.1z"/><path class="w8" d="M186.4 160.7l4.9-0.2 0.4-0.5-4.9 0.2z"/><path class="w9" d="M191.3 160.5l5-0.1 0.4-0.5-5 0.1z"/><path class="w9" d="M196.3 160.4l5 0.1 0.3-0.5-4.9-0.1z"/><path class="w9" d="M201.3 160.5l4.9 0.4 0.4-0.5-5-0.4z"/><path class="w9" d="M206.2 160.9l5 0.6 0.4-0.5-5-0.6z"/><path class="w10" d="M211.2 161.5l5 0.7 0.4-0.4-5-0.8z"/><path class="w11" d="M216.2 162.2l5 0.9 0.4-0.4-5-0.9z"/><path class="w11" d="M221.2 163.1l5.1 0.9 0.3-0.4-5-0.9z"/><path class="w12" d="M226.3 164l5 0.9 0.3-0.4-5-0.9z"/><path class="w14" d="M231.3 164.9l5.1 0.7 0.3-0.4-5.1-0.7z"/><path class="w15" d="M236.4 165.6l5 0.5 0.4-0.4-5.1-0.5z"/><path class="w16" d="M241.4 166.1l5.1 0.4 0.4-0.2-5.1-0.6z"/><path class="w17" d="M246.5 166.5l5.1 0.6 0.4-0.3-5.1-0.5z"/><path class="w17" d="M251.6 167.1l5.2 0.7 0.3-0.2-5.1-0.8z"/><path class="w17" d="M256.8 167.8l5.1 1 0.3-0.2-5.1-1z"/><path class="w17" d="M261.9 168.8l5.1 1.4 0.3-0.2-5.1-1.4z"/><path d="M95.8 173.5l4.6-0.2 0.4-1.6-4.6 0.3z"/><path d="M100.4 173.3l4.6-1 0.4-1.5-4.6 0.9z"/><path d="M105 172.3l4.6-0.9 0.4-1.5-4.6 0.9z"/><path d="M109.6 171.4l4.6-1 0.4-1.4-4.6 0.9z"/><path d="M114.2 170.4l4.7-1 0.4-1.4-4.7 1z"/><path d="M118.9 169.4l4.6-0.9 0.5-1.3-4.7 0.8z"/><path d="M123.5 168.5l4.7-1.1 0.4-1.3-4.6 1.1z"/><path d="M128.2 167.4l4.7-1.1 0.4-1.3-4.7 1.1z"/><path d="M132.9 166.3l4.8-1 0.4-1.1-4.8 0.8z"/><path d="M137.7 165.3l4.7-0.8 0.4-1.1-4.7 0.8z"/><path d="M142.4 164.5l4.8-0.7 0.4-1.1-4.8 0.7z"/><path d="M147.2 163.8l4.8-0.7 0.4-1-4.8 0.6z"/><path d="M152 163.1l4.8-0.7 0.4-0.9-4.8 0.6z"/><path d="M156.8 162.4l4.8-0.5 0.4-0.8-4.8 0.4z"/><path d="M161.6 161.9l4.8-0.2 0.5-0.8-4.9 0.2z"/><path class="w1" d="M166.4 161.7l4.9 0 0.4-0.7-4.8-0.1z"/><path class="w4" d="M171.3 161.7l4.9-0.1 0.4-0.6-4.9 0z"/><path class="w6" d="M176.2 161.6l4.9-0.1 0.4-0.6-4.9 0.1z"/><path class="w8" d="M181.1 161.5l4.9-0.2 0.4-0.6-4.9 0.2z"/><path class="w9" d="M186 161.3l5-0.2 0.3-0.6-4.9 0.2z"/><path class="w9" d="M191 161.1l4.9-0.2 0.4-0.5-5 0.1z"/><path class="w9" d="M195.9 160.9l5 0.1 0.4-0.5-5-0.1z"/><path class="w9" d="M200.9 161l5 0.4 0.3-0.5-4.9-0.4z"/><path class="w9" d="M205.9 161.4l4.9 0.5 0.4-0.4-5-0.6z"/><path class="w10" d="M210.8 161.9l5.1 0.8 0.3-0.5-5-0.7z"/><path class="w10" d="M215.9 162.7l5 0.9 0.3-0.5-5-0.9z"/><path class="w11" d="M220.9 163.6l5 0.9 0.4-0.5-5.1-0.9z"/><path class="w12" d="M225.9 164.5l5 0.8 0.4-0.4-5-0.9z"/><path class="w13" d="M230.9 165.3l5.1 0.6 0.4-0.3-5.1-0.7z"/><path class="w15" d="M236 165.9l5.1 0.5 0.3-0.3-5-0.5z"/><path class="w16" d="M241.1 166.4l5.1 0.4 0.3-0.3-5.1-0.4z"/><path class="w17" d="M246.2 166.8l5.1 0.6 0.3-0.3-5.1-0.6z"/><path class="w17" d="M251.3 167.4l5.1 0.7 0.4-0.3-5.2-0.7z"/><path class="w17" d="M256.4 168.1l5.2 1 0.3-0.3-5.1-1z"/><path class="w17" d="M261.6 169.1l5.1 1.3 0.3-0.2-5.1-1.4z"/><path d="M95.4 175l4.6-0.4 0.4-1.3-4.6 0.2z"/><path d="M100 174.6l4.5-0.9 0.5-1.4-4.6 1z"/><path d="M104.5 173.7l4.7-1 0.4-1.3-4.6 0.9z"/><path d="M109.2 172.7l4.6-1.1 0.4-1.2-4.6 1z"/><path d="M113.8 171.6l4.6-1 0.5-1.2-4.7 1z"/><path d="M118.4 170.6l4.7-0.9 0.4-1.2-4.6 0.9z"/><path d="M123.1 169.7l4.7-1.1 0.4-1.2-4.7 1.1z"/><path d="M127.8 168.6l4.7-1.1 0.4-1.2-4.7 1.1z"/><path d="M132.5 167.5l4.7-1 0.5-1.2-4.8 1z"/><path d="M137.2 166.5l4.8-0.9 0.4-1.1-4.7 0.8z"/><path d="M142 165.6l4.8-0.8 0.4-1-4.8 0.7z"/><path d="M146.8 164.8l4.7-0.7 0.5-1-4.8 0.7z"/><path d="M151.5 164.1l4.9-0.8 0.4-0.9-4.8 0.7z"/><path d="M156.4 163.3l4.8-0.6 0.4-0.8-4.8 0.5z"/><path d="M161.2 162.7l4.8-0.3 0.4-0.7-4.8 0.2z"/><path class="w2" d="M166 162.4l4.9 0 0.4-0.7-4.9 0z"/><path class="w4" d="M170.9 162.4l4.9-0.1 0.4-0.7-4.9 0.1z"/><path class="w6" d="M175.8 162.3l4.9-0.2 0.4-0.6-4.9 0.1z"/><path class="w8" d="M180.7 162.1l4.9-0.3 0.4-0.5-4.9 0.2z"/><path class="w9" d="M185.6 161.8l5-0.2 0.4-0.5-5 0.2z"/><path class="w9" d="M190.6 161.6l4.9-0.1 0.4-0.6-4.9 0.2z"/><path class="w9" d="M195.5 161.5l5 0 0.4-0.5-5-0.1z"/><path class="w9" d="M200.5 161.5l5 0.3 0.4-0.4-5-0.4z"/><path class="w9" d="M205.5 161.8l5 0.6 0.3-0.5-4.9-0.5z"/><path class="w9" d="M210.5 162.4l5 0.7 0.4-0.4-5.1-0.8z"/><path class="w10" d="M215.5 163.1l5 0.9 0.4-0.4-5-0.9z"/><path class="w11" d="M220.5 164l5 0.9 0.4-0.4-5-0.9z"/><path class="w12" d="M225.5 164.9l5.1 0.8 0.3-0.4-5-0.8z"/><path class="w13" d="M230.6 165.7l5.1 0.6 0.3-0.4-5.1-0.6z"/><path class="w14" d="M235.7 166.3l5.1 0.5 0.3-0.4-5.1-0.5z"/><path class="w15" d="M240.8 166.8l5.1 0.4 0.3-0.4-5.1-0.4z"/><path class="w16" d="M245.9 167.2l5.1 0.5 0.3-0.3-5.1-0.6z"/><path class="w17" d="M251 167.7l5.1 0.7 0.3-0.3-5.1-0.7z"/><path class="w17" d="M256.1 168.4l5.2 0.9 0.3-0.2-5.2-1z"/><path class="w17" d="M261.3 169.3l5.1 1.4 0.3-0.3-5.1-1.3z"/><path d="M94.9 176.3l4.6-0.4 0.5-1.3-4.6 0.4z"/><path d="M99.5 175.9l4.6-0.9 0.4-1.3-4.5 0.9z"/><path d="M104.1 175l4.6-1.1 0.5-1.2-4.7 1z"/><path d="M108.7 173.9l4.7-1.1 0.4-1.2-4.6 1.1z"/><path d="M113.4 172.8l4.6-1 0.4-1.2-4.6 1z"/><path d="M118 171.8l4.7-1 0.4-1.1-4.7 0.9z"/><path d="M122.7 170.8l4.7-1 0.4-1.2-4.7 1.1z"/><path d="M127.4 169.8l4.7-1.2 0.4-1.1-4.7 1.1z"/><path d="M132.1 168.6l4.7-1.1 0.4-1-4.7 1z"/><path d="M136.8 167.5l4.8-0.9 0.4-1-4.8 0.9z"/><path d="M141.6 166.6l4.7-0.8 0.5-1-4.8 0.8z"/><path d="M146.3 165.8l4.8-0.8 0.4-0.9-4.7 0.7z"/><path d="M151.1 165l4.8-0.8 0.5-0.9-4.9 0.8z"/><path d="M155.9 164.2l4.9-0.7 0.4-0.8-4.8 0.6z"/><path d="M160.8 163.5l4.8-0.3 0.4-0.8-4.8 0.3z"/><path class="w2" d="M165.6 163.2l4.9-0.2 0.4-0.6-4.9 0z"/><path class="w5" d="M170.5 163l4.9-0.1 0.4-0.6-4.9 0.1z"/><path class="w7" d="M175.4 162.9l4.9-0.3 0.4-0.5-4.9 0.2z"/><path class="w8" d="M180.3 162.6l4.9-0.2 0.4-0.6-4.9 0.3z"/><path class="w9" d="M185.2 162.4l5-0.3 0.4-0.5-5 0.2z"/><path class="w9" d="M190.2 162.1l4.9-0.1 0.4-0.5-4.9 0.1z"/><path class="w9" d="M195.1 162l5 0 0.4-0.5-5 0z"/><path class="w9" d="M200.1 162l5 0.3 0.4-0.5-5-0.3z"/><path class="w9" d="M205.1 162.3l5 0.6 0.4-0.5-5-0.6z"/><path class="w9" d="M210.1 162.9l5 0.7 0.4-0.5-5-0.7z"/><path class="w10" d="M215.1 163.6l5 0.8 0.4-0.4-5-0.9z"/><path class="w11" d="M220.1 164.4l5.1 0.9 0.3-0.4-5-0.9z"/><path class="w12" d="M225.2 165.3l5 0.8 0.4-0.4-5.1-0.8z"/><path class="w13" d="M230.2 166.1l5.1 0.6 0.4-0.4-5.1-0.6z"/><path class="w14" d="M235.3 166.7l5.1 0.4 0.4-0.3-5.1-0.5z"/><path class="w15" d="M240.4 167.1l5.1 0.4 0.4-0.3-5.1-0.4z"/><path class="w16" d="M245.5 167.5l5.2 0.5 0.3-0.3-5.1-0.5z"/><path class="w16" d="M250.7 168l5.1 0.7 0.3-0.3-5.1-0.7z"/><path class="w16" d="M255.8 168.7l5.1 0.9 0.4-0.3-5.2-0.9z"/><path class="w16" d="M260.9 169.6l5.2 1.3 0.3-0.2-5.1-1.4z"/><path d="M94.5 177.4l4.6-0.3 0.4-1.2-4.6 0.4z"/><path d="M99.1 177.1l4.6-1 0.4-1.1-4.6 0.9z"/><path d="M103.7 176.1l4.6-1.1 0.4-1.1-4.6 1.1z"/><path d="M108.3 175l4.6-1.2 0.5-1-4.7 1.1z"/><path d="M112.9 173.8l4.7-1 0.4-1-4.6 1z"/><path d="M117.6 172.8l4.6-0.9 0.5-1.1-4.7 1z"/><path d="M122.2 171.9l4.7-1.1 0.5-1-4.7 1z"/><path d="M126.9 170.8l4.7-1.2 0.5-1-4.7 1.2z"/><path d="M131.6 169.6l4.8-1.1 0.4-1-4.7 1.1z"/><path d="M136.4 168.5l4.7-0.9 0.5-1-4.8 0.9z"/><path d="M141.1 167.6l4.8-0.9 0.4-0.9-4.7 0.8z"/><path d="M145.9 166.7l4.8-0.8 0.4-0.9-4.8 0.8z"/><path d="M150.7 165.9l4.8-0.9 0.4-0.8-4.8 0.8z"/><path d="M155.5 165l4.9-0.7 0.4-0.8-4.9 0.7z"/><path class="w1" d="M160.4 164.3l4.8-0.4 0.4-0.7-4.8 0.3z"/><path class="w3" d="M165.2 163.9l4.9-0.2 0.4-0.7-4.9 0.2z"/><path class="w5" d="M170.1 163.7l4.9-0.2 0.4-0.6-4.9 0.1z"/><path class="w7" d="M175 163.5l4.9-0.3 0.4-0.6-4.9 0.3z"/><path class="w9" d="M179.9 163.2l4.9-0.3 0.4-0.5-4.9 0.2z"/><path class="w9" d="M184.8 162.9l5-0.2 0.4-0.6-5 0.3z"/><path class="w9" d="M189.8 162.7l4.9-0.2 0.4-0.5-4.9 0.1z"/><path class="w9" d="M194.7 162.5l5 0 0.4-0.5-5 0z"/><path class="w9" d="M199.7 162.5l5 0.3 0.4-0.5-5-0.3z"/><path class="w9" d="M204.7 162.8l5 0.6 0.4-0.5-5-0.6z"/><path class="w9" d="M209.7 163.4l5 0.7 0.4-0.5-5-0.7z"/><path class="w10" d="M214.7 164.1l5.1 0.8 0.3-0.5-5-0.8z"/><path class="w11" d="M219.8 164.9l5 0.8 0.4-0.4-5.1-0.9z"/><path class="w11" d="M224.8 165.7l5.1 0.8 0.3-0.4-5-0.8z"/><path class="w13" d="M229.9 166.5l5.1 0.6 0.3-0.4-5.1-0.6z"/><path class="w14" d="M235 167.1l5.1 0.4 0.3-0.4-5.1-0.4z"/><path class="w14" d="M240.1 167.5l5.1 0.4 0.3-0.4-5.1-0.4z"/><path class="w15" d="M245.2 167.9l5.1 0.4 0.4-0.3-5.2-0.5z"/><path class="w16" d="M250.3 168.3l5.2 0.7 0.3-0.3-5.1-0.7z"/><path class="w16" d="M255.5 169l5.1 0.9 0.3-0.3-5.1-0.9z"/><path class="w16" d="M260.6 169.9l5.2 1.3 0.3-0.3-5.2-1.3z"/><path d="M94 178.4l4.6-0.3 0.5-1-4.6 0.3z"/><path d="M98.6 178.1l4.6-0.9 0.5-1.1-4.6 1z"/><path d="M103.2 177.2l4.6-1.2 0.5-1-4.6 1.1z"/><path d="M107.8 176l4.7-1.2 0.4-1-4.6 1.2z"/><path d="M112.5 174.8l4.6-1 0.5-1-4.7 1z"/><path d="M117.1 173.8l4.7-1 0.4-0.9-4.6 0.9z"/><path d="M121.8 172.8l4.7-1 0.4-1-4.7 1.1z"/><path d="M126.5 171.8l4.7-1.2 0.4-1-4.7 1.2z"/><path d="M131.2 170.6l4.8-1.2 0.4-0.9-4.8 1.1z"/><path d="M136 169.4l4.7-0.9 0.4-0.9-4.7 0.9z"/><path d="M140.7 168.5l4.8-0.9 0.4-0.9-4.8 0.9z"/><path d="M145.5 167.6l4.8-0.9 0.4-0.8-4.8 0.8z"/><path d="M150.3 166.7l4.8-0.9 0.4-0.8-4.8 0.9z"/><path class="w1" d="M155.1 165.8l4.9-0.7 0.4-0.8-4.9 0.7z"/><path class="w2" d="M160 165.1l4.8-0.5 0.4-0.7-4.8 0.4z"/><path class="w3" d="M164.8 164.6l4.9-0.2 0.4-0.7-4.9 0.2z"/><path class="w6" d="M169.7 164.4l4.9-0.3 0.4-0.6-4.9 0.2z"/><path class="w8" d="M174.6 164.1l4.9-0.3 0.4-0.6-4.9 0.3z"/><path class="w9" d="M179.5 163.8l4.9-0.3 0.4-0.6-4.9 0.3z"/><path class="w10" d="M184.4 163.5l5-0.3 0.4-0.5-5 0.2z"/><path class="w10" d="M189.4 163.2l5-0.2 0.3-0.5-4.9 0.2z"/><path class="w9" d="M194.4 163l4.9 0.1 0.4-0.6-5 0z"/><path class="w9" d="M199.3 163.1l5 0.3 0.4-0.6-5-0.3z"/><path class="w9" d="M204.3 163.4l5.1 0.5 0.3-0.5-5-0.6z"/><path class="w9" d="M209.4 163.9l5 0.6 0.3-0.4-5-0.7z"/><path class="w10" d="M214.4 164.5l5 0.8 0.4-0.4-5.1-0.8z"/><path class="w10" d="M219.4 165.3l5.1 0.8 0.3-0.4-5-0.8z"/><path class="w11" d="M224.5 166.1l5 0.8 0.4-0.4-5.1-0.8z"/><path class="w12" d="M229.5 166.9l5.1 0.6 0.4-0.4-5.1-0.6z"/><path class="w13" d="M234.6 167.5l5.1 0.4 0.4-0.4-5.1-0.4z"/><path class="w14" d="M239.7 167.9l5.1 0.3 0.4-0.3-5.1-0.4z"/><path class="w14" d="M244.8 168.2l5.2 0.5 0.3-0.4-5.1-0.4z"/><path class="w15" d="M250 168.7l5.1 0.6 0.4-0.3-5.2-0.7z"/><path class="w15" d="M255.1 169.3l5.2 0.9 0.3-0.3-5.1-0.9z"/><path class="w15" d="M260.3 170.2l5.1 1.3 0.4-0.3-5.2-1.3z"/><path d="M93.6 179.4l4.6-0.3 0.4-1-4.6 0.3z"/><path d="M98.2 179.1l4.6-0.9 0.4-1-4.6 0.9z"/><path d="M102.8 178.2l4.6-1.2 0.4-1-4.6 1.2z"/><path d="M107.4 177l4.6-1.2 0.5-1-4.7 1.2z"/><path d="M112 175.8l4.7-1.1 0.4-0.9-4.6 1z"/><path d="M116.7 174.7l4.7-1 0.4-0.9-4.7 1z"/><path d="M121.4 173.7l4.7-1.1 0.4-0.8-4.7 1z"/><path d="M126.1 172.6l4.7-1.1 0.4-0.9-4.7 1.2z"/><path d="M130.8 171.5l4.7-1.2 0.5-0.9-4.8 1.2z"/><path d="M135.5 170.3l4.8-1 0.4-0.8-4.7 0.9z"/><path d="M140.3 169.3l4.8-0.9 0.4-0.8-4.8 0.9z"/><path class="w1" d="M145.1 168.4l4.8-0.9 0.4-0.8-4.8 0.9z"/><path class="w2" d="M149.9 167.5l4.8-0.9 0.4-0.8-4.8 0.9z"/><path class="w3" d="M154.7 166.6l4.8-0.8 0.5-0.7-4.9 0.7z"/><path class="w3" d="M159.5 165.8l4.9-0.5 0.4-0.7-4.8 0.5z"/><path class="w4" d="M164.4 165.3l4.9-0.3 0.4-0.6-4.9 0.2z"/><path class="w7" d="M169.3 165l4.9-0.3 0.4-0.6-4.9 0.3z"/><path class="w8" d="M174.2 164.7l4.9-0.4 0.4-0.5-4.9 0.3z"/><path class="w9" d="M179.1 164.3l4.9-0.3 0.4-0.5-4.9 0.3z"/><path class="w10" d="M184 164l5-0.3 0.4-0.5-5 0.3z"/><path class="w10" d="M189 163.7l5-0.2 0.4-0.5-5 0.2z"/><path class="w9" d="M194 163.5l5 0.1 0.3-0.5-4.9-0.1z"/><path class="w9" d="M199 163.6l5 0.3 0.3-0.5-5-0.3z"/><path class="w9" d="M204 163.9l5 0.5 0.4-0.5-5.1-0.5z"/><path class="w9" d="M209 164.4l5 0.6 0.4-0.5-5-0.6z"/><path class="w9" d="M214 165l5 0.8 0.4-0.5-5-0.8z"/><path class="w10" d="M219 165.8l5.1 0.8 0.4-0.5-5.1-0.8z"/><path class="w11" d="M224.1 166.6l5.1 0.7 0.3-0.4-5-0.8z"/><path class="w12" d="M229.2 167.3l5.1 0.6 0.3-0.4-5.1-0.6z"/><path class="w13" d="M234.3 167.9l5.1 0.4 0.3-0.4-5.1-0.4z"/><path class="w13" d="M239.4 168.3l5.1 0.3 0.3-0.4-5.1-0.3z"/><path class="w14" d="M244.5 168.6l5.1 0.5 0.4-0.4-5.2-0.5z"/><path class="w14" d="M249.6 169.1l5.2 0.5 0.3-0.3-5.1-0.6z"/><path class="w15" d="M254.8 169.6l5.2 0.9 0.3-0.3-5.2-0.9z"/><path class="w15" d="M260 170.5l5.1 1.3 0.3-0.3-5.1-1.3z"/><path d="M93.1 180.3l4.6-0.3 0.5-0.9-4.6 0.3z"/><path d="M97.7 180l4.6-0.9 0.5-0.9-4.6 0.9z"/><path d="M102.3 179.1l4.7-1.2 0.4-0.9-4.6 1.2z"/><path d="M107 177.9l4.6-1.2 0.4-0.9-4.6 1.2z"/><path d="M111.6 176.7l4.7-1.2 0.4-0.8-4.7 1.1z"/><path class="w1" d="M116.3 175.5l4.6-1 0.5-0.8-4.7 1z"/><path class="w2" d="M120.9 174.5l4.7-1 0.5-0.9-4.7 1.1z"/><path class="w2" d="M125.6 173.5l4.8-1.2 0.4-0.8-4.7 1.1z"/><path class="w2" d="M130.4 172.3l4.7-1.2 0.4-0.8-4.7 1.2z"/><path class="w2" d="M135.1 171.1l4.8-1 0.4-0.8-4.8 1z"/><path class="w2" d="M139.9 170.1l4.7-0.9 0.5-0.8-4.8 0.9z"/><path class="w3" d="M144.6 169.2l4.8-0.9 0.5-0.8-4.8 0.9z"/><path class="w4" d="M149.4 168.3l4.9-1 0.4-0.7-4.8 0.9z"/><path class="w4" d="M154.3 167.3l4.8-0.8 0.4-0.7-4.8 0.8z"/><path class="w4" d="M159.1 166.5l4.9-0.5 0.4-0.7-4.9 0.5z"/><path class="w5" d="M164 166l4.9-0.4 0.4-0.6-4.9 0.3z"/><path class="w7" d="M168.9 165.6l4.9-0.4 0.4-0.5-4.9 0.3z"/><path class="w9" d="M173.8 165.2l4.9-0.3 0.4-0.6-4.9 0.4z"/><path class="w10" d="M178.7 164.9l4.9-0.4 0.4-0.5-4.9 0.3z"/><path class="w10" d="M183.6 164.5l5-0.3 0.4-0.5-5 0.3z"/><path class="w10" d="M188.6 164.2l5-0.1 0.4-0.6-5 0.2z"/><path class="w9" d="M193.6 164.1l5 0 0.4-0.5-5-0.1z"/><path class="w9" d="M198.6 164.1l5 0.3 0.4-0.5-5-0.3z"/><path class="w8" d="M203.6 164.4l5 0.5 0.4-0.5-5-0.5z"/><path class="w9" d="M208.6 164.9l5 0.6 0.4-0.5-5-0.6z"/><path class="w9" d="M213.6 165.5l5.1 0.7 0.3-0.4-5-0.8z"/><path class="w10" d="M218.7 166.2l5 0.8 0.4-0.4-5.1-0.8z"/><path class="w11" d="M223.7 167l5.1 0.7 0.4-0.4-5.1-0.7z"/><path class="w13" d="M228.8 167.7l5.1 0.6 0.4-0.4-5.1-0.6z"/><path class="w13" d="M233.9 168.3l5.1 0.4 0.4-0.4-5.1-0.4z"/><path class="w13" d="M239 168.7l5.2 0.3 0.3-0.4-5.1-0.3z"/><path class="w13" d="M244.2 169l5.1 0.4 0.3-0.3-5.1-0.5z"/><path class="w13" d="M249.3 169.4l5.2 0.6 0.3-0.4-5.2-0.5z"/><path class="w14" d="M254.5 170l5.1 0.8 0.4-0.3-5.2-0.9z"/><path class="w16" d="M259.6 170.8l5.2 1.3 0.3-0.3-5.1-1.3z"/><path d="M92.7 181.1l4.6-0.2 0.4-0.9-4.6 0.3z"/><path class="w1" d="M97.3 180.9l4.6-1 0.4-0.8-4.6 0.9z"/><path class="w2" d="M101.9 179.9l4.6-1.2 0.5-0.8-4.7 1.2z"/><path class="w3" d="M106.5 178.7l4.7-1.2 0.4-0.8-4.6 1.2z"/><path class="w3" d="M111.2 177.5l4.6-1.2 0.5-0.8-4.7 1.2z"/><path class="w3" d="M115.8 176.3l4.7-1 0.4-0.8-4.6 1z"/><path class="w4" d="M120.5 175.3l4.7-1.1 0.4-0.7-4.7 1z"/><path class="w5" d="M125.2 174.2l4.7-1.2 0.5-0.7-4.8 1.2z"/><path class="w5" d="M129.9 173l4.8-1.1 0.4-0.8-4.7 1.2z"/><path class="w4" d="M134.7 171.9l4.7-1 0.5-0.8-4.8 1z"/><path class="w4" d="M139.4 170.9l4.8-0.9 0.4-0.8-4.7 0.9z"/><path class="w5" d="M144.2 170l4.8-1 0.4-0.7-4.8 0.9z"/><path class="w5" d="M149 169l4.9-1 0.4-0.7-4.9 1z"/><path class="w5" d="M153.9 168l4.8-0.8 0.4-0.7-4.8 0.8z"/><path class="w5" d="M158.7 167.2l4.9-0.6 0.4-0.6-4.9 0.5z"/><path class="w6" d="M163.6 166.6l4.9-0.4 0.4-0.6-4.9 0.4z"/><path class="w8" d="M168.5 166.2l4.9-0.4 0.4-0.6-4.9 0.4z"/><path class="w9" d="M173.4 165.8l4.9-0.4 0.4-0.5-4.9 0.3z"/><path class="w10" d="M178.3 165.4l4.9-0.3 0.4-0.6-4.9 0.4z"/><path class="w10" d="M183.2 165.1l5-0.3 0.4-0.6-5 0.3z"/><path class="w10" d="M188.2 164.8l5-0.2 0.4-0.5-5 0.1z"/><path class="w9" d="M193.2 164.6l5 0 0.4-0.5-5 0z"/><path class="w9" d="M198.2 164.6l5 0.3 0.4-0.5-5-0.3z"/><path class="w8" d="M203.2 164.9l5 0.5 0.4-0.5-5-0.5z"/><path class="w8" d="M208.2 165.4l5.1 0.6 0.3-0.5-5-0.6z"/><path class="w9" d="M213.3 166l5 0.7 0.4-0.5-5.1-0.7z"/><path class="w10" d="M218.3 166.7l5.1 0.7 0.3-0.4-5-0.8z"/><path class="w11" d="M223.4 167.4l5.1 0.7 0.3-0.4-5.1-0.7z"/><path class="w12" d="M228.5 168.1l5.1 0.6 0.3-0.4-5.1-0.6z"/><path class="w13" d="M233.6 168.7l5.1 0.4 0.3-0.4-5.1-0.4z"/><path class="w12" d="M238.7 169.1l5.1 0.4 0.4-0.5-5.2-0.3z"/><path class="w12" d="M243.8 169.5l5.2 0.4 0.3-0.5-5.1-0.4z"/><path class="w13" d="M249 169.9l5.1 0.5 0.4-0.4-5.2-0.6z"/><path class="w14" d="M254.1 170.4l5.2 0.8 0.3-0.4-5.1-0.8z"/><path class="w15" d="M259.3 171.2l5.2 1.1 0.3-0.2-5.2-1.3z"/><path d="M92.2 181.9l4.6-0.2 0.5-0.8-4.6 0.2z"/><path class="w3" d="M96.8 181.7l4.7-1 0.4-0.8-4.6 1z"/><path class="w4" d="M101.5 180.7l4.6-1.2 0.4-0.8-4.6 1.2z"/><path class="w5" d="M106.1 179.5l4.6-1.2 0.5-0.8-4.7 1.2z"/><path class="w5" d="M110.7 178.3l4.7-1.2 0.4-0.8-4.6 1.2z"/><path class="w5" d="M115.4 177.1l4.7-1.1 0.4-0.7-4.7 1z"/><path class="w6" d="M120.1 176l4.7-1.1 0.4-0.7-4.7 1.1z"/><path class="w7" d="M124.8 174.9l4.7-1.2 0.4-0.7-4.7 1.2z"/><path class="w7" d="M129.5 173.7l4.7-1.1 0.5-0.7-4.8 1.1z"/><path class="w6" d="M134.2 172.6l4.8-1 0.4-0.7-4.7 1z"/><path class="w6" d="M139 171.6l4.8-1 0.4-0.6-4.8 0.9z"/><path class="w6" d="M143.8 170.6l4.8-0.9 0.4-0.7-4.8 1z"/><path class="w7" d="M148.6 169.7l4.8-1 0.5-0.7-4.9 1z"/><path class="w6" d="M153.4 168.7l4.9-0.8 0.4-0.7-4.8 0.8z"/><path class="w6" d="M158.3 167.9l4.9-0.7 0.4-0.6-4.9 0.6z"/><path class="w8" d="M163.2 167.2l4.9-0.4 0.4-0.6-4.9 0.4z"/><path class="w9" d="M168.1 166.8l4.9-0.5 0.4-0.5-4.9 0.4z"/><path class="w10" d="M173 166.3l4.9-0.4 0.4-0.5-4.9 0.4z"/><path class="w10" d="M177.9 165.9l4.9-0.3 0.4-0.5-4.9 0.3z"/><path class="w10" d="M182.8 165.6l5-0.3 0.4-0.5-5 0.3z"/><path class="w10" d="M187.8 165.3l5-0.2 0.4-0.5-5 0.2z"/><path class="w9" d="M192.8 165.1l5 0 0.4-0.5-5 0z"/><path class="w8" d="M197.8 165.1l5 0.3 0.4-0.5-5-0.3z"/><path class="w8" d="M202.8 165.4l5 0.5 0.4-0.5-5-0.5z"/><path class="w8" d="M207.8 165.9l5.1 0.6 0.4-0.5-5.1-0.6z"/><path class="w9" d="M212.9 166.5l5 0.7 0.4-0.5-5-0.7z"/><path class="w10" d="M217.9 167.2l5.1 0.7 0.4-0.5-5.1-0.7z"/><path class="w11" d="M223 167.9l5.1 0.6 0.4-0.4-5.1-0.7z"/><path class="w12" d="M228.1 168.5l5.1 0.6 0.4-0.4-5.1-0.6z"/><path class="w12" d="M233.2 169.1l5.1 0.4 0.4-0.4-5.1-0.4z"/><path class="w11" d="M238.3 169.5l5.2 0.4 0.3-0.4-5.1-0.4z"/><path class="w11" d="M243.5 169.9l5.1 0.4 0.4-0.4-5.2-0.4z"/><path class="w12" d="M248.6 170.3l5.2 0.5 0.3-0.4-5.1-0.5z"/><path class="w13" d="M253.8 170.8l5.2 0.7 0.3-0.3-5.2-0.8z"/><path class="w15" d="M259 171.5l5.2 1.1 0.3-0.3-5.2-1.1z"/><path class="w2" d="M91.8 182.7l4.6-0.3 0.4-0.7-4.6 0.2z"/><path class="w5" d="M96.4 182.4l4.6-1 0.5-0.7-4.7 1z"/><path class="w6" d="M101 181.4l4.6-1.2 0.5-0.7-4.6 1.2z"/><path class="w7" d="M105.6 180.2l4.7-1.2 0.4-0.7-4.6 1.2z"/><path class="w7" d="M110.3 179l4.6-1.2 0.5-0.7-4.7 1.2z"/><path class="w7" d="M114.9 177.8l4.7-1.1 0.5-0.7-4.7 1.1z"/><path class="w8" d="M119.6 176.7l4.7-1.1 0.5-0.7-4.7 1.1z"/><path class="w9" d="M124.3 175.6l4.8-1.2 0.4-0.7-4.7 1.2z"/><path class="w8" d="M129.1 174.4l4.7-1.1 0.4-0.7-4.7 1.1z"/><path class="w8" d="M133.8 173.3l4.8-1.1 0.4-0.6-4.8 1z"/><path class="w7" d="M138.6 172.2l4.8-0.9 0.4-0.7-4.8 1z"/><path class="w8" d="M143.4 171.3l4.8-1 0.4-0.6-4.8 0.9z"/><path class="w8" d="M148.2 170.3l4.8-0.9 0.4-0.7-4.8 1z"/><path class="w8" d="M153 169.4l4.9-0.9 0.4-0.6-4.9 0.8z"/><path class="w8" d="M157.9 168.5l4.8-0.6 0.5-0.7-4.9 0.7z"/><path class="w9" d="M162.7 167.9l4.9-0.6 0.5-0.5-4.9 0.4z"/><path class="w10" d="M167.6 167.3l5-0.4 0.4-0.6-4.9 0.5z"/><path class="w10" d="M172.6 166.9l4.9-0.4 0.4-0.6-4.9 0.4z"/><path class="w10" d="M177.5 166.5l4.9-0.4 0.4-0.5-4.9 0.3z"/><path class="w10" d="M182.4 166.1l5-0.3 0.4-0.5-5 0.3z"/><path class="w10" d="M187.4 165.8l5-0.2 0.4-0.5-5 0.2z"/><path class="w9" d="M192.4 165.6l5 0 0.4-0.5-5 0z"/><path class="w8" d="M197.4 165.6l5 0.3 0.4-0.5-5-0.3z"/><path class="w8" d="M202.4 165.9l5.1 0.5 0.3-0.5-5-0.5z"/><path class="w8" d="M207.5 166.4l5 0.6 0.4-0.5-5.1-0.6z"/><path class="w8" d="M212.5 167l5.1 0.7 0.3-0.5-5-0.7z"/><path class="w9" d="M217.6 167.7l5 0.7 0.4-0.5-5.1-0.7z"/><path class="w11" d="M222.6 168.4l5.1 0.6 0.4-0.5-5.1-0.6z"/><path class="w12" d="M227.7 169l5.1 0.5 0.4-0.4-5.1-0.6z"/><path class="w11" d="M232.8 169.5l5.2 0.5 0.3-0.5-5.1-0.4z"/><path class="w11" d="M238 170l5.1 0.4 0.4-0.5-5.2-0.4z"/><path class="w10" d="M243.1 170.4l5.2 0.4 0.3-0.5-5.1-0.4z"/><path class="w11" d="M248.3 170.8l5.2 0.4 0.3-0.4-5.2-0.5z"/><path class="w12" d="M253.5 171.2l5.1 0.7 0.4-0.4-5.2-0.7z"/><path class="w14" d="M258.6 171.9l5.2 1 0.4-0.3-5.2-1.1z"/><path class="w4" d="M91.3 183.3l4.6-0.2 0.5-0.7-4.6 0.3z"/><path class="w7" d="M95.9 183.1l4.6-1 0.5-0.7-4.6 1z"/><path class="w8" d="M100.5 182.1l4.7-1.2 0.4-0.7-4.6 1.2z"/><path class="w8" d="M105.2 180.9l4.6-1.2 0.5-0.7-4.7 1.2z"/><path class="w9" d="M109.8 179.7l4.7-1.3 0.4-0.6-4.6 1.2z"/><path class="w9" d="M114.5 178.4l4.7-1.1 0.4-0.6-4.7 1.1z"/><path class="w10" d="M119.2 177.3l4.7-1.1 0.4-0.6-4.7 1.1z"/><path class="w10" d="M123.9 176.2l4.7-1.2 0.5-0.6-4.8 1.2z"/><path class="w10" d="M128.6 175l4.8-1.1 0.4-0.6-4.7 1.1z"/><path class="w9" d="M133.4 173.9l4.7-1 0.5-0.7-4.8 1.1z"/><path class="w9" d="M138.1 172.9l4.8-1 0.5-0.6-4.8 0.9z"/><path class="w9" d="M142.9 171.9l4.9-0.9 0.4-0.7-4.8 1z"/><path class="w9" d="M147.8 171l4.8-1 0.4-0.6-4.8 0.9z"/><path class="w9" d="M152.6 170l4.9-0.9 0.4-0.6-4.9 0.9z"/><path class="w8" d="M157.5 169.1l4.8-0.7 0.4-0.5-4.8 0.6z"/><path class="w9" d="M162.3 168.4l4.9-0.5 0.4-0.6-4.9 0.6z"/><path class="w10" d="M167.2 167.9l5-0.5 0.4-0.5-5 0.4z"/><path class="w10" d="M172.2 167.4l4.9-0.4 0.4-0.5-4.9 0.4z"/><path class="w11" d="M177.1 167l4.9-0.4 0.4-0.5-4.9 0.4z"/><path class="w10" d="M182 166.6l5-0.3 0.4-0.5-5 0.3z"/><path class="w10" d="M187 166.3l5-0.2 0.4-0.5-5 0.2z"/><path class="w9" d="M192 166.1l5 0.1 0.4-0.6-5 0z"/><path class="w8" d="M197 166.2l5 0.2 0.4-0.5-5-0.3z"/><path class="w8" d="M202 166.4l5.1 0.5 0.4-0.5-5.1-0.5z"/><path class="w8" d="M207.1 166.9l5 0.6 0.4-0.5-5-0.6z"/><path class="w8" d="M212.1 167.5l5.1 0.7 0.4-0.5-5.1-0.7z"/><path class="w9" d="M217.2 168.2l5.1 0.6 0.3-0.4-5-0.7z"/><path class="w10" d="M222.3 168.8l5.1 0.6 0.3-0.4-5.1-0.6z"/><path class="w11" d="M227.4 169.4l5.1 0.6 0.3-0.5-5.1-0.5z"/><path class="w10" d="M232.5 170l5.1 0.4 0.4-0.4-5.2-0.5z"/><path class="w10" d="M237.6 170.4l5.2 0.5 0.3-0.5-5.1-0.4z"/><path class="w10" d="M242.8 170.9l5.1 0.4 0.4-0.5-5.2-0.4z"/><path class="w10" d="M247.9 171.3l5.2 0.4 0.4-0.5-5.2-0.4z"/><path class="w11" d="M253.1 171.7l5.2 0.6 0.3-0.4-5.1-0.7z"/><path class="w13" d="M258.3 172.3l5.2 1 0.3-0.4-5.2-1z"/><path class="w6" d="M90.9 184l4.6-0.3 0.4-0.6-4.6 0.2z"/><path class="w9" d="M95.5 183.7l4.6-1 0.4-0.6-4.6 1z"/><path class="w10" d="M100.1 182.7l4.6-1.2 0.5-0.6-4.7 1.2z"/><path class="w10" d="M104.7 181.5l4.7-1.2 0.4-0.6-4.6 1.2z"/><path class="w10" d="M109.4 180.3l4.6-1.3 0.5-0.6-4.7 1.3z"/><path class="w10" d="M114 179l4.7-1.1 0.5-0.6-4.7 1.1z"/><path class="w11" d="M118.7 177.9l4.7-1.1 0.5-0.6-4.7 1.1z"/><path class="w12" d="M123.4 176.8l4.8-1.2 0.4-0.6-4.7 1.2z"/><path class="w11" d="M128.2 175.6l4.7-1.1 0.5-0.6-4.8 1.1z"/><path class="w10" d="M132.9 174.5l4.8-1 0.4-0.6-4.7 1z"/><path class="w10" d="M137.7 173.5l4.8-1 0.4-0.6-4.8 1z"/><path class="w11" d="M142.5 172.5l4.8-1 0.5-0.5-4.9 0.9z"/><path class="w10" d="M147.3 171.5l4.9-0.9 0.4-0.6-4.8 1z"/><path class="w10" d="M152.2 170.6l4.8-0.9 0.5-0.6-4.9 0.9z"/><path class="w9" d="M157 169.7l4.9-0.7 0.4-0.6-4.8 0.7z"/><path class="w10" d="M161.9 169l4.9-0.6 0.4-0.5-4.9 0.5z"/><path class="w10" d="M166.8 168.4l4.9-0.5 0.5-0.5-5 0.5z"/><path class="w11" d="M171.7 167.9l5-0.4 0.4-0.5-4.9 0.4z"/><path class="w11" d="M176.7 167.5l4.9-0.4 0.4-0.5-4.9 0.4z"/><path class="w10" d="M181.6 167.1l5-0.3 0.4-0.5-5 0.3z"/><path class="w10" d="M186.6 166.8l5-0.1 0.4-0.6-5 0.2z"/><path class="w9" d="M191.6 166.7l5 0 0.4-0.5-5-0.1z"/><path class="w8" d="M196.6 166.7l5.1 0.3 0.3-0.6-5-0.2z"/><path class="w8" d="M201.7 167l5 0.4 0.4-0.5-5.1-0.5z"/><path class="w8" d="M206.7 167.4l5.1 0.6 0.3-0.5-5-0.6z"/><path class="w8" d="M211.8 168l5 0.7 0.4-0.5-5.1-0.7z"/><path class="w8" d="M216.8 168.7l5.1 0.6 0.4-0.5-5.1-0.6z"/><path class="w9" d="M221.9 169.3l5.1 0.6 0.4-0.5-5.1-0.6z"/><path class="w10" d="M227 169.9l5.1 0.5 0.4-0.4-5.1-0.6z"/><path class="w9" d="M232.1 170.4l5.2 0.5 0.3-0.5-5.1-0.4z"/><path class="w9" d="M237.3 170.9l5.1 0.5 0.4-0.5-5.2-0.5z"/><path class="w9" d="M242.4 171.4l5.2 0.4 0.3-0.5-5.1-0.4z"/><path class="w9" d="M247.6 171.8l5.2 0.4 0.3-0.5-5.2-0.4z"/><path class="w10" d="M252.8 172.2l5.2 0.6 0.3-0.5-5.2-0.6z"/><path class="w11" d="M258 172.8l5.2 0.9 0.3-0.4-5.2-1z"/><path class="w8" d="M90.4 184.6l4.6-0.3 0.5-0.6-4.6 0.3z"/><path class="w11" d="M95 184.3l4.6-1 0.5-0.6-4.6 1z"/><path class="w11" d="M99.6 183.3l4.7-1.2 0.4-0.6-4.6 1.2z"/><path class="w12" d="M104.3 182.1l4.6-1.2 0.5-0.6-4.7 1.2z"/><path class="w12" d="M108.9 180.9l4.7-1.3 0.4-0.6-4.6 1.3z"/><path class="w12" d="M113.6 179.6l4.7-1.1 0.4-0.6-4.7 1.1z"/><path class="w12" d="M118.3 178.5l4.7-1.1 0.4-0.6-4.7 1.1z"/><path class="w13" d="M123 177.4l4.7-1.2 0.5-0.6-4.8 1.2z"/><path class="w12" d="M127.7 176.2l4.8-1.2 0.4-0.5-4.7 1.1z"/><path class="w12" d="M132.5 175l4.8-1 0.4-0.5-4.8 1z"/><path class="w12" d="M137.3 174l4.8-0.9 0.4-0.6-4.8 1z"/><path class="w12" d="M142.1 173.1l4.8-1 0.4-0.6-4.8 1z"/><path class="w11" d="M146.9 172.1l4.8-1 0.5-0.5-4.9 0.9z"/><path class="w11" d="M151.7 171.1l4.9-0.8 0.4-0.6-4.8 0.9z"/><path class="w10" d="M156.6 170.3l4.9-0.7 0.4-0.6-4.9 0.7z"/><path class="w11" d="M161.5 169.6l4.9-0.7 0.4-0.5-4.9 0.6z"/><path class="w11" d="M166.4 168.9l4.9-0.4 0.4-0.6-4.9 0.5z"/><path class="w11" d="M171.3 168.5l5-0.5 0.4-0.5-5 0.4z"/><path class="w11" d="M176.3 168l4.9-0.4 0.4-0.5-4.9 0.4z"/><path class="w11" d="M181.2 167.6l5-0.3 0.4-0.5-5 0.3z"/><path class="w10" d="M186.2 167.3l5-0.1 0.4-0.5-5 0.1z"/><path class="w9" d="M191.2 167.2l5 0 0.4-0.5-5 0z"/><path class="w8" d="M196.2 167.2l5.1 0.3 0.4-0.5-5.1-0.3z"/><path class="w8" d="M201.3 167.5l5 0.4 0.4-0.5-5-0.4z"/><path class="w7" d="M206.3 167.9l5.1 0.6 0.4-0.5-5.1-0.6z"/><path class="w7" d="M211.4 168.5l5.1 0.7 0.3-0.5-5-0.7z"/><path class="w8" d="M216.5 169.2l5 0.6 0.4-0.5-5.1-0.6z"/><path class="w8" d="M221.5 169.8l5.1 0.6 0.4-0.5-5.1-0.6z"/><path class="w8" d="M226.6 170.4l5.2 0.5 0.3-0.5-5.1-0.5z"/><path class="w8" d="M231.8 170.9l5.1 0.6 0.4-0.6-5.2-0.5z"/><path class="w8" d="M236.9 171.5l5.2 0.4 0.3-0.5-5.1-0.5z"/><path class="w7" d="M242.1 171.9l5.1 0.4 0.4-0.5-5.2-0.4z"/><path class="w8" d="M247.2 172.3l5.2 0.4 0.4-0.5-5.2-0.4z"/><path class="w8" d="M252.4 172.7l5.2 0.6 0.4-0.5-5.2-0.6z"/><path class="w8" d="M257.6 173.3l5.2 0.9 0.4-0.5-5.2-0.9z"/><path class="w10" d="M89.9 185.1l4.7-0.3 0.4-0.5-4.6 0.3z"/><path class="w13" d="M94.6 184.8l4.6-1 0.4-0.5-4.6 1z"/><path class="w13" d="M99.2 183.8l4.6-1.1 0.5-0.6-4.7 1.2z"/><path class="w13" d="M103.8 182.7l4.7-1.2 0.4-0.6-4.6 1.2z"/><path class="w13" d="M108.5 181.5l4.6-1.3 0.5-0.6-4.7 1.3z"/><path class="w13" d="M113.1 180.2l4.7-1.2 0.5-0.5-4.7 1.1z"/><path class="w13" d="M117.8 179l4.8-1.1 0.4-0.5-4.7 1.1z"/><path class="w14" d="M122.6 177.9l4.7-1.2 0.4-0.5-4.7 1.2z"/><path class="w14" d="M127.3 176.7l4.8-1.1 0.4-0.6-4.8 1.2z"/><path class="w13" d="M132.1 175.6l4.7-1 0.5-0.6-4.8 1z"/><path class="w13" d="M136.8 174.6l4.8-1 0.5-0.5-4.8 0.9z"/><path class="w13" d="M141.6 173.6l4.9-1 0.4-0.5-4.8 1z"/><path class="w12" d="M146.5 172.6l4.8-0.9 0.4-0.6-4.8 1z"/><path class="w11" d="M151.3 171.7l4.9-0.9 0.4-0.5-4.9 0.8z"/><path class="w11" d="M156.2 170.8l4.9-0.7 0.4-0.5-4.9 0.7z"/><path class="w11" d="M161.1 170.1l4.9-0.6 0.4-0.6-4.9 0.7z"/><path class="w11" d="M166 169.5l4.9-0.5 0.4-0.5-4.9 0.4z"/><path class="w11" d="M170.9 169l5-0.5 0.4-0.5-5 0.5z"/><path class="w11" d="M175.9 168.5l4.9-0.4 0.4-0.5-4.9 0.4z"/><path class="w11" d="M180.8 168.1l5-0.3 0.4-0.5-5 0.3z"/><path class="w10" d="M185.8 167.8l5-0.1 0.4-0.5-5 0.1z"/><path class="w9" d="M190.8 167.7l5.1 0 0.3-0.5-5 0z"/><path class="w8" d="M195.9 167.7l5 0.3 0.4-0.5-5.1-0.3z"/><path class="w7" d="M200.9 168l5 0.5 0.4-0.6-5-0.4z"/><path class="w7" d="M205.9 168.5l5.1 0.6 0.4-0.6-5.1-0.6z"/><path class="w7" d="M211 169.1l5.1 0.6 0.4-0.5-5.1-0.7z"/><path class="w7" d="M216.1 169.7l5.1 0.7 0.3-0.6-5-0.6z"/><path class="w7" d="M221.2 170.4l5.1 0.5 0.3-0.5-5.1-0.6z"/><path class="w7" d="M226.3 170.9l5.1 0.6 0.4-0.6-5.2-0.5z"/><path class="w7" d="M231.4 171.5l5.1 0.5 0.4-0.5-5.1-0.6z"/><path class="w7" d="M236.5 172l5.2 0.5 0.4-0.6-5.2-0.4z"/><path class="w6" d="M241.7 172.5l5.2 0.4 0.3-0.6-5.1-0.4z"/><path class="w6" d="M246.9 172.9l5.2 0.4 0.3-0.6-5.2-0.4z"/><path class="w6" d="M252.1 173.3l5.2 0.5 0.3-0.5-5.2-0.6z"/><path class="w6" d="M257.3 173.8l5.2 0.9 0.3-0.5-5.2-0.9z"/><path class="w12" d="M89.5 185.6l4.6-0.3 0.5-0.5-4.7 0.3z"/><path class="w14" d="M94.1 185.3l4.6-1 0.5-0.5-4.6 1z"/><path class="w15" d="M98.7 184.3l4.7-1.1 0.4-0.5-4.6 1.1z"/><path class="w15" d="M103.4 183.2l4.6-1.2 0.5-0.5-4.7 1.2z"/><path class="w14" d="M108 182l4.7-1.3 0.4-0.5-4.6 1.3z"/><path class="w14" d="M112.7 180.7l4.7-1.1 0.4-0.6-4.7 1.2z"/><path class="w15" d="M117.4 179.6l4.7-1.2 0.5-0.5-4.8 1.1z"/><path class="w15" d="M122.1 178.4l4.8-1.2 0.4-0.5-4.7 1.2z"/><path class="w15" d="M126.9 177.2l4.7-1.1 0.5-0.5-4.8 1.1z"/><path class="w14" d="M131.6 176.1l4.8-1 0.4-0.5-4.7 1z"/><path class="w14" d="M136.4 175.1l4.8-1 0.4-0.5-4.8 1z"/><path class="w14" d="M141.2 174.1l4.8-1 0.5-0.5-4.9 1z"/><path class="w13" d="M146 173.1l4.9-0.9 0.4-0.5-4.8 0.9z"/><path class="w12" d="M150.9 172.2l4.9-0.8 0.4-0.6-4.9 0.9z"/><path class="w11" d="M155.8 171.4l4.9-0.8 0.4-0.5-4.9 0.7z"/><path class="w11" d="M160.7 170.6l4.9-0.6 0.4-0.5-4.9 0.6z"/><path class="w11" d="M165.6 170l4.9-0.5 0.4-0.5-4.9 0.5z"/><path class="w11" d="M170.5 169.5l5-0.5 0.4-0.5-5 0.5z"/><path class="w11" d="M175.5 169l4.9-0.3 0.4-0.6-4.9 0.4z"/><path class="w11" d="M180.4 168.7l5-0.3 0.4-0.6-5 0.3z"/><path class="w10" d="M185.4 168.4l5-0.2 0.4-0.5-5 0.1z"/><path class="w9" d="M190.4 168.2l5.1 0.1 0.4-0.6-5.1 0z"/><path class="w8" d="M195.5 168.3l5 0.2 0.4-0.5-5-0.3z"/><path class="w7" d="M200.5 168.5l5.1 0.5 0.3-0.5-5-0.5z"/><path class="w7" d="M205.6 169l5 0.6 0.4-0.5-5.1-0.6z"/><path class="w7" d="M210.6 169.6l5.1 0.7 0.4-0.6-5.1-0.6z"/><path class="w7" d="M215.7 170.3l5.1 0.6 0.4-0.5-5.1-0.7z"/><path class="w7" d="M220.8 170.9l5.1 0.6 0.4-0.6-5.1-0.5z"/><path class="w6" d="M225.9 171.5l5.1 0.5 0.4-0.5-5.1-0.6z"/><path class="w6" d="M231 172l5.2 0.6 0.3-0.6-5.1-0.5z"/><path class="w6" d="M236.2 172.6l5.2 0.5 0.3-0.6-5.2-0.5z"/><path class="w5" d="M241.4 173.1l5.1 0.4 0.4-0.6-5.2-0.4z"/><path class="w5" d="M246.5 173.5l5.2 0.4 0.4-0.6-5.2-0.4z"/><path class="w5" d="M251.7 173.9l5.3 0.5 0.3-0.6-5.2-0.5z"/><path class="w4" d="M257 174.4l5.2 0.9 0.3-0.6-5.2-0.9z"/><path class="w14" d="M89 186l4.6-0.3 0.5-0.4-4.6 0.3z"/><path class="w16" d="M93.6 185.7l4.6-0.9 0.5-0.5-4.6 1z"/><path class="w16" d="M98.2 184.8l4.7-1.1 0.5-0.5-4.7 1.1z"/><path class="w16" d="M102.9 183.7l4.7-1.2 0.4-0.5-4.6 1.2z"/><path class="w15" d="M107.6 182.5l4.6-1.3 0.5-0.5-4.7 1.3z"/><path class="w15" d="M112.2 181.2l4.7-1.2 0.5-0.4-4.7 1.1z"/><path class="w16" d="M116.9 180l4.8-1.1 0.4-0.5-4.7 1.2z"/><path class="w16" d="M121.7 178.9l4.7-1.3 0.5-0.4-4.8 1.2z"/><path class="w16" d="M126.4 177.6l4.8-1.1 0.4-0.4-4.7 1.1z"/><path class="w15" d="M131.2 176.5l4.8-1 0.4-0.4-4.8 1z"/><path class="w15" d="M136 175.5l4.8-0.9 0.4-0.5-4.8 1z"/><path class="w14" d="M140.8 174.6l4.8-1 0.4-0.5-4.8 1z"/><path class="w14" d="M145.6 173.6l4.9-0.9 0.4-0.5-4.9 0.9z"/><path class="w13" d="M150.5 172.7l4.9-0.8 0.4-0.5-4.9 0.8z"/><path class="w12" d="M155.4 171.9l4.8-0.7 0.5-0.6-4.9 0.8z"/><path class="w11" d="M160.2 171.2l5-0.7 0.4-0.5-4.9 0.6z"/><path class="w11" d="M165.2 170.5l4.9-0.5 0.4-0.5-4.9 0.5z"/><path class="w11" d="M170.1 170l5-0.5 0.4-0.5-5 0.5z"/><path class="w11" d="M175.1 169.5l4.9-0.3 0.4-0.5-4.9 0.3z"/><path class="w11" d="M180 169.2l5-0.3 0.4-0.5-5 0.3z"/><path class="w10" d="M185 168.9l5-0.2 0.4-0.5-5 0.2z"/><path class="w9" d="M190 168.7l5.1 0.1 0.4-0.5-5.1-0.1z"/><path class="w8" d="M195.1 168.8l5 0.3 0.4-0.6-5-0.2z"/><path class="w7" d="M200.1 169.1l5.1 0.5 0.4-0.6-5.1-0.5z"/><path class="w7" d="M205.2 169.6l5 0.6 0.4-0.6-5-0.6z"/><path class="w6" d="M210.2 170.2l5.1 0.6 0.4-0.5-5.1-0.7z"/><path class="w6" d="M215.3 170.8l5.1 0.7 0.4-0.6-5.1-0.6z"/><path class="w6" d="M220.4 171.5l5.1 0.5 0.4-0.5-5.1-0.6z"/><path class="w5" d="M225.5 172l5.2 0.6 0.3-0.6-5.1-0.5z"/><path class="w5" d="M230.7 172.6l5.1 0.6 0.4-0.6-5.2-0.6z"/><path class="w5" d="M235.8 173.2l5.2 0.5 0.4-0.6-5.2-0.5z"/><path class="w4" d="M241 173.7l5.2 0.4 0.3-0.6-5.1-0.4z"/><path class="w4" d="M246.2 174.1l5.2 0.4 0.3-0.6-5.2-0.4z"/><path class="w3" d="M251.4 174.5l5.2 0.6 0.4-0.7-5.3-0.5z"/><path class="w2" d="M256.6 175.1l5.2 0.9 0.4-0.7-5.2-0.9z"/><path class="w16" d="M88.5 186.4l4.7-0.3 0.4-0.4-4.6 0.3z"/><path class="w17" d="M93.2 186.1l4.6-0.9 0.4-0.4-4.6 0.9z"/><path class="w17" d="M97.8 185.2l4.6-1.1 0.5-0.4-4.7 1.1z"/><path class="w17" d="M102.4 184.1l4.7-1.2 0.5-0.4-4.7 1.2z"/><path class="w17" d="M107.1 182.9l4.7-1.2 0.4-0.5-4.6 1.3z"/><path class="w16" d="M111.8 181.7l4.7-1.2 0.4-0.5-4.7 1.2z"/><path class="w17" d="M116.5 180.5l4.7-1.2 0.5-0.4-4.8 1.1z"/><path class="w17" d="M121.2 179.3l4.8-1.2 0.4-0.5-4.7 1.3z"/><path class="w16" d="M126 178.1l4.7-1.1 0.5-0.5-4.8 1.1z"/><path class="w15" d="M130.7 177l4.8-1 0.5-0.5-4.8 1z"/><path class="w15" d="M135.5 176l4.9-1 0.4-0.4-4.8 0.9z"/><path class="w15" d="M140.4 175l4.8-0.9 0.4-0.5-4.8 1z"/><path class="w14" d="M145.2 174.1l4.8-0.9 0.5-0.5-4.9 0.9z"/><path class="w13" d="M150 173.2l4.9-0.8 0.5-0.5-4.9 0.8z"/><path class="w12" d="M154.9 172.4l4.9-0.7 0.4-0.5-4.8 0.7z"/><path class="w12" d="M159.8 171.7l5-0.7 0.4-0.5-5 0.7z"/><path class="w12" d="M164.8 171l4.9-0.5 0.4-0.5-4.9 0.5z"/><path class="w12" d="M169.7 170.5l5-0.5 0.4-0.5-5 0.5z"/><path class="w11" d="M174.7 170l4.9-0.3 0.4-0.5-4.9 0.3z"/><path class="w11" d="M179.6 169.7l5-0.3 0.4-0.5-5 0.3z"/><path class="w10" d="M184.6 169.4l5-0.2 0.4-0.5-5 0.2z"/><path class="w9" d="M189.6 169.2l5.1 0.1 0.4-0.5-5.1-0.1z"/><path class="w8" d="M194.7 169.3l5 0.3 0.4-0.5-5-0.3z"/><path class="w7" d="M199.7 169.6l5.1 0.5 0.4-0.5-5.1-0.5z"/><path class="w6" d="M204.8 170.1l5.1 0.6 0.3-0.5-5-0.6z"/><path class="w6" d="M209.9 170.7l5 0.7 0.4-0.6-5.1-0.6z"/><path class="w5" d="M214.9 171.4l5.2 0.6 0.3-0.5-5.1-0.7z"/><path class="w5" d="M220.1 172l5.1 0.6 0.3-0.6-5.1-0.5z"/><path class="w4" d="M225.2 172.6l5.1 0.6 0.4-0.6-5.2-0.6z"/><path class="w4" d="M230.3 173.2l5.2 0.6 0.3-0.6-5.1-0.6z"/><path class="w4" d="M235.5 173.8l5.1 0.5 0.4-0.6-5.2-0.5z"/><path class="w3" d="M240.6 174.3l5.2 0.4 0.4-0.6-5.2-0.4z"/><path class="w3" d="M245.8 174.7l5.2 0.5 0.4-0.7-5.2-0.4z"/><path class="w2" d="M251 175.2l5.3 0.6 0.3-0.7-5.2-0.6z"/><path class="w1" d="M256.3 175.8l5.2 0.9 0.3-0.7-5.2-0.9z"/><path class="w17" d="M88 186.8l4.7-0.3 0.5-0.4-4.7 0.3z"/><path class="w17" d="M92.7 186.5l4.6-0.9 0.5-0.4-4.6 0.9z"/><path class="w17" d="M97.3 185.6l4.7-1.1 0.4-0.4-4.6 1.1z"/><path class="w17" d="M102 184.5l4.6-1.2 0.5-0.4-4.7 1.2z"/><path class="w17" d="M106.6 183.3l4.7-1.2 0.5-0.4-4.7 1.2z"/><path class="w17" d="M111.3 182.1l4.7-1.2 0.5-0.4-4.7 1.2z"/><path class="w17" d="M116 180.9l4.8-1.1 0.4-0.5-4.7 1.2z"/><path class="w17" d="M120.8 179.8l4.7-1.3 0.5-0.4-4.8 1.2z"/><path class="w17" d="M125.5 178.5l4.8-1.1 0.4-0.4-4.7 1.1z"/><path class="w16" d="M130.3 177.4l4.8-0.9 0.4-0.5-4.8 1z"/><path class="w16" d="M135.1 176.5l4.8-1 0.5-0.5-4.9 1z"/><path class="w16" d="M139.9 175.5l4.9-1 0.4-0.4-4.8 0.9z"/><path class="w15" d="M144.8 174.5l4.8-0.8 0.4-0.5-4.8 0.9z"/><path class="w14" d="M149.6 173.7l4.9-0.8 0.4-0.5-4.9 0.8z"/><path class="w13" d="M154.5 172.9l4.9-0.7 0.4-0.5-4.9 0.7z"/><path class="w12" d="M159.4 172.2l4.9-0.7 0.5-0.5-5 0.7z"/><path class="w12" d="M164.3 171.5l5-0.5 0.4-0.5-4.9 0.5z"/><path class="w12" d="M169.3 171l4.9-0.5 0.5-0.5-5 0.5z"/><path class="w11" d="M174.2 170.5l5-0.3 0.4-0.5-4.9 0.3z"/><path class="w11" d="M179.2 170.2l5-0.3 0.4-0.5-5 0.3z"/><path class="w10" d="M184.2 169.9l5.1-0.1 0.3-0.6-5 0.2z"/><path class="w9" d="M189.3 169.8l5 0 0.4-0.5-5.1-0.1z"/><path class="w8" d="M194.3 169.8l5 0.4 0.4-0.6-5-0.3z"/><path class="w7" d="M199.3 170.2l5.1 0.5 0.4-0.6-5.1-0.5z"/><path class="w6" d="M204.4 170.7l5.1 0.6 0.4-0.6-5.1-0.6z"/><path class="w5" d="M209.5 171.3l5.1 0.7 0.3-0.6-5-0.7z"/><path class="w5" d="M214.6 172l5.1 0.6 0.4-0.6-5.2-0.6z"/><path class="w4" d="M219.7 172.6l5.1 0.7 0.4-0.7-5.1-0.6z"/><path class="w4" d="M224.8 173.3l5.1 0.6 0.4-0.7-5.1-0.6z"/><path class="w3" d="M229.9 173.9l5.2 0.5 0.4-0.6-5.2-0.6z"/><path class="w3" d="M235.1 174.4l5.2 0.5 0.3-0.6-5.1-0.5z"/><path class="w3" d="M240.3 174.9l5.2 0.5 0.3-0.7-5.2-0.4z"/><path class="w2" d="M245.5 175.4l5.2 0.5 0.3-0.7-5.2-0.5z"/><path d="M250.7 175.9l5.2 0.6 0.4-0.7-5.3-0.6z"/><path d="M255.9 176.5l5.2 0.9 0.4-0.7-5.2-0.9z"/><path class="w17" d="M87.6 187.1l4.6-0.3 0.5-0.3-4.7 0.3z"/><path class="w17" d="M92.2 186.8l4.6-0.9 0.5-0.3-4.6 0.9z"/><path class="w17" d="M96.8 185.9l4.7-1.1 0.5-0.3-4.7 1.1z"/><path class="w17" d="M101.5 184.8l4.7-1.1 0.4-0.4-4.6 1.2z"/><path class="w17" d="M106.2 183.7l4.7-1.1 0.4-0.5-4.7 1.2z"/><path class="w17" d="M110.9 182.6l4.7-1.2 0.4-0.5-4.7 1.2z"/><path class="w17" d="M115.6 181.4l4.7-1.2 0.5-0.4-4.8 1.1z"/><path class="w17" d="M120.3 180.2l4.8-1.2 0.4-0.5-4.7 1.3z"/><path class="w17" d="M125.1 179l4.8-1.1 0.4-0.5-4.8 1.1z"/><path class="w17" d="M129.9 177.9l4.8-1 0.4-0.4-4.8 0.9z"/><path class="w16" d="M134.7 176.9l4.8-1 0.4-0.4-4.8 1z"/><path class="w16" d="M139.5 175.9l4.8-0.9 0.5-0.5-4.9 1z"/><path class="w15" d="M144.3 175l4.9-0.9 0.4-0.4-4.8 0.8z"/><path class="w14" d="M149.2 174.1l4.9-0.7 0.4-0.5-4.9 0.8z"/><path class="w13" d="M154.1 173.4l4.9-0.7 0.4-0.5-4.9 0.7z"/><path class="w13" d="M159 172.7l4.9-0.7 0.4-0.5-4.9 0.7z"/><path class="w12" d="M163.9 172l5-0.5 0.4-0.5-5 0.5z"/><path class="w12" d="M168.9 171.5l4.9-0.5 0.4-0.5-4.9 0.5z"/><path class="w11" d="M173.8 171l5-0.3 0.4-0.5-5 0.3z"/><path class="w11" d="M178.8 170.7l5-0.3 0.4-0.5-5 0.3z"/><path class="w10" d="M183.8 170.4l5.1-0.1 0.4-0.5-5.1 0.1z"/><path class="w9" d="M188.9 170.3l5 0.1 0.4-0.6-5 0z"/><path class="w8" d="M193.9 170.4l5 0.3 0.4-0.5-5-0.4z"/><path class="w7" d="M198.9 170.7l5.1 0.5 0.4-0.5-5.1-0.5z"/><path class="w6" d="M204 171.2l5.1 0.6 0.4-0.5-5.1-0.6z"/><path class="w5" d="M209.1 171.8l5.1 0.8 0.4-0.6-5.1-0.7z"/><path class="w4" d="M214.2 172.6l5.1 0.7 0.4-0.7-5.1-0.6z"/><path class="w4" d="M219.3 173.3l5.1 0.6 0.4-0.6-5.1-0.7z"/><path class="w3" d="M224.4 173.9l5.2 0.6 0.3-0.6-5.1-0.6z"/><path class="w2" d="M229.6 174.5l5.1 0.6 0.4-0.7-5.2-0.5z"/><path class="w2" d="M234.7 175.1l5.2 0.5 0.4-0.7-5.2-0.5z"/><path class="w2" d="M239.9 175.6l5.2 0.5 0.4-0.7-5.2-0.5z"/><path class="w1" d="M245.1 176.1l5.2 0.5 0.4-0.7-5.2-0.5z"/><path d="M250.3 176.6l5.3 0.6 0.3-0.7-5.2-0.6z"/><path d="M255.6 177.2l5.2 0.9 0.3-0.7-5.2-0.9z"/><path class="w17" d="M87.1 187.4l4.6-0.4 0.5-0.2-4.6 0.3z"/><path class="w17" d="M91.7 187l4.7-0.8 0.4-0.3-4.6 0.9z"/><path class="w17" d="M96.4 186.2l4.6-1 0.5-0.4-4.7 1.1z"/><path class="w17" d="M101 185.2l4.7-1.1 0.5-0.4-4.7 1.1z"/><path class="w17" d="M105.7 184.1l4.7-1.2 0.5-0.3-4.7 1.1z"/><path class="w17" d="M110.4 182.9l4.7-1.2 0.5-0.3-4.7 1.2z"/><path class="w17" d="M115.1 181.7l4.8-1.1 0.4-0.4-4.7 1.2z"/><path class="w17" d="M119.9 180.6l4.7-1.2 0.5-0.4-4.8 1.2z"/><path class="w17" d="M124.6 179.4l4.8-1.1 0.5-0.4-4.8 1.1z"/><path class="w17" d="M129.4 178.3l4.8-1 0.5-0.4-4.8 1z"/><path class="w17" d="M134.2 177.3l4.8-1 0.5-0.4-4.8 1z"/><path class="w16" d="M139 176.3l4.9-0.9 0.4-0.4-4.8 0.9z"/><path class="w15" d="M143.9 175.4l4.9-0.8 0.4-0.5-4.9 0.9z"/><path class="w15" d="M148.8 174.6l4.9-0.8 0.4-0.4-4.9 0.7z"/><path class="w14" d="M153.7 173.8l4.9-0.7 0.4-0.4-4.9 0.7z"/><path class="w13" d="M158.6 173.1l4.9-0.6 0.4-0.5-4.9 0.7z"/><path class="w13" d="M163.5 172.5l5-0.5 0.4-0.5-5 0.5z"/><path class="w12" d="M168.5 172l4.9-0.5 0.4-0.5-4.9 0.5z"/><path class="w12" d="M173.4 171.5l5-0.4 0.4-0.4-5 0.3z"/><path class="w11" d="M178.4 171.1l5-0.2 0.4-0.5-5 0.3z"/><path class="w10" d="M183.4 170.9l5.1-0.1 0.4-0.5-5.1 0.1z"/><path class="w9" d="M188.5 170.8l5 0.1 0.4-0.5-5-0.1z"/><path class="w8" d="M193.5 170.9l5.1 0.3 0.3-0.5-5-0.3z"/><path class="w7" d="M198.6 171.2l5 0.6 0.4-0.6-5.1-0.5z"/><path class="w6" d="M203.6 171.8l5.1 0.6 0.4-0.6-5.1-0.6z"/><path class="w5" d="M208.7 172.4l5.1 0.7 0.4-0.5-5.1-0.8z"/><path class="w4" d="M213.8 173.1l5.1 0.8 0.4-0.6-5.1-0.7z"/><path class="w3" d="M218.9 173.9l5.2 0.6 0.3-0.6-5.1-0.6z"/><path class="w2" d="M224.1 174.5l5.1 0.7 0.4-0.7-5.2-0.6z"/><path class="w2" d="M229.2 175.2l5.2 0.6 0.3-0.7-5.1-0.6z"/><path class="w2" d="M234.4 175.8l5.2 0.5 0.3-0.7-5.2-0.5z"/><path class="w1" d="M239.6 176.3l5.2 0.5 0.3-0.7-5.2-0.5z"/><path d="M244.8 176.8l5.2 0.5 0.3-0.7-5.2-0.5z"/><path d="M250 177.3l5.2 0.7 0.4-0.8-5.3-0.6z"/><path d="M255.2 178l5.3 0.9 0.3-0.8-5.2-0.9z"/><path class="w17" d="M86.6 187.6l4.7-0.3 0.4-0.3-4.6 0.4z"/><path class="w17" d="M91.3 187.3l4.6-0.9 0.5-0.2-4.7 0.8z"/><path class="w17" d="M95.9 186.4l4.7-1 0.4-0.2-4.6 1z"/><path class="w17" d="M100.6 185.4l4.6-1 0.5-0.3-4.7 1.1z"/><path class="w17" d="M105.2 184.4l4.7-1.1 0.5-0.4-4.7 1.2z"/><path class="w17" d="M109.9 183.3l4.8-1.2 0.4-0.4-4.7 1.2z"/><path class="w17" d="M114.7 182.1l4.7-1.2 0.5-0.3-4.8 1.1z"/><path class="w17" d="M119.4 180.9l4.8-1.1 0.4-0.4-4.7 1.2z"/><path class="w17" d="M124.2 179.8l4.8-1.1 0.4-0.4-4.8 1.1z"/><path class="w17" d="M129 178.7l4.8-1 0.4-0.4-4.8 1z"/><path class="w17" d="M133.8 177.7l4.8-0.9 0.4-0.5-4.8 1z"/><path class="w17" d="M138.6 176.8l4.9-1 0.4-0.4-4.9 0.9z"/><path class="w16" d="M143.5 175.8l4.8-0.8 0.5-0.4-4.9 0.8z"/><path class="w15" d="M148.3 175l4.9-0.7 0.5-0.5-4.9 0.8z"/><path class="w14" d="M153.2 174.3l4.9-0.7 0.5-0.5-4.9 0.7z"/><path class="w13" d="M158.1 173.6l5-0.6 0.4-0.5-4.9 0.6z"/><path class="w13" d="M163.1 173l4.9-0.5 0.5-0.5-5 0.5z"/><path class="w12" d="M168 172.5l5-0.5 0.4-0.5-4.9 0.5z"/><path class="w12" d="M173 172l5-0.4 0.4-0.5-5 0.4z"/><path class="w11" d="M178 171.6l5-0.2 0.4-0.5-5 0.2z"/><path class="w10" d="M183 171.4l5.1-0.1 0.4-0.5-5.1 0.1z"/><path class="w9" d="M188.1 171.3l5 0.1 0.4-0.5-5-0.1z"/><path class="w7" d="M193.1 171.4l5.1 0.4 0.4-0.6-5.1-0.3z"/><path class="w6" d="M198.2 171.8l5 0.5 0.4-0.5-5-0.6z"/><path class="w5" d="M203.2 172.3l5.1 0.7 0.4-0.6-5.1-0.6z"/><path class="w4" d="M208.3 173l5.1 0.8 0.4-0.7-5.1-0.7z"/><path class="w3" d="M213.4 173.8l5.2 0.7 0.3-0.6-5.1-0.8z"/><path class="w2" d="M218.6 174.5l5.1 0.7 0.4-0.7-5.2-0.6z"/><path class="w1" d="M223.7 175.2l5.1 0.7 0.4-0.7-5.1-0.7z"/><path class="w1" d="M228.8 175.9l5.2 0.6 0.4-0.7-5.2-0.6z"/><path class="w1" d="M234 176.5l5.2 0.5 0.4-0.7-5.2-0.5z"/><path d="M239.2 177l5.2 0.5 0.4-0.7-5.2-0.5z"/><path d="M244.4 177.5l5.2 0.6 0.4-0.8-5.2-0.5z"/><path d="M249.6 178.1l5.3 0.7 0.3-0.8-5.2-0.7z"/><path d="M254.9 178.8l5.2 0.9 0.4-0.8-5.3-0.9z"/><path class="w17" d="M86.1 187.9l4.7-0.4 0.5-0.2-4.7 0.3z"/><path class="w17" d="M90.8 187.5l4.6-0.9 0.5-0.2-4.6 0.9z"/><path class="w17" d="M95.4 186.6l4.7-0.9 0.5-0.3-4.7 1z"/><path class="w17" d="M100.1 185.7l4.7-1 0.4-0.3-4.6 1z"/><path class="w17" d="M104.8 184.7l4.7-1.1 0.4-0.3-4.7 1.1z"/><path class="w17" d="M109.5 183.6l4.7-1.2 0.5-0.3-4.8 1.2z"/><path class="w17" d="M114.2 182.4l4.8-1.1 0.4-0.4-4.7 1.2z"/><path class="w17" d="M119 181.3l4.7-1.1 0.5-0.4-4.8 1.1z"/><path class="w17" d="M123.7 180.2l4.8-1.1 0.5-0.4-4.8 1.1z"/><path class="w17" d="M128.5 179.1l4.8-1 0.5-0.4-4.8 1z"/><path class="w17" d="M133.3 178.1l4.9-0.9 0.4-0.4-4.8 0.9z"/><path class="w17" d="M138.2 177.2l4.8-0.9 0.5-0.5-4.9 1z"/><path class="w16" d="M143 176.3l4.9-0.8 0.4-0.5-4.8 0.8z"/><path class="w15" d="M147.9 175.5l4.9-0.8 0.4-0.4-4.9 0.7z"/><path class="w15" d="M152.8 174.7l4.9-0.7 0.4-0.4-4.9 0.7z"/><path class="w14" d="M157.7 174l5-0.5 0.4-0.5-5 0.6z"/><path class="w13" d="M162.7 173.5l4.9-0.6 0.4-0.4-4.9 0.5z"/><path class="w13" d="M167.6 172.9l5-0.4 0.4-0.5-5 0.5z"/><path class="w12" d="M172.6 172.5l5-0.4 0.4-0.5-5 0.4z"/><path class="w11" d="M177.6 172.1l5-0.2 0.4-0.5-5 0.2z"/><path class="w10" d="M182.6 171.9l5.1-0.1 0.4-0.5-5.1 0.1z"/><path class="w9" d="M187.7 171.8l5 0.2 0.4-0.6-5-0.1z"/><path class="w7" d="M192.7 172l5.1 0.3 0.4-0.5-5.1-0.4z"/><path class="w6" d="M197.8 172.3l5.1 0.6 0.3-0.6-5-0.5z"/><path class="w5" d="M202.9 172.9l5 0.7 0.4-0.6-5.1-0.7z"/><path class="w4" d="M207.9 173.6l5.2 0.8 0.3-0.6-5.1-0.8z"/><path class="w3" d="M213.1 174.4l5.1 0.7 0.4-0.6-5.2-0.7z"/><path class="w2" d="M218.2 175.1l5.1 0.8 0.4-0.7-5.1-0.7z"/><path class="w1" d="M223.3 175.9l5.2 0.7 0.3-0.7-5.1-0.7z"/><path class="w1" d="M228.5 176.6l5.1 0.6 0.4-0.7-5.2-0.6z"/><path d="M233.6 177.2l5.2 0.5 0.4-0.7-5.2-0.5z"/><path d="M238.8 177.7l5.2 0.6 0.4-0.8-5.2-0.5z"/><path d="M244 178.3l5.3 0.6 0.3-0.8-5.2-0.6z"/><path d="M249.3 178.9l5.2 0.7 0.4-0.8-5.3-0.7z"/><path d="M254.5 179.6l5.2 1 0.4-0.9-5.2-0.9z"/><path class="w17" d="M85.6 188.1l4.7-0.4 0.5-0.2-4.7 0.4z"/><path class="w17" d="M90.3 187.7l4.6-0.9 0.5-0.2-4.6 0.9z"/><path class="w17" d="M94.9 186.8l4.7-0.9 0.5-0.2-4.7 0.9z"/><path class="w17" d="M99.6 185.9l4.7-1 0.5-0.2-4.7 1z"/><path class="w17" d="M104.3 184.9l4.7-1 0.5-0.3-4.7 1.1z"/><path class="w17" d="M109 183.9l4.7-1.2 0.5-0.3-4.7 1.2z"/><path class="w17" d="M113.7 182.7l4.8-1.1 0.5-0.3-4.8 1.1z"/><path class="w17" d="M118.5 181.6l4.8-1.1 0.4-0.3-4.7 1.1z"/><path class="w17" d="M123.3 180.5l4.8-1.1 0.4-0.3-4.8 1.1z"/><path class="w17" d="M128.1 179.4l4.8-1 0.4-0.3-4.8 1z"/><path class="w17" d="M132.9 178.4l4.8-0.8 0.5-0.4-4.9 0.9z"/><path class="w17" d="M137.7 177.6l4.9-0.9 0.4-0.4-4.8 0.9z"/><path class="w17" d="M142.6 176.7l4.9-0.8 0.4-0.4-4.9 0.8z"/><path class="w16" d="M147.5 175.9l4.9-0.8 0.4-0.4-4.9 0.8z"/><path class="w15" d="M152.4 175.1l4.9-0.6 0.4-0.5-4.9 0.7z"/><path class="w14" d="M157.3 174.5l4.9-0.6 0.5-0.4-5 0.5z"/><path class="w13" d="M162.2 173.9l5-0.5 0.4-0.5-4.9 0.6z"/><path class="w13" d="M167.2 173.4l5-0.4 0.4-0.5-5 0.4z"/><path class="w12" d="M172.2 173l5-0.4 0.4-0.5-5 0.4z"/><path class="w11" d="M177.2 172.6l5-0.2 0.4-0.5-5 0.2z"/><path class="w10" d="M182.2 172.4l5.1-0.1 0.4-0.5-5.1 0.1z"/><path class="w9" d="M187.3 172.3l5 0.2 0.4-0.5-5-0.2z"/><path class="w7" d="M192.3 172.5l5.1 0.4 0.4-0.6-5.1-0.3z"/><path class="w6" d="M197.4 172.9l5.1 0.6 0.4-0.6-5.1-0.6z"/><path class="w5" d="M202.5 173.5l5.1 0.7 0.3-0.6-5-0.7z"/><path class="w4" d="M207.6 174.2l5.1 0.8 0.4-0.6-5.2-0.8z"/><path class="w3" d="M212.7 175l5.1 0.8 0.4-0.7-5.1-0.7z"/><path class="w1" d="M217.8 175.8l5.1 0.8 0.4-0.7-5.1-0.8z"/><path d="M222.9 176.6l5.2 0.7 0.4-0.7-5.2-0.7z"/><path d="M228.1 177.3l5.2 0.6 0.3-0.7-5.1-0.6z"/><path d="M233.3 177.9l5.2 0.5 0.3-0.7-5.2-0.5z"/><path d="M238.5 178.4l5.2 0.6 0.3-0.7-5.2-0.6z"/><path d="M243.7 179l5.2 0.7 0.4-0.8-5.3-0.6z"/><path d="M248.9 179.7l5.2 0.8 0.4-0.9-5.2-0.7z"/><path d="M254.1 180.5l5.3 1 0.3-0.9-5.2-1z"/><path class="w17" d="M85.2 188.3l4.6-0.5 0.5-0.1-4.7 0.4z"/><path class="w17" d="M89.8 187.8l4.7-0.8 0.4-0.2-4.6 0.9z"/><path class="w17" d="M94.5 187l4.6-0.9 0.5-0.2-4.7 0.9z"/><path class="w17" d="M99.1 186.1l4.7-0.9 0.5-0.3-4.7 1z"/><path class="w17" d="M103.8 185.2l4.8-1.1 0.4-0.2-4.7 1z"/><path class="w17" d="M108.6 184.1l4.7-1.2 0.4-0.2-4.7 1.2z"/><path class="w17" d="M113.3 182.9l4.7-1 0.5-0.3-4.8 1.1z"/><path class="w17" d="M118 181.9l4.8-1.1 0.5-0.3-4.8 1.1z"/><path class="w17" d="M122.8 180.8l4.8-1.1 0.5-0.3-4.8 1.1z"/><path class="w17" d="M127.6 179.7l4.8-0.9 0.5-0.4-4.8 1z"/><path class="w17" d="M132.4 178.8l4.9-0.9 0.4-0.3-4.8 0.8z"/><path class="w17" d="M137.3 177.9l4.9-0.8 0.4-0.4-4.9 0.9z"/><path class="w17" d="M142.2 177.1l4.8-0.8 0.5-0.4-4.9 0.8z"/><path class="w16" d="M147 176.3l4.9-0.7 0.5-0.5-4.9 0.8z"/><path class="w15" d="M151.9 175.6l5-0.7 0.4-0.4-4.9 0.6z"/><path class="w14" d="M156.9 174.9l4.9-0.5 0.4-0.5-4.9 0.6z"/><path class="w14" d="M161.8 174.4l5-0.5 0.4-0.5-5 0.5z"/><path class="w13" d="M166.8 173.9l5-0.5 0.4-0.4-5 0.4z"/><path class="w12" d="M171.8 173.4l5-0.3 0.4-0.5-5 0.4z"/><path class="w11" d="M176.8 173.1l5-0.2 0.4-0.5-5 0.2z"/><path class="w10" d="M181.8 172.9l5.1 0 0.4-0.6-5.1 0.1z"/><path class="w9" d="M186.9 172.9l5 0.1 0.4-0.5-5-0.2z"/><path class="w7" d="M191.9 173l5.1 0.4 0.4-0.5-5.1-0.4z"/><path class="w6" d="M197 173.4l5.1 0.6 0.4-0.5-5.1-0.6z"/><path class="w5" d="M202.1 174l5.1 0.8 0.4-0.6-5.1-0.7z"/><path class="w4" d="M207.2 174.8l5.1 0.8 0.4-0.6-5.1-0.8z"/><path class="w3" d="M212.3 175.6l5.1 0.8 0.4-0.6-5.1-0.8z"/><path class="w1" d="M217.4 176.4l5.2 0.9 0.3-0.7-5.1-0.8z"/><path d="M222.6 177.3l5.1 0.7 0.4-0.7-5.2-0.7z"/><path d="M227.7 178l5.2 0.6 0.4-0.7-5.2-0.6z"/><path d="M232.9 178.6l5.2 0.5 0.4-0.7-5.2-0.5z"/><path d="M238.1 179.1l5.2 0.7 0.4-0.8-5.2-0.6z"/><path d="M243.3 179.8l5.3 0.7 0.3-0.8-5.2-0.7z"/><path d="M248.6 180.5l5.2 0.8 0.3-0.8-5.2-0.8z"/><path d="M253.8 181.3l5.2 1.1 0.4-0.9-5.3-1z"/><path class="w17" d="M84.7 188.4l4.6-0.4 0.5-0.2-4.6 0.5z"/><path class="w17" d="M89.3 188l4.7-0.9 0.5-0.1-4.7 0.8z"/><path class="w17" d="M94 187.1l4.7-0.9 0.4-0.1-4.6 0.9z"/><path class="w17" d="M98.7 186.2l4.7-0.8 0.4-0.2-4.7 0.9z"/><path class="w17" d="M103.4 185.4l4.7-1.1 0.5-0.2-4.8 1.1z"/><path class="w17" d="M108.1 184.3l4.7-1.1 0.5-0.3-4.7 1.2z"/><path class="w17" d="M112.8 183.2l4.8-1.1 0.4-0.2-4.7 1z"/><path class="w17" d="M117.6 182.1l4.8-1 0.4-0.3-4.8 1.1z"/><path class="w17" d="M122.4 181.1l4.8-1 0.4-0.4-4.8 1.1z"/><path class="w17" d="M127.2 180.1l4.8-1 0.4-0.3-4.8 0.9z"/><path class="w17" d="M132 179.1l4.8-0.8 0.5-0.4-4.9 0.9z"/><path class="w17" d="M136.8 178.3l4.9-0.8 0.5-0.4-4.9 0.8z"/><path class="w17" d="M141.7 177.5l4.9-0.8 0.4-0.4-4.8 0.8z"/><path class="w17" d="M146.6 176.7l4.9-0.7 0.4-0.4-4.9 0.7z"/><path class="w16" d="M151.5 176l4.9-0.7 0.5-0.4-5 0.7z"/><path class="w15" d="M156.4 175.3l5-0.5 0.4-0.4-4.9 0.5z"/><path class="w14" d="M161.4 174.8l5-0.5 0.4-0.4-5 0.5z"/><path class="w13" d="M166.4 174.3l5-0.4 0.4-0.5-5 0.5z"/><path class="w12" d="M171.4 173.9l5-0.3 0.4-0.5-5 0.3z"/><path class="w11" d="M176.4 173.6l5-0.2 0.4-0.5-5 0.2z"/><path class="w10" d="M181.4 173.4l5.1 0 0.4-0.5-5.1 0z"/><path class="w8" d="M186.5 173.4l5 0.2 0.4-0.6-5-0.1z"/><path class="w7" d="M191.5 173.6l5.1 0.4 0.4-0.6-5.1-0.4z"/><path class="w6" d="M196.6 174l5.1 0.6 0.4-0.6-5.1-0.6z"/><path class="w5" d="M201.7 174.6l5.1 0.7 0.4-0.5-5.1-0.8z"/><path class="w4" d="M206.8 175.3l5.1 0.9 0.4-0.6-5.1-0.8z"/><path class="w2" d="M211.9 176.2l5.1 0.9 0.4-0.7-5.1-0.8z"/><path class="w1" d="M217 177.1l5.2 0.9 0.4-0.7-5.2-0.9z"/><path d="M222.2 178l5.2 0.7 0.3-0.7-5.1-0.7z"/><path d="M227.4 178.7l5.1 0.6 0.4-0.7-5.2-0.6z"/><path d="M232.5 179.3l5.2 0.6 0.4-0.8-5.2-0.5z"/><path d="M237.7 179.9l5.3 0.6 0.3-0.7-5.2-0.7z"/><path d="M243 180.5l5.2 0.8 0.4-0.8-5.3-0.7z"/><path d="M248.2 181.3l5.2 0.9 0.4-0.9-5.2-0.8z"/><path d="M253.4 182.2l5.3 1.1 0.3-0.9-5.2-1.1z"/><path class="w17" d="M84.2 188.6l4.6-0.5 0.5-0.1-4.6 0.4z"/><path class="w17" d="M88.8 188.1l4.7-0.9 0.5-0.1-4.7 0.9z"/><path class="w17" d="M93.5 187.2l4.7-0.9 0.5-0.1-4.7 0.9z"/><path class="w17" d="M98.2 186.3l4.7-0.8 0.5-0.1-4.7 0.8z"/><path class="w17" d="M102.9 185.5l4.7-1 0.5-0.2-4.7 1.1z"/><path class="w17" d="M107.6 184.5l4.8-1.1 0.4-0.2-4.7 1.1z"/><path class="w17" d="M112.4 183.4l4.7-1 0.5-0.3-4.8 1.1z"/><path class="w17" d="M117.1 182.4l4.8-1 0.5-0.3-4.8 1z"/><path class="w17" d="M121.9 181.4l4.8-1.1 0.5-0.2-4.8 1z"/><path class="w17" d="M126.7 180.3l4.8-0.9 0.5-0.3-4.8 1z"/><path class="w17" d="M131.5 179.4l4.9-0.8 0.4-0.3-4.8 0.8z"/><path class="w17" d="M136.4 178.6l4.9-0.8 0.4-0.3-4.9 0.8z"/><path class="w17" d="M141.3 177.8l4.9-0.8 0.4-0.3-4.9 0.8z"/><path class="w17" d="M146.2 177l4.9-0.6 0.4-0.4-4.9 0.7z"/><path class="w16" d="M151.1 176.4l4.9-0.6 0.4-0.5-4.9 0.7z"/><path class="w15" d="M156 175.8l5-0.6 0.4-0.4-5 0.5z"/><path class="w14" d="M161 175.2l5-0.4 0.4-0.5-5 0.5z"/><path class="w13" d="M166 174.8l4.9-0.4 0.5-0.5-5 0.4z"/><path class="w12" d="M170.9 174.4l5.1-0.3 0.4-0.5-5 0.3z"/><path class="w11" d="M176 174.1l5-0.2 0.4-0.5-5 0.2z"/><path class="w10" d="M181 173.9l5 0 0.5-0.5-5.1 0z"/><path class="w8" d="M186 173.9l5.1 0.2 0.4-0.5-5-0.2z"/><path class="w7" d="M191.1 174.1l5.1 0.4 0.4-0.5-5.1-0.4z"/><path class="w6" d="M196.2 174.5l5.1 0.7 0.4-0.6-5.1-0.6z"/><path class="w5" d="M201.3 175.2l5.1 0.7 0.4-0.6-5.1-0.7z"/><path class="w4" d="M206.4 175.9l5.1 0.9 0.4-0.6-5.1-0.9z"/><path class="w2" d="M211.5 176.8l5.2 0.9 0.3-0.6-5.1-0.9z"/><path class="w1" d="M216.7 177.7l5.1 1 0.4-0.7-5.2-0.9z"/><path d="M221.8 178.7l5.2 0.7 0.4-0.7-5.2-0.7z"/><path d="M227 179.4l5.2 0.6 0.3-0.7-5.1-0.6z"/><path d="M232.2 180l5.2 0.6 0.3-0.7-5.2-0.6z"/><path d="M237.4 180.6l5.2 0.7 0.4-0.8-5.3-0.6z"/><path d="M242.6 181.3l5.2 0.8 0.4-0.8-5.2-0.8z"/><path d="M247.8 182.1l5.3 0.9 0.3-0.8-5.2-0.9z"/><path d="M253.1 183l5.2 1.1 0.4-0.8-5.3-1.1z"/><path class="w17" d="M83.7 188.7l4.6-0.5 0.5-0.1-4.6 0.5z"/><path class="w17" d="M88.3 188.2l4.7-0.9 0.5-0.1-4.7 0.9z"/><path class="w17" d="M93 187.3l4.7-0.9 0.5-0.1-4.7 0.9z"/><path class="w17" d="M97.7 186.4l4.7-0.7 0.5-0.2-4.7 0.8z"/><path class="w17" d="M102.4 185.7l4.7-1.1 0.5-0.1-4.7 1z"/><path class="w17" d="M107.1 184.6l4.8-1.1 0.5-0.1-4.8 1.1z"/><path class="w17" d="M111.9 183.5l4.8-1 0.4-0.1-4.7 1z"/><path class="w17" d="M116.7 182.5l4.8-0.9 0.4-0.2-4.8 1z"/><path class="w17" d="M121.5 181.6l4.8-1 0.4-0.3-4.8 1.1z"/><path class="w17" d="M126.3 180.6l4.8-0.9 0.4-0.3-4.8 0.9z"/><path class="w17" d="M131.1 179.7l4.9-0.8 0.4-0.3-4.9 0.8z"/><path class="w17" d="M136 178.9l4.8-0.7 0.5-0.4-4.9 0.8z"/><path class="w17" d="M140.8 178.2l4.9-0.8 0.5-0.4-4.9 0.8z"/><path class="w17" d="M145.7 177.4l5-0.6 0.4-0.4-4.9 0.6z"/><path class="w16" d="M150.7 176.8l4.9-0.6 0.4-0.4-4.9 0.6z"/><path class="w15" d="M155.6 176.2l5-0.5 0.4-0.5-5 0.6z"/><path class="w14" d="M160.6 175.7l4.9-0.5 0.5-0.4-5 0.4z"/><path class="w13" d="M165.5 175.2l5-0.4 0.4-0.4-4.9 0.4z"/><path class="w12" d="M170.5 174.8l5.1-0.2 0.4-0.5-5.1 0.3z"/><path class="w11" d="M175.6 174.6l5-0.2 0.4-0.5-5 0.2z"/><path class="w10" d="M180.6 174.4l5 0 0.4-0.5-5 0z"/><path class="w8" d="M185.6 174.4l5.1 0.2 0.4-0.5-5.1-0.2z"/><path class="w7" d="M190.7 174.6l5.1 0.5 0.4-0.6-5.1-0.4z"/><path class="w6" d="M195.8 175.1l5.1 0.6 0.4-0.5-5.1-0.7z"/><path class="w5" d="M200.9 175.7l5.1 0.8 0.4-0.6-5.1-0.7z"/><path class="w4" d="M206 176.5l5.1 0.9 0.4-0.6-5.1-0.9z"/><path class="w2" d="M211.1 177.4l5.2 1 0.4-0.7-5.2-0.9z"/><path class="w1" d="M216.3 178.4l5.1 0.9 0.4-0.6-5.1-1z"/><path d="M221.4 179.3l5.2 0.8 0.4-0.7-5.2-0.7z"/><path d="M226.6 180.1l5.2 0.6 0.4-0.7-5.2-0.6z"/><path d="M231.8 180.7l5.2 0.6 0.4-0.7-5.2-0.6z"/><path d="M237 181.3l5.2 0.7 0.4-0.7-5.2-0.7z"/><path d="M242.2 182l5.3 0.8 0.3-0.7-5.2-0.8z"/><path d="M247.5 182.8l5.2 1.1 0.4-0.9-5.3-0.9z"/><path d="M252.7 183.9l5.3 1.1 0.3-0.9-5.2-1.1z"/><path class="w17" d="M83.2 188.7l4.7-0.5 0.4 0-4.6 0.5z"/><path class="w17" d="M87.9 188.2l4.6-0.9 0.5 0-4.7 0.9z"/><path class="w17" d="M92.5 187.3l4.7-0.9 0.5 0-4.7 0.9z"/><path class="w17" d="M97.2 186.4l4.7-0.6 0.5-0.1-4.7 0.7z"/><path class="w17" d="M101.9 185.8l4.8-1 0.4-0.2-4.7 1.1z"/><path class="w17" d="M106.7 184.8l4.7-1.1 0.5-0.2-4.8 1.1z"/><path class="w17" d="M111.4 183.7l4.8-1 0.5-0.2-4.8 1z"/><path class="w17" d="M116.2 182.7l4.8-0.9 0.5-0.2-4.8 0.9z"/><path class="w17" d="M121 181.8l4.8-1 0.5-0.2-4.8 1z"/><path class="w17" d="M125.8 180.8l4.9-0.8 0.4-0.3-4.8 0.9z"/><path class="w17" d="M130.7 180l4.8-0.8 0.5-0.3-4.9 0.8z"/><path class="w17" d="M135.5 179.2l4.9-0.7 0.4-0.3-4.8 0.7z"/><path class="w17" d="M140.4 178.5l4.9-0.7 0.4-0.4-4.9 0.8z"/><path class="w17" d="M145.3 177.8l4.9-0.7 0.5-0.3-5 0.6z"/><path class="w16" d="M150.2 177.1l5-0.5 0.4-0.4-4.9 0.6z"/><path class="w15" d="M155.2 176.6l4.9-0.5 0.5-0.4-5 0.5z"/><path class="w14" d="M160.1 176.1l5-0.4 0.4-0.5-4.9 0.5z"/><path class="w13" d="M165.1 175.7l5-0.4 0.4-0.5-5 0.4z"/><path class="w12" d="M170.1 175.3l5-0.2 0.5-0.5-5.1 0.2z"/><path class="w11" d="M175.1 175.1l5.1-0.2 0.4-0.5-5 0.2z"/><path class="w9" d="M180.2 174.9l5 0 0.4-0.5-5 0z"/><path class="w8" d="M185.2 174.9l5.1 0.3 0.4-0.6-5.1-0.2z"/><path class="w7" d="M190.3 175.2l5.1 0.4 0.4-0.5-5.1-0.5z"/><path class="w6" d="M195.4 175.6l5.1 0.7 0.4-0.6-5.1-0.6z"/><path class="w5" d="M200.5 176.3l5.1 0.8 0.4-0.6-5.1-0.8z"/><path class="w4" d="M205.6 177.1l5.2 0.9 0.3-0.6-5.1-0.9z"/><path class="w3" d="M210.8 178l5.1 1 0.4-0.6-5.2-1z"/><path class="w1" d="M215.9 179l5.2 1 0.3-0.7-5.1-0.9z"/><path class="w1" d="M221.1 180l5.1 0.8 0.4-0.7-5.2-0.8z"/><path class="w1" d="M226.2 180.8l5.2 0.6 0.4-0.7-5.2-0.6z"/><path d="M231.4 181.4l5.2 0.6 0.4-0.7-5.2-0.6z"/><path d="M236.6 182l5.3 0.7 0.3-0.7-5.2-0.7z"/><path d="M241.9 182.7l5.2 0.9 0.4-0.8-5.3-0.8z"/><path d="M247.1 183.6l5.3 1.1 0.3-0.8-5.2-1.1z"/><path d="M252.4 184.7l5.2 1.2 0.4-0.9-5.3-1.1z"/><path class="w17" d="M82.7 188.8l4.7-0.5 0.5-0.1-4.7 0.5z"/><path class="w17" d="M87.4 188.3l4.6-0.9 0.5-0.1-4.6 0.9z"/><path class="w17" d="M92 187.4l4.7-0.9 0.5-0.1-4.7 0.9z"/><path class="w17" d="M96.7 186.5l4.8-0.7 0.4 0-4.7 0.6z"/><path class="w17" d="M101.5 185.8l4.7-0.9 0.5-0.1-4.8 1z"/><path class="w17" d="M106.2 184.9l4.8-1.1 0.4-0.1-4.7 1.1z"/><path class="w17" d="M111 183.8l4.7-0.9 0.5-0.2-4.8 1z"/><path class="w17" d="M115.7 182.9l4.8-0.9 0.5-0.2-4.8 0.9z"/><path class="w17" d="M120.5 182l4.9-0.9 0.4-0.3-4.8 1z"/><path class="w17" d="M125.4 181.1l4.8-0.9 0.5-0.2-4.9 0.8z"/><path class="w17" d="M130.2 180.2l4.9-0.7 0.4-0.3-4.8 0.8z"/><path class="w17" d="M135.1 179.5l4.9-0.7 0.4-0.3-4.9 0.7z"/><path class="w17" d="M140 178.8l4.9-0.7 0.4-0.3-4.9 0.7z"/><path class="w17" d="M144.9 178.1l4.9-0.6 0.4-0.4-4.9 0.7z"/><path class="w17" d="M149.8 177.5l4.9-0.5 0.5-0.4-5 0.5z"/><path class="w15" d="M154.7 177l5-0.5 0.4-0.4-4.9 0.5z"/><path class="w14" d="M159.7 176.5l5-0.4 0.4-0.4-5 0.4z"/><path class="w13" d="M164.7 176.1l5-0.3 0.4-0.5-5 0.4z"/><path class="w12" d="M169.7 175.8l5-0.3 0.4-0.4-5 0.2z"/><path class="w11" d="M174.7 175.5l5.1-0.1 0.4-0.5-5.1 0.2z"/><path class="w9" d="M179.8 175.4l5 0.1 0.4-0.6-5 0z"/><path class="w8" d="M184.8 175.5l5.1 0.2 0.4-0.5-5.1-0.3z"/><path class="w7" d="M189.9 175.7l5.1 0.5 0.4-0.6-5.1-0.4z"/><path class="w6" d="M195 176.2l5.1 0.7 0.4-0.6-5.1-0.7z"/><path class="w5" d="M200.1 176.9l5.1 0.8 0.4-0.6-5.1-0.8z"/><path class="w4" d="M205.2 177.7l5.2 0.9 0.4-0.6-5.2-0.9z"/><path class="w3" d="M210.4 178.6l5.1 1.1 0.4-0.7-5.1-1z"/><path class="w2" d="M215.5 179.7l5.2 1 0.4-0.7-5.2-1z"/><path class="w2" d="M220.7 180.7l5.2 0.8 0.3-0.7-5.1-0.8z"/><path class="w1" d="M225.9 181.5l5.2 0.6 0.3-0.7-5.2-0.6z"/><path class="w1" d="M231.1 182.1l5.2 0.6 0.3-0.7-5.2-0.6z"/><path d="M236.3 182.7l5.2 0.8 0.4-0.8-5.3-0.7z"/><path d="M241.5 183.5l5.2 0.9 0.4-0.8-5.2-0.9z"/><path d="M246.7 184.4l5.3 1.1 0.4-0.8-5.3-1.1z"/><path d="M252 185.5l5.3 1.1 0.3-0.7-5.2-1.2z"/><path class="w17" d="M82.2 188.7l4.7-0.4 0.5 0-4.7 0.5z"/><path class="w17" d="M86.9 188.3l4.6-0.9 0.5 0-4.6 0.9z"/><path class="w17" d="M91.5 187.4l4.8-0.9 0.4 0-4.7 0.9z"/><path class="w17" d="M96.3 186.5l4.7-0.6 0.5-0.1-4.8 0.7z"/><path class="w17" d="M101 185.9l4.7-1 0.5 0-4.7 0.9z"/><path class="w17" d="M105.7 184.9l4.8-1 0.5-0.1-4.8 1.1z"/><path class="w17" d="M110.5 183.9l4.8-0.9 0.4-0.1-4.7 0.9z"/><path class="w17" d="M115.3 183l4.8-0.8 0.4-0.2-4.8 0.9z"/><path class="w17" d="M120.1 182.2l4.8-0.9 0.5-0.2-4.9 0.9z"/><path class="w17" d="M124.9 181.3l4.8-0.9 0.5-0.2-4.8 0.9z"/><path class="w17" d="M129.7 180.4l4.9-0.7 0.5-0.2-4.9 0.7z"/><path class="w17" d="M134.6 179.7l4.9-0.6 0.5-0.3-4.9 0.7z"/><path class="w17" d="M139.5 179.1l4.9-0.6 0.5-0.4-4.9 0.7z"/><path class="w17" d="M144.4 178.5l5-0.6 0.4-0.4-4.9 0.6z"/><path class="w17" d="M149.4 177.9l4.9-0.5 0.4-0.4-4.9 0.5z"/><path class="w15" d="M154.3 177.4l5-0.5 0.4-0.4-5 0.5z"/><path class="w14" d="M159.3 176.9l5-0.4 0.4-0.4-5 0.4z"/><path class="w13" d="M164.3 176.5l5-0.3 0.4-0.4-5 0.3z"/><path class="w12" d="M169.3 176.2l5-0.2 0.4-0.5-5 0.3z"/><path class="w11" d="M174.3 176l5.1-0.1 0.4-0.5-5.1 0.1z"/><path class="w9" d="M179.4 175.9l5 0.1 0.4-0.5-5-0.1z"/><path class="w8" d="M184.4 176l5.1 0.3 0.4-0.6-5.1-0.2z"/><path class="w7" d="M189.5 176.3l5.1 0.4 0.4-0.5-5.1-0.5z"/><path class="w6" d="M194.6 176.7l5.1 0.7 0.4-0.5-5.1-0.7z"/><path class="w5" d="M199.7 177.4l5.1 0.9 0.4-0.6-5.1-0.8z"/><path class="w4" d="M204.8 178.3l5.2 0.9 0.4-0.6-5.2-0.9z"/><path class="w3" d="M210 179.2l5.1 1.1 0.4-0.6-5.1-1.1z"/><path class="w2" d="M215.1 180.3l5.2 1 0.4-0.6-5.2-1z"/><path class="w2" d="M220.3 181.3l5.2 0.8 0.4-0.6-5.2-0.8z"/><path class="w2" d="M225.5 182.1l5.2 0.7 0.4-0.7-5.2-0.6z"/><path class="w1" d="M230.7 182.8l5.2 0.6 0.4-0.7-5.2-0.6z"/><path d="M235.9 183.4l5.2 0.8 0.4-0.7-5.2-0.8z"/><path d="M241.1 184.2l5.3 0.9 0.3-0.7-5.2-0.9z"/><path d="M246.4 185.1l5.2 1.1 0.4-0.7-5.3-1.1z"/><path d="M251.6 186.2l5.3 1.2 0.4-0.8-5.3-1.1z"/><path class="w17" d="M81.7 188.7l4.7-0.4 0.5 0-4.7 0.4z"/><path class="w17" d="M86.4 188.3l4.7-0.9 0.4 0-4.6 0.9z"/><path class="w17" d="M91.1 187.4l4.7-0.9 0.5 0-4.8 0.9z"/><path class="w17" d="M95.8 186.5l4.7-0.6 0.5 0-4.7 0.6z"/><path class="w17" d="M100.5 185.9l4.7-0.9 0.5-0.1-4.7 1z"/><path class="w17" d="M105.2 185l4.8-1 0.5-0.1-4.8 1z"/><path class="w17" d="M110 184l4.8-0.9 0.5-0.1-4.8 0.9z"/><path class="w17" d="M114.8 183.1l4.8-0.8 0.5-0.1-4.8 0.8z"/><path class="w17" d="M119.6 182.3l4.8-0.8 0.5-0.2-4.8 0.9z"/><path class="w17" d="M124.4 181.5l4.9-0.8 0.4-0.3-4.8 0.9z"/><path class="w17" d="M129.3 180.7l4.9-0.7 0.4-0.3-4.9 0.7z"/><path class="w17" d="M134.2 180l4.9-0.6 0.4-0.3-4.9 0.6z"/><path class="w17" d="M139.1 179.4l4.9-0.6 0.4-0.3-4.9 0.6z"/><path class="w17" d="M144 178.8l4.9-0.6 0.5-0.3-5 0.6z"/><path class="w17" d="M148.9 178.2l5-0.5 0.4-0.3-4.9 0.5z"/><path class="w15" d="M153.9 177.7l5-0.4 0.4-0.4-5 0.5z"/><path class="w14" d="M158.9 177.3l4.9-0.3 0.5-0.5-5 0.4z"/><path class="w13" d="M163.8 177l5.1-0.3 0.4-0.5-5 0.3z"/><path class="w12" d="M168.9 176.7l5-0.2 0.4-0.5-5 0.2z"/><path class="w11" d="M173.9 176.5l5.1-0.1 0.4-0.5-5.1 0.1z"/><path class="w9" d="M179 176.4l5 0.1 0.4-0.5-5-0.1z"/><path class="w8" d="M184 176.5l5.1 0.3 0.4-0.5-5.1-0.3z"/><path class="w7" d="M189.1 176.8l5.1 0.5 0.4-0.6-5.1-0.4z"/><path class="w6" d="M194.2 177.3l5.1 0.7 0.4-0.6-5.1-0.7z"/><path class="w5" d="M199.3 178l5.2 0.9 0.3-0.6-5.1-0.9z"/><path class="w4" d="M204.5 178.9l5.1 0.9 0.4-0.6-5.2-0.9z"/><path class="w3" d="M209.6 179.8l5.1 1.1 0.4-0.6-5.1-1.1z"/><path class="w3" d="M214.7 180.9l5.2 1 0.4-0.6-5.2-1z"/><path class="w3" d="M219.9 181.9l5.2 0.9 0.4-0.7-5.2-0.8z"/><path class="w2" d="M225.1 182.8l5.2 0.6 0.4-0.6-5.2-0.7z"/><path class="w1" d="M230.3 183.4l5.2 0.7 0.4-0.7-5.2-0.6z"/><path d="M235.5 184.1l5.3 0.8 0.3-0.7-5.2-0.8z"/><path d="M240.8 184.9l5.2 0.9 0.4-0.7-5.3-0.9z"/><path d="M246 185.8l5.3 1.1 0.3-0.7-5.2-1.1z"/><path d="M251.3 186.9l5.3 1.2 0.3-0.7-5.3-1.2z"/><path class="w17" d="M81.2 188.7l4.7-0.5 0.5 0.1-4.7 0.4z"/><path class="w17" d="M85.9 188.2l4.7-0.8 0.5 0-4.7 0.9z"/><path class="w17" d="M90.6 187.4l4.7-0.8 0.5-0.1-4.7 0.9z"/><path class="w17" d="M95.3 186.6l4.7-0.7 0.5 0-4.7 0.6z"/><path class="w17" d="M100 185.9l4.8-0.8 0.4-0.1-4.7 0.9z"/><path class="w17" d="M104.8 185.1l4.7-1 0.5-0.1-4.8 1z"/><path class="w17" d="M109.5 184.1l4.8-0.8 0.5-0.2-4.8 0.9z"/><path class="w17" d="M114.3 183.3l4.8-0.8 0.5-0.2-4.8 0.8z"/><path class="w17" d="M119.1 182.5l4.9-0.8 0.4-0.2-4.8 0.8z"/><path class="w17" d="M124 181.7l4.8-0.8 0.5-0.2-4.9 0.8z"/><path class="w17" d="M128.8 180.9l4.9-0.6 0.5-0.3-4.9 0.7z"/><path class="w17" d="M133.7 180.3l4.9-0.6 0.5-0.3-4.9 0.6z"/><path class="w17" d="M138.6 179.7l4.9-0.6 0.5-0.3-4.9 0.6z"/><path class="w17" d="M143.5 179.1l5-0.5 0.4-0.4-4.9 0.6z"/><path class="w17" d="M148.5 178.6l4.9-0.5 0.5-0.4-5 0.5z"/><path class="w15" d="M153.4 178.1l5-0.4 0.5-0.4-5 0.4z"/><path class="w14" d="M158.4 177.7l5-0.3 0.4-0.4-4.9 0.3z"/><path class="w13" d="M163.4 177.4l5-0.2 0.5-0.5-5.1 0.3z"/><path class="w12" d="M168.4 177.2l5.1-0.2 0.4-0.5-5 0.2z"/><path class="w10" d="M173.5 177l5-0.1 0.5-0.5-5.1 0.1z"/><path class="w9" d="M178.5 176.9l5.1 0.1 0.4-0.5-5-0.1z"/><path class="w8" d="M183.6 177l5.1 0.3 0.4-0.5-5.1-0.3z"/><path class="w7" d="M188.7 177.3l5.1 0.6 0.4-0.6-5.1-0.5z"/><path class="w6" d="M193.8 177.9l5.1 0.7 0.4-0.6-5.1-0.7z"/><path class="w5" d="M198.9 178.6l5.2 0.9 0.4-0.6-5.2-0.9z"/><path class="w4" d="M204.1 179.5l5.1 0.9 0.4-0.6-5.1-0.9z"/><path class="w4" d="M209.2 180.4l5.2 1.1 0.3-0.6-5.1-1.1z"/><path class="w3" d="M214.4 181.5l5.1 1 0.4-0.6-5.2-1z"/><path class="w3" d="M219.5 182.5l5.2 0.9 0.4-0.6-5.2-0.9z"/><path class="w3" d="M224.7 183.4l5.2 0.7 0.4-0.7-5.2-0.6z"/><path class="w2" d="M229.9 184.1l5.3 0.7 0.3-0.7-5.2-0.7z"/><path class="w1" d="M235.2 184.8l5.2 0.8 0.4-0.7-5.3-0.8z"/><path d="M240.4 185.6l5.3 0.9 0.3-0.7-5.2-0.9z"/><path d="M245.7 186.5l5.2 1.1 0.4-0.7-5.3-1.1z"/><path d="M250.9 187.6l5.3 1.1 0.4-0.6-5.3-1.2z"/><path class="w17" d="M80.7 188.6l4.7-0.4 0.5 0-4.7 0.5z"/><path class="w17" d="M85.4 188.2l4.7-0.8 0.5 0-4.7 0.8z"/><path class="w17" d="M90.1 187.4l4.7-0.8 0.5 0-4.7 0.8z"/><path class="w17" d="M94.8 186.6l4.7-0.7 0.5 0-4.7 0.7z"/><path class="w17" d="M99.5 185.9l4.8-0.8 0.5 0-4.8 0.8z"/><path class="w17" d="M104.3 185.1l4.8-0.9 0.4-0.1-4.7 1z"/><path class="w17" d="M109.1 184.2l4.8-0.8 0.4-0.1-4.8 0.8z"/><path class="w17" d="M113.9 183.4l4.8-0.8 0.4-0.1-4.8 0.8z"/><path class="w17" d="M118.7 182.6l4.8-0.8 0.5-0.1-4.9 0.8z"/><path class="w17" d="M123.5 181.8l4.9-0.7 0.4-0.2-4.8 0.8z"/><path class="w17" d="M128.4 181.1l4.9-0.6 0.4-0.2-4.9 0.6z"/><path class="w17" d="M133.3 180.5l4.9-0.5 0.4-0.3-4.9 0.6z"/><path class="w17" d="M138.2 180l4.9-0.6 0.4-0.3-4.9 0.6z"/><path class="w17" d="M143.1 179.4l4.9-0.4 0.5-0.4-5 0.5z"/><path class="w17" d="M148 179l5-0.5 0.4-0.4-4.9 0.5z"/><path class="w15" d="M153 178.5l5-0.3 0.4-0.5-5 0.4z"/><path class="w14" d="M158 178.2l5-0.4 0.4-0.4-5 0.3z"/><path class="w13" d="M163 177.8l5-0.2 0.4-0.4-5 0.2z"/><path class="w12" d="M168 177.6l5.1-0.1 0.4-0.5-5.1 0.2z"/><path class="w10" d="M173.1 177.5l5-0.1 0.4-0.5-5 0.1z"/><path class="w9" d="M178.1 177.4l5.1 0.2 0.4-0.6-5.1-0.1z"/><path class="w8" d="M183.2 177.6l5.1 0.3 0.4-0.6-5.1-0.3z"/><path class="w7" d="M188.3 177.9l5.1 0.5 0.4-0.5-5.1-0.6z"/><path class="w6" d="M193.4 178.4l5.1 0.7 0.4-0.5-5.1-0.7z"/><path class="w5" d="M198.5 179.1l5.2 0.9 0.4-0.5-5.2-0.9z"/><path class="w4" d="M203.7 180l5.1 1 0.4-0.6-5.1-0.9z"/><path class="w4" d="M208.8 181l5.2 1.1 0.4-0.6-5.2-1.1z"/><path class="w4" d="M214 182.1l5.2 1 0.3-0.6-5.1-1z"/><path class="w4" d="M219.2 183.1l5.2 0.9 0.3-0.6-5.2-0.9z"/><path class="w3" d="M224.4 184l5.2 0.7 0.3-0.6-5.2-0.7z"/><path class="w2" d="M229.6 184.7l5.2 0.7 0.4-0.6-5.3-0.7z"/><path class="w1" d="M234.8 185.4l5.2 0.9 0.4-0.7-5.2-0.8z"/><path class="w1" d="M240 186.3l5.3 0.9 0.4-0.7-5.3-0.9z"/><path class="w1" d="M245.3 187.2l5.3 1.1 0.3-0.7-5.2-1.1z"/><path class="w1" d="M250.6 188.3l5.3 1.1 0.3-0.7-5.3-1.1z"/><path class="w17" d="M80.2 188.6l4.7-0.4 0.5 0-4.7 0.4z"/><path class="w17" d="M84.9 188.2l4.7-0.8 0.5 0-4.7 0.8z"/><path class="w17" d="M89.6 187.4l4.7-0.7 0.5-0.1-4.7 0.8z"/><path class="w17" d="M94.3 186.7l4.7-0.7 0.5-0.1-4.7 0.7z"/><path class="w17" d="M99 186l4.8-0.8 0.5-0.1-4.8 0.8z"/><path class="w17" d="M103.8 185.2l4.8-0.9 0.5-0.1-4.8 0.9z"/><path class="w17" d="M108.6 184.3l4.8-0.8 0.5-0.1-4.8 0.8z"/><path class="w17" d="M113.4 183.5l4.8-0.7 0.5-0.2-4.8 0.8z"/><path class="w17" d="M118.2 182.8l4.9-0.8 0.4-0.2-4.8 0.8z"/><path class="w17" d="M123.1 182l4.8-0.7 0.5-0.2-4.9 0.7z"/><path class="w17" d="M127.9 181.3l4.9-0.5 0.5-0.3-4.9 0.6z"/><path class="w17" d="M132.8 180.8l4.9-0.5 0.5-0.3-4.9 0.5z"/><path class="w17" d="M137.7 180.3l5-0.5 0.4-0.4-4.9 0.6z"/><path class="w17" d="M142.7 179.8l4.9-0.5 0.4-0.3-4.9 0.4z"/><path class="w17" d="M147.6 179.3l5-0.4 0.4-0.4-5 0.5z"/><path class="w15" d="M152.6 178.9l5-0.3 0.4-0.4-5 0.3z"/><path class="w14" d="M157.6 178.6l5-0.3 0.4-0.5-5 0.4z"/><path class="w13" d="M162.6 178.3l5-0.2 0.4-0.5-5 0.2z"/><path class="w12" d="M167.6 178.1l5-0.1 0.5-0.5-5.1 0.1z"/><path class="w10" d="M172.6 178l5.1-0.1 0.4-0.5-5 0.1z"/><path class="w9" d="M177.7 177.9l5.1 0.2 0.4-0.5-5.1-0.2z"/><path class="w8" d="M182.8 178.1l5.1 0.3 0.4-0.5-5.1-0.3z"/><path class="w6" d="M187.9 178.4l5.1 0.6 0.4-0.6-5.1-0.5z"/><path class="w6" d="M193 179l5.1 0.7 0.4-0.6-5.1-0.7z"/><path class="w5" d="M198.1 179.7l5.2 0.9 0.4-0.6-5.2-0.9z"/><path class="w4" d="M203.3 180.6l5.1 1 0.4-0.6-5.1-1z"/><path class="w4" d="M208.4 181.6l5.2 1.1 0.4-0.6-5.2-1.1z"/><path class="w4" d="M213.6 182.7l5.2 1 0.4-0.6-5.2-1z"/><path class="w4" d="M218.8 183.7l5.2 0.9 0.4-0.6-5.2-0.9z"/><path class="w4" d="M224 184.6l5.2 0.7 0.4-0.6-5.2-0.7z"/><path class="w3" d="M229.2 185.3l5.2 0.8 0.4-0.7-5.2-0.7z"/><path class="w2" d="M234.4 186.1l5.3 0.8 0.3-0.6-5.2-0.9z"/><path class="w1" d="M239.7 186.9l5.2 1 0.4-0.7-5.3-0.9z"/><path class="w2" d="M244.9 187.9l5.3 1.1 0.4-0.7-5.3-1.1z"/><path class="w2" d="M250.2 189l5.3 1 0.4-0.6-5.3-1.1z"/><path class="w17" d="M79.7 188.5l4.7-0.4 0.5 0.1-4.7 0.4z"/><path class="w17" d="M84.4 188.1l4.7-0.7 0.5 0-4.7 0.8z"/><path class="w17" d="M89.1 187.4l4.7-0.7 0.5 0-4.7 0.7z"/><path class="w17" d="M93.8 186.7l4.8-0.7 0.4 0-4.7 0.7z"/><path class="w17" d="M98.6 186l4.7-0.7 0.5-0.1-4.8 0.8z"/><path class="w17" d="M103.3 185.3l4.8-0.9 0.5-0.1-4.8 0.9z"/><path class="w17" d="M108.1 184.4l4.8-0.7 0.5-0.2-4.8 0.8z"/><path class="w17" d="M112.9 183.7l4.9-0.8 0.4-0.1-4.8 0.7z"/><path class="w17" d="M117.8 182.9l4.8-0.7 0.5-0.2-4.9 0.8z"/><path class="w17" d="M122.6 182.2l4.9-0.6 0.4-0.3-4.8 0.7z"/><path class="w17" d="M127.5 181.6l4.9-0.6 0.4-0.2-4.9 0.5z"/><path class="w17" d="M132.4 181l4.9-0.4 0.4-0.3-4.9 0.5z"/><path class="w17" d="M137.3 180.6l4.9-0.5 0.5-0.3-5 0.5z"/><path class="w17" d="M142.2 180.1l5-0.4 0.4-0.4-4.9 0.5z"/><path class="w17" d="M147.2 179.7l4.9-0.4 0.5-0.4-5 0.4z"/><path class="w15" d="M152.1 179.3l5-0.3 0.5-0.4-5 0.3z"/><path class="w14" d="M157.1 179l5-0.3 0.5-0.4-5 0.3z"/><path class="w13" d="M162.1 178.7l5.1-0.2 0.4-0.4-5 0.2z"/><path class="w11" d="M167.2 178.5l5-0.1 0.4-0.4-5 0.1z"/><path class="w10" d="M172.2 178.4l5.1 0.1 0.4-0.6-5.1 0.1z"/><path class="w9" d="M177.3 178.5l5.1 0.1 0.4-0.5-5.1-0.2z"/><path class="w8" d="M182.4 178.6l5.1 0.4 0.4-0.6-5.1-0.3z"/><path class="w6" d="M187.5 179l5.1 0.5 0.4-0.5-5.1-0.6z"/><path class="w5" d="M192.6 179.5l5.1 0.8 0.4-0.6-5.1-0.7z"/><path class="w5" d="M197.7 180.3l5.2 0.9 0.4-0.6-5.2-0.9z"/><path class="w5" d="M202.9 181.2l5.1 1 0.4-0.6-5.1-1z"/><path class="w4" d="M208 182.2l5.2 1 0.4-0.5-5.2-1.1z"/><path class="w5" d="M213.2 183.2l5.2 1.1 0.4-0.6-5.2-1z"/><path class="w5" d="M218.4 184.3l5.2 0.9 0.4-0.6-5.2-0.9z"/><path class="w4" d="M223.6 185.2l5.2 0.7 0.4-0.6-5.2-0.7z"/><path class="w3" d="M228.8 185.9l5.3 0.8 0.3-0.6-5.2-0.8z"/><path class="w2" d="M234.1 186.7l5.2 0.9 0.4-0.7-5.3-0.8z"/><path class="w2" d="M239.3 187.6l5.3 0.9 0.3-0.6-5.2-1z"/><path class="w2" d="M244.6 188.5l5.3 1.1 0.3-0.6-5.3-1.1z"/><path class="w3" d="M249.9 189.6l5.3 1 0.3-0.6-5.3-1z"/><path class="w17" d="M79.2 188.4l4.7-0.3 0.5 0-4.7 0.4z"/><path class="w17" d="M83.9 188.1l4.7-0.7 0.5 0-4.7 0.7z"/><path class="w17" d="M88.6 187.4l4.7-0.6 0.5-0.1-4.7 0.7z"/><path class="w17" d="M93.3 186.8l4.8-0.7 0.5-0.1-4.8 0.7z"/><path class="w17" d="M98.1 186.1l4.7-0.8 0.5 0-4.7 0.7z"/><path class="w17" d="M102.8 185.3l4.8-0.8 0.5-0.1-4.8 0.9z"/><path class="w17" d="M107.6 184.5l4.8-0.7 0.5-0.1-4.8 0.7z"/><path class="w17" d="M112.4 183.8l4.9-0.7 0.5-0.2-4.9 0.8z"/><path class="w17" d="M117.3 183.1l4.8-0.7 0.5-0.2-4.8 0.7z"/><path class="w17" d="M122.1 182.4l4.9-0.6 0.5-0.2-4.9 0.6z"/><path class="w17" d="M127 181.8l4.9-0.5 0.5-0.3-4.9 0.6z"/><path class="w17" d="M131.9 181.3l4.9-0.5 0.5-0.2-4.9 0.4z"/><path class="w17" d="M136.8 180.8l5-0.4 0.4-0.3-4.9 0.5z"/><path class="w17" d="M141.8 180.4l4.9-0.4 0.5-0.3-5 0.4z"/><path class="w17" d="M146.7 180l5-0.3 0.4-0.4-4.9 0.4z"/><path class="w15" d="M151.7 179.7l5-0.3 0.4-0.4-5 0.3z"/><path class="w14" d="M156.7 179.4l5-0.2 0.4-0.5-5 0.3z"/><path class="w13" d="M161.7 179.2l5.1-0.2 0.4-0.5-5.1 0.2z"/><path class="w11" d="M166.8 179l5-0.1 0.4-0.5-5 0.1z"/><path class="w10" d="M171.8 178.9l5.1 0.1 0.4-0.5-5.1-0.1z"/><path class="w9" d="M176.9 179l5.1 0.1 0.4-0.5-5.1-0.1z"/><path class="w7" d="M182 179.1l5.1 0.4 0.4-0.5-5.1-0.4z"/><path class="w6" d="M187.1 179.5l5.1 0.6 0.4-0.6-5.1-0.5z"/><path class="w5" d="M192.2 180.1l5.1 0.7 0.4-0.5-5.1-0.8z"/><path class="w5" d="M197.3 180.8l5.2 0.9 0.4-0.5-5.2-0.9z"/><path class="w5" d="M202.5 181.7l5.2 1 0.3-0.5-5.1-1z"/><path class="w5" d="M207.7 182.7l5.1 1.1 0.4-0.6-5.2-1z"/><path class="w5" d="M212.8 183.8l5.2 1 0.4-0.5-5.2-1.1z"/><path class="w5" d="M218 184.8l5.2 0.9 0.4-0.5-5.2-0.9z"/><path class="w5" d="M223.2 185.7l5.3 0.8 0.3-0.6-5.2-0.7z"/><path class="w4" d="M228.5 186.5l5.2 0.8 0.4-0.6-5.3-0.8z"/><path class="w3" d="M233.7 187.3l5.3 0.9 0.3-0.6-5.2-0.9z"/><path class="w3" d="M239 188.2l5.2 1 0.4-0.7-5.3-0.9z"/><path class="w3" d="M244.2 189.2l5.3 1 0.4-0.6-5.3-1.1z"/><path class="w4" d="M249.5 190.2l5.3 1 0.4-0.6-5.3-1z"/><path class="w17" d="M78.7 188.4l4.7-0.4 0.5 0.1-4.7 0.3z"/><path class="w17" d="M83.4 188l4.7-0.5 0.5-0.1-4.7 0.7z"/><path class="w17" d="M88.1 187.5l4.7-0.7 0.5 0-4.7 0.6z"/><path class="w17" d="M92.8 186.8l4.8-0.6 0.5-0.1-4.8 0.7z"/><path class="w17" d="M97.6 186.2l4.8-0.8 0.4-0.1-4.7 0.8z"/><path class="w17" d="M102.4 185.4l4.8-0.8 0.4-0.1-4.8 0.8z"/><path class="w17" d="M107.2 184.6l4.8-0.7 0.4-0.1-4.8 0.7z"/><path class="w17" d="M112 183.9l4.8-0.7 0.5-0.1-4.9 0.7z"/><path class="w17" d="M116.8 183.2l4.9-0.6 0.4-0.2-4.8 0.7z"/><path class="w17" d="M121.7 182.6l4.9-0.6 0.4-0.2-4.9 0.6z"/><path class="w17" d="M126.6 182l4.9-0.4 0.4-0.3-4.9 0.5z"/><path class="w17" d="M131.5 181.6l4.9-0.5 0.4-0.3-4.9 0.5z"/><path class="w17" d="M136.4 181.1l4.9-0.4 0.5-0.3-5 0.4z"/><path class="w17" d="M141.3 180.7l5-0.3 0.4-0.4-4.9 0.4z"/><path class="w16" d="M146.3 180.4l5-0.3 0.4-0.4-5 0.3z"/><path class="w15" d="M151.3 180.1l5-0.3 0.4-0.4-5 0.3z"/><path class="w14" d="M156.3 179.8l5-0.2 0.4-0.4-5 0.2z"/><path class="w12" d="M161.3 179.6l5-0.1 0.5-0.5-5.1 0.2z"/><path class="w11" d="M166.3 179.5l5.1-0.1 0.4-0.5-5 0.1z"/><path class="w10" d="M171.4 179.4l5.1 0.1 0.4-0.5-5.1-0.1z"/><path class="w9" d="M176.5 179.5l5.1 0.2 0.4-0.6-5.1-0.1z"/><path class="w7" d="M181.6 179.7l5.1 0.4 0.4-0.6-5.1-0.4z"/><path class="w6" d="M186.7 180.1l5.1 0.5 0.4-0.5-5.1-0.6z"/><path class="w5" d="M191.8 180.6l5.1 0.8 0.4-0.6-5.1-0.7z"/><path class="w5" d="M196.9 181.4l5.2 0.9 0.4-0.6-5.2-0.9z"/><path class="w5" d="M202.1 182.3l5.2 1 0.4-0.6-5.2-1z"/><path class="w5" d="M207.3 183.3l5.1 1 0.4-0.5-5.1-1.1z"/><path class="w5" d="M212.4 184.3l5.2 1.1 0.4-0.6-5.2-1z"/><path class="w5" d="M217.6 185.4l5.2 0.9 0.4-0.6-5.2-0.9z"/><path class="w5" d="M222.8 186.3l5.3 0.8 0.4-0.6-5.3-0.8z"/><path class="w4" d="M228.1 187.1l5.2 0.9 0.4-0.7-5.2-0.8z"/><path class="w3" d="M233.3 188l5.3 0.8 0.4-0.6-5.3-0.9z"/><path class="w3" d="M238.6 188.8l5.3 1 0.3-0.6-5.2-1z"/><path class="w4" d="M243.9 189.8l5.3 1 0.3-0.6-5.3-1z"/><path class="w5" d="M249.2 190.8l5.3 1 0.3-0.6-5.3-1z"/><path class="w17" d="M78.1 188.3l4.8-0.3 0.5 0-4.7 0.4z"/><path class="w17" d="M82.9 188l4.7-0.5 0.5 0-4.7 0.5z"/><path class="w17" d="M87.6 187.5l4.7-0.6 0.5-0.1-4.7 0.7z"/><path class="w17" d="M92.3 186.9l4.8-0.7 0.5 0-4.8 0.6z"/><path class="w17" d="M97.1 186.2l4.8-0.7 0.5-0.1-4.8 0.8z"/><path class="w17" d="M101.9 185.5l4.8-0.7 0.5-0.2-4.8 0.8z"/><path class="w17" d="M106.7 184.8l4.8-0.7 0.5-0.2-4.8 0.7z"/><path class="w17" d="M111.5 184.1l4.8-0.7 0.5-0.2-4.8 0.7z"/><path class="w17" d="M116.3 183.4l4.9-0.6 0.5-0.2-4.9 0.6z"/><path class="w17" d="M121.2 182.8l4.9-0.5 0.5-0.3-4.9 0.6z"/><path class="w17" d="M126.1 182.3l4.9-0.5 0.5-0.2-4.9 0.4z"/><path class="w17" d="M131 181.8l4.9-0.4 0.5-0.3-4.9 0.5z"/><path class="w17" d="M135.9 181.4l5-0.3 0.4-0.4-4.9 0.4z"/><path class="w17" d="M140.9 181.1l4.9-0.4 0.5-0.3-5 0.3z"/><path class="w16" d="M145.8 180.7l5-0.3 0.5-0.3-5 0.3z"/><path class="w15" d="M150.8 180.4l5-0.2 0.5-0.4-5 0.3z"/><path class="w14" d="M155.8 180.2l5.1-0.2 0.4-0.4-5 0.2z"/><path class="w12" d="M160.9 180l5-0.1 0.4-0.4-5 0.1z"/><path class="w11" d="M165.9 179.9l5.1 0 0.4-0.5-5.1 0.1z"/><path class="w10" d="M171 179.9l5.1 0.1 0.4-0.5-5.1-0.1z"/><path class="w8" d="M176.1 180l5.1 0.2 0.4-0.5-5.1-0.2z"/><path class="w7" d="M181.2 180.2l5.1 0.4 0.4-0.5-5.1-0.4z"/><path class="w6" d="M186.3 180.6l5.1 0.6 0.4-0.6-5.1-0.5z"/><path class="w5" d="M191.4 181.2l5.1 0.8 0.4-0.6-5.1-0.8z"/><path class="w5" d="M196.5 182l5.2 0.9 0.4-0.6-5.2-0.9z"/><path class="w5" d="M201.7 182.9l5.2 1 0.4-0.6-5.2-1z"/><path class="w5" d="M206.9 183.9l5.2 1 0.3-0.6-5.1-1z"/><path class="w5" d="M212.1 184.9l5.2 1 0.3-0.5-5.2-1.1z"/><path class="w6" d="M217.3 185.9l5.2 1 0.3-0.6-5.2-0.9z"/><path class="w5" d="M222.5 186.9l5.2 0.8 0.4-0.6-5.3-0.8z"/><path class="w4" d="M227.7 187.7l5.3 0.9 0.3-0.6-5.2-0.9z"/><path class="w4" d="M233 188.6l5.2 0.8 0.4-0.6-5.3-0.8z"/><path class="w4" d="M238.2 189.4l5.3 1 0.4-0.6-5.3-1z"/><path class="w4" d="M243.5 190.4l5.3 0.9 0.4-0.5-5.3-1z"/><path class="w5" d="M248.8 191.3l5.3 1 0.4-0.5-5.3-1z"/><path class="w17" d="M77.6 188.3l4.8-0.3 0.5 0-4.8 0.3z"/><path class="w17" d="M82.4 188l4.7-0.5 0.5 0-4.7 0.5z"/><path class="w17" d="M87.1 187.5l4.7-0.6 0.5 0-4.7 0.6z"/><path class="w17" d="M91.8 186.9l4.8-0.6 0.5-0.1-4.8 0.7z"/><path class="w17" d="M96.6 186.3l4.8-0.7 0.5-0.1-4.8 0.7z"/><path class="w17" d="M101.4 185.6l4.8-0.7 0.5-0.1-4.8 0.7z"/><path class="w17" d="M106.2 184.9l4.8-0.7 0.5-0.1-4.8 0.7z"/><path class="w17" d="M111 184.2l4.9-0.6 0.4-0.2-4.8 0.7z"/><path class="w17" d="M115.9 183.6l4.8-0.6 0.5-0.2-4.9 0.6z"/><path class="w17" d="M120.7 183l4.9-0.5 0.5-0.2-4.9 0.5z"/><path class="w17" d="M125.6 182.5l4.9-0.4 0.5-0.3-4.9 0.5z"/><path class="w17" d="M130.5 182.1l5-0.4 0.4-0.3-4.9 0.4z"/><path class="w17" d="M135.5 181.7l4.9-0.3 0.5-0.3-5 0.3z"/><path class="w17" d="M140.4 181.4l5-0.3 0.4-0.4-4.9 0.4z"/><path class="w16" d="M145.4 181.1l5-0.3 0.4-0.4-5 0.3z"/><path class="w15" d="M150.4 180.8l5-0.2 0.4-0.4-5 0.2z"/><path class="w13" d="M155.4 180.6l5-0.1 0.5-0.5-5.1 0.2z"/><path class="w12" d="M160.4 180.5l5.1-0.1 0.4-0.5-5 0.1z"/><path class="w11" d="M165.5 180.4l5.1 0 0.4-0.5-5.1 0z"/><path class="w10" d="M170.6 180.4l5 0.1 0.5-0.5-5.1-0.1z"/><path class="w8" d="M175.6 180.5l5.1 0.2 0.5-0.5-5.1-0.2z"/><path class="w7" d="M180.7 180.7l5.2 0.5 0.4-0.6-5.1-0.4z"/><path class="w6" d="M185.9 181.2l5.1 0.6 0.4-0.6-5.1-0.6z"/><path class="w5" d="M191 181.8l5.1 0.7 0.4-0.5-5.1-0.8z"/><path class="w5" d="M196.1 182.5l5.2 0.9 0.4-0.5-5.2-0.9z"/><path class="w5" d="M201.3 183.4l5.2 1 0.4-0.5-5.2-1z"/><path class="w5" d="M206.5 184.4l5.2 1 0.4-0.5-5.2-1z"/><path class="w6" d="M211.7 185.4l5.2 1.1 0.4-0.6-5.2-1z"/><path class="w6" d="M216.9 186.5l5.2 0.9 0.4-0.5-5.2-1z"/><path class="w5" d="M222.1 187.4l5.2 0.9 0.4-0.6-5.2-0.8z"/><path class="w5" d="M227.3 188.3l5.3 0.8 0.4-0.5-5.3-0.9z"/><path class="w4" d="M232.6 189.1l5.3 0.9 0.3-0.6-5.2-0.8z"/><path class="w4" d="M237.9 190l5.2 1 0.4-0.6-5.3-1z"/><path class="w5" d="M243.1 191l5.3 0.9 0.4-0.6-5.3-0.9z"/><path class="w6" d="M248.4 191.9l5.4 1 0.3-0.6-5.3-1z"/><path class="w17" d="M77.1 188.3l4.7-0.3 0.6 0-4.8 0.3z"/><path class="w17" d="M81.8 188l4.8-0.5 0.5 0-4.7 0.5z"/><path class="w17" d="M86.6 187.5l4.7-0.5 0.5-0.1-4.7 0.6z"/><path class="w17" d="M91.3 187l4.8-0.6 0.5-0.1-4.8 0.6z"/><path class="w17" d="M96.1 186.4l4.8-0.7 0.5-0.1-4.8 0.7z"/><path class="w17" d="M100.9 185.7l4.8-0.7 0.5-0.1-4.8 0.7z"/><path class="w17" d="M105.7 185l4.9-0.6 0.4-0.2-4.8 0.7z"/><path class="w17" d="M110.6 184.4l4.8-0.6 0.5-0.2-4.9 0.6z"/><path class="w17" d="M115.4 183.8l4.9-0.6 0.4-0.2-4.8 0.6z"/><path class="w17" d="M120.3 183.2l4.9-0.4 0.4-0.3-4.9 0.5z"/><path class="w17" d="M125.2 182.8l4.9-0.4 0.4-0.3-4.9 0.4z"/><path class="w17" d="M130.1 182.4l4.9-0.4 0.5-0.3-5 0.4z"/><path class="w17" d="M135 182l5-0.3 0.4-0.3-4.9 0.3z"/><path class="w17" d="M140 181.7l5-0.3 0.4-0.3-5 0.3z"/><path class="w16" d="M145 181.4l5-0.2 0.4-0.4-5 0.3z"/><path class="w15" d="M150 181.2l5-0.2 0.4-0.4-5 0.2z"/><path class="w13" d="M155 181l5-0.1 0.4-0.4-5 0.1z"/><path class="w12" d="M160 180.9l5.1 0 0.4-0.5-5.1 0.1z"/><path class="w11" d="M165.1 180.9l5 0 0.5-0.5-5.1 0z"/><path class="w9" d="M170.1 180.9l5.1 0.1 0.4-0.5-5-0.1z"/><path class="w8" d="M175.2 181l5.1 0.3 0.4-0.6-5.1-0.2z"/><path class="w7" d="M180.3 181.3l5.1 0.4 0.5-0.5-5.2-0.5z"/><path class="w6" d="M185.4 181.7l5.2 0.6 0.4-0.5-5.1-0.6z"/><path class="w5" d="M190.6 182.3l5.1 0.8 0.4-0.6-5.1-0.7z"/><path class="w5" d="M195.7 183.1l5.2 0.9 0.4-0.6-5.2-0.9z"/><path class="w5" d="M200.9 184l5.2 1 0.4-0.6-5.2-1z"/><path class="w5" d="M206.1 185l5.2 1 0.4-0.6-5.2-1z"/><path class="w6" d="M211.3 186l5.2 1 0.4-0.5-5.2-1.1z"/><path class="w6" d="M216.5 187l5.2 1 0.4-0.6-5.2-0.9z"/><path class="w5" d="M221.7 188l5.3 0.9 0.3-0.6-5.2-0.9z"/><path class="w5" d="M227 188.9l5.2 0.8 0.4-0.6-5.3-0.8z"/><path class="w4" d="M232.2 189.7l5.3 0.9 0.4-0.6-5.3-0.9z"/><path class="w4" d="M237.5 190.6l5.3 0.9 0.3-0.5-5.2-1z"/><path class="w5" d="M242.8 191.5l5.3 1 0.3-0.6-5.3-0.9z"/><path class="w6" d="M248.1 192.5l5.3 0.9 0.4-0.5-5.4-1z"/><path class="w17" d="M76.6 188.2l4.7-0.2 0.5 0-4.7 0.3z"/><path class="w17" d="M81.3 188l4.8-0.4 0.5-0.1-4.8 0.5z"/><path class="w17" d="M86.1 187.6l4.7-0.6 0.5 0-4.7 0.5z"/><path class="w17" d="M90.8 187l4.8-0.5 0.5-0.1-4.8 0.6z"/><path class="w17" d="M95.6 186.5l4.8-0.7 0.5-0.1-4.8 0.7z"/><path class="w17" d="M100.4 185.8l4.8-0.6 0.5-0.2-4.8 0.7z"/><path class="w17" d="M105.2 185.2l4.9-0.7 0.5-0.1-4.9 0.6z"/><path class="w17" d="M110.1 184.5l4.8-0.5 0.5-0.2-4.8 0.6z"/><path class="w17" d="M114.9 184l4.9-0.5 0.5-0.3-4.9 0.6z"/><path class="w17" d="M119.8 183.5l4.9-0.5 0.5-0.2-4.9 0.4z"/><path class="w17" d="M124.7 183l4.9-0.3 0.5-0.3-4.9 0.4z"/><path class="w17" d="M129.6 182.7l5-0.4 0.4-0.3-4.9 0.4z"/><path class="w17" d="M134.6 182.3l4.9-0.3 0.5-0.3-5 0.3z"/><path class="w17" d="M139.5 182l5-0.2 0.5-0.4-5 0.3z"/><path class="w16" d="M144.5 181.8l5-0.2 0.5-0.4-5 0.2z"/><path class="w14" d="M149.5 181.6l5-0.1 0.5-0.5-5 0.2z"/><path class="w13" d="M154.5 181.5l5.1-0.1 0.4-0.5-5 0.1z"/><path class="w12" d="M159.6 181.4l5-0.1 0.5-0.4-5.1 0z"/><path class="w11" d="M164.6 181.3l5.1 0.1 0.4-0.5-5 0z"/><path class="w9" d="M169.7 181.4l5.1 0.1 0.4-0.5-5.1-0.1z"/><path class="w8" d="M174.8 181.5l5.1 0.3 0.4-0.5-5.1-0.3z"/><path class="w7" d="M179.9 181.8l5.1 0.5 0.4-0.6-5.1-0.4z"/><path class="w6" d="M185 182.3l5.2 0.6 0.4-0.6-5.2-0.6z"/><path class="w5" d="M190.2 182.9l5.1 0.8 0.4-0.6-5.1-0.8z"/><path class="w5" d="M195.3 183.7l5.2 0.9 0.4-0.6-5.2-0.9z"/><path class="w5" d="M200.5 184.6l5.2 0.9 0.4-0.5-5.2-1z"/><path class="w5" d="M205.7 185.5l5.2 1 0.4-0.5-5.2-1z"/><path class="w6" d="M210.9 186.5l5.2 1 0.4-0.5-5.2-1z"/><path class="w6" d="M216.1 187.5l5.2 1 0.4-0.5-5.2-1z"/><path class="w6" d="M221.3 188.5l5.3 0.9 0.4-0.5-5.3-0.9z"/><path class="w5" d="M226.6 189.4l5.2 0.9 0.4-0.6-5.2-0.8z"/><path class="w5" d="M231.8 190.3l5.3 0.9 0.4-0.6-5.3-0.9z"/><path class="w5" d="M237.1 191.2l5.3 0.9 0.4-0.6-5.3-0.9z"/><path class="w5" d="M242.4 192.1l5.3 0.9 0.4-0.5-5.3-1z"/><path class="w6" d="M247.7 193l5.4 0.9 0.3-0.5-5.3-0.9z"/><path class="w17" d="M76.1 188.2l4.7-0.2 0.5 0-4.7 0.2z"/><path class="w17" d="M80.8 188l4.8-0.4 0.5 0-4.8 0.4z"/><path class="w17" d="M85.6 187.6l4.7-0.5 0.5-0.1-4.7 0.6z"/><path class="w17" d="M90.3 187.1l4.8-0.5 0.5-0.1-4.8 0.5z"/><path class="w17" d="M95.1 186.6l4.8-0.7 0.5-0.1-4.8 0.7z"/><path class="w17" d="M99.9 185.9l4.9-0.6 0.4-0.1-4.8 0.6z"/><path class="w17" d="M104.8 185.3l4.8-0.6 0.5-0.2-4.9 0.7z"/><path class="w17" d="M109.6 184.7l4.9-0.5 0.4-0.2-4.8 0.5z"/><path class="w17" d="M114.5 184.2l4.8-0.5 0.5-0.2-4.9 0.5z"/><path class="w17" d="M119.3 183.7l4.9-0.4 0.5-0.3-4.9 0.5z"/><path class="w17" d="M124.2 183.3l5-0.4 0.4-0.2-4.9 0.3z"/><path class="w17" d="M129.2 182.9l4.9-0.2 0.5-0.4-5 0.4z"/><path class="w17" d="M134.1 182.7l5-0.3 0.4-0.4-4.9 0.3z"/><path class="w17" d="M139.1 182.4l5-0.2 0.4-0.4-5 0.2z"/><path class="w15" d="M144.1 182.2l5-0.2 0.4-0.4-5 0.2z"/><path class="w14" d="M149.1 182l5-0.1 0.4-0.4-5 0.1z"/><path class="w13" d="M154.1 181.9l5-0.1 0.5-0.4-5.1 0.1z"/><path class="w12" d="M159.1 181.8l5.1 0 0.4-0.5-5 0.1z"/><path class="w10" d="M164.2 181.8l5.1 0.1 0.4-0.5-5.1-0.1z"/><path class="w9" d="M169.3 181.9l5.1 0.2 0.4-0.6-5.1-0.1z"/><path class="w8" d="M174.4 182.1l5.1 0.3 0.4-0.6-5.1-0.3z"/><path class="w7" d="M179.5 182.4l5.1 0.4 0.4-0.5-5.1-0.5z"/><path class="w6" d="M184.6 182.8l5.2 0.6 0.4-0.5-5.2-0.6z"/><path class="w5" d="M189.8 183.4l5.1 0.8 0.4-0.5-5.1-0.8z"/><path class="w5" d="M194.9 184.2l5.2 0.9 0.4-0.5-5.2-0.9z"/><path class="w5" d="M200.1 185.1l5.2 1 0.4-0.6-5.2-0.9z"/><path class="w5" d="M205.3 186.1l5.2 1 0.4-0.6-5.2-1z"/><path class="w6" d="M210.5 187.1l5.2 1 0.4-0.6-5.2-1z"/><path class="w6" d="M215.7 188.1l5.3 0.9 0.3-0.5-5.2-1z"/><path class="w6" d="M221 189l5.2 1 0.4-0.6-5.3-0.9z"/><path class="w5" d="M226.2 190l5.3 0.9 0.3-0.6-5.2-0.9z"/><path class="w5" d="M231.5 190.9l5.3 0.9 0.3-0.6-5.3-0.9z"/><path class="w5" d="M236.8 191.8l5.3 0.9 0.3-0.6-5.3-0.9z"/><path class="w6" d="M242.1 192.7l5.3 0.9 0.3-0.6-5.3-0.9z"/><path class="w7" d="M247.4 193.6l5.3 0.8 0.4-0.5-5.4-0.9z"/><path class="w17" d="M75.6 188.2l4.7-0.2 0.5 0-4.7 0.2z"/><path class="w17" d="M80.3 188l4.8-0.4 0.5 0-4.8 0.4z"/><path class="w17" d="M85.1 187.6l4.7-0.4 0.5-0.1-4.7 0.5z"/><path class="w17" d="M89.8 187.2l4.8-0.5 0.5-0.1-4.8 0.5z"/><path class="w17" d="M94.6 186.7l4.8-0.6 0.5-0.2-4.8 0.7z"/><path class="w17" d="M99.4 186.1l4.9-0.7 0.5-0.1-4.9 0.6z"/><path class="w17" d="M104.3 185.4l4.8-0.5 0.5-0.2-4.8 0.6z"/><path class="w17" d="M109.1 184.9l4.9-0.5 0.5-0.2-4.9 0.5z"/><path class="w17" d="M114 184.4l4.9-0.5 0.4-0.2-4.8 0.5z"/><path class="w17" d="M118.9 183.9l4.9-0.4 0.4-0.2-4.9 0.4z"/><path class="w17" d="M123.8 183.5l4.9-0.3 0.5-0.3-5 0.4z"/><path class="w17" d="M128.7 183.2l5-0.2 0.4-0.3-4.9 0.2z"/><path class="w17" d="M133.7 183l4.9-0.3 0.5-0.3-5 0.3z"/><path class="w16" d="M138.6 182.7l5-0.2 0.5-0.3-5 0.2z"/><path class="w15" d="M143.6 182.5l5-0.1 0.5-0.4-5 0.2z"/><path class="w14" d="M148.6 182.4l5.1-0.1 0.4-0.4-5 0.1z"/><path class="w13" d="M153.7 182.3l5 0 0.4-0.5-5 0.1z"/><path class="w11" d="M158.7 182.3l5.1 0 0.4-0.5-5.1 0z"/><path class="w10" d="M163.8 182.3l5.1 0.1 0.4-0.5-5.1-0.1z"/><path class="w9" d="M168.9 182.4l5.1 0.2 0.4-0.5-5.1-0.2z"/><path class="w8" d="M174 182.6l5.1 0.3 0.4-0.5-5.1-0.3z"/><path class="w7" d="M179.1 182.9l5.1 0.5 0.4-0.6-5.1-0.4z"/><path class="w6" d="M184.2 183.4l5.2 0.6 0.4-0.6-5.2-0.6z"/><path class="w5" d="M189.4 184l5.1 0.8 0.4-0.6-5.1-0.8z"/><path class="w5" d="M194.5 184.8l5.2 0.9 0.4-0.6-5.2-0.9z"/><path class="w5" d="M199.7 185.7l5.2 0.9 0.4-0.5-5.2-1z"/><path class="w5" d="M204.9 186.6l5.2 1 0.4-0.5-5.2-1z"/><path class="w6" d="M210.1 187.6l5.2 1 0.4-0.5-5.2-1z"/><path class="w6" d="M215.3 188.6l5.3 1 0.4-0.6-5.3-0.9z"/><path class="w6" d="M220.6 189.6l5.2 0.9 0.4-0.5-5.2-1z"/><path class="w5" d="M225.8 190.5l5.3 1 0.4-0.6-5.3-0.9z"/><path class="w5" d="M231.1 191.5l5.3 0.9 0.4-0.6-5.3-0.9z"/><path class="w5" d="M236.4 192.4l5.3 0.8 0.4-0.5-5.3-0.9z"/><path class="w6" d="M241.7 193.2l5.3 0.9 0.4-0.5-5.3-0.9z"/><path class="w7" d="M247 194.1l5.4 0.9 0.3-0.6-5.3-0.8z"/><path class="w17" d="M75.1 188.2l4.7-0.1 0.5-0.1-4.7 0.2z"/><path class="w17" d="M79.8 188.1l4.8-0.4 0.5-0.1-4.8 0.4z"/><path class="w17" d="M84.6 187.7l4.7-0.4 0.5-0.1-4.7 0.4z"/><path class="w17" d="M89.3 187.3l4.8-0.5 0.5-0.1-4.8 0.5z"/><path class="w17" d="M94.1 186.8l4.9-0.6 0.4-0.1-4.8 0.6z"/><path class="w17" d="M99 186.2l4.8-0.6 0.5-0.2-4.9 0.7z"/><path class="w17" d="M103.8 185.6l4.8-0.5 0.5-0.2-4.8 0.5z"/><path class="w17" d="M108.6 185.1l4.9-0.5 0.5-0.2-4.9 0.5z"/><path class="w17" d="M113.5 184.6l4.9-0.4 0.5-0.3-4.9 0.5z"/><path class="w17" d="M118.4 184.2l4.9-0.4 0.5-0.3-4.9 0.4z"/><path class="w17" d="M123.3 183.8l5-0.3 0.4-0.3-4.9 0.3z"/><path class="w17" d="M128.3 183.5l4.9-0.2 0.5-0.3-5 0.2z"/><path class="w17" d="M133.2 183.3l5-0.2 0.4-0.4-4.9 0.3z"/><path class="w16" d="M138.2 183.1l5-0.2 0.4-0.4-5 0.2z"/><path class="w15" d="M143.2 182.9l5-0.1 0.4-0.4-5 0.1z"/><path class="w13" d="M148.2 182.8l5 0 0.5-0.5-5.1 0.1z"/><path class="w12" d="M153.2 182.8l5.1-0.1 0.4-0.4-5 0z"/><path class="w11" d="M158.3 182.7l5 0.1 0.5-0.5-5.1 0z"/><path class="w10" d="M163.3 182.8l5.1 0.1 0.5-0.5-5.1-0.1z"/><path class="w9" d="M168.4 182.9l5.1 0.2 0.5-0.5-5.1-0.2z"/><path class="w8" d="M173.5 183.1l5.2 0.3 0.4-0.5-5.1-0.3z"/><path class="w7" d="M178.7 183.4l5.1 0.5 0.4-0.5-5.1-0.5z"/><path class="w6" d="M183.8 183.9l5.2 0.7 0.4-0.6-5.2-0.6z"/><path class="w5" d="M189 184.6l5.1 0.7 0.4-0.5-5.1-0.8z"/><path class="w5" d="M194.1 185.3l5.2 0.9 0.4-0.5-5.2-0.9z"/><path class="w5" d="M199.3 186.2l5.2 1 0.4-0.6-5.2-0.9z"/><path class="w5" d="M204.5 187.2l5.2 1 0.4-0.6-5.2-1z"/><path class="w6" d="M209.7 188.2l5.2 1 0.4-0.6-5.2-1z"/><path class="w6" d="M214.9 189.2l5.3 0.9 0.4-0.5-5.3-1z"/><path class="w6" d="M220.2 190.1l5.3 1 0.3-0.6-5.2-0.9z"/><path class="w5" d="M225.5 191.1l5.2 0.9 0.4-0.5-5.3-1z"/><path class="w5" d="M230.7 192l5.3 0.9 0.4-0.5-5.3-0.9z"/><path class="w5" d="M236 192.9l5.3 0.9 0.4-0.6-5.3-0.8z"/><path class="w6" d="M241.3 193.8l5.4 0.8 0.3-0.5-5.3-0.9z"/><path class="w7" d="M246.7 194.6l5.3 0.9 0.4-0.5-5.4-0.9z"/><path class="w17" d="M74.5 188.1l4.8 0 0.5 0-4.7 0.1z"/><path class="w17" d="M79.3 188.1l4.8-0.3 0.5-0.1-4.8 0.4z"/><path class="w17" d="M84.1 187.8l4.7-0.5 0.5 0-4.7 0.4z"/><path class="w17" d="M88.8 187.3l4.8-0.4 0.5-0.1-4.8 0.5z"/><path class="w17" d="M93.6 186.9l4.9-0.6 0.5-0.1-4.9 0.6z"/><path class="w17" d="M98.5 186.3l4.8-0.5 0.5-0.2-4.8 0.6z"/><path class="w17" d="M103.3 185.8l4.9-0.5 0.4-0.2-4.8 0.5z"/><path class="w17" d="M108.2 185.3l4.8-0.5 0.5-0.2-4.9 0.5z"/><path class="w17" d="M113 184.8l4.9-0.4 0.5-0.2-4.9 0.4z"/><path class="w17" d="M117.9 184.4l5-0.3 0.4-0.3-4.9 0.4z"/><path class="w17" d="M122.9 184.1l4.9-0.3 0.5-0.3-5 0.3z"/><path class="w17" d="M127.8 183.8l5-0.2 0.4-0.3-4.9 0.2z"/><path class="w17" d="M132.8 183.6l4.9-0.1 0.5-0.4-5 0.2z"/><path class="w16" d="M137.7 183.5l5-0.2 0.5-0.4-5 0.2z"/><path class="w14" d="M142.7 183.3l5-0.1 0.5-0.4-5 0.1z"/><path class="w13" d="M147.7 183.2l5.1 0 0.4-0.4-5 0z"/><path class="w12" d="M152.8 183.2l5 0 0.5-0.5-5.1 0.1z"/><path class="w11" d="M157.8 183.2l5.1 0.1 0.4-0.5-5-0.1z"/><path class="w10" d="M162.9 183.3l5.1 0.1 0.4-0.5-5.1-0.1z"/><path class="w9" d="M168 183.4l5.1 0.2 0.4-0.5-5.1-0.2z"/><path class="w8" d="M173.1 183.6l5.1 0.4 0.5-0.6-5.2-0.3z"/><path class="w7" d="M178.2 184l5.2 0.5 0.4-0.6-5.1-0.5z"/><path class="w6" d="M183.4 184.5l5.1 0.6 0.5-0.5-5.2-0.7z"/><path class="w5" d="M188.5 185.1l5.2 0.8 0.4-0.6-5.1-0.7z"/><path class="w5" d="M193.7 185.9l5.2 0.9 0.4-0.6-5.2-0.9z"/><path class="w5" d="M198.9 186.8l5.2 0.9 0.4-0.5-5.2-1z"/><path class="w5" d="M204.1 187.7l5.2 1 0.4-0.5-5.2-1z"/><path class="w6" d="M209.3 188.7l5.3 1 0.3-0.5-5.2-1z"/><path class="w6" d="M214.6 189.7l5.2 1 0.4-0.6-5.3-0.9z"/><path class="w5" d="M219.8 190.7l5.3 1 0.4-0.6-5.3-1z"/><path class="w5" d="M225.1 191.7l5.3 0.9 0.3-0.6-5.2-0.9z"/><path class="w5" d="M230.4 192.6l5.3 0.9 0.3-0.6-5.3-0.9z"/><path class="w5" d="M235.7 193.5l5.3 0.9 0.3-0.6-5.3-0.9z"/><path class="w6" d="M241 194.4l5.3 0.8 0.4-0.6-5.4-0.8z"/><path class="w7" d="M246.3 195.2l5.3 0.8 0.4-0.5-5.3-0.9z"/><path class="w17" d="M74 188.1l4.8 0 0.5 0-4.8 0z"/><path class="w17" d="M78.8 188.1l4.8-0.3 0.5 0-4.8 0.3z"/><path class="w17" d="M83.6 187.8l4.7-0.4 0.5-0.1-4.7 0.5z"/><path class="w17" d="M88.3 187.4l4.9-0.4 0.4-0.1-4.8 0.4z"/><path class="w17" d="M93.2 187l4.8-0.5 0.5-0.2-4.9 0.6z"/><path class="w17" d="M98 186.5l4.8-0.5 0.5-0.2-4.8 0.5z"/><path class="w17" d="M102.8 186l4.9-0.5 0.5-0.2-4.9 0.5z"/><path class="w17" d="M107.7 185.5l4.9-0.5 0.4-0.2-4.8 0.5z"/><path class="w17" d="M112.6 185l4.9-0.3 0.4-0.3-4.9 0.4z"/><path class="w17" d="M117.5 184.7l4.9-0.3 0.5-0.3-5 0.3z"/><path class="w17" d="M122.4 184.4l4.9-0.2 0.5-0.4-4.9 0.3z"/><path class="w17" d="M127.3 184.2l5-0.2 0.5-0.4-5 0.2z"/><path class="w16" d="M132.3 184l5-0.2 0.4-0.3-4.9 0.1z"/><path class="w15" d="M137.3 183.8l5-0.1 0.4-0.4-5 0.2z"/><path class="w14" d="M142.3 183.7l5-0.1 0.4-0.4-5 0.1z"/><path class="w13" d="M147.3 183.6l5 0 0.5-0.4-5.1 0z"/><path class="w12" d="M152.3 183.6l5.1 0.1 0.4-0.5-5 0z"/><path class="w11" d="M157.4 183.7l5.1 0 0.4-0.4-5.1-0.1z"/><path class="w10" d="M162.5 183.7l5.1 0.2 0.4-0.5-5.1-0.1z"/><path class="w9" d="M167.6 183.9l5.1 0.3 0.4-0.6-5.1-0.2z"/><path class="w7" d="M172.7 184.2l5.1 0.3 0.4-0.5-5.1-0.4z"/><path class="w7" d="M177.8 184.5l5.2 0.5 0.4-0.5-5.2-0.5z"/><path class="w6" d="M183 185l5.1 0.7 0.4-0.6-5.1-0.6z"/><path class="w5" d="M188.1 185.7l5.2 0.8 0.4-0.6-5.2-0.8z"/><path class="w5" d="M193.3 186.5l5.2 0.9 0.4-0.6-5.2-0.9z"/><path class="w5" d="M198.5 187.4l5.2 0.9 0.4-0.6-5.2-0.9z"/><path class="w5" d="M203.7 188.3l5.2 1 0.4-0.6-5.2-1z"/><path class="w6" d="M208.9 189.3l5.3 0.9 0.4-0.5-5.3-1z"/><path class="w6" d="M214.2 190.2l5.2 1 0.4-0.5-5.2-1z"/><path class="w5" d="M219.4 191.2l5.3 1 0.4-0.5-5.3-1z"/><path class="w5" d="M224.7 192.2l5.3 1 0.4-0.6-5.3-0.9z"/><path class="w5" d="M230 193.2l5.3 0.9 0.4-0.6-5.3-0.9z"/><path class="w5" d="M235.3 194.1l5.3 0.8 0.4-0.5-5.3-0.9z"/><path class="w6" d="M240.6 194.9l5.3 0.8 0.4-0.5-5.3-0.8z"/><path class="w6" d="M245.9 195.7l5.4 0.9 0.3-0.6-5.3-0.8z"/><path class="w17" d="M73.5 188.1l4.8 0 0.5 0-4.8 0z"/><path class="w17" d="M78.3 188.1l4.8-0.2 0.5-0.1-4.8 0.3z"/><path class="w17" d="M83.1 187.9l4.7-0.4 0.5-0.1-4.7 0.4z"/><path class="w17" d="M87.8 187.5l4.9-0.4 0.5-0.1-4.9 0.4z"/><path class="w17" d="M92.7 187.1l4.8-0.4 0.5-0.2-4.8 0.5z"/><path class="w17" d="M97.5 186.7l4.8-0.5 0.5-0.2-4.8 0.5z"/><path class="w17" d="M102.3 186.2l4.9-0.5 0.5-0.2-4.9 0.5z"/><path class="w17" d="M107.2 185.7l4.9-0.4 0.5-0.3-4.9 0.5z"/><path class="w17" d="M112.1 185.3l4.9-0.3 0.5-0.3-4.9 0.3z"/><path class="w17" d="M117 185l4.9-0.3 0.5-0.3-4.9 0.3z"/><path class="w17" d="M121.9 184.7l5-0.2 0.4-0.3-4.9 0.2z"/><path class="w17" d="M126.9 184.5l4.9-0.2 0.5-0.3-5 0.2z"/><path class="w16" d="M131.8 184.3l5-0.1 0.5-0.4-5 0.2z"/><path class="w15" d="M136.8 184.2l5-0.1 0.5-0.4-5 0.1z"/><path class="w14" d="M141.8 184.1l5.1 0 0.4-0.5-5 0.1z"/><path class="w13" d="M146.9 184.1l5 0 0.4-0.5-5 0z"/><path class="w12" d="M151.9 184.1l5.1 0 0.4-0.4-5.1-0.1z"/><path class="w10" d="M157 184.1l5.1 0.1 0.4-0.5-5.1 0z"/><path class="w9" d="M162.1 184.2l5.1 0.2 0.4-0.5-5.1-0.2z"/><path class="w8" d="M167.2 184.4l5.1 0.3 0.4-0.5-5.1-0.3z"/><path class="w7" d="M172.3 184.7l5.1 0.4 0.4-0.6-5.1-0.3z"/><path class="w6" d="M177.4 185.1l5.2 0.5 0.4-0.6-5.2-0.5z"/><path class="w6" d="M182.6 185.6l5.1 0.6 0.4-0.5-5.1-0.7z"/><path class="w5" d="M187.7 186.2l5.2 0.8 0.4-0.5-5.2-0.8z"/><path class="w5" d="M192.9 187l5.2 0.9 0.4-0.5-5.2-0.9z"/><path class="w5" d="M198.1 187.9l5.2 1 0.4-0.6-5.2-0.9z"/><path class="w5" d="M203.3 188.9l5.2 0.9 0.4-0.5-5.2-1z"/><path class="w5" d="M208.5 189.8l5.3 1 0.4-0.6-5.3-0.9z"/><path class="w5" d="M213.8 190.8l5.2 1 0.4-0.6-5.2-1z"/><path class="w5" d="M219 191.8l5.3 1 0.4-0.6-5.3-1z"/><path class="w5" d="M224.3 192.8l5.3 1 0.4-0.6-5.3-1z"/><path class="w5" d="M229.6 193.8l5.3 0.9 0.4-0.6-5.3-0.9z"/><path class="w5" d="M234.9 194.7l5.3 0.8 0.4-0.6-5.3-0.8z"/><path class="w5" d="M240.2 195.5l5.4 0.8 0.3-0.6-5.3-0.8z"/><path class="w6" d="M245.6 196.3l5.3 0.8 0.4-0.5-5.4-0.9z"/><path class="w17" d="M73 188.1l4.8 0.1 0.5-0.1-4.8 0z"/><path class="w17" d="M77.8 188.2l4.7-0.2 0.6-0.1-4.8 0.2z"/><path class="w17" d="M82.5 188l4.8-0.3 0.5-0.2-4.7 0.4z"/><path class="w17" d="M87.3 187.7l4.9-0.4 0.5-0.2-4.9 0.4z"/><path class="w17" d="M92.2 187.3l4.8-0.5 0.5-0.1-4.8 0.4z"/><path class="w17" d="M97 186.8l4.8-0.4 0.5-0.2-4.8 0.5z"/><path class="w17" d="M101.8 186.4l4.9-0.5 0.5-0.2-4.9 0.5z"/><path class="w17" d="M106.7 185.9l4.9-0.3 0.5-0.3-4.9 0.4z"/><path class="w17" d="M111.6 185.6l4.9-0.3 0.5-0.3-4.9 0.3z"/><path class="w17" d="M116.5 185.3l5-0.3 0.4-0.3-4.9 0.3z"/><path class="w17" d="M121.5 185l4.9-0.2 0.5-0.3-5 0.2z"/><path class="w17" d="M126.4 184.8l5-0.1 0.4-0.4-4.9 0.2z"/><path class="w16" d="M131.4 184.7l5-0.1 0.4-0.4-5 0.1z"/><path class="w15" d="M136.4 184.6l5-0.1 0.4-0.4-5 0.1z"/><path class="w13" d="M141.4 184.5l5 0 0.5-0.4-5.1 0z"/><path class="w12" d="M146.4 184.5l5.1 0 0.4-0.4-5 0z"/><path class="w11" d="M151.5 184.5l5 0.1 0.5-0.5-5.1 0z"/><path class="w10" d="M156.5 184.6l5.1 0.1 0.5-0.5-5.1-0.1z"/><path class="w9" d="M161.6 184.7l5.1 0.2 0.5-0.5-5.1-0.2z"/><path class="w8" d="M166.7 184.9l5.1 0.3 0.5-0.5-5.1-0.3z"/><path class="w7" d="M171.8 185.2l5.2 0.4 0.4-0.5-5.1-0.4z"/><path class="w6" d="M177 185.6l5.1 0.5 0.5-0.5-5.2-0.5z"/><path class="w6" d="M182.1 186.1l5.2 0.7 0.4-0.6-5.1-0.6z"/><path class="w5" d="M187.3 186.8l5.2 0.8 0.4-0.6-5.2-0.8z"/><path class="w5" d="M192.5 187.6l5.2 0.9 0.4-0.6-5.2-0.9z"/><path class="w5" d="M197.7 188.5l5.2 0.9 0.4-0.5-5.2-1z"/><path class="w5" d="M202.9 189.4l5.2 1 0.4-0.6-5.2-0.9z"/><path class="w5" d="M208.1 190.4l5.3 1 0.4-0.6-5.3-1z"/><path class="w5" d="M213.4 191.4l5.3 1 0.3-0.6-5.2-1z"/><path class="w5" d="M218.7 192.4l5.2 1 0.4-0.6-5.3-1z"/><path class="w5" d="M223.9 193.4l5.3 0.9 0.4-0.5-5.3-1z"/><path class="w5" d="M229.2 194.3l5.3 0.9 0.4-0.5-5.3-0.9z"/><path class="w5" d="M234.5 195.2l5.4 0.9 0.3-0.6-5.3-0.8z"/><path class="w5" d="M239.9 196.1l5.3 0.8 0.4-0.6-5.4-0.8z"/><path class="w5" d="M245.2 196.9l5.4 0.8 0.3-0.6-5.3-0.8z"/><path class="w17" d="M72.5 188.1l4.7 0.2 0.6-0.1-4.8-0.1z"/><path class="w17" d="M77.2 188.3l4.8-0.2 0.5-0.1-4.7 0.2z"/><path class="w17" d="M82 188.1l4.8-0.3 0.5-0.1-4.8 0.3z"/><path class="w17" d="M86.8 187.8l4.9-0.4 0.5-0.1-4.9 0.4z"/><path class="w17" d="M91.7 187.4l4.8-0.4 0.5-0.2-4.8 0.5z"/><path class="w17" d="M96.5 187l4.9-0.4 0.4-0.2-4.8 0.4z"/><path class="w17" d="M101.4 186.6l4.8-0.4 0.5-0.3-4.9 0.5z"/><path class="w17" d="M106.2 186.2l4.9-0.4 0.5-0.2-4.9 0.3z"/><path class="w17" d="M111.1 185.8l4.9-0.3 0.5-0.2-4.9 0.3z"/><path class="w17" d="M116 185.5l5-0.2 0.5-0.3-5 0.3z"/><path class="w17" d="M121 185.3l4.9-0.1 0.5-0.4-4.9 0.2z"/><path class="w16" d="M125.9 185.2l5-0.2 0.5-0.3-5 0.1z"/><path class="w15" d="M130.9 185l5 0 0.5-0.4-5 0.1z"/><path class="w14" d="M135.9 185l5-0.1 0.5-0.4-5 0.1z"/><path class="w13" d="M140.9 184.9l5.1 0 0.4-0.4-5 0z"/><path class="w12" d="M146 184.9l5 0.1 0.5-0.5-5.1 0z"/><path class="w11" d="M151 185l5.1 0.1 0.4-0.5-5-0.1z"/><path class="w10" d="M156.1 185.1l5.1 0.1 0.4-0.5-5.1-0.1z"/><path class="w9" d="M161.2 185.2l5.1 0.2 0.4-0.5-5.1-0.2z"/><path class="w8" d="M166.3 185.4l5.1 0.3 0.4-0.5-5.1-0.3z"/><path class="w7" d="M171.4 185.7l5.2 0.5 0.4-0.6-5.2-0.4z"/><path class="w6" d="M176.6 186.2l5.1 0.5 0.4-0.6-5.1-0.5z"/><path class="w6" d="M181.7 186.7l5.2 0.7 0.4-0.6-5.2-0.7z"/><path class="w5" d="M186.9 187.4l5.2 0.8 0.4-0.6-5.2-0.8z"/><path class="w5" d="M192.1 188.2l5.2 0.8 0.4-0.5-5.2-0.9z"/><path class="w5" d="M197.3 189l5.2 1 0.4-0.6-5.2-0.9z"/><path class="w5" d="M202.5 190l5.3 0.9 0.3-0.5-5.2-1z"/><path class="w5" d="M207.8 190.9l5.2 1 0.4-0.5-5.3-1z"/><path class="w5" d="M213 191.9l5.3 1 0.4-0.5-5.3-1z"/><path class="w5" d="M218.3 192.9l5.3 1 0.3-0.5-5.2-1z"/><path class="w5" d="M223.6 193.9l5.3 1 0.3-0.6-5.3-0.9z"/><path class="w5" d="M228.9 194.9l5.3 0.9 0.3-0.6-5.3-0.9z"/><path class="w5" d="M234.2 195.8l5.3 0.9 0.4-0.6-5.4-0.9z"/><path class="w5" d="M239.5 196.7l5.4 0.8 0.3-0.6-5.3-0.8z"/><path class="w5" d="M244.9 197.5l5.3 0.8 0.4-0.6-5.4-0.8z"/><path class="w17" d="M71.9 188.1l4.8 0.2 0.5 0-4.7-0.2z"/><path class="w17" d="M76.7 188.3l4.8-0.1 0.5-0.1-4.8 0.2z"/><path class="w17" d="M81.5 188.2l4.8-0.3 0.5-0.1-4.8 0.3z"/><path class="w17" d="M86.3 187.9l4.9-0.3 0.5-0.2-4.9 0.4z"/><path class="w17" d="M91.2 187.6l4.8-0.4 0.5-0.2-4.8 0.4z"/><path class="w17" d="M96 187.2l4.9-0.4 0.5-0.2-4.9 0.4z"/><path class="w17" d="M100.9 186.8l4.8-0.4 0.5-0.2-4.8 0.4z"/><path class="w17" d="M105.7 186.4l4.9-0.3 0.5-0.3-4.9 0.4z"/><path class="w17" d="M110.6 186.1l5-0.3 0.4-0.3-4.9 0.3z"/><path class="w17" d="M115.6 185.8l4.9-0.2 0.5-0.3-5 0.2z"/><path class="w17" d="M120.5 185.6l5-0.1 0.4-0.3-4.9 0.1z"/><path class="w16" d="M125.5 185.5l5-0.1 0.4-0.4-5 0.2z"/><path class="w15" d="M130.5 185.4l5 0 0.4-0.4-5 0z"/><path class="w14" d="M135.5 185.4l5-0.1 0.4-0.4-5 0.1z"/><path class="w13" d="M140.5 185.3l5 0.1 0.5-0.5-5.1 0z"/><path class="w12" d="M145.5 185.4l5.1 0 0.4-0.4-5-0.1z"/><path class="w11" d="M150.6 185.4l5.1 0.2 0.4-0.5-5.1-0.1z"/><path class="w10" d="M155.7 185.6l5.1 0.1 0.4-0.5-5.1-0.1z"/><path class="w9" d="M160.8 185.7l5.1 0.3 0.4-0.6-5.1-0.2z"/><path class="w8" d="M165.9 186l5.1 0.3 0.4-0.6-5.1-0.3z"/><path class="w7" d="M171 186.3l5.1 0.4 0.5-0.5-5.2-0.5z"/><path class="w6" d="M176.1 186.7l5.2 0.6 0.4-0.6-5.1-0.5z"/><path class="w6" d="M181.3 187.3l5.2 0.6 0.4-0.5-5.2-0.7z"/><path class="w5" d="M186.5 187.9l5.2 0.8 0.4-0.5-5.2-0.8z"/><path class="w5" d="M191.7 188.7l5.2 0.9 0.4-0.6-5.2-0.8z"/><path class="w5" d="M196.9 189.6l5.2 0.9 0.4-0.5-5.2-1z"/><path class="w5" d="M202.1 190.5l5.3 1 0.4-0.6-5.3-0.9z"/><path class="w5" d="M207.4 191.5l5.2 1 0.4-0.6-5.2-1z"/><path class="w5" d="M212.6 192.5l5.3 1 0.4-0.6-5.3-1z"/><path class="w5" d="M217.9 193.5l5.3 1 0.4-0.6-5.3-1z"/><path class="w5" d="M223.2 194.5l5.3 1 0.4-0.6-5.3-1z"/><path class="w5" d="M228.5 195.5l5.3 0.9 0.4-0.6-5.3-0.9z"/><path class="w5" d="M233.8 196.4l5.3 0.8 0.4-0.5-5.3-0.9z"/><path class="w5" d="M239.1 197.2l5.4 0.8 0.4-0.5-5.4-0.8z"/><path class="w5" d="M244.5 198l5.4 0.8 0.3-0.5-5.3-0.8z"/><path class="w17" d="M71.4 188.2l4.8 0.2 0.5-0.1-4.8-0.2z"/><path class="w17" d="M76.2 188.4l4.8-0.1 0.5-0.1-4.8 0.1z"/><path class="w17" d="M81 188.3l4.8-0.2 0.5-0.2-4.8 0.3z"/><path class="w17" d="M85.8 188.1l4.9-0.3 0.5-0.2-4.9 0.3z"/><path class="w17" d="M90.7 187.8l4.8-0.4 0.5-0.2-4.8 0.4z"/><path class="w17" d="M95.5 187.4l4.9-0.3 0.5-0.3-4.9 0.4z"/><path class="w17" d="M100.4 187.1l4.9-0.4 0.4-0.3-4.8 0.4z"/><path class="w17" d="M105.3 186.7l4.9-0.3 0.4-0.3-4.9 0.3z"/><path class="w17" d="M110.2 186.4l4.9-0.2 0.5-0.4-5 0.3z"/><path class="w17" d="M115.1 186.2l4.9-0.2 0.5-0.4-4.9 0.2z"/><path class="w17" d="M120 186l5-0.1 0.5-0.4-5 0.1z"/><path class="w16" d="M125 185.9l5-0.1 0.5-0.4-5 0.1z"/><path class="w15" d="M130 185.8l5 0 0.5-0.4-5 0z"/><path class="w13" d="M135 185.8l5 0 0.5-0.5-5 0.1z"/><path class="w12" d="M140 185.8l5.1 0 0.4-0.4-5-0.1z"/><path class="w11" d="M145.1 185.8l5 0.1 0.5-0.5-5.1 0z"/><path class="w10" d="M150.1 185.9l5.1 0.1 0.5-0.4-5.1-0.2z"/><path class="w10" d="M155.2 186l5.1 0.2 0.5-0.5-5.1-0.1z"/><path class="w9" d="M160.3 186.2l5.1 0.3 0.5-0.5-5.1-0.3z"/><path class="w8" d="M165.4 186.5l5.2 0.3 0.4-0.5-5.1-0.3z"/><path class="w7" d="M170.6 186.8l5.1 0.5 0.4-0.6-5.1-0.4z"/><path class="w6" d="M175.7 187.3l5.2 0.5 0.4-0.5-5.2-0.6z"/><path class="w5" d="M180.9 187.8l5.2 0.7 0.4-0.6-5.2-0.6z"/><path class="w5" d="M186.1 188.5l5.2 0.8 0.4-0.6-5.2-0.8z"/><path class="w5" d="M191.3 189.3l5.2 0.9 0.4-0.6-5.2-0.9z"/><path class="w5" d="M196.5 190.2l5.2 0.9 0.4-0.6-5.2-0.9z"/><path class="w5" d="M201.7 191.1l5.3 1 0.4-0.6-5.3-1z"/><path class="w5" d="M207 192.1l5.2 1 0.4-0.6-5.2-1z"/><path class="w5" d="M212.2 193.1l5.3 1 0.4-0.6-5.3-1z"/><path class="w4" d="M217.5 194.1l5.3 1 0.4-0.6-5.3-1z"/><path class="w4" d="M222.8 195.1l5.3 1 0.4-0.6-5.3-1z"/><path class="w4" d="M228.1 196.1l5.3 0.9 0.4-0.6-5.3-0.9z"/><path class="w4" d="M233.4 197l5.4 0.8 0.3-0.6-5.3-0.8z"/><path class="w5" d="M238.8 197.8l5.3 0.8 0.4-0.6-5.4-0.8z"/><path class="w5" d="M244.1 198.6l5.4 0.8 0.4-0.6-5.4-0.8z"/><path class="w17" d="M70.9 188.3l4.8 0.3 0.5-0.2-4.8-0.2z"/><path class="w17" d="M75.7 188.6l4.8-0.1 0.5-0.2-4.8 0.1z"/><path class="w17" d="M80.5 188.5l4.8-0.2 0.5-0.2-4.8 0.2z"/><path class="w17" d="M85.3 188.3l4.9-0.3 0.5-0.2-4.9 0.3z"/><path class="w17" d="M90.2 188l4.8-0.4 0.5-0.2-4.8 0.4z"/><path class="w17" d="M95 187.6l4.9-0.3 0.5-0.2-4.9 0.3z"/><path class="w17" d="M99.9 187.3l4.9-0.3 0.5-0.3-4.9 0.4z"/><path class="w17" d="M104.8 187l4.9-0.3 0.5-0.3-4.9 0.3z"/><path class="w17" d="M109.7 186.7l4.9-0.2 0.5-0.3-4.9 0.2z"/><path class="w17" d="M114.6 186.5l5-0.2 0.4-0.3-4.9 0.2z"/><path class="w16" d="M119.6 186.3l4.9-0.1 0.5-0.3-5 0.1z"/><path class="w15" d="M124.5 186.2l5 0 0.5-0.4-5 0.1z"/><path class="w14" d="M129.5 186.2l5 0 0.5-0.4-5 0z"/><path class="w13" d="M134.5 186.2l5.1 0 0.4-0.4-5 0z"/><path class="w12" d="M139.6 186.2l5 0.1 0.5-0.5-5.1 0z"/><path class="w11" d="M144.6 186.3l5.1 0.1 0.4-0.5-5-0.1z"/><path class="w10" d="M149.7 186.4l5.1 0.1 0.4-0.5-5.1-0.1z"/><path class="w9" d="M154.8 186.5l5.1 0.2 0.4-0.5-5.1-0.2z"/><path class="w8" d="M159.9 186.7l5.1 0.3 0.4-0.5-5.1-0.3z"/><path class="w8" d="M165 187l5.1 0.4 0.5-0.6-5.2-0.3z"/><path class="w7" d="M170.1 187.4l5.2 0.4 0.4-0.5-5.1-0.5z"/><path class="w6" d="M175.3 187.8l5.2 0.6 0.4-0.6-5.2-0.5z"/><path class="w5" d="M180.5 188.4l5.2 0.7 0.4-0.6-5.2-0.7z"/><path class="w5" d="M185.7 189.1l5.2 0.8 0.4-0.6-5.2-0.8z"/><path class="w5" d="M190.9 189.9l5.2 0.8 0.4-0.5-5.2-0.9z"/><path class="w5" d="M196.1 190.7l5.2 1 0.4-0.6-5.2-0.9z"/><path class="w5" d="M201.3 191.7l5.3 0.9 0.4-0.5-5.3-1z"/><path class="w5" d="M206.6 192.6l5.2 1 0.4-0.5-5.2-1z"/><path class="w4" d="M211.8 193.6l5.3 1.1 0.4-0.6-5.3-1z"/><path class="w4" d="M217.1 194.7l5.3 1 0.4-0.6-5.3-1z"/><path class="w4" d="M222.4 195.7l5.3 1 0.4-0.6-5.3-1z"/><path class="w4" d="M227.7 196.7l5.3 0.9 0.4-0.6-5.3-0.9z"/><path class="w4" d="M233 197.6l5.4 0.8 0.4-0.6-5.4-0.8z"/><path class="w4" d="M238.4 198.4l5.4 0.8 0.3-0.6-5.3-0.8z"/><path class="w4" d="M243.8 199.2l5.3 0.8 0.4-0.6-5.4-0.8z"/><path class="w17" d="M70.4 188.4l4.8 0.3 0.5-0.1-4.8-0.3z"/><path class="w17" d="M75.2 188.7l4.8 0 0.5-0.2-4.8 0.1z"/><path class="w17" d="M80 188.7l4.8-0.2 0.5-0.2-4.8 0.2z"/><path class="w17" d="M84.8 188.5l4.9-0.3 0.5-0.2-4.9 0.3z"/><path class="w17" d="M89.7 188.2l4.8-0.3 0.5-0.3-4.8 0.4z"/><path class="w17" d="M94.5 187.9l4.9-0.3 0.5-0.3-4.9 0.3z"/><path class="w17" d="M99.4 187.6l4.9-0.3 0.5-0.3-4.9 0.3z"/><path class="w17" d="M104.3 187.3l4.9-0.3 0.5-0.3-4.9 0.3z"/><path class="w17" d="M109.2 187l4.9-0.2 0.5-0.3-4.9 0.2z"/><path class="w17" d="M114.1 186.8l5-0.1 0.5-0.4-5 0.2z"/><path class="w16" d="M119.1 186.7l5-0.1 0.4-0.4-4.9 0.1z"/><path class="w15" d="M124.1 186.6l5 0 0.4-0.4-5 0z"/><path class="w14" d="M129.1 186.6l5 0 0.4-0.4-5 0z"/><path class="w13" d="M134.1 186.6l5 0 0.5-0.4-5.1 0z"/><path class="w12" d="M139.1 186.6l5.1 0.1 0.4-0.4-5-0.1z"/><path class="w11" d="M144.2 186.7l5 0.2 0.5-0.5-5.1-0.1z"/><path class="w10" d="M149.2 186.9l5.1 0.1 0.5-0.5-5.1-0.1z"/><path class="w9" d="M154.3 187l5.1 0.3 0.5-0.6-5.1-0.2z"/><path class="w8" d="M159.4 187.3l5.2 0.2 0.4-0.5-5.1-0.3z"/><path class="w7" d="M164.6 187.5l5.1 0.4 0.4-0.5-5.1-0.4z"/><path class="w7" d="M169.7 187.9l5.2 0.5 0.4-0.6-5.2-0.4z"/><path class="w6" d="M174.9 188.4l5.1 0.5 0.5-0.5-5.2-0.6z"/><path class="w5" d="M180 188.9l5.2 0.7 0.5-0.5-5.2-0.7z"/><path class="w5" d="M185.2 189.6l5.3 0.8 0.4-0.5-5.2-0.8z"/><path class="w5" d="M190.5 190.4l5.2 0.9 0.4-0.6-5.2-0.8z"/><path class="w5" d="M195.7 191.3l5.2 0.9 0.4-0.5-5.2-1z"/><path class="w5" d="M200.9 192.2l5.3 1 0.4-0.6-5.3-0.9z"/><path class="w5" d="M206.2 193.2l5.2 1 0.4-0.6-5.2-1z"/><path class="w4" d="M211.4 194.2l5.3 1 0.4-0.5-5.3-1.1z"/><path class="w4" d="M216.7 195.2l5.3 1.1 0.4-0.6-5.3-1z"/><path class="w4" d="M222 196.3l5.3 0.9 0.4-0.5-5.3-1z"/><path class="w4" d="M227.3 197.2l5.4 1 0.3-0.6-5.3-0.9z"/><path class="w4" d="M232.7 198.2l5.3 0.8 0.4-0.6-5.4-0.8z"/><path class="w4" d="M238 199l5.4 0.8 0.4-0.6-5.4-0.8z"/><path class="w4" d="M243.4 199.8l5.4 0.8 0.3-0.6-5.3-0.8z"/><path class="w17" d="M69.9 188.5l4.8 0.4 0.5-0.2-4.8-0.3z"/><path class="w17" d="M74.7 188.9l4.8 0 0.5-0.2-4.8 0z"/><path class="w17" d="M79.5 188.9l4.8-0.2 0.5-0.2-4.8 0.2z"/><path class="w17" d="M84.3 188.7l4.9-0.3 0.5-0.2-4.9 0.3z"/><path class="w17" d="M89.2 188.4l4.8-0.3 0.5-0.2-4.8 0.3z"/><path class="w17" d="M94 188.1l4.9-0.2 0.5-0.3-4.9 0.3z"/><path class="w17" d="M98.9 187.9l4.9-0.3 0.5-0.3-4.9 0.3z"/><path class="w17" d="M103.8 187.6l4.9-0.2 0.5-0.4-4.9 0.3z"/><path class="w17" d="M108.7 187.4l5-0.2 0.4-0.4-4.9 0.2z"/><path class="w16" d="M113.7 187.2l4.9-0.2 0.5-0.3-5 0.1z"/><path class="w15" d="M118.6 187l5 0 0.5-0.4-5 0.1z"/><path class="w14" d="M123.6 187l5 0 0.5-0.4-5 0z"/><path class="w13" d="M128.6 187l5 0 0.5-0.4-5 0z"/><path class="w12" d="M133.6 187l5.1 0.1 0.4-0.5-5 0z"/><path class="w11" d="M138.7 187.1l5 0.1 0.5-0.5-5.1-0.1z"/><path class="w10" d="M143.7 187.2l5.1 0.2 0.4-0.5-5-0.2z"/><path class="w10" d="M148.8 187.4l5.1 0.1 0.4-0.5-5.1-0.1z"/><path class="w9" d="M153.9 187.5l5.1 0.3 0.4-0.5-5.1-0.3z"/><path class="w8" d="M159 187.8l5.1 0.3 0.5-0.6-5.2-0.2z"/><path class="w7" d="M164.1 188.1l5.2 0.4 0.4-0.6-5.1-0.4z"/><path class="w6" d="M169.3 188.5l5.1 0.4 0.5-0.5-5.2-0.5z"/><path class="w6" d="M174.4 188.9l5.2 0.6 0.4-0.6-5.1-0.5z"/><path class="w5" d="M179.6 189.5l5.2 0.7 0.4-0.6-5.2-0.7z"/><path class="w5" d="M184.8 190.2l5.2 0.8 0.5-0.6-5.3-0.8z"/><path class="w5" d="M190 191l5.3 0.9 0.4-0.6-5.2-0.9z"/><path class="w5" d="M195.3 191.9l5.2 0.9 0.4-0.6-5.2-0.9z"/><path class="w5" d="M200.5 192.8l5.3 1 0.4-0.6-5.3-1z"/><path class="w4" d="M205.8 193.8l5.2 1 0.4-0.6-5.2-1z"/><path class="w4" d="M211 194.8l5.3 1 0.4-0.6-5.3-1z"/><path class="w4" d="M216.3 195.8l5.3 1 0.4-0.5-5.3-1.1z"/><path class="w4" d="M221.6 196.8l5.4 1 0.3-0.6-5.3-0.9z"/><path class="w4" d="M227 197.8l5.3 1 0.4-0.6-5.4-1z"/><path class="w4" d="M232.3 198.8l5.4 0.8 0.3-0.6-5.3-0.8z"/><path class="w4" d="M237.7 199.6l5.3 0.8 0.4-0.6-5.4-0.8z"/><path class="w4" d="M243 200.4l5.4 0.8 0.4-0.6-5.4-0.8z"/><path class="w17" d="M69.3 188.7l4.8 0.3 0.6-0.1-4.8-0.4z"/><path class="w17" d="M74.1 189l4.9 0.1 0.5-0.2-4.8 0z"/><path class="w17" d="M79 189.1l4.8-0.2 0.5-0.2-4.8 0.2z"/><path class="w17" d="M83.8 188.9l4.9-0.3 0.5-0.2-4.9 0.3z"/><path class="w17" d="M88.7 188.6l4.8-0.2 0.5-0.3-4.8 0.3z"/><path class="w17" d="M93.5 188.4l4.9-0.2 0.5-0.3-4.9 0.2z"/><path class="w17" d="M98.4 188.2l4.9-0.3 0.5-0.3-4.9 0.3z"/><path class="w17" d="M103.3 187.9l4.9-0.2 0.5-0.3-4.9 0.2z"/><path class="w17" d="M108.2 187.7l5-0.2 0.5-0.3-5 0.2z"/><path class="w16" d="M113.2 187.5l5-0.1 0.4-0.4-4.9 0.2z"/><path class="w15" d="M118.2 187.4l4.9 0 0.5-0.4-5 0z"/><path class="w14" d="M123.1 187.4l5 0 0.5-0.4-5 0z"/><path class="w13" d="M128.1 187.4l5.1 0 0.4-0.4-5 0z"/><path class="w12" d="M133.2 187.4l5 0.1 0.5-0.4-5.1-0.1z"/><path class="w11" d="M138.2 187.5l5.1 0.2 0.4-0.5-5-0.1z"/><path class="w10" d="M143.3 187.7l5 0.1 0.5-0.4-5.1-0.2z"/><path class="w9" d="M148.3 187.8l5.1 0.3 0.5-0.6-5.1-0.1z"/><path class="w9" d="M153.4 188.1l5.2 0.2 0.4-0.5-5.1-0.3z"/><path class="w8" d="M158.6 188.3l5.1 0.3 0.4-0.5-5.1-0.3z"/><path class="w7" d="M163.7 188.6l5.2 0.4 0.4-0.5-5.2-0.4z"/><path class="w6" d="M168.9 189l5.1 0.5 0.4-0.6-5.1-0.4z"/><path class="w6" d="M174 189.5l5.2 0.6 0.4-0.6-5.2-0.6z"/><path class="w5" d="M179.2 190.1l5.2 0.7 0.4-0.6-5.2-0.7z"/><path class="w5" d="M184.4 190.8l5.2 0.8 0.4-0.6-5.2-0.8z"/><path class="w5" d="M189.6 191.6l5.3 0.9 0.4-0.6-5.3-0.9z"/><path class="w5" d="M194.9 192.5l5.2 0.9 0.4-0.6-5.2-0.9z"/><path class="w5" d="M200.1 193.4l5.3 1 0.4-0.6-5.3-1z"/><path class="w4" d="M205.4 194.4l5.2 1 0.4-0.6-5.2-1z"/><path class="w4" d="M210.6 195.4l5.3 1 0.4-0.6-5.3-1z"/><path class="w4" d="M215.9 196.4l5.3 1 0.4-0.6-5.3-1z"/><path class="w4" d="M221.2 197.4l5.4 1 0.4-0.6-5.4-1z"/><path class="w4" d="M226.6 198.4l5.3 1 0.4-0.6-5.3-1z"/><path class="w4" d="M231.9 199.4l5.4 0.8 0.4-0.6-5.4-0.8z"/><path class="w4" d="M237.3 200.2l5.4 0.8 0.3-0.6-5.3-0.8z"/><path class="w4" d="M242.7 201l5.4 0.8 0.3-0.6-5.4-0.8z"/><path class="w17" d="M68.8 188.9l4.8 0.4 0.5-0.3-4.8-0.3z"/><path class="w17" d="M73.6 189.3l4.9 0 0.5-0.2-4.9-0.1z"/><path class="w17" d="M78.5 189.3l4.8-0.2 0.5-0.2-4.8 0.2z"/><path class="w17" d="M83.3 189.1l4.9-0.2 0.5-0.3-4.9 0.3z"/><path class="w17" d="M88.2 188.9l4.8-0.2 0.5-0.3-4.8 0.2z"/><path class="w17" d="M93 188.7l4.9-0.2 0.5-0.3-4.9 0.2z"/><path class="w17" d="M97.9 188.5l4.9-0.2 0.5-0.4-4.9 0.3z"/><path class="w17" d="M102.8 188.3l5-0.2 0.4-0.4-4.9 0.2z"/><path class="w16" d="M107.8 188.1l4.9-0.2 0.5-0.4-5 0.2z"/><path class="w15" d="M112.7 187.9l5-0.1 0.5-0.4-5 0.1z"/><path class="w14" d="M117.7 187.8l5 0 0.4-0.4-4.9 0z"/><path class="w13" d="M122.7 187.8l5 0 0.4-0.4-5 0z"/><path class="w12" d="M127.7 187.8l5 0.1 0.5-0.5-5.1 0z"/><path class="w12" d="M132.7 187.9l5.1 0.1 0.4-0.5-5-0.1z"/><path class="w11" d="M137.8 188l5 0.2 0.5-0.5-5.1-0.2z"/><path class="w10" d="M142.8 188.2l5.1 0.1 0.4-0.5-5-0.1z"/><path class="w9" d="M147.9 188.3l5.1 0.3 0.4-0.5-5.1-0.3z"/><path class="w8" d="M153 188.6l5.1 0.2 0.5-0.5-5.2-0.2z"/><path class="w8" d="M158.1 188.8l5.2 0.4 0.4-0.6-5.1-0.3z"/><path class="w7" d="M163.3 189.2l5.1 0.4 0.5-0.6-5.2-0.4z"/><path class="w6" d="M168.4 189.6l5.2 0.4 0.4-0.5-5.1-0.5z"/><path class="w6" d="M173.6 190l5.2 0.6 0.4-0.5-5.2-0.6z"/><path class="w5" d="M178.8 190.6l5.2 0.8 0.4-0.6-5.2-0.7z"/><path class="w5" d="M184 191.4l5.2 0.8 0.4-0.6-5.2-0.8z"/><path class="w5" d="M189.2 192.2l5.2 0.8 0.5-0.5-5.3-0.9z"/><path class="w4" d="M194.4 193l5.3 1 0.4-0.6-5.2-0.9z"/><path class="w4" d="M199.7 194l5.3 0.9 0.4-0.5-5.3-1z"/><path class="w4" d="M205 194.9l5.3 1 0.3-0.5-5.2-1z"/><path class="w4" d="M210.3 195.9l5.2 1.1 0.4-0.6-5.3-1z"/><path class="w4" d="M215.5 197l5.4 1 0.3-0.6-5.3-1z"/><path class="w4" d="M220.9 198l5.3 1 0.4-0.6-5.4-1z"/><path class="w4" d="M226.2 199l5.3 1 0.4-0.6-5.3-1z"/><path class="w4" d="M231.5 200l5.4 0.8 0.4-0.6-5.4-0.8z"/><path class="w4" d="M236.9 200.8l5.4 0.8 0.4-0.6-5.4-0.8z"/><path class="w4" d="M242.3 201.6l5.4 0.8 0.4-0.6-5.4-0.8z"/><path class="w17" d="M68.3 189.1l4.8 0.4 0.5-0.2-4.8-0.4z"/><path class="w17" d="M73.1 189.5l4.8 0 0.6-0.2-4.9 0z"/><path class="w17" d="M77.9 189.5l4.9-0.1 0.5-0.3-4.8 0.2z"/><path class="w17" d="M82.8 189.4l4.8-0.2 0.6-0.3-4.9 0.2z"/><path class="w17" d="M87.6 189.2l4.9-0.2 0.5-0.3-4.8 0.2z"/><path class="w17" d="M92.5 189l4.9-0.2 0.5-0.3-4.9 0.2z"/><path class="w17" d="M97.4 188.8l4.9-0.2 0.5-0.3-4.9 0.2z"/><path class="w17" d="M102.3 188.6l5-0.2 0.5-0.3-5 0.2z"/><path class="w16" d="M107.3 188.4l4.9-0.1 0.5-0.4-4.9 0.2z"/><path class="w15" d="M112.2 188.3l5-0.1 0.5-0.4-5 0.1z"/><path class="w14" d="M117.2 188.2l5 0 0.5-0.4-5 0z"/><path class="w13" d="M122.2 188.2l5 0 0.5-0.4-5 0z"/><path class="w12" d="M127.2 188.2l5 0.1 0.5-0.4-5-0.1z"/><path class="w11" d="M132.2 188.3l5.1 0.2 0.5-0.5-5.1-0.1z"/><path class="w10" d="M137.3 188.5l5.1 0.2 0.4-0.5-5-0.2z"/><path class="w9" d="M142.4 188.7l5.1 0.2 0.4-0.6-5.1-0.1z"/><path class="w9" d="M147.5 188.9l5.1 0.2 0.4-0.5-5.1-0.3z"/><path class="w8" d="M152.6 189.1l5.1 0.3 0.4-0.6-5.1-0.2z"/><path class="w7" d="M157.7 189.4l5.1 0.3 0.5-0.5-5.2-0.4z"/><path class="w7" d="M162.8 189.7l5.2 0.4 0.4-0.5-5.1-0.4z"/><path class="w6" d="M168 190.1l5.2 0.5 0.4-0.6-5.2-0.4z"/><path class="w6" d="M173.2 190.6l5.2 0.6 0.4-0.6-5.2-0.6z"/><path class="w5" d="M178.4 191.2l5.2 0.7 0.4-0.5-5.2-0.8z"/><path class="w5" d="M183.6 191.9l5.2 0.8 0.4-0.5-5.2-0.8z"/><path class="w5" d="M188.8 192.7l5.2 0.9 0.4-0.6-5.2-0.8z"/><path class="w4" d="M194 193.6l5.3 0.9 0.4-0.5-5.3-1z"/><path class="w4" d="M199.3 194.5l5.3 1 0.4-0.6-5.3-0.9z"/><path class="w4" d="M204.6 195.5l5.3 1 0.4-0.6-5.3-1z"/><path class="w4" d="M209.9 196.5l5.3 1.1 0.3-0.6-5.2-1.1z"/><path class="w4" d="M215.2 197.6l5.3 1 0.4-0.6-5.4-1z"/><path class="w4" d="M220.5 198.6l5.3 1 0.4-0.6-5.3-1z"/><path class="w3" d="M225.8 199.6l5.4 1 0.3-0.6-5.3-1z"/><path class="w4" d="M231.2 200.6l5.3 0.8 0.4-0.6-5.4-0.8z"/><path class="w4" d="M236.5 201.4l5.4 0.8 0.4-0.6-5.4-0.8z"/><path class="w4" d="M241.9 202.2l5.4 0.8 0.4-0.6-5.4-0.8z"/><path class="w17" d="M67.8 189.3l4.8 0.4 0.5-0.2-4.8-0.4z"/><path class="w17" d="M72.6 189.7l4.8 0.1 0.5-0.3-4.8 0z"/><path class="w17" d="M77.4 189.8l4.9-0.1 0.5-0.3-4.9 0.1z"/><path class="w17" d="M82.3 189.7l4.8-0.2 0.5-0.3-4.8 0.2z"/><path class="w17" d="M87.1 189.5l4.9-0.2 0.5-0.3-4.9 0.2z"/><path class="w17" d="M92 189.3l4.9-0.2 0.5-0.3-4.9 0.2z"/><path class="w17" d="M96.9 189.1l4.9-0.1 0.5-0.4-4.9 0.2z"/><path class="w16" d="M101.8 189l5-0.2 0.5-0.4-5 0.2z"/><path class="w15" d="M106.8 188.8l4.9-0.1 0.5-0.4-4.9 0.1z"/><path class="w14" d="M111.7 188.7l5-0.1 0.5-0.4-5 0.1z"/><path class="w13" d="M116.7 188.6l5 0 0.5-0.4-5 0z"/><path class="w12" d="M121.7 188.6l5 0.1 0.5-0.5-5 0z"/><path class="w12" d="M126.7 188.7l5.1 0.1 0.4-0.5-5-0.1z"/><path class="w11" d="M131.8 188.8l5 0.2 0.5-0.5-5.1-0.2z"/><path class="w10" d="M136.8 189l5.1 0.1 0.5-0.4-5.1-0.2z"/><path class="w9" d="M141.9 189.1l5.1 0.3 0.5-0.5-5.1-0.2z"/><path class="w8" d="M147 189.4l5.1 0.2 0.5-0.5-5.1-0.2z"/><path class="w8" d="M152.1 189.6l5.1 0.3 0.5-0.5-5.1-0.3z"/><path class="w7" d="M157.2 189.9l5.2 0.3 0.4-0.5-5.1-0.3z"/><path class="w7" d="M162.4 190.2l5.2 0.5 0.4-0.6-5.2-0.4z"/><path class="w6" d="M167.6 190.7l5.1 0.5 0.5-0.6-5.2-0.5z"/><path class="w6" d="M172.7 191.2l5.2 0.6 0.5-0.6-5.2-0.6z"/><path class="w5" d="M177.9 191.8l5.3 0.7 0.4-0.6-5.2-0.7z"/><path class="w5" d="M183.2 192.5l5.2 0.8 0.4-0.6-5.2-0.8z"/><path class="w4" d="M188.4 193.3l5.2 0.9 0.4-0.6-5.2-0.9z"/><path class="w4" d="M193.6 194.2l5.3 0.9 0.4-0.6-5.3-0.9z"/><path class="w4" d="M198.9 195.1l5.3 1 0.4-0.6-5.3-1z"/><path class="w4" d="M204.2 196.1l5.3 1 0.4-0.6-5.3-1z"/><path class="w4" d="M209.5 197.1l5.3 1 0.4-0.5-5.3-1.1z"/><path class="w4" d="M214.8 198.1l5.3 1.1 0.4-0.6-5.3-1z"/><path class="w3" d="M220.1 199.2l5.3 1 0.4-0.6-5.3-1z"/><path class="w3" d="M225.4 200.2l5.4 1 0.4-0.6-5.4-1z"/><path class="w3" d="M230.8 201.2l5.4 0.9 0.3-0.7-5.3-0.8z"/><path class="w4" d="M236.2 202.1l5.4 0.7 0.3-0.6-5.4-0.8z"/><path class="w4" d="M241.6 202.8l5.4 0.8 0.3-0.6-5.4-0.8z"/><path class="w17" d="M67.2 189.5l4.9 0.5 0.5-0.3-4.8-0.4z"/><path class="w17" d="M72.1 190l4.8 0.1 0.5-0.3-4.8-0.1z"/><path class="w17" d="M76.9 190.1l4.9-0.2 0.5-0.2-4.9 0.1z"/><path class="w17" d="M81.8 189.9l4.8-0.1 0.5-0.3-4.8 0.2z"/><path class="w17" d="M86.6 189.8l4.9-0.2 0.5-0.3-4.9 0.2z"/><path class="w17" d="M91.5 189.6l4.9-0.1 0.5-0.4-4.9 0.2z"/><path class="w16" d="M96.4 189.5l5-0.2 0.4-0.3-4.9 0.1z"/><path class="w15" d="M101.4 189.3l4.9-0.1 0.5-0.4-5 0.2z"/><path class="w15" d="M106.3 189.2l5-0.1 0.4-0.4-4.9 0.1z"/><path class="w14" d="M111.3 189.1l4.9-0.1 0.5-0.4-5 0.1z"/><path class="w13" d="M116.2 189l5.1 0 0.4-0.4-5 0z"/><path class="w12" d="M121.3 189l5 0.1 0.4-0.4-5-0.1z"/><path class="w11" d="M126.3 189.1l5 0.2 0.5-0.5-5.1-0.1z"/><path class="w10" d="M131.3 189.3l5.1 0.1 0.4-0.4-5-0.2z"/><path class="w10" d="M136.4 189.4l5.1 0.2 0.4-0.5-5.1-0.1z"/><path class="w9" d="M141.5 189.6l5.1 0.3 0.4-0.5-5.1-0.3z"/><path class="w8" d="M146.6 189.9l5.1 0.2 0.4-0.5-5.1-0.2z"/><path class="w8" d="M151.7 190.1l5.1 0.3 0.4-0.5-5.1-0.3z"/><path class="w7" d="M156.8 190.4l5.2 0.4 0.4-0.6-5.2-0.3z"/><path class="w6" d="M162 190.8l5.1 0.4 0.5-0.5-5.2-0.5z"/><path class="w6" d="M167.1 191.2l5.2 0.5 0.4-0.5-5.1-0.5z"/><path class="w5" d="M172.3 191.7l5.2 0.7 0.4-0.6-5.2-0.6z"/><path class="w5" d="M177.5 192.4l5.2 0.7 0.5-0.6-5.3-0.7z"/><path class="w5" d="M182.7 193.1l5.3 0.8 0.4-0.6-5.2-0.8z"/><path class="w4" d="M188 193.9l5.2 0.9 0.4-0.6-5.2-0.9z"/><path class="w4" d="M193.2 194.8l5.3 0.9 0.4-0.6-5.3-0.9z"/><path class="w4" d="M198.5 195.7l5.3 1 0.4-0.6-5.3-1z"/><path class="w4" d="M203.8 196.7l5.3 1 0.4-0.6-5.3-1z"/><path class="w4" d="M209.1 197.7l5.3 1 0.4-0.6-5.3-1z"/><path class="w4" d="M214.4 198.7l5.3 1.1 0.4-0.6-5.3-1.1z"/><path class="w3" d="M219.7 199.8l5.3 1.1 0.4-0.7-5.3-1z"/><path class="w3" d="M225 200.9l5.4 0.9 0.4-0.6-5.4-1z"/><path class="w3" d="M230.4 201.8l5.4 0.9 0.4-0.6-5.4-0.9z"/><path class="w4" d="M235.8 202.7l5.4 0.7 0.4-0.6-5.4-0.7z"/><path class="w4" d="M241.2 203.4l5.4 0.8 0.4-0.6-5.4-0.8z"/><path class="w17" d="M66.7 189.7l4.9 0.5 0.5-0.2-4.9-0.5z"/><path class="w17" d="M71.6 190.2l4.8 0.1 0.5-0.2-4.8-0.1z"/><path class="w17" d="M76.4 190.3l4.9 0 0.5-0.4-4.9 0.2z"/><path class="w17" d="M81.3 190.3l4.8-0.2 0.5-0.3-4.8 0.1z"/><path class="w17" d="M86.1 190.1l4.9-0.1 0.5-0.4-4.9 0.2z"/><path class="w16" d="M91 190l4.9-0.1 0.5-0.4-4.9 0.1z"/><path class="w15" d="M95.9 189.9l5-0.2 0.5-0.4-5 0.2z"/><path class="w15" d="M100.9 189.7l4.9-0.1 0.5-0.4-4.9 0.1z"/><path class="w14" d="M105.8 189.6l5-0.1 0.5-0.4-5 0.1z"/><path class="w13" d="M110.8 189.5l5-0.1 0.4-0.4-4.9 0.1z"/><path class="w12" d="M115.8 189.4l5 0.1 0.5-0.5-5.1 0z"/><path class="w12" d="M120.8 189.5l5 0.1 0.5-0.5-5-0.1z"/><path class="w11" d="M125.8 189.6l5.1 0.2 0.4-0.5-5-0.2z"/><path class="w10" d="M130.9 189.8l5 0.1 0.5-0.5-5.1-0.1z"/><path class="w9" d="M135.9 189.9l5.1 0.3 0.5-0.6-5.1-0.2z"/><path class="w8" d="M141 190.2l5.1 0.2 0.5-0.5-5.1-0.3z"/><path class="w8" d="M146.1 190.4l5.1 0.3 0.5-0.6-5.1-0.2z"/><path class="w7" d="M151.2 190.7l5.2 0.3 0.4-0.6-5.1-0.3z"/><path class="w7" d="M156.4 191l5.1 0.4 0.5-0.6-5.2-0.4z"/><path class="w6" d="M161.5 191.4l5.2 0.4 0.4-0.6-5.1-0.4z"/><path class="w6" d="M166.7 191.8l5.2 0.5 0.4-0.6-5.2-0.5z"/><path class="w5" d="M171.9 192.3l5.2 0.6 0.4-0.5-5.2-0.7z"/><path class="w5" d="M177.1 192.9l5.2 0.7 0.4-0.5-5.2-0.7z"/><path class="w5" d="M182.3 193.6l5.2 0.9 0.5-0.6-5.3-0.8z"/><path class="w4" d="M187.5 194.5l5.3 0.8 0.4-0.5-5.2-0.9z"/><path class="w4" d="M192.8 195.3l5.3 1 0.4-0.6-5.3-0.9z"/><path class="w4" d="M198.1 196.3l5.3 1 0.4-0.6-5.3-1z"/><path class="w4" d="M203.4 197.3l5.3 1 0.4-0.6-5.3-1z"/><path class="w4" d="M208.7 198.3l5.3 1 0.4-0.6-5.3-1z"/><path class="w4" d="M214 199.3l5.3 1.1 0.4-0.6-5.3-1.1z"/><path class="w3" d="M219.3 200.4l5.4 1.1 0.3-0.6-5.3-1.1z"/><path class="w3" d="M224.7 201.5l5.3 0.9 0.4-0.6-5.4-0.9z"/><path class="w3" d="M230 202.4l5.4 0.9 0.4-0.6-5.4-0.9z"/><path class="w4" d="M235.4 203.3l5.4 0.7 0.4-0.6-5.4-0.7z"/><path class="w4" d="M240.8 204l5.4 0.8 0.4-0.6-5.4-0.8z"/><path class="w17" d="M66.2 190l4.8 0.5 0.6-0.3-4.9-0.5z"/><path class="w17" d="M71 190.5l4.9 0.1 0.5-0.3-4.8-0.1z"/><path class="w17" d="M75.9 190.6l4.9 0 0.5-0.3-4.9 0z"/><path class="w17" d="M80.8 190.6l4.8-0.1 0.5-0.4-4.8 0.2z"/><path class="w16" d="M85.6 190.5l4.9-0.1 0.5-0.4-4.9 0.1z"/><path class="w15" d="M90.5 190.4l4.9-0.2 0.5-0.3-4.9 0.1z"/><path class="w15" d="M95.4 190.2l5-0.1 0.5-0.4-5 0.2z"/><path class="w14" d="M100.4 190.1l4.9-0.1 0.5-0.4-4.9 0.1z"/><path class="w14" d="M105.3 190l5-0.1 0.5-0.4-5 0.1z"/><path class="w13" d="M110.3 189.9l5 0 0.5-0.5-5 0.1z"/><path class="w12" d="M115.3 189.9l5 0 0.5-0.4-5-0.1z"/><path class="w11" d="M120.3 189.9l5 0.2 0.5-0.5-5-0.1z"/><path class="w10" d="M125.3 190.1l5.1 0.1 0.5-0.4-5.1-0.2z"/><path class="w9" d="M130.4 190.2l5.1 0.2 0.4-0.5-5-0.1z"/><path class="w9" d="M135.5 190.4l5 0.3 0.5-0.5-5.1-0.3z"/><path class="w8" d="M140.5 190.7l5.1 0.2 0.5-0.5-5.1-0.2z"/><path class="w8" d="M145.6 190.9l5.2 0.3 0.4-0.5-5.1-0.3z"/><path class="w7" d="M150.8 191.2l5.1 0.3 0.5-0.5-5.2-0.3z"/><path class="w7" d="M155.9 191.5l5.2 0.4 0.4-0.5-5.1-0.4z"/><path class="w6" d="M161.1 191.9l5.2 0.5 0.4-0.6-5.2-0.4z"/><path class="w6" d="M166.3 192.4l5.1 0.5 0.5-0.6-5.2-0.5z"/><path class="w5" d="M171.4 192.9l5.3 0.6 0.4-0.6-5.2-0.6z"/><path class="w5" d="M176.7 193.5l5.2 0.7 0.4-0.6-5.2-0.7z"/><path class="w5" d="M181.9 194.2l5.2 0.8 0.4-0.5-5.2-0.9z"/><path class="w4" d="M187.1 195l5.3 0.9 0.4-0.6-5.3-0.8z"/><path class="w4" d="M192.4 195.9l5.3 1 0.4-0.6-5.3-1z"/><path class="w4" d="M197.7 196.9l5.3 0.9 0.4-0.5-5.3-1z"/><path class="w4" d="M203 197.8l5.3 1 0.4-0.5-5.3-1z"/><path class="w4" d="M208.3 198.8l5.3 1.1 0.4-0.6-5.3-1z"/><path class="w4" d="M213.6 199.9l5.3 1.1 0.4-0.6-5.3-1.1z"/><path class="w3" d="M218.9 201l5.4 1.1 0.4-0.6-5.4-1.1z"/><path class="w3" d="M224.3 202.1l5.3 1 0.4-0.7-5.3-0.9z"/><path class="w3" d="M229.6 203.1l5.4 0.8 0.4-0.6-5.4-0.9z"/><path class="w3" d="M235 203.9l5.4 0.8 0.4-0.7-5.4-0.7z"/><path class="w4" d="M240.4 204.7l5.5 0.7 0.3-0.6-5.4-0.8z"/><path class="w17" d="M65.7 190.2l4.8 0.6 0.5-0.3-4.8-0.5z"/><path class="w17" d="M70.5 190.8l4.9 0.2 0.5-0.4-4.9-0.1z"/><path class="w17" d="M75.4 191l4.8-0.1 0.6-0.3-4.9 0z"/><path class="w16" d="M80.2 190.9l4.9-0.1 0.5-0.3-4.8 0.1z"/><path class="w15" d="M85.1 190.8l4.9-0.1 0.5-0.3-4.9 0.1z"/><path class="w15" d="M90 190.7l4.9 0 0.5-0.5-4.9 0.2z"/><path class="w14" d="M94.9 190.7l5-0.2 0.5-0.4-5 0.1z"/><path class="w14" d="M99.9 190.5l4.9-0.1 0.5-0.4-4.9 0.1z"/><path class="w13" d="M104.8 190.4l5 0 0.5-0.5-5 0.1z"/><path class="w12" d="M109.8 190.4l5-0.1 0.5-0.4-5 0z"/><path class="w11" d="M114.8 190.3l5 0.1 0.5-0.5-5 0z"/><path class="w11" d="M119.8 190.4l5.1 0.1 0.4-0.4-5-0.2z"/><path class="w10" d="M124.9 190.5l5 0.2 0.5-0.5-5.1-0.1z"/><path class="w9" d="M129.9 190.7l5.1 0.3 0.5-0.6-5.1-0.2z"/><path class="w8" d="M135 191l5.1 0.2 0.4-0.5-5-0.3z"/><path class="w8" d="M140.1 191.2l5.1 0.3 0.4-0.6-5.1-0.2z"/><path class="w7" d="M145.2 191.5l5.1 0.3 0.5-0.6-5.2-0.3z"/><path class="w7" d="M150.3 191.8l5.2 0.3 0.4-0.6-5.1-0.3z"/><path class="w6" d="M155.5 192.1l5.1 0.4 0.5-0.6-5.2-0.4z"/><path class="w6" d="M160.6 192.5l5.2 0.4 0.5-0.5-5.2-0.5z"/><path class="w6" d="M165.8 192.9l5.2 0.5 0.4-0.5-5.1-0.5z"/><path class="w5" d="M171 193.4l5.2 0.7 0.5-0.6-5.3-0.6z"/><path class="w5" d="M176.2 194.1l5.3 0.7 0.4-0.6-5.2-0.7z"/><path class="w4" d="M181.5 194.8l5.2 0.8 0.4-0.6-5.2-0.8z"/><path class="w4" d="M186.7 195.6l5.3 0.9 0.4-0.6-5.3-0.9z"/><path class="w4" d="M192 196.5l5.3 1 0.4-0.6-5.3-1z"/><path class="w4" d="M197.3 197.5l5.3 0.9 0.4-0.6-5.3-0.9z"/><path class="w4" d="M202.6 198.4l5.3 1 0.4-0.6-5.3-1z"/><path class="w4" d="M207.9 199.4l5.3 1.1 0.4-0.6-5.3-1.1z"/><path class="w3" d="M213.2 200.5l5.3 1.1 0.4-0.6-5.3-1.1z"/><path class="w3" d="M218.5 201.6l5.4 1.1 0.4-0.6-5.4-1.1z"/><path class="w3" d="M223.9 202.7l5.4 1 0.3-0.6-5.3-1z"/><path class="w3" d="M229.3 203.7l5.4 0.8 0.3-0.6-5.4-0.8z"/><path class="w3" d="M234.7 204.5l5.4 0.8 0.3-0.6-5.4-0.8z"/><path class="w4" d="M240.1 205.3l5.4 0.6 0.4-0.5-5.5-0.7z"/><path class="w16" d="M65.1 190.5l4.9 0.6 0.5-0.3-4.8-0.6z"/><path class="w16" d="M70 191.1l4.9 0.2 0.5-0.3-4.9-0.2z"/><path class="w16" d="M74.9 191.3l4.8 0 0.5-0.4-4.8 0.1z"/><path class="w15" d="M79.7 191.3l4.9-0.1 0.5-0.4-4.9 0.1z"/><path class="w14" d="M84.6 191.2l4.9 0 0.5-0.5-4.9 0.1z"/><path class="w14" d="M89.5 191.2l4.9-0.1 0.5-0.4-4.9 0z"/><path class="w13" d="M94.4 191.1l5-0.1 0.5-0.5-5 0.2z"/><path class="w13" d="M99.4 191l4.9-0.1 0.5-0.5-4.9 0.1z"/><path class="w12" d="M104.3 190.9l5-0.1 0.5-0.4-5 0z"/><path class="w12" d="M109.3 190.8l5 0 0.5-0.5-5 0.1z"/><path class="w11" d="M114.3 190.8l5.1 0.1 0.4-0.5-5-0.1z"/><path class="w10" d="M119.4 190.9l5 0.1 0.5-0.5-5.1-0.1z"/><path class="w9" d="M124.4 191l5.1 0.2 0.4-0.5-5-0.2z"/><path class="w9" d="M129.5 191.2l5 0.3 0.5-0.5-5.1-0.3z"/><path class="w8" d="M134.5 191.5l5.1 0.2 0.5-0.5-5.1-0.2z"/><path class="w7" d="M139.6 191.7l5.1 0.3 0.5-0.5-5.1-0.3z"/><path class="w7" d="M144.7 192l5.2 0.3 0.4-0.5-5.1-0.3z"/><path class="w7" d="M149.9 192.3l5.1 0.4 0.5-0.6-5.2-0.3z"/><path class="w6" d="M155 192.7l5.2 0.3 0.4-0.5-5.1-0.4z"/><path class="w6" d="M160.2 193l5.2 0.5 0.4-0.6-5.2-0.4z"/><path class="w5" d="M165.4 193.5l5.2 0.5 0.4-0.6-5.2-0.5z"/><path class="w5" d="M170.6 194l5.2 0.6 0.4-0.5-5.2-0.7z"/><path class="w5" d="M175.8 194.6l5.2 0.8 0.5-0.6-5.3-0.7z"/><path class="w4" d="M181 195.4l5.3 0.8 0.4-0.6-5.2-0.8z"/><path class="w4" d="M186.3 196.2l5.3 0.9 0.4-0.6-5.3-0.9z"/><path class="w4" d="M191.6 197.1l5.2 0.9 0.5-0.5-5.3-1z"/><path class="w4" d="M196.8 198l5.3 1 0.5-0.6-5.3-0.9z"/><path class="w4" d="M202.1 199l5.4 1 0.4-0.6-5.3-1z"/><path class="w4" d="M207.5 200l5.3 1.1 0.4-0.6-5.3-1.1z"/><path class="w3" d="M212.8 201.1l5.3 1.1 0.4-0.6-5.3-1.1z"/><path class="w3" d="M218.1 202.2l5.4 1.1 0.4-0.6-5.4-1.1z"/><path class="w3" d="M223.5 203.3l5.4 1 0.4-0.6-5.4-1z"/><path class="w3" d="M228.9 204.3l5.4 0.9 0.4-0.7-5.4-0.8z"/><path class="w3" d="M234.3 205.2l5.4 0.7 0.4-0.6-5.4-0.8z"/><path class="w4" d="M239.7 205.9l5.4 0.6 0.4-0.6-5.4-0.6z"/><path class="w15" d="M64.6 190.7l4.9 0.7 0.5-0.3-4.9-0.6z"/><path class="w16" d="M69.5 191.4l4.8 0.2 0.6-0.3-4.9-0.2z"/><path class="w15" d="M74.3 191.6l4.9 0.1 0.5-0.4-4.8 0z"/><path class="w15" d="M79.2 191.7l4.9-0.1 0.5-0.4-4.9 0.1z"/><path class="w14" d="M84.1 191.6l4.9 0 0.5-0.4-4.9 0z"/><path class="w13" d="M89 191.6l4.9-0.1 0.5-0.4-4.9 0.1z"/><path class="w13" d="M93.9 191.5l5-0.1 0.5-0.4-5 0.1z"/><path class="w12" d="M98.9 191.4l5-0.1 0.4-0.4-4.9 0.1z"/><path class="w12" d="M103.9 191.3l4.9 0 0.5-0.5-5 0.1z"/><path class="w11" d="M108.8 191.3l5.1 0 0.4-0.5-5 0z"/><path class="w10" d="M113.9 191.3l5 0.1 0.5-0.5-5.1-0.1z"/><path class="w10" d="M118.9 191.4l5 0.1 0.5-0.5-5-0.1z"/><path class="w9" d="M123.9 191.5l5.1 0.3 0.5-0.6-5.1-0.2z"/><path class="w8" d="M129 191.8l5.1 0.2 0.4-0.5-5-0.3z"/><path class="w8" d="M134.1 192l5.1 0.3 0.4-0.6-5.1-0.2z"/><path class="w7" d="M139.2 192.3l5.1 0.3 0.4-0.6-5.1-0.3z"/><path class="w7" d="M144.3 192.6l5.1 0.3 0.5-0.6-5.2-0.3z"/><path class="w6" d="M149.4 192.9l5.2 0.3 0.4-0.5-5.1-0.4z"/><path class="w6" d="M154.6 193.2l5.1 0.4 0.5-0.6-5.2-0.3z"/><path class="w6" d="M159.7 193.6l5.2 0.5 0.5-0.6-5.2-0.5z"/><path class="w5" d="M164.9 194.1l5.2 0.5 0.5-0.6-5.2-0.5z"/><path class="w5" d="M170.1 194.6l5.3 0.6 0.4-0.6-5.2-0.6z"/><path class="w5" d="M175.4 195.2l5.2 0.8 0.4-0.6-5.2-0.8z"/><path class="w4" d="M180.6 196l5.3 0.8 0.4-0.6-5.3-0.8z"/><path class="w4" d="M185.9 196.8l5.2 0.9 0.5-0.6-5.3-0.9z"/><path class="w4" d="M191.1 197.7l5.3 0.9 0.4-0.6-5.2-0.9z"/><path class="w4" d="M196.4 198.6l5.3 1 0.4-0.6-5.3-1z"/><path class="w4" d="M201.7 199.6l5.4 1 0.4-0.6-5.4-1z"/><path class="w4" d="M207.1 200.6l5.3 1.1 0.4-0.6-5.3-1.1z"/><path class="w3" d="M212.4 201.7l5.3 1.1 0.4-0.6-5.3-1.1z"/><path class="w3" d="M217.7 202.8l5.4 1.1 0.4-0.6-5.4-1.1z"/><path class="w3" d="M223.1 203.9l5.4 1 0.4-0.6-5.4-1z"/><path class="w3" d="M228.5 204.9l5.4 0.9 0.4-0.6-5.4-0.9z"/><path class="w3" d="M233.9 205.8l5.4 0.7 0.4-0.6-5.4-0.7z"/><path class="w4" d="M239.3 206.5l5.5 0.7 0.3-0.7-5.4-0.6z"/><path class="w15" d="M64.1 191l4.9 0.8 0.5-0.4-4.9-0.7z"/><path class="w15" d="M69 191.8l4.8 0.2 0.5-0.4-4.8-0.2z"/><path class="w15" d="M73.8 192l4.9 0.1 0.5-0.4-4.9-0.1z"/><path class="w14" d="M78.7 192.1l4.9-0.1 0.5-0.4-4.9 0.1z"/><path class="w13" d="M83.6 192l4.9 0 0.5-0.4-4.9 0z"/><path class="w12" d="M88.5 192l5 0 0.4-0.5-4.9 0.1z"/><path class="w12" d="M93.5 192l4.9-0.1 0.5-0.5-5 0.1z"/><path class="w12" d="M98.4 191.9l5-0.1 0.5-0.5-5 0.1z"/><path class="w11" d="M103.4 191.8l5-0.1 0.4-0.4-4.9 0z"/><path class="w11" d="M108.4 191.7l5 0.1 0.5-0.5-5.1 0z"/><path class="w10" d="M113.4 191.8l5 0.1 0.5-0.5-5-0.1z"/><path class="w9" d="M118.4 191.9l5 0.2 0.5-0.6-5-0.1z"/><path class="w8" d="M123.4 192.1l5.1 0.2 0.5-0.5-5.1-0.3z"/><path class="w8" d="M128.5 192.3l5.1 0.2 0.5-0.5-5.1-0.2z"/><path class="w7" d="M133.6 192.5l5.1 0.3 0.5-0.5-5.1-0.3z"/><path class="w7" d="M138.7 192.8l5.1 0.3 0.5-0.5-5.1-0.3z"/><path class="w6" d="M143.8 193.1l5.2 0.4 0.4-0.6-5.1-0.3z"/><path class="w6" d="M149 193.5l5.1 0.3 0.5-0.6-5.2-0.3z"/><path class="w6" d="M154.1 193.8l5.2 0.4 0.4-0.6-5.1-0.4z"/><path class="w5" d="M159.3 194.2l5.2 0.4 0.4-0.5-5.2-0.5z"/><path class="w5" d="M164.5 194.6l5.2 0.6 0.4-0.6-5.2-0.5z"/><path class="w5" d="M169.7 195.2l5.2 0.6 0.5-0.6-5.3-0.6z"/><path class="w5" d="M174.9 195.8l5.3 0.7 0.4-0.5-5.2-0.8z"/><path class="w4" d="M180.2 196.5l5.3 0.9 0.4-0.6-5.3-0.8z"/><path class="w4" d="M185.5 197.4l5.2 0.9 0.4-0.6-5.2-0.9z"/><path class="w4" d="M190.7 198.3l5.3 0.9 0.4-0.6-5.3-0.9z"/><path class="w4" d="M196 199.2l5.3 1 0.4-0.6-5.3-1z"/><path class="w4" d="M201.3 200.2l5.4 1 0.4-0.6-5.4-1z"/><path class="w3" d="M206.7 201.2l5.3 1.1 0.4-0.6-5.3-1.1z"/><path class="w3" d="M212 202.3l5.3 1.1 0.4-0.6-5.3-1.1z"/><path class="w3" d="M217.3 203.4l5.4 1.1 0.4-0.6-5.4-1.1z"/><path class="w3" d="M222.7 204.5l5.4 1.1 0.4-0.7-5.4-1z"/><path class="w3" d="M228.1 205.6l5.4 0.8 0.4-0.6-5.4-0.9z"/><path class="w3" d="M233.5 206.4l5.4 0.8 0.4-0.7-5.4-0.7z"/><path class="w4" d="M238.9 207.2l5.5 0.6 0.4-0.6-5.5-0.7z"/><path class="w14" d="M63.5 191.3l4.9 0.8 0.6-0.3-4.9-0.8z"/><path class="w14" d="M68.4 192.1l4.9 0.3 0.5-0.4-4.8-0.2z"/><path class="w14" d="M73.3 192.4l4.9 0.1 0.5-0.4-4.9-0.1z"/><path class="w13" d="M78.2 192.5l4.9 0 0.5-0.5-4.9 0.1z"/><path class="w12" d="M83.1 192.5l4.9 0 0.5-0.5-4.9 0z"/><path class="w12" d="M88 192.5l5-0.1 0.5-0.4-5 0z"/><path class="w11" d="M93 192.4l4.9 0 0.5-0.5-4.9 0.1z"/><path class="w11" d="M97.9 192.4l5-0.1 0.5-0.5-5 0.1z"/><path class="w11" d="M102.9 192.3l5-0.1 0.5-0.5-5 0.1z"/><path class="w10" d="M107.9 192.2l5 0.1 0.5-0.5-5-0.1z"/><path class="w9" d="M112.9 192.3l5 0.1 0.5-0.5-5-0.1z"/><path class="w9" d="M117.9 192.4l5.1 0.2 0.4-0.5-5-0.2z"/><path class="w8" d="M123 192.6l5 0.2 0.5-0.5-5.1-0.2z"/><path class="w7" d="M128 192.8l5.1 0.3 0.5-0.6-5.1-0.2z"/><path class="w7" d="M133.1 193.1l5.1 0.3 0.5-0.6-5.1-0.3z"/><path class="w6" d="M138.2 193.4l5.2 0.3 0.4-0.6-5.1-0.3z"/><path class="w6" d="M143.4 193.7l5.1 0.3 0.5-0.5-5.2-0.4z"/><path class="w6" d="M148.5 194l5.2 0.4 0.4-0.6-5.1-0.3z"/><path class="w6" d="M153.7 194.4l5.2 0.4 0.4-0.6-5.2-0.4z"/><path class="w5" d="M158.9 194.8l5.2 0.4 0.4-0.6-5.2-0.4z"/><path class="w5" d="M164.1 195.2l5.2 0.6 0.4-0.6-5.2-0.6z"/><path class="w5" d="M169.3 195.8l5.2 0.6 0.4-0.6-5.2-0.6z"/><path class="w5" d="M174.5 196.4l5.3 0.7 0.4-0.6-5.3-0.7z"/><path class="w4" d="M179.8 197.1l5.2 0.9 0.5-0.6-5.3-0.9z"/><path class="w4" d="M185 198l5.3 0.9 0.4-0.6-5.2-0.9z"/><path class="w4" d="M190.3 198.9l5.3 0.9 0.4-0.6-5.3-0.9z"/><path class="w4" d="M195.6 199.8l5.3 1 0.4-0.6-5.3-1z"/><path class="w3" d="M200.9 200.8l5.4 1 0.4-0.6-5.4-1z"/><path class="w3" d="M206.3 201.8l5.3 1.1 0.4-0.6-5.3-1.1z"/><path class="w3" d="M211.6 202.9l5.4 1.2 0.3-0.7-5.3-1.1z"/><path class="w3" d="M217 204.1l5.3 1.1 0.4-0.7-5.4-1.1z"/><path class="w3" d="M222.3 205.2l5.4 1 0.4-0.6-5.4-1.1z"/><path class="w3" d="M227.7 206.2l5.4 0.9 0.4-0.7-5.4-0.8z"/><path class="w3" d="M233.1 207.1l5.5 0.7 0.3-0.6-5.4-0.8z"/><path class="w3" d="M238.6 207.8l5.4 0.6 0.4-0.6-5.5-0.6z"/><path class="w13" d="M63 191.6l4.9 0.9 0.5-0.4-4.9-0.8z"/><path class="w13" d="M67.9 192.5l4.9 0.3 0.5-0.4-4.9-0.3z"/><path class="w13" d="M72.8 192.8l4.9 0.1 0.5-0.4-4.9-0.1z"/><path class="w12" d="M77.7 192.9l4.9 0 0.5-0.4-4.9 0z"/><path class="w12" d="M82.6 192.9l4.9 0 0.5-0.4-4.9 0z"/><path class="w11" d="M87.5 192.9l5 0 0.5-0.5-5 0.1z"/><path class="w11" d="M92.5 192.9l4.9-0.1 0.5-0.4-4.9 0z"/><path class="w11" d="M97.4 192.8l5 0 0.5-0.5-5 0.1z"/><path class="w10" d="M102.4 192.8l5-0.1 0.5-0.5-5 0.1z"/><path class="w10" d="M107.4 192.7l5 0.1 0.5-0.5-5-0.1z"/><path class="w9" d="M112.4 192.8l5 0.1 0.5-0.5-5-0.1z"/><path class="w8" d="M117.4 192.9l5.1 0.2 0.5-0.5-5.1-0.2z"/><path class="w8" d="M122.5 193.1l5.1 0.3 0.4-0.6-5-0.2z"/><path class="w7" d="M127.6 193.4l5.1 0.2 0.4-0.5-5.1-0.3z"/><path class="w7" d="M132.7 193.6l5.1 0.4 0.4-0.6-5.1-0.3z"/><path class="w6" d="M137.8 194l5.1 0.3 0.5-0.6-5.2-0.3z"/><path class="w6" d="M142.9 194.3l5.2 0.3 0.4-0.6-5.1-0.3z"/><path class="w6" d="M148.1 194.6l5.1 0.4 0.5-0.6-5.2-0.4z"/><path class="w5" d="M153.2 195l5.2 0.4 0.5-0.6-5.2-0.4z"/><path class="w5" d="M158.4 195.4l5.2 0.4 0.5-0.6-5.2-0.4z"/><path class="w5" d="M163.6 195.8l5.2 0.5 0.5-0.5-5.2-0.6z"/><path class="w5" d="M168.8 196.3l5.3 0.7 0.4-0.6-5.2-0.6z"/><path class="w5" d="M174.1 197l5.2 0.7 0.5-0.6-5.3-0.7z"/><path class="w4" d="M179.3 197.7l5.3 0.8 0.4-0.5-5.2-0.9z"/><path class="w4" d="M184.6 198.5l5.3 1 0.4-0.6-5.3-0.9z"/><path class="w4" d="M189.9 199.5l5.3 0.9 0.4-0.6-5.3-0.9z"/><path class="w3" d="M195.2 200.4l5.3 1 0.4-0.6-5.3-1z"/><path class="w3" d="M200.5 201.4l5.3 1 0.5-0.6-5.4-1z"/><path class="w3" d="M205.8 202.4l5.4 1.1 0.4-0.6-5.3-1.1z"/><path class="w3" d="M211.2 203.5l5.4 1.2 0.4-0.6-5.4-1.2z"/><path class="w3" d="M216.6 204.7l5.3 1.1 0.4-0.6-5.3-1.1z"/><path class="w3" d="M221.9 205.8l5.4 1 0.4-0.6-5.4-1z"/><path class="w3" d="M227.3 206.8l5.5 0.9 0.3-0.6-5.4-0.9z"/><path class="w3" d="M232.8 207.7l5.4 0.7 0.4-0.6-5.5-0.7z"/><path class="w3" d="M238.2 208.4l5.5 0.6 0.3-0.6-5.4-0.6z"/><path class="w12" d="M62.5 191.9l4.9 1 0.5-0.4-4.9-0.9z"/><path class="w13" d="M67.4 192.9l4.9 0.3 0.5-0.4-4.9-0.3z"/><path class="w12" d="M72.3 193.2l4.9 0.1 0.5-0.4-4.9-0.1z"/><path class="w11" d="M77.2 193.3l4.9 0.1 0.5-0.5-4.9 0z"/><path class="w11" d="M82.1 193.4l4.9 0 0.5-0.5-4.9 0z"/><path class="w11" d="M87 193.4l5 0 0.5-0.5-5 0z"/><path class="w10" d="M92 193.4l4.9-0.1 0.5-0.5-4.9 0.1z"/><path class="w10" d="M96.9 193.3l5 0 0.5-0.5-5 0z"/><path class="w10" d="M101.9 193.3l5-0.1 0.5-0.5-5 0.1z"/><path class="w9" d="M106.9 193.2l5 0.1 0.5-0.5-5-0.1z"/><path class="w8" d="M111.9 193.3l5.1 0.1 0.4-0.5-5-0.1z"/><path class="w8" d="M117 193.4l5 0.2 0.5-0.5-5.1-0.2z"/><path class="w7" d="M122 193.6l5.1 0.3 0.5-0.5-5.1-0.3z"/><path class="w7" d="M127.1 193.9l5.1 0.3 0.5-0.6-5.1-0.2z"/><path class="w6" d="M132.2 194.2l5.1 0.3 0.5-0.5-5.1-0.4z"/><path class="w6" d="M137.3 194.5l5.2 0.4 0.4-0.6-5.1-0.3z"/><path class="w5" d="M142.5 194.9l5.1 0.3 0.5-0.6-5.2-0.3z"/><path class="w5" d="M147.6 195.2l5.2 0.4 0.4-0.6-5.1-0.4z"/><path class="w5" d="M152.8 195.6l5.2 0.4 0.4-0.6-5.2-0.4z"/><path class="w5" d="M158 196l5.2 0.4 0.4-0.6-5.2-0.4z"/><path class="w5" d="M163.2 196.4l5.2 0.5 0.4-0.6-5.2-0.5z"/><path class="w5" d="M168.4 196.9l5.2 0.6 0.5-0.5-5.3-0.7z"/><path class="w5" d="M173.6 197.5l5.3 0.8 0.4-0.6-5.2-0.7z"/><path class="w4" d="M178.9 198.3l5.3 0.8 0.4-0.6-5.3-0.8z"/><path class="w4" d="M184.2 199.1l5.3 0.9 0.4-0.5-5.3-1z"/><path class="w4" d="M189.5 200l5.3 1 0.4-0.6-5.3-0.9z"/><path class="w3" d="M194.8 201l5.3 1 0.4-0.6-5.3-1z"/><path class="w3" d="M200.1 202l5.3 1 0.4-0.6-5.3-1z"/><path class="w3" d="M205.4 203l5.4 1.1 0.4-0.6-5.4-1.1z"/><path class="w3" d="M210.8 204.1l5.4 1.2 0.4-0.6-5.4-1.2z"/><path class="w3" d="M216.2 205.3l5.3 1.1 0.4-0.6-5.3-1.1z"/><path class="w3" d="M221.5 206.4l5.4 1 0.4-0.6-5.4-1z"/><path class="w3" d="M226.9 207.4l5.5 0.9 0.4-0.6-5.5-0.9z"/><path class="w3" d="M232.4 208.3l5.4 0.8 0.4-0.7-5.4-0.7z"/><path class="w2" d="M237.8 209.1l5.5 0.6 0.4-0.7-5.5-0.6z"/><path class="w9" d="M62 192.4l4.9 0.9 0.5-0.4-4.9-1z"/><path class="w11" d="M66.9 193.3l4.9 0.4 0.5-0.5-4.9-0.3z"/><path class="w11" d="M71.8 193.7l4.9 0.1 0.5-0.5-4.9-0.1z"/><path class="w10" d="M76.7 193.8l4.9 0.1 0.5-0.5-4.9-0.1z"/><path class="w10" d="M81.6 193.9l4.9 0 0.5-0.5-4.9 0z"/><path class="w10" d="M86.5 193.9l5 0 0.5-0.5-5 0z"/><path class="w10" d="M91.5 193.9l4.9 0 0.5-0.6-4.9 0.1z"/><path class="w10" d="M96.4 193.9l5-0.1 0.5-0.5-5 0z"/><path class="w9" d="M101.4 193.8l5 0 0.5-0.6-5 0.1z"/><path class="w9" d="M106.4 193.8l5 0 0.5-0.5-5-0.1z"/><path class="w8" d="M111.4 193.8l5.1 0.2 0.5-0.6-5.1-0.1z"/><path class="w7" d="M116.5 194l5 0.2 0.5-0.6-5-0.2z"/><path class="w7" d="M121.5 194.2l5.1 0.3 0.5-0.6-5.1-0.3z"/><path class="w6" d="M126.6 194.5l5.1 0.3 0.5-0.6-5.1-0.3z"/><path class="w6" d="M131.7 194.8l5.2 0.3 0.4-0.6-5.1-0.3z"/><path class="w5" d="M136.9 195.1l5.1 0.3 0.5-0.5-5.2-0.4z"/><path class="w5" d="M142 195.4l5.2 0.4 0.4-0.6-5.1-0.3z"/><path class="w5" d="M147.2 195.8l5.1 0.4 0.5-0.6-5.2-0.4z"/><path class="w5" d="M152.3 196.2l5.2 0.3 0.5-0.5-5.2-0.4z"/><path class="w5" d="M157.5 196.5l5.2 0.5 0.5-0.6-5.2-0.4z"/><path class="w5" d="M162.7 197l5.3 0.5 0.4-0.6-5.2-0.5z"/><path class="w5" d="M168 197.5l5.2 0.6 0.4-0.6-5.2-0.6z"/><path class="w5" d="M173.2 198.1l5.3 0.8 0.4-0.6-5.3-0.8z"/><path class="w4" d="M178.5 198.9l5.3 0.8 0.4-0.6-5.3-0.8z"/><path class="w4" d="M183.8 199.7l5.3 0.9 0.4-0.6-5.3-0.9z"/><path class="w4" d="M189.1 200.6l5.3 1 0.4-0.6-5.3-1z"/><path class="w3" d="M194.4 201.6l5.3 1 0.4-0.6-5.3-1z"/><path class="w3" d="M199.7 202.6l5.3 1 0.4-0.6-5.3-1z"/><path class="w3" d="M205 203.6l5.4 1.1 0.4-0.6-5.4-1.1z"/><path class="w3" d="M210.4 204.7l5.4 1.2 0.4-0.6-5.4-1.2z"/><path class="w3" d="M215.8 205.9l5.4 1.1 0.3-0.6-5.3-1.1z"/><path class="w3" d="M221.2 207l5.4 1 0.3-0.6-5.4-1z"/><path class="w3" d="M226.6 208l5.4 0.9 0.4-0.6-5.5-0.9z"/><path class="w3" d="M232 208.9l5.4 0.8 0.4-0.6-5.4-0.8z"/><path class="w2" d="M237.4 209.7l5.5 0.6 0.4-0.6-5.5-0.6z"/><path class="w8" d="M61.4 192.8l4.9 1 0.6-0.5-4.9-0.9z"/><path class="w10" d="M66.3 193.8l4.9 0.4 0.6-0.5-4.9-0.4z"/><path class="w10" d="M71.2 194.2l4.9 0.1 0.6-0.5-4.9-0.1z"/><path class="w10" d="M76.1 194.3l5 0.1 0.5-0.5-4.9-0.1z"/><path class="w9" d="M81.1 194.4l4.9 0.1 0.5-0.6-4.9 0z"/><path class="w9" d="M86 194.5l4.9-0.1 0.6-0.5-5 0z"/><path class="w9" d="M90.9 194.4l5 0 0.5-0.5-4.9 0z"/><path class="w9" d="M95.9 194.4l5-0.1 0.5-0.5-5 0.1z"/><path class="w9" d="M100.9 194.3l5 0 0.5-0.5-5 0z"/><path class="w8" d="M105.9 194.3l5 0.1 0.5-0.6-5 0z"/><path class="w8" d="M110.9 194.4l5.1 0.1 0.5-0.5-5.1-0.2z"/><path class="w7" d="M116 194.5l5.1 0.3 0.4-0.6-5-0.2z"/><path class="w6" d="M121.1 194.8l5.1 0.2 0.4-0.5-5.1-0.3z"/><path class="w6" d="M126.2 195l5.1 0.4 0.4-0.6-5.1-0.3z"/><path class="w5" d="M131.3 195.4l5.1 0.3 0.5-0.6-5.2-0.3z"/><path class="w5" d="M136.4 195.7l5.1 0.3 0.5-0.6-5.1-0.3z"/><path class="w5" d="M141.5 196l5.2 0.4 0.5-0.6-5.2-0.4z"/><path class="w5" d="M146.7 196.4l5.2 0.4 0.4-0.6-5.1-0.4z"/><path class="w5" d="M151.9 196.8l5.2 0.3 0.4-0.6-5.2-0.3z"/><path class="w5" d="M157.1 197.1l5.2 0.5 0.4-0.6-5.2-0.5z"/><path class="w5" d="M162.3 197.6l5.2 0.5 0.5-0.6-5.3-0.5z"/><path class="w5" d="M167.5 198.1l5.3 0.6 0.4-0.6-5.2-0.6z"/><path class="w5" d="M172.8 198.7l5.2 0.7 0.5-0.5-5.3-0.8z"/><path class="w4" d="M178 199.4l5.3 0.9 0.5-0.6-5.3-0.8z"/><path class="w4" d="M183.3 200.3l5.3 0.9 0.5-0.6-5.3-0.9z"/><path class="w4" d="M188.6 201.2l5.3 1 0.5-0.6-5.3-1z"/><path class="w3" d="M193.9 202.2l5.4 1 0.4-0.6-5.3-1z"/><path class="w3" d="M199.3 203.2l5.3 1.1 0.4-0.7-5.3-1z"/><path class="w3" d="M204.6 204.3l5.4 1 0.4-0.6-5.4-1.1z"/><path class="w3" d="M210 205.3l5.4 1.2 0.4-0.6-5.4-1.2z"/><path class="w4" d="M215.4 206.5l5.4 1.1 0.4-0.6-5.4-1.1z"/><path class="w4" d="M220.8 207.6l5.4 1 0.4-0.6-5.4-1z"/><path class="w4" d="M226.2 208.6l5.4 1 0.4-0.7-5.4-0.9z"/><path class="w3" d="M231.6 209.6l5.5 0.8 0.3-0.7-5.4-0.8z"/><path class="w3" d="M237.1 210.4l5.4 0.6 0.4-0.7-5.5-0.6z"/><path class="w8" d="M60.9 193.2l4.9 1.1 0.5-0.5-4.9-1z"/><path class="w9" d="M65.8 194.3l4.9 0.3 0.5-0.4-4.9-0.4z"/><path class="w9" d="M70.7 194.6l4.9 0.2 0.5-0.5-4.9-0.1z"/><path class="w9" d="M75.6 194.8l4.9 0.1 0.6-0.5-5-0.1z"/><path class="w9" d="M80.5 194.9l5 0.1 0.5-0.5-4.9-0.1z"/><path class="w9" d="M85.5 195l4.9 0 0.5-0.6-4.9 0.1z"/><path class="w9" d="M90.4 195l5-0.1 0.5-0.5-5 0z"/><path class="w9" d="M95.4 194.9l5 0 0.5-0.6-5 0.1z"/><path class="w8" d="M100.4 194.9l5-0.1 0.5-0.5-5 0z"/><path class="w8" d="M105.4 194.8l5.1 0.1 0.4-0.5-5-0.1z"/><path class="w7" d="M110.5 194.9l5 0.2 0.5-0.6-5.1-0.1z"/><path class="w6" d="M115.5 195.1l5.1 0.2 0.5-0.5-5.1-0.3z"/><path class="w6" d="M120.6 195.3l5.1 0.3 0.5-0.6-5.1-0.2z"/><path class="w5" d="M125.7 195.6l5.1 0.4 0.5-0.6-5.1-0.4z"/><path class="w5" d="M130.8 196l5.1 0.3 0.5-0.6-5.1-0.3z"/><path class="w5" d="M135.9 196.3l5.2 0.3 0.4-0.6-5.1-0.3z"/><path class="w5" d="M141.1 196.6l5.1 0.4 0.5-0.6-5.2-0.4z"/><path class="w5" d="M146.2 197l5.2 0.4 0.5-0.6-5.2-0.4z"/><path class="w5" d="M151.4 197.4l5.2 0.3 0.5-0.6-5.2-0.3z"/><path class="w5" d="M156.6 197.7l5.3 0.5 0.4-0.6-5.2-0.5z"/><path class="w5" d="M161.9 198.2l5.2 0.5 0.4-0.6-5.2-0.5z"/><path class="w5" d="M167.1 198.7l5.2 0.6 0.5-0.6-5.3-0.6z"/><path class="w5" d="M172.3 199.3l5.3 0.7 0.4-0.6-5.2-0.7z"/><path class="w4" d="M177.6 200l5.3 0.9 0.4-0.6-5.3-0.9z"/><path class="w4" d="M182.9 200.9l5.3 0.9 0.4-0.6-5.3-0.9z"/><path class="w4" d="M188.2 201.8l5.3 1 0.4-0.6-5.3-1z"/><path class="w4" d="M193.5 202.8l5.4 1 0.4-0.6-5.4-1z"/><path class="w3" d="M198.9 203.8l5.3 1.1 0.4-0.6-5.3-1.1z"/><path class="w3" d="M204.2 204.9l5.4 1.1 0.4-0.7-5.4-1z"/><path class="w3" d="M209.6 206l5.4 1.1 0.4-0.6-5.4-1.2z"/><path class="w4" d="M215 207.1l5.4 1 0.4-0.5-5.4-1.1z"/><path class="w4" d="M220.4 208.1l5.4 1.1 0.4-0.6-5.4-1z"/><path class="w4" d="M225.8 209.2l5.4 1 0.4-0.6-5.4-1z"/><path class="w4" d="M231.2 210.2l5.5 0.8 0.4-0.6-5.5-0.8z"/><path class="w3" d="M236.7 211l5.5 0.6 0.3-0.6-5.4-0.6z"/><path class="w7" d="M60.4 193.7l4.9 1 0.5-0.4-4.9-1.1z"/><path class="w8" d="M65.3 194.7l4.9 0.5 0.5-0.6-4.9-0.3z"/><path class="w8" d="M70.2 195.2l4.9 0.2 0.5-0.6-4.9-0.2z"/><path class="w8" d="M75.1 195.4l4.9 0.1 0.5-0.6-4.9-0.1z"/><path class="w8" d="M80 195.5l5 0 0.5-0.5-5-0.1z"/><path class="w8" d="M85 195.5l4.9 0 0.5-0.5-4.9 0z"/><path class="w8" d="M89.9 195.5l5 0 0.5-0.6-5 0.1z"/><path class="w8" d="M94.9 195.5l5-0.1 0.5-0.5-5 0z"/><path class="w8" d="M99.9 195.4l5 0 0.5-0.6-5 0.1z"/><path class="w7" d="M104.9 195.4l5.1 0.1 0.5-0.6-5.1-0.1z"/><path class="w7" d="M110 195.5l5 0.2 0.5-0.6-5-0.2z"/><path class="w6" d="M115 195.7l5.1 0.2 0.5-0.6-5.1-0.2z"/><path class="w5" d="M120.1 195.9l5.1 0.3 0.5-0.6-5.1-0.3z"/><path class="w5" d="M125.2 196.2l5.1 0.4 0.5-0.6-5.1-0.4z"/><path class="w5" d="M130.3 196.6l5.2 0.3 0.4-0.6-5.1-0.3z"/><path class="w4" d="M135.5 196.9l5.1 0.4 0.5-0.7-5.2-0.3z"/><path class="w4" d="M140.6 197.3l5.2 0.3 0.4-0.6-5.1-0.4z"/><path class="w4" d="M145.8 197.6l5.2 0.4 0.4-0.6-5.2-0.4z"/><path class="w4" d="M151 198l5.2 0.4 0.4-0.7-5.2-0.3z"/><path class="w4" d="M156.2 198.4l5.2 0.4 0.5-0.6-5.3-0.5z"/><path class="w5" d="M161.4 198.8l5.2 0.5 0.5-0.6-5.2-0.5z"/><path class="w5" d="M166.6 199.3l5.3 0.6 0.4-0.6-5.2-0.6z"/><path class="w5" d="M171.9 199.9l5.3 0.7 0.4-0.6-5.3-0.7z"/><path class="w4" d="M177.2 200.6l5.3 0.9 0.4-0.6-5.3-0.9z"/><path class="w4" d="M182.5 201.5l5.3 0.9 0.4-0.6-5.3-0.9z"/><path class="w4" d="M187.8 202.4l5.3 1 0.4-0.6-5.3-1z"/><path class="w4" d="M193.1 203.4l5.4 1 0.4-0.6-5.4-1z"/><path class="w3" d="M198.5 204.4l5.3 1.1 0.4-0.6-5.3-1.1z"/><path class="w3" d="M203.8 205.5l5.4 1 0.4-0.5-5.4-1.1z"/><path class="w4" d="M209.2 206.5l5.4 1.1 0.4-0.5-5.4-1.1z"/><path class="w5" d="M214.6 207.6l5.4 1.1 0.4-0.6-5.4-1z"/><path class="w5" d="M220 208.7l5.4 1.1 0.4-0.6-5.4-1.1z"/><path class="w5" d="M225.4 209.8l5.4 0.9 0.4-0.5-5.4-1z"/><path class="w4" d="M230.8 210.7l5.5 0.9 0.4-0.6-5.5-0.8z"/><path class="w4" d="M236.3 211.6l5.5 0.6 0.4-0.6-5.5-0.6z"/><path class="w7" d="M59.8 194.2l5 1 0.5-0.5-4.9-1z"/><path class="w8" d="M64.8 195.2l4.9 0.5 0.5-0.5-4.9-0.5z"/><path class="w8" d="M69.7 195.7l4.9 0.2 0.5-0.5-4.9-0.2z"/><path class="w8" d="M74.6 195.9l4.9 0.1 0.5-0.5-4.9-0.1z"/><path class="w8" d="M79.5 196l5 0.1 0.5-0.6-5 0z"/><path class="w8" d="M84.5 196.1l4.9 0 0.5-0.6-4.9 0z"/><path class="w8" d="M89.4 196.1l5-0.1 0.5-0.5-5 0z"/><path class="w8" d="M94.4 196l5 0 0.5-0.6-5 0.1z"/><path class="w7" d="M99.4 196l5 0 0.5-0.6-5 0z"/><path class="w7" d="M104.4 196l5.1 0 0.5-0.5-5.1-0.1z"/><path class="w6" d="M109.5 196l5.1 0.2 0.4-0.5-5-0.2z"/><path class="w6" d="M114.6 196.2l5 0.3 0.5-0.6-5.1-0.2z"/><path class="w5" d="M119.6 196.5l5.1 0.3 0.5-0.6-5.1-0.3z"/><path class="w5" d="M124.7 196.8l5.2 0.4 0.4-0.6-5.1-0.4z"/><path class="w4" d="M129.9 197.2l5.1 0.3 0.5-0.6-5.2-0.3z"/><path class="w4" d="M135 197.5l5.2 0.4 0.4-0.6-5.1-0.4z"/><path class="w4" d="M140.2 197.9l5.1 0.3 0.5-0.6-5.2-0.3z"/><path class="w4" d="M145.3 198.2l5.2 0.4 0.5-0.6-5.2-0.4z"/><path class="w4" d="M150.5 198.6l5.2 0.4 0.5-0.6-5.2-0.4z"/><path class="w4" d="M155.7 199l5.3 0.4 0.4-0.6-5.2-0.4z"/><path class="w4" d="M161 199.4l5.2 0.5 0.4-0.6-5.2-0.5z"/><path class="w5" d="M166.2 199.9l5.3 0.6 0.4-0.6-5.3-0.6z"/><path class="w5" d="M171.5 200.5l5.3 0.7 0.4-0.6-5.3-0.7z"/><path class="w4" d="M176.8 201.2l5.3 0.8 0.4-0.5-5.3-0.9z"/><path class="w4" d="M182.1 202l5.3 1 0.4-0.6-5.3-0.9z"/><path class="w4" d="M187.4 203l5.3 1 0.4-0.6-5.3-1z"/><path class="w4" d="M192.7 204l5.3 1 0.5-0.6-5.4-1z"/><path class="w4" d="M198 205l5.4 1.1 0.4-0.6-5.3-1.1z"/><path class="w4" d="M203.4 206.1l5.4 1 0.4-0.6-5.4-1z"/><path class="w5" d="M208.8 207.1l5.4 1.1 0.4-0.6-5.4-1.1z"/><path class="w5" d="M214.2 208.2l5.4 1 0.4-0.5-5.4-1.1z"/><path class="w6" d="M219.6 209.2l5.4 1.1 0.4-0.5-5.4-1.1z"/><path class="w6" d="M225 210.3l5.5 1 0.3-0.6-5.4-0.9z"/><path class="w5" d="M230.5 211.3l5.4 0.9 0.4-0.6-5.5-0.9z"/><path class="w5" d="M235.9 212.2l5.5 0.6 0.4-0.6-5.5-0.6z"/><path class="w6" d="M59.3 194.6l4.9 1.1 0.6-0.5-5-1z"/><path class="w7" d="M64.2 195.7l5 0.5 0.5-0.5-4.9-0.5z"/><path class="w7" d="M69.2 196.2l4.9 0.2 0.5-0.5-4.9-0.2z"/><path class="w7" d="M74.1 196.4l4.9 0.2 0.5-0.6-4.9-0.1z"/><path class="w7" d="M79 196.6l5 0 0.5-0.5-5-0.1z"/><path class="w7" d="M84 196.6l4.9 0.1 0.5-0.6-4.9 0z"/><path class="w7" d="M88.9 196.7l5-0.1 0.5-0.6-5 0.1z"/><path class="w7" d="M93.9 196.6l5 0 0.5-0.6-5 0z"/><path class="w7" d="M98.9 196.6l5.1 0 0.4-0.6-5 0z"/><path class="w6" d="M104 196.6l5 0 0.5-0.6-5.1 0z"/><path class="w6" d="M109 196.6l5.1 0.2 0.5-0.6-5.1-0.2z"/><path class="w5" d="M114.1 196.8l5.1 0.3 0.4-0.6-5-0.3z"/><path class="w5" d="M119.2 197.1l5.1 0.3 0.4-0.6-5.1-0.3z"/><path class="w4" d="M124.3 197.4l5.1 0.4 0.5-0.6-5.2-0.4z"/><path class="w4" d="M129.4 197.8l5.1 0.3 0.5-0.6-5.1-0.3z"/><path class="w4" d="M134.5 198.1l5.2 0.4 0.5-0.6-5.2-0.4z"/><path class="w4" d="M139.7 198.5l5.2 0.4 0.4-0.7-5.1-0.3z"/><path class="w4" d="M144.9 198.9l5.2 0.3 0.4-0.6-5.2-0.4z"/><path class="w4" d="M150.1 199.2l5.2 0.4 0.4-0.6-5.2-0.4z"/><path class="w4" d="M155.3 199.6l5.2 0.4 0.5-0.6-5.3-0.4z"/><path class="w4" d="M160.5 200l5.3 0.5 0.4-0.6-5.2-0.5z"/><path class="w4" d="M165.8 200.5l5.2 0.6 0.5-0.6-5.3-0.6z"/><path class="w5" d="M171 201.1l5.3 0.7 0.5-0.6-5.3-0.7z"/><path class="w4" d="M176.3 201.8l5.3 0.8 0.5-0.6-5.3-0.8z"/><path class="w4" d="M181.6 202.6l5.3 0.9 0.5-0.5-5.3-1z"/><path class="w4" d="M186.9 203.5l5.4 1 0.4-0.5-5.3-1z"/><path class="w4" d="M192.3 204.5l5.3 1.1 0.4-0.6-5.3-1z"/><path class="w4" d="M197.6 205.6l5.4 1 0.4-0.5-5.4-1.1z"/><path class="w4" d="M203 206.6l5.4 1.1 0.4-0.6-5.4-1z"/><path class="w5" d="M208.4 207.7l5.4 1 0.4-0.5-5.4-1.1z"/><path class="w6" d="M213.8 208.7l5.4 1.1 0.4-0.6-5.4-1z"/><path class="w7" d="M219.2 209.8l5.4 1 0.4-0.5-5.4-1.1z"/><path class="w7" d="M224.6 210.8l5.5 1 0.4-0.5-5.5-1z"/><path class="w6" d="M230.1 211.8l5.4 0.9 0.4-0.5-5.4-0.9z"/><path class="w6" d="M235.5 212.7l5.5 0.7 0.4-0.6-5.5-0.6z"/><path class="w6" d="M58.8 195.1l4.9 1.1 0.5-0.5-4.9-1.1z"/><path class="w7" d="M63.7 196.2l4.9 0.6 0.6-0.6-5-0.5z"/><path class="w7" d="M68.6 196.8l5 0.2 0.5-0.6-4.9-0.2z"/><path class="w7" d="M73.6 197l4.9 0.1 0.5-0.5-4.9-0.2z"/><path class="w7" d="M78.5 197.1l5 0.1 0.5-0.6-5 0z"/><path class="w7" d="M83.5 197.2l4.9 0 0.5-0.5-4.9-0.1z"/><path class="w7" d="M88.4 197.2l5 0 0.5-0.6-5 0.1z"/><path class="w7" d="M93.4 197.2l5 0 0.5-0.6-5 0z"/><path class="w6" d="M98.4 197.2l5.1-0.1 0.5-0.5-5.1 0z"/><path class="w6" d="M103.5 197.1l5 0.1 0.5-0.6-5 0z"/><path class="w5" d="M108.5 197.2l5.1 0.2 0.5-0.6-5.1-0.2z"/><path class="w5" d="M113.6 197.4l5.1 0.3 0.5-0.6-5.1-0.3z"/><path class="w4" d="M118.7 197.7l5.1 0.3 0.5-0.6-5.1-0.3z"/><path class="w4" d="M123.8 198l5.1 0.4 0.5-0.6-5.1-0.4z"/><path class="w4" d="M128.9 198.4l5.2 0.4 0.4-0.7-5.1-0.3z"/><path class="w4" d="M134.1 198.8l5.1 0.3 0.5-0.6-5.2-0.4z"/><path class="w3" d="M139.2 199.1l5.2 0.4 0.5-0.6-5.2-0.4z"/><path class="w4" d="M144.4 199.5l5.2 0.3 0.5-0.6-5.2-0.3z"/><path class="w4" d="M149.6 199.8l5.2 0.4 0.5-0.6-5.2-0.4z"/><path class="w4" d="M154.8 200.2l5.3 0.4 0.4-0.6-5.2-0.4z"/><path class="w4" d="M160.1 200.6l5.2 0.5 0.5-0.6-5.3-0.5z"/><path class="w4" d="M165.3 201.1l5.3 0.5 0.4-0.5-5.2-0.6z"/><path class="w5" d="M170.6 201.6l5.3 0.8 0.4-0.6-5.3-0.7z"/><path class="w5" d="M175.9 202.4l5.3 0.8 0.4-0.6-5.3-0.8z"/><path class="w5" d="M181.2 203.2l5.3 0.9 0.4-0.6-5.3-0.9z"/><path class="w5" d="M186.5 204.1l5.4 1 0.4-0.6-5.4-1z"/><path class="w5" d="M191.9 205.1l5.3 1 0.4-0.5-5.3-1.1z"/><path class="w5" d="M197.2 206.1l5.4 1.1 0.4-0.6-5.4-1z"/><path class="w5" d="M202.6 207.2l5.4 1 0.4-0.5-5.4-1.1z"/><path class="w6" d="M208 208.2l5.4 1 0.4-0.5-5.4-1z"/><path class="w7" d="M213.4 209.2l5.4 1.1 0.4-0.5-5.4-1.1z"/><path class="w8" d="M218.8 210.3l5.4 1 0.4-0.5-5.4-1z"/><path class="w8" d="M224.2 211.3l5.5 1 0.4-0.5-5.5-1z"/><path class="w7" d="M229.7 212.3l5.5 1 0.3-0.6-5.4-0.9z"/><path class="w7" d="M235.2 213.3l5.5 0.6 0.3-0.5-5.5-0.7z"/><path class="w6" d="M58.2 195.6l5 1.2 0.5-0.6-4.9-1.1z"/><path class="w7" d="M63.2 196.8l4.9 0.5 0.5-0.5-4.9-0.6z"/><path class="w7" d="M68.1 197.3l4.9 0.3 0.6-0.6-5-0.2z"/><path class="w7" d="M73 197.6l5 0.1 0.5-0.6-4.9-0.1z"/><path class="w6" d="M78 197.7l4.9 0.1 0.6-0.6-5-0.1z"/><path class="w6" d="M82.9 197.8l5 0 0.5-0.6-4.9 0z"/><path class="w6" d="M87.9 197.8l5 0 0.5-0.6-5 0z"/><path class="w6" d="M92.9 197.8l5 0 0.5-0.6-5 0z"/><path class="w6" d="M97.9 197.8l5.1 0 0.5-0.7-5.1 0.1z"/><path class="w5" d="M103 197.8l5 0 0.5-0.6-5-0.1z"/><path class="w5" d="M108 197.8l5.1 0.2 0.5-0.6-5.1-0.2z"/><path class="w4" d="M113.1 198l5.1 0.3 0.5-0.6-5.1-0.3z"/><path class="w4" d="M118.2 198.3l5.1 0.4 0.5-0.7-5.1-0.3z"/><path class="w4" d="M123.3 198.7l5.1 0.3 0.5-0.6-5.1-0.4z"/><path class="w3" d="M128.4 199l5.2 0.4 0.5-0.6-5.2-0.4z"/><path class="w3" d="M133.6 199.4l5.2 0.4 0.4-0.7-5.1-0.3z"/><path class="w3" d="M138.8 199.8l5.1 0.3 0.5-0.6-5.2-0.4z"/><path class="w3" d="M143.9 200.1l5.3 0.4 0.4-0.7-5.2-0.3z"/><path class="w4" d="M149.2 200.5l5.2 0.3 0.4-0.6-5.2-0.4z"/><path class="w4" d="M154.4 200.8l5.2 0.4 0.5-0.6-5.3-0.4z"/><path class="w4" d="M159.6 201.2l5.3 0.5 0.4-0.6-5.2-0.5z"/><path class="w4" d="M164.9 201.7l5.3 0.5 0.4-0.6-5.3-0.5z"/><path class="w4" d="M170.2 202.2l5.3 0.7 0.4-0.5-5.3-0.8z"/><path class="w5" d="M175.5 202.9l5.3 0.9 0.4-0.6-5.3-0.8z"/><path class="w5" d="M180.8 203.8l5.3 0.9 0.4-0.6-5.3-0.9z"/><path class="w5" d="M186.1 204.7l5.3 0.9 0.5-0.5-5.4-1z"/><path class="w5" d="M191.4 205.6l5.4 1.1 0.4-0.6-5.3-1z"/><path class="w5" d="M196.8 206.7l5.4 1 0.4-0.5-5.4-1.1z"/><path class="w6" d="M202.2 207.7l5.4 1.1 0.4-0.6-5.4-1z"/><path class="w7" d="M207.6 208.8l5.4 0.9 0.4-0.5-5.4-1z"/><path class="w8" d="M213 209.7l5.4 1 0.4-0.4-5.4-1.1z"/><path class="w9" d="M218.4 210.7l5.4 1.1 0.4-0.5-5.4-1z"/><path class="w9" d="M223.8 211.8l5.5 1 0.4-0.5-5.5-1z"/><path class="w9" d="M229.3 212.8l5.5 0.9 0.4-0.4-5.5-1z"/><path class="w9" d="M234.8 213.7l5.5 0.7 0.4-0.5-5.5-0.6z"/><path class="w5" d="M57.7 196.1l5 1.2 0.5-0.5-5-1.2z"/><path class="w6" d="M62.7 197.3l4.9 0.5 0.5-0.5-4.9-0.5z"/><path class="w7" d="M67.6 197.8l4.9 0.3 0.5-0.5-4.9-0.3z"/><path class="w6" d="M72.5 198.1l5 0.2 0.5-0.6-5-0.1z"/><path class="w6" d="M77.5 198.3l4.9 0.1 0.5-0.6-4.9-0.1z"/><path class="w6" d="M82.4 198.4l5 0 0.5-0.6-5 0z"/><path class="w6" d="M87.4 198.4l5 0 0.5-0.6-5 0z"/><path class="w6" d="M92.4 198.4l5 0 0.5-0.6-5 0z"/><path class="w6" d="M97.4 198.4l5.1 0 0.5-0.6-5.1 0z"/><path class="w5" d="M102.5 198.4l5 0.1 0.5-0.7-5 0z"/><path class="w4" d="M107.5 198.5l5.1 0.2 0.5-0.7-5.1-0.2z"/><path class="w4" d="M112.6 198.7l5.1 0.3 0.5-0.7-5.1-0.3z"/><path class="w4" d="M117.7 199l5.1 0.3 0.5-0.6-5.1-0.4z"/><path class="w3" d="M122.8 199.3l5.2 0.4 0.4-0.7-5.1-0.3z"/><path class="w3" d="M128 199.7l5.1 0.3 0.5-0.6-5.2-0.4z"/><path class="w3" d="M133.1 200l5.2 0.4 0.5-0.6-5.2-0.4z"/><path class="w3" d="M138.3 200.4l5.2 0.4 0.4-0.7-5.1-0.3z"/><path class="w3" d="M143.5 200.8l5.2 0.3 0.5-0.6-5.3-0.4z"/><path class="w3" d="M148.7 201.1l5.2 0.4 0.5-0.7-5.2-0.3z"/><path class="w4" d="M153.9 201.5l5.3 0.3 0.4-0.6-5.2-0.4z"/><path class="w4" d="M159.2 201.8l5.2 0.5 0.5-0.6-5.3-0.5z"/><path class="w4" d="M164.4 202.3l5.3 0.5 0.5-0.6-5.3-0.5z"/><path class="w4" d="M169.7 202.8l5.3 0.7 0.5-0.6-5.3-0.7z"/><path class="w5" d="M175 203.5l5.3 0.8 0.5-0.5-5.3-0.9z"/><path class="w5" d="M180.3 204.3l5.4 0.9 0.4-0.5-5.3-0.9z"/><path class="w5" d="M185.7 205.2l5.3 1 0.4-0.6-5.3-0.9z"/><path class="w6" d="M191 206.2l5.4 1 0.4-0.5-5.4-1.1z"/><path class="w6" d="M196.4 207.2l5.4 1.1 0.4-0.6-5.4-1z"/><path class="w7" d="M201.8 208.3l5.4 1 0.4-0.5-5.4-1.1z"/><path class="w8" d="M207.2 209.3l5.4 0.9 0.4-0.5-5.4-0.9z"/><path class="w9" d="M212.6 210.2l5.4 1 0.4-0.5-5.4-1z"/><path class="w10" d="M218 211.2l5.5 1 0.3-0.4-5.4-1.1z"/><path class="w10" d="M223.5 212.2l5.4 1 0.4-0.4-5.5-1z"/><path class="w10" d="M228.9 213.2l5.5 1 0.4-0.5-5.5-0.9z"/><path class="w11" d="M234.4 214.2l5.5 0.6 0.4-0.4-5.5-0.7z"/><path class="w3" d="M57.2 196.7l4.9 1.2 0.6-0.6-5-1.2z"/><path class="w5" d="M62.1 197.9l5 0.5 0.5-0.6-4.9-0.5z"/><path class="w6" d="M67.1 198.4l4.9 0.3 0.5-0.6-4.9-0.3z"/><path class="w6" d="M72 198.7l5 0.2 0.5-0.6-5-0.2z"/><path class="w6" d="M77 198.9l4.9 0.1 0.5-0.6-4.9-0.1z"/><path class="w6" d="M81.9 199l5 0 0.5-0.6-5 0z"/><path class="w6" d="M86.9 199l5 0 0.5-0.6-5 0z"/><path class="w6" d="M91.9 199l5 0 0.5-0.6-5 0z"/><path class="w5" d="M96.9 199l5.1 0 0.5-0.6-5.1 0z"/><path class="w5" d="M102 199l5 0.1 0.5-0.6-5-0.1z"/><path class="w4" d="M107 199.1l5.1 0.2 0.5-0.6-5.1-0.2z"/><path class="w4" d="M112.1 199.3l5.1 0.3 0.5-0.6-5.1-0.3z"/><path class="w3" d="M117.2 199.6l5.2 0.3 0.4-0.6-5.1-0.3z"/><path class="w3" d="M122.4 199.9l5.1 0.4 0.5-0.6-5.2-0.4z"/><path class="w3" d="M127.5 200.3l5.1 0.4 0.5-0.7-5.1-0.3z"/><path class="w3" d="M132.6 200.7l5.2 0.4 0.5-0.7-5.2-0.4z"/><path class="w3" d="M137.8 201.1l5.2 0.3 0.5-0.6-5.2-0.4z"/><path class="w3" d="M143 201.4l5.2 0.4 0.5-0.7-5.2-0.3z"/><path class="w3" d="M148.2 201.8l5.3 0.3 0.4-0.6-5.2-0.4z"/><path class="w4" d="M153.5 202.1l5.2 0.4 0.5-0.7-5.3-0.3z"/><path class="w4" d="M158.7 202.5l5.3 0.4 0.4-0.6-5.2-0.5z"/><path class="w4" d="M164 202.9l5.3 0.5 0.4-0.6-5.3-0.5z"/><path class="w4" d="M169.3 203.4l5.3 0.7 0.4-0.6-5.3-0.7z"/><path class="w5" d="M174.6 204.1l5.3 0.8 0.4-0.6-5.3-0.8z"/><path class="w5" d="M179.9 204.9l5.3 0.9 0.5-0.6-5.4-0.9z"/><path class="w6" d="M185.2 205.8l5.4 0.9 0.4-0.5-5.3-1z"/><path class="w6" d="M190.6 206.7l5.4 1 0.4-0.5-5.4-1z"/><path class="w7" d="M196 207.7l5.3 1 0.5-0.4-5.4-1.1z"/><path class="w8" d="M201.3 208.7l5.5 1 0.4-0.4-5.4-1z"/><path class="w9" d="M206.8 209.7l5.4 1 0.4-0.5-5.4-0.9z"/><path class="w10" d="M212.2 210.7l5.4 0.9 0.4-0.4-5.4-1z"/><path class="w11" d="M217.6 211.6l5.5 1 0.4-0.4-5.5-1z"/><path class="w11" d="M223.1 212.6l5.4 1 0.4-0.4-5.4-1z"/><path class="w12" d="M228.5 213.6l5.5 1 0.4-0.4-5.5-1z"/><path class="w13" d="M234 214.6l5.5 0.6 0.4-0.4-5.5-0.6z"/><path class="w2" d="M56.7 197.3l4.9 1.1 0.5-0.5-4.9-1.2z"/><path class="w4" d="M61.6 198.4l4.9 0.6 0.6-0.6-5-0.5z"/><path class="w5" d="M66.5 199l5 0.3 0.5-0.6-4.9-0.3z"/><path class="w5" d="M71.5 199.3l4.9 0.2 0.6-0.6-5-0.2z"/><path class="w5" d="M76.4 199.5l5 0.1 0.5-0.6-4.9-0.1z"/><path class="w6" d="M81.4 199.6l5 0 0.5-0.6-5 0z"/><path class="w5" d="M86.4 199.6l5 0 0.5-0.6-5 0z"/><path class="w5" d="M91.4 199.6l5 0 0.5-0.6-5 0z"/><path class="w5" d="M96.4 199.6l5.1 0 0.5-0.6-5.1 0z"/><path class="w4" d="M101.5 199.6l5 0.1 0.5-0.6-5-0.1z"/><path class="w4" d="M106.5 199.7l5.1 0.2 0.5-0.6-5.1-0.2z"/><path class="w3" d="M111.6 199.9l5.1 0.3 0.5-0.6-5.1-0.3z"/><path class="w3" d="M116.7 200.2l5.2 0.4 0.5-0.7-5.2-0.3z"/><path class="w3" d="M121.9 200.6l5.1 0.4 0.5-0.7-5.1-0.4z"/><path class="w2" d="M127 201l5.2 0.4 0.4-0.7-5.1-0.4z"/><path class="w2" d="M132.2 201.4l5.2 0.3 0.4-0.6-5.2-0.4z"/><path class="w2" d="M137.4 201.7l5.2 0.4 0.4-0.7-5.2-0.3z"/><path class="w3" d="M142.6 202.1l5.2 0.3 0.4-0.6-5.2-0.4z"/><path class="w3" d="M147.8 202.4l5.2 0.4 0.5-0.7-5.3-0.3z"/><path class="w3" d="M153 202.8l5.3 0.3 0.4-0.6-5.2-0.4z"/><path class="w4" d="M158.3 203.1l5.2 0.4 0.5-0.6-5.3-0.4z"/><path class="w4" d="M163.5 203.5l5.3 0.5 0.5-0.6-5.3-0.5z"/><path class="w5" d="M168.8 204l5.3 0.7 0.5-0.6-5.3-0.7z"/><path class="w5" d="M174.1 204.7l5.4 0.7 0.4-0.5-5.3-0.8z"/><path class="w5" d="M179.5 205.4l5.3 0.9 0.4-0.5-5.3-0.9z"/><path class="w6" d="M184.8 206.3l5.4 1 0.4-0.6-5.4-0.9z"/><path class="w7" d="M190.2 207.3l5.3 0.9 0.5-0.5-5.4-1z"/><path class="w8" d="M195.5 208.2l5.4 1 0.4-0.5-5.3-1z"/><path class="w9" d="M200.9 209.2l5.4 1 0.5-0.5-5.5-1z"/><path class="w10" d="M206.3 210.2l5.5 0.9 0.4-0.4-5.4-1z"/><path class="w11" d="M211.8 211.1l5.4 0.9 0.4-0.4-5.4-0.9z"/><path class="w12" d="M217.2 212l5.5 1 0.4-0.4-5.5-1z"/><path class="w13" d="M222.7 213l5.5 1 0.3-0.4-5.4-1z"/><path class="w14" d="M228.2 214l5.4 0.9 0.4-0.3-5.5-1z"/><path class="w15" d="M233.6 214.9l5.6 0.6 0.3-0.3-5.5-0.6z"/><path class="w1" d="M56.1 197.9l5 1.1 0.5-0.6-4.9-1.1z"/><path class="w4" d="M61.1 199l4.9 0.6 0.5-0.6-4.9-0.6z"/><path class="w5" d="M66 199.6l5 0.3 0.5-0.6-5-0.3z"/><path class="w5" d="M71 199.9l4.9 0.2 0.5-0.6-4.9-0.2z"/><path class="w5" d="M75.9 200.1l5 0.1 0.5-0.6-5-0.1z"/><path class="w5" d="M80.9 200.2l5 0.1 0.5-0.7-5 0z"/><path class="w5" d="M85.9 200.3l5 0 0.5-0.7-5 0z"/><path class="w5" d="M90.9 200.3l5-0.1 0.5-0.6-5 0z"/><path class="w5" d="M95.9 200.2l5.1 0.1 0.5-0.7-5.1 0z"/><path class="w4" d="M101 200.3l5.1 0.1 0.4-0.7-5-0.1z"/><path class="w3" d="M106.1 200.4l5 0.2 0.5-0.7-5.1-0.2z"/><path class="w3" d="M111.1 200.6l5.2 0.3 0.4-0.7-5.1-0.3z"/><path class="w3" d="M116.3 200.9l5.1 0.3 0.5-0.6-5.2-0.4z"/><path class="w2" d="M121.4 201.2l5.1 0.4 0.5-0.6-5.1-0.4z"/><path class="w2" d="M126.5 201.6l5.2 0.4 0.5-0.6-5.2-0.4z"/><path class="w2" d="M131.7 202l5.2 0.4 0.5-0.7-5.2-0.3z"/><path class="w2" d="M136.9 202.4l5.2 0.4 0.5-0.7-5.2-0.4z"/><path class="w2" d="M142.1 202.8l5.2 0.3 0.5-0.7-5.2-0.3z"/><path class="w3" d="M147.3 203.1l5.3 0.3 0.4-0.6-5.2-0.4z"/><path class="w3" d="M152.6 203.4l5.2 0.3 0.5-0.6-5.3-0.3z"/><path class="w4" d="M157.8 203.7l5.3 0.4 0.4-0.6-5.2-0.4z"/><path class="w4" d="M163.1 204.1l5.3 0.5 0.4-0.6-5.3-0.5z"/><path class="w5" d="M168.4 204.6l5.3 0.6 0.4-0.5-5.3-0.7z"/><path class="w5" d="M173.7 205.2l5.3 0.8 0.5-0.6-5.4-0.7z"/><path class="w6" d="M179 206l5.4 0.9 0.4-0.6-5.3-0.9z"/><path class="w6" d="M184.4 206.9l5.3 0.9 0.5-0.5-5.4-1z"/><path class="w7" d="M189.7 207.8l5.4 0.9 0.4-0.5-5.3-0.9z"/><path class="w9" d="M195.1 208.7l5.4 1 0.4-0.5-5.4-1z"/><path class="w10" d="M200.5 209.7l5.4 0.9 0.4-0.4-5.4-1z"/><path class="w11" d="M205.9 210.6l5.5 0.9 0.4-0.4-5.5-0.9z"/><path class="w13" d="M211.4 211.5l5.4 0.9 0.4-0.4-5.4-0.9z"/><path class="w14" d="M216.8 212.4l5.5 0.9 0.4-0.3-5.5-1z"/><path class="w14" d="M222.3 213.3l5.5 1 0.4-0.3-5.5-1z"/><path class="w15" d="M227.8 214.3l5.5 0.9 0.3-0.3-5.4-0.9z"/><path class="w17" d="M233.3 215.2l5.5 0.6 0.4-0.3-5.6-0.6z"/><path class="w1" d="M55.6 198.5l4.9 1.1 0.6-0.6-5-1.1z"/><path class="w4" d="M60.5 199.6l5 0.6 0.5-0.6-4.9-0.6z"/><path class="w5" d="M65.5 200.2l4.9 0.3 0.6-0.6-5-0.3z"/><path class="w5" d="M70.4 200.5l5 0.2 0.5-0.6-4.9-0.2z"/><path class="w5" d="M75.4 200.7l5 0.1 0.5-0.6-5-0.1z"/><path class="w5" d="M80.4 200.8l5 0.1 0.5-0.6-5-0.1z"/><path class="w5" d="M85.4 200.9l5 0 0.5-0.6-5 0z"/><path class="w5" d="M90.4 200.9l5 0 0.5-0.7-5 0.1z"/><path class="w4" d="M95.4 200.9l5.1 0 0.5-0.6-5.1-0.1z"/><path class="w4" d="M100.5 200.9l5.1 0.1 0.5-0.6-5.1-0.1z"/><path class="w3" d="M105.6 201l5.1 0.2 0.4-0.6-5-0.2z"/><path class="w3" d="M110.7 201.2l5.1 0.3 0.5-0.6-5.2-0.3z"/><path class="w2" d="M115.8 201.5l5.1 0.4 0.5-0.7-5.1-0.3z"/><path class="w2" d="M120.9 201.9l5.2 0.4 0.4-0.7-5.1-0.4z"/><path class="w2" d="M126.1 202.3l5.1 0.4 0.5-0.7-5.2-0.4z"/><path class="w2" d="M131.2 202.7l5.2 0.4 0.5-0.7-5.2-0.4z"/><path class="w2" d="M136.4 203.1l5.2 0.3 0.5-0.6-5.2-0.4z"/><path class="w2" d="M141.6 203.4l5.3 0.4 0.4-0.7-5.2-0.3z"/><path class="w3" d="M146.9 203.8l5.2 0.3 0.5-0.7-5.3-0.3z"/><path class="w3" d="M152.1 204.1l5.3 0.3 0.4-0.7-5.2-0.3z"/><path class="w4" d="M157.4 204.4l5.2 0.3 0.5-0.6-5.3-0.4z"/><path class="w4" d="M162.6 204.7l5.3 0.5 0.5-0.6-5.3-0.5z"/><path class="w5" d="M167.9 205.2l5.4 0.6 0.4-0.6-5.3-0.6z"/><path class="w5" d="M173.3 205.8l5.3 0.8 0.4-0.6-5.3-0.8z"/><path class="w6" d="M178.6 206.6l5.4 0.8 0.4-0.5-5.4-0.9z"/><path class="w7" d="M184 207.4l5.3 0.9 0.4-0.5-5.3-0.9z"/><path class="w8" d="M189.3 208.3l5.4 0.9 0.4-0.5-5.4-0.9z"/><path class="w9" d="M194.7 209.2l5.4 0.9 0.4-0.4-5.4-1z"/><path class="w11" d="M200.1 210.1l5.4 0.9 0.4-0.4-5.4-0.9z"/><path class="w13" d="M205.5 211l5.5 0.8 0.4-0.3-5.5-0.9z"/><path class="w14" d="M211 211.8l5.4 0.9 0.4-0.3-5.4-0.9z"/><path class="w15" d="M216.4 212.7l5.5 0.9 0.4-0.3-5.5-0.9z"/><path class="w16" d="M221.9 213.6l5.5 1 0.4-0.3-5.5-1z"/><path class="w17" d="M227.4 214.6l5.5 0.9 0.4-0.3-5.5-0.9z"/><path class="w17" d="M232.9 215.5l5.5 0.5 0.4-0.2-5.5-0.6z"/><path class="w2" d="M55.1 199.1l4.9 1.1 0.5-0.6-4.9-1.1z"/><path class="w4" d="M60 200.2l5 0.6 0.5-0.6-5-0.6z"/><path class="w5" d="M65 200.8l4.9 0.3 0.5-0.6-4.9-0.3z"/><path class="w5" d="M69.9 201.1l5 0.2 0.5-0.6-5-0.2z"/><path class="w5" d="M74.9 201.3l5 0.1 0.5-0.6-5-0.1z"/><path class="w5" d="M79.9 201.4l5 0.1 0.5-0.6-5-0.1z"/><path class="w5" d="M84.9 201.5l5 0 0.5-0.6-5 0z"/><path class="w5" d="M89.9 201.5l5 0 0.5-0.6-5 0z"/><path class="w4" d="M94.9 201.5l5.1 0 0.5-0.6-5.1 0z"/><path class="w4" d="M100 201.5l5.1 0.2 0.5-0.7-5.1-0.1z"/><path class="w3" d="M105.1 201.7l5.1 0.2 0.5-0.7-5.1-0.2z"/><path class="w2" d="M110.2 201.9l5.1 0.3 0.5-0.7-5.1-0.3z"/><path class="w2" d="M115.3 202.2l5.1 0.4 0.5-0.7-5.1-0.4z"/><path class="w2" d="M120.4 202.6l5.2 0.4 0.5-0.7-5.2-0.4z"/><path class="w2" d="M125.6 203l5.2 0.4 0.4-0.7-5.1-0.4z"/><path class="w2" d="M130.8 203.4l5.2 0.3 0.4-0.6-5.2-0.4z"/><path class="w2" d="M136 203.7l5.2 0.4 0.4-0.7-5.2-0.3z"/><path class="w2" d="M141.2 204.1l5.2 0.3 0.5-0.6-5.3-0.4z"/><path class="w2" d="M146.4 204.4l5.2 0.3 0.5-0.6-5.2-0.3z"/><path class="w3" d="M151.6 204.7l5.3 0.3 0.5-0.6-5.3-0.3z"/><path class="w4" d="M156.9 205l5.3 0.4 0.4-0.7-5.2-0.3z"/><path class="w4" d="M162.2 205.4l5.3 0.4 0.4-0.6-5.3-0.5z"/><path class="w5" d="M167.5 205.8l5.3 0.6 0.5-0.6-5.4-0.6z"/><path class="w5" d="M172.8 206.4l5.4 0.7 0.4-0.5-5.3-0.8z"/><path class="w6" d="M178.2 207.1l5.3 0.8 0.5-0.5-5.4-0.8z"/><path class="w7" d="M183.5 207.9l5.4 0.9 0.4-0.5-5.3-0.9z"/><path class="w9" d="M188.9 208.8l5.4 0.8 0.4-0.4-5.4-0.9z"/><path class="w10" d="M194.3 209.6l5.4 0.9 0.4-0.4-5.4-0.9z"/><path class="w12" d="M199.7 210.5l5.4 0.8 0.4-0.3-5.4-0.9z"/><path class="w14" d="M205.1 211.3l5.5 0.8 0.4-0.3-5.5-0.8z"/><path class="w15" d="M210.6 212.1l5.4 0.9 0.4-0.3-5.4-0.9z"/><path class="w17" d="M216 213l5.5 0.9 0.4-0.3-5.5-0.9z"/><path class="w17" d="M221.5 213.9l5.5 0.9 0.4-0.2-5.5-1z"/><path class="w17" d="M227 214.8l5.5 0.9 0.4-0.2-5.5-0.9z"/><path class="w17" d="M232.5 215.7l5.6 0.5 0.3-0.2-5.5-0.5z"/><path class="w2" d="M54.5 199.7l5 1.1 0.5-0.6-4.9-1.1z"/><path class="w4" d="M59.5 200.8l4.9 0.6 0.6-0.6-5-0.6z"/><path class="w5" d="M64.4 201.4l5 0.3 0.5-0.6-4.9-0.3z"/><path class="w5" d="M69.4 201.7l5 0.2 0.5-0.6-5-0.2z"/><path class="w5" d="M74.4 201.9l5 0.2 0.5-0.7-5-0.1z"/><path class="w5" d="M79.4 202.1l5 0 0.5-0.6-5-0.1z"/><path class="w5" d="M84.4 202.1l5 0 0.5-0.6-5 0z"/><path class="w5" d="M89.4 202.1l5 0.1 0.5-0.7-5 0z"/><path class="w4" d="M94.4 202.2l5.1 0 0.5-0.7-5.1 0z"/><path class="w3" d="M99.5 202.2l5.1 0.1 0.5-0.6-5.1-0.2z"/><path class="w3" d="M104.6 202.3l5.1 0.2 0.5-0.6-5.1-0.2z"/><path class="w2" d="M109.7 202.5l5.1 0.4 0.5-0.7-5.1-0.3z"/><path class="w2" d="M114.8 202.9l5.1 0.3 0.5-0.6-5.1-0.4z"/><path class="w2" d="M119.9 203.2l5.2 0.4 0.5-0.6-5.2-0.4z"/><path class="w1" d="M125.1 203.6l5.2 0.4 0.5-0.6-5.2-0.4z"/><path class="w1" d="M130.3 204l5.2 0.4 0.5-0.7-5.2-0.3z"/><path class="w1" d="M135.5 204.4l5.2 0.4 0.5-0.7-5.2-0.4z"/><path class="w2" d="M140.7 204.8l5.2 0.3 0.5-0.7-5.2-0.3z"/><path class="w2" d="M145.9 205.1l5.3 0.3 0.4-0.7-5.2-0.3z"/><path class="w3" d="M151.2 205.4l5.3 0.3 0.4-0.7-5.3-0.3z"/><path class="w4" d="M156.5 205.7l5.2 0.3 0.5-0.6-5.3-0.4z"/><path class="w4" d="M161.7 206l5.4 0.4 0.4-0.6-5.3-0.4z"/><path class="w5" d="M167.1 206.4l5.3 0.6 0.4-0.6-5.3-0.6z"/><path class="w6" d="M172.4 207l5.3 0.7 0.5-0.6-5.4-0.7z"/><path class="w6" d="M177.7 207.7l5.4 0.7 0.4-0.5-5.3-0.8z"/><path class="w8" d="M183.1 208.4l5.4 0.8 0.4-0.4-5.4-0.9z"/><path class="w9" d="M188.5 209.2l5.4 0.9 0.4-0.5-5.4-0.8z"/><path class="w11" d="M193.9 210.1l5.4 0.8 0.4-0.4-5.4-0.9z"/><path class="w13" d="M199.3 210.9l5.4 0.8 0.4-0.4-5.4-0.8z"/><path class="w15" d="M204.7 211.7l5.5 0.7 0.4-0.3-5.5-0.8z"/><path class="w17" d="M210.2 212.4l5.4 0.8 0.4-0.2-5.4-0.9z"/><path class="w17" d="M215.6 213.2l5.5 0.9 0.4-0.2-5.5-0.9z"/><path class="w17" d="M221.1 214.1l5.5 0.9 0.4-0.2-5.5-0.9z"/><path class="w17" d="M226.6 215l5.5 0.9 0.4-0.2-5.5-0.9z"/><path class="w17" d="M232.1 215.9l5.6 0.5 0.4-0.2-5.6-0.5z"/><path class="w2" d="M54 200.4l5 1 0.5-0.6-5-1.1z"/><path class="w4" d="M59 201.4l4.9 0.6 0.5-0.6-4.9-0.6z"/><path class="w5" d="M63.9 202l5 0.3 0.5-0.6-5-0.3z"/><path class="w5" d="M68.9 202.3l5 0.2 0.5-0.6-5-0.2z"/><path class="w5" d="M73.9 202.5l4.9 0.2 0.6-0.6-5-0.2z"/><path class="w5" d="M78.8 202.7l5.1 0 0.5-0.6-5 0z"/><path class="w5" d="M83.9 202.7l5 0.1 0.5-0.7-5 0z"/><path class="w4" d="M88.9 202.8l5 0 0.5-0.6-5-0.1z"/><path class="w4" d="M93.9 202.8l5.1 0.1 0.5-0.7-5.1 0z"/><path class="w3" d="M99 202.9l5.1 0.1 0.5-0.7-5.1-0.1z"/><path class="w3" d="M104.1 203l5.1 0.2 0.5-0.7-5.1-0.2z"/><path class="w2" d="M109.2 203.2l5.1 0.3 0.5-0.6-5.1-0.4z"/><path class="w2" d="M114.3 203.5l5.2 0.4 0.4-0.7-5.1-0.3z"/><path class="w1" d="M119.5 203.9l5.1 0.4 0.5-0.7-5.2-0.4z"/><path class="w1" d="M124.6 204.3l5.2 0.4 0.5-0.7-5.2-0.4z"/><path class="w1" d="M129.8 204.7l5.2 0.4 0.5-0.7-5.2-0.4z"/><path class="w1" d="M135 205.1l5.2 0.4 0.5-0.7-5.2-0.4z"/><path class="w1" d="M140.2 205.5l5.3 0.3 0.4-0.7-5.2-0.3z"/><path class="w2" d="M145.5 205.8l5.2 0.3 0.5-0.7-5.3-0.3z"/><path class="w3" d="M150.7 206.1l5.3 0.2 0.5-0.6-5.3-0.3z"/><path class="w3" d="M156 206.3l5.3 0.3 0.4-0.6-5.2-0.3z"/><path class="w4" d="M161.3 206.6l5.3 0.4 0.5-0.6-5.4-0.4z"/><path class="w5" d="M166.6 207l5.3 0.5 0.5-0.5-5.3-0.6z"/><path class="w6" d="M171.9 207.5l5.4 0.7 0.4-0.5-5.3-0.7z"/><path class="w7" d="M177.3 208.2l5.4 0.7 0.4-0.5-5.4-0.7z"/><path class="w8" d="M182.7 208.9l5.3 0.8 0.5-0.5-5.4-0.8z"/><path class="w10" d="M188 209.7l5.4 0.8 0.5-0.4-5.4-0.9z"/><path class="w12" d="M193.4 210.5l5.5 0.8 0.4-0.4-5.4-0.8z"/><path class="w14" d="M198.9 211.3l5.4 0.7 0.4-0.3-5.4-0.8z"/><path class="w16" d="M204.3 212l5.5 0.7 0.4-0.3-5.5-0.7z"/><path class="w17" d="M209.8 212.7l5.4 0.7 0.4-0.2-5.4-0.8z"/><path class="w17" d="M215.2 213.4l5.5 0.9 0.4-0.2-5.5-0.9z"/><path class="w17" d="M220.7 214.3l5.5 0.9 0.4-0.2-5.5-0.9z"/><path class="w17" d="M226.2 215.2l5.6 0.8 0.3-0.1-5.5-0.9z"/><path class="w17" d="M231.8 216l5.5 0.5 0.4-0.1-5.6-0.5z"/><path class="w2" d="M53.5 201l4.9 1 0.6-0.6-5-1z"/><path class="w4" d="M58.4 202l5 0.6 0.5-0.6-4.9-0.6z"/><path class="w5" d="M63.4 202.6l4.9 0.3 0.6-0.6-5-0.3z"/><path class="w5" d="M68.3 202.9l5 0.2 0.6-0.6-5-0.2z"/><path class="w5" d="M73.3 203.1l5 0.2 0.5-0.6-4.9-0.2z"/><path class="w5" d="M78.3 203.3l5 0 0.6-0.6-5.1 0z"/><path class="w5" d="M83.3 203.3l5.1 0.1 0.5-0.6-5-0.1z"/><path class="w4" d="M88.4 203.4l5 0 0.5-0.6-5 0z"/><path class="w4" d="M93.4 203.4l5.1 0.1 0.5-0.6-5.1-0.1z"/><path class="w3" d="M98.5 203.5l5.1 0.1 0.5-0.6-5.1-0.1z"/><path class="w2" d="M103.6 203.6l5.1 0.3 0.5-0.7-5.1-0.2z"/><path class="w2" d="M108.7 203.9l5.1 0.3 0.5-0.7-5.1-0.3z"/><path class="w1" d="M113.8 204.2l5.2 0.4 0.5-0.7-5.2-0.4z"/><path class="w1" d="M119 204.6l5.1 0.4 0.5-0.7-5.1-0.4z"/><path class="w1" d="M124.1 205l5.2 0.4 0.5-0.7-5.2-0.4z"/><path class="w1" d="M129.3 205.4l5.2 0.4 0.5-0.7-5.2-0.4z"/><path class="w1" d="M134.5 205.8l5.3 0.4 0.4-0.7-5.2-0.4z"/><path class="w1" d="M139.8 206.2l5.2 0.3 0.5-0.7-5.3-0.3z"/><path class="w2" d="M145 206.5l5.3 0.2 0.4-0.6-5.2-0.3z"/><path class="w3" d="M150.3 206.7l5.2 0.3 0.5-0.7-5.3-0.2z"/><path class="w3" d="M155.5 207l5.3 0.2 0.5-0.6-5.3-0.3z"/><path class="w4" d="M160.8 207.2l5.4 0.4 0.4-0.6-5.3-0.4z"/><path class="w5" d="M166.2 207.6l5.3 0.5 0.4-0.6-5.3-0.5z"/><path class="w6" d="M171.5 208.1l5.4 0.6 0.4-0.5-5.4-0.7z"/><path class="w7" d="M176.9 208.7l5.3 0.7 0.5-0.5-5.4-0.7z"/><path class="w9" d="M182.2 209.4l5.4 0.8 0.4-0.5-5.3-0.8z"/><path class="w10" d="M187.6 210.2l5.4 0.7 0.4-0.4-5.4-0.8z"/><path class="w13" d="M193 210.9l5.5 0.7 0.4-0.3-5.5-0.8z"/><path class="w15" d="M198.5 211.6l5.4 0.7 0.4-0.3-5.4-0.7z"/><path class="w17" d="M203.9 212.3l5.5 0.7 0.4-0.3-5.5-0.7z"/><path class="w17" d="M209.4 213l5.4 0.6 0.4-0.2-5.4-0.7z"/><path class="w17" d="M214.8 213.6l5.5 0.8 0.4-0.1-5.5-0.9z"/><path class="w17" d="M220.3 214.4l5.6 0.9 0.3-0.1-5.5-0.9z"/><path class="w17" d="M225.9 215.3l5.5 0.8 0.4-0.1-5.6-0.8z"/><path class="w17" d="M231.4 216.1l5.6 0.5 0.3-0.1-5.5-0.5z"/><path class="w2" d="M52.9 201.6l5 1 0.5-0.6-4.9-1z"/><path class="w5" d="M57.9 202.6l4.9 0.5 0.6-0.5-5-0.6z"/><path class="w5" d="M62.8 203.1l5 0.4 0.5-0.6-4.9-0.3z"/><path class="w5" d="M67.8 203.5l5 0.2 0.5-0.6-5-0.2z"/><path class="w6" d="M72.8 203.7l5 0.2 0.5-0.6-5-0.2z"/><path class="w5" d="M77.8 203.9l5 0.1 0.5-0.7-5 0z"/><path class="w5" d="M82.8 204l5.1 0 0.5-0.6-5.1-0.1z"/><path class="w5" d="M87.9 204l5 0.1 0.5-0.7-5 0z"/><path class="w4" d="M92.9 204.1l5.1 0.1 0.5-0.7-5.1-0.1z"/><path class="w3" d="M98 204.2l5.1 0.1 0.5-0.7-5.1-0.1z"/><path class="w2" d="M103.1 204.3l5.1 0.3 0.5-0.7-5.1-0.3z"/><path class="w2" d="M108.2 204.6l5.1 0.3 0.5-0.7-5.1-0.3z"/><path class="w1" d="M113.3 204.9l5.2 0.4 0.5-0.7-5.2-0.4z"/><path class="w1" d="M118.5 205.3l5.2 0.4 0.4-0.7-5.1-0.4z"/><path class="w1" d="M123.7 205.7l5.2 0.4 0.4-0.7-5.2-0.4z"/><path class="w1" d="M128.9 206.1l5.2 0.4 0.4-0.7-5.2-0.4z"/><path class="w1" d="M134.1 206.5l5.2 0.4 0.5-0.7-5.3-0.4z"/><path class="w1" d="M139.3 206.9l5.2 0.3 0.5-0.7-5.2-0.3z"/><path class="w2" d="M144.5 207.2l5.3 0.2 0.5-0.7-5.3-0.2z"/><path class="w2" d="M149.8 207.4l5.3 0.2 0.4-0.6-5.2-0.3z"/><path class="w3" d="M155.1 207.6l5.3 0.3 0.4-0.7-5.3-0.2z"/><path class="w4" d="M160.4 207.9l5.3 0.3 0.5-0.6-5.4-0.4z"/><path class="w5" d="M165.7 208.2l5.4 0.5 0.4-0.6-5.3-0.5z"/><path class="w6" d="M171.1 208.7l5.3 0.6 0.5-0.6-5.4-0.6z"/><path class="w7" d="M176.4 209.3l5.4 0.6 0.4-0.5-5.3-0.7z"/><path class="w9" d="M181.8 209.9l5.4 0.7 0.4-0.4-5.4-0.8z"/><path class="w11" d="M187.2 210.6l5.4 0.7 0.4-0.4-5.4-0.7z"/><path class="w13" d="M192.6 211.3l5.4 0.7 0.5-0.4-5.5-0.7z"/><path class="w16" d="M198 212l5.5 0.6 0.4-0.3-5.4-0.7z"/><path class="w17" d="M203.5 212.6l5.5 0.6 0.4-0.2-5.5-0.7z"/><path class="w17" d="M209 213.2l5.5 0.6 0.3-0.2-5.4-0.6z"/><path class="w17" d="M214.5 213.8l5.5 0.7 0.3-0.1-5.5-0.8z"/><path class="w17" d="M220 214.5l5.5 0.8 0.4 0-5.6-0.9z"/><path class="w17" d="M225.5 215.3l5.5 0.8 0.4 0-5.5-0.8z"/><path class="w17" d="M231 216.1l5.6 0.5 0.4 0-5.6-0.5z"/><path class="w3" d="M52.4 202.2l4.9 1 0.6-0.6-5-1z"/><path class="w5" d="M57.3 203.2l5 0.5 0.5-0.6-4.9-0.5z"/><path class="w5" d="M62.3 203.7l5 0.4 0.5-0.6-5-0.4z"/><path class="w6" d="M67.3 204.1l5 0.2 0.5-0.6-5-0.2z"/><path class="w6" d="M72.3 204.3l5 0.2 0.5-0.6-5-0.2z"/><path class="w6" d="M77.3 204.5l5 0.1 0.5-0.6-5-0.1z"/><path class="w5" d="M82.3 204.6l5 0 0.6-0.6-5.1 0z"/><path class="w5" d="M87.3 204.6l5.1 0.1 0.5-0.6-5-0.1z"/><path class="w4" d="M92.4 204.7l5.1 0.1 0.5-0.6-5.1-0.1z"/><path class="w3" d="M97.5 204.8l5.1 0.2 0.5-0.7-5.1-0.1z"/><path class="w2" d="M102.6 205l5.1 0.2 0.5-0.6-5.1-0.3z"/><path class="w2" d="M107.7 205.2l5.1 0.4 0.5-0.7-5.1-0.3z"/><path class="w1" d="M112.8 205.6l5.2 0.4 0.5-0.7-5.2-0.4z"/><path class="w1" d="M118 206l5.2 0.4 0.5-0.7-5.2-0.4z"/><path d="M123.2 206.4l5.2 0.4 0.5-0.7-5.2-0.4z"/><path d="M128.4 206.8l5.2 0.4 0.5-0.7-5.2-0.4z"/><path d="M133.6 207.2l5.2 0.4 0.5-0.7-5.2-0.4z"/><path class="w1" d="M138.8 207.6l5.3 0.3 0.4-0.7-5.2-0.3z"/><path class="w1" d="M144.1 207.9l5.2 0.2 0.5-0.7-5.3-0.2z"/><path class="w2" d="M149.3 208.1l5.3 0.2 0.5-0.7-5.3-0.2z"/><path class="w3" d="M154.6 208.3l5.3 0.2 0.5-0.6-5.3-0.3z"/><path class="w4" d="M159.9 208.5l5.4 0.3 0.4-0.6-5.3-0.3z"/><path class="w5" d="M165.3 208.8l5.3 0.4 0.5-0.5-5.4-0.5z"/><path class="w6" d="M170.6 209.2l5.4 0.6 0.4-0.5-5.3-0.6z"/><path class="w8" d="M176 209.8l5.4 0.6 0.4-0.5-5.4-0.6z"/><path class="w10" d="M181.4 210.4l5.4 0.7 0.4-0.5-5.4-0.7z"/><path class="w12" d="M186.8 211.1l5.4 0.6 0.4-0.4-5.4-0.7z"/><path class="w14" d="M192.2 211.7l5.4 0.6 0.4-0.3-5.4-0.7z"/><path class="w17" d="M197.6 212.3l5.5 0.5 0.4-0.2-5.5-0.6z"/><path class="w17" d="M203.1 212.8l5.5 0.5 0.4-0.1-5.5-0.6z"/><path class="w17" d="M208.6 213.3l5.5 0.6 0.4-0.1-5.5-0.6z"/><path class="w17" d="M214.1 213.9l5.5 0.6 0.4 0-5.5-0.7z"/><path class="w17" d="M219.6 214.5l5.5 0.8 0.4 0-5.5-0.8z"/><path class="w17" d="M225.1 215.3l5.5 0.8 0.4 0-5.5-0.8z"/><path class="w17" d="M230.6 216.1l5.6 0.5 0.4 0-5.6-0.5z"/><path class="w5" d="M51.8 202.7l5 1 0.5-0.5-4.9-1z"/><path class="w6" d="M56.8 203.7l5 0.6 0.5-0.6-5-0.5z"/><path class="w6" d="M61.8 204.3l5 0.3 0.5-0.5-5-0.4z"/><path class="w6" d="M66.8 204.6l5 0.3 0.5-0.6-5-0.2z"/><path class="w6" d="M71.8 204.9l5 0.1 0.5-0.5-5-0.2z"/><path class="w6" d="M76.8 205l5 0.2 0.5-0.6-5-0.1z"/><path class="w5" d="M81.8 205.2l5 0.1 0.5-0.7-5 0z"/><path class="w5" d="M86.8 205.3l5.1 0 0.5-0.6-5.1-0.1z"/><path class="w4" d="M91.9 205.3l5.1 0.2 0.5-0.7-5.1-0.1z"/><path class="w3" d="M97 205.5l5.1 0.2 0.5-0.7-5.1-0.2z"/><path class="w2" d="M102.1 205.7l5.1 0.2 0.5-0.7-5.1-0.2z"/><path class="w1" d="M107.2 205.9l5.2 0.4 0.4-0.7-5.1-0.4z"/><path class="w1" d="M112.4 206.3l5.1 0.4 0.5-0.7-5.2-0.4z"/><path class="w1" d="M117.5 206.7l5.2 0.4 0.5-0.7-5.2-0.4z"/><path d="M122.7 207.1l5.2 0.4 0.5-0.7-5.2-0.4z"/><path d="M127.9 207.5l5.2 0.4 0.5-0.7-5.2-0.4z"/><path d="M133.1 207.9l5.3 0.4 0.4-0.7-5.2-0.4z"/><path class="w1" d="M138.4 208.3l5.2 0.3 0.5-0.7-5.3-0.3z"/><path class="w1" d="M143.6 208.6l5.3 0.2 0.4-0.7-5.2-0.2z"/><path class="w2" d="M148.9 208.8l5.3 0.2 0.4-0.7-5.3-0.2z"/><path class="w3" d="M154.2 209l5.3 0.1 0.4-0.6-5.3-0.2z"/><path class="w4" d="M159.5 209.1l5.3 0.3 0.5-0.6-5.4-0.3z"/><path class="w5" d="M164.8 209.4l5.4 0.4 0.4-0.6-5.3-0.4z"/><path class="w6" d="M170.2 209.8l5.3 0.5 0.5-0.5-5.4-0.6z"/><path class="w8" d="M175.5 210.3l5.4 0.6 0.5-0.5-5.4-0.6z"/><path class="w10" d="M180.9 210.9l5.4 0.6 0.5-0.4-5.4-0.7z"/><path class="w13" d="M186.3 211.5l5.5 0.5 0.4-0.3-5.4-0.6z"/><path class="w15" d="M191.8 212l5.4 0.6 0.4-0.3-5.4-0.6z"/><path class="w17" d="M197.2 212.6l5.5 0.4 0.4-0.2-5.5-0.5z"/><path class="w17" d="M202.7 213l5.5 0.5 0.4-0.2-5.5-0.5z"/><path class="w17" d="M208.2 213.5l5.5 0.5 0.4-0.1-5.5-0.6z"/><path class="w17" d="M213.7 214l5.5 0.5 0.4 0-5.5-0.6z"/><path class="w17" d="M219.2 214.5l5.5 0.8 0.4 0-5.5-0.8z"/><path class="w17" d="M224.7 215.3l5.6 0.8 0.3 0-5.5-0.8z"/><path class="w17" d="M230.3 216.1l5.6 0.5 0.3 0-5.6-0.5z"/><path class="w17" d="M51.3 202.6l5 1.3 0.5-0.2-5-1z"/><path class="w15" d="M56.3 203.9l4.9 0.8 0.6-0.4-5-0.6z"/><path class="w11" d="M61.2 204.7l5 0.4 0.6-0.5-5-0.3z"/><path class="w9" d="M66.2 205.1l5 0.3 0.6-0.5-5-0.3z"/><path class="w8" d="M71.2 205.4l5 0.2 0.6-0.6-5-0.1z"/><path class="w7" d="M76.2 205.6l5.1 0.1 0.5-0.5-5-0.2z"/><path class="w6" d="M81.3 205.7l5 0.2 0.5-0.6-5-0.1z"/><path class="w5" d="M86.3 205.9l5.1 0.1 0.5-0.7-5.1 0z"/><path class="w4" d="M91.4 206l5.1 0.1 0.5-0.6-5.1-0.2z"/><path class="w3" d="M96.5 206.1l5.1 0.2 0.5-0.6-5.1-0.2z"/><path class="w2" d="M101.6 206.3l5.1 0.3 0.5-0.7-5.1-0.2z"/><path class="w1" d="M106.7 206.6l5.2 0.3 0.5-0.6-5.2-0.4z"/><path class="w1" d="M111.9 206.9l5.1 0.5 0.5-0.7-5.1-0.4z"/><path d="M117 207.4l5.2 0.4 0.5-0.7-5.2-0.4z"/><path d="M122.2 207.8l5.2 0.5 0.5-0.8-5.2-0.4z"/><path d="M127.4 208.3l5.2 0.4 0.5-0.8-5.2-0.4z"/><path d="M132.6 208.7l5.3 0.3 0.5-0.7-5.3-0.4z"/><path d="M137.9 209l5.2 0.3 0.5-0.7-5.2-0.3z"/><path class="w1" d="M143.1 209.3l5.3 0.2 0.5-0.7-5.3-0.2z"/><path class="w2" d="M148.4 209.5l5.3 0.1 0.5-0.6-5.3-0.2z"/><path class="w3" d="M153.7 209.6l5.3 0.2 0.5-0.7-5.3-0.1z"/><path class="w4" d="M159 209.8l5.4 0.2 0.4-0.6-5.3-0.3z"/><path class="w5" d="M164.4 210l5.3 0.4 0.5-0.6-5.4-0.4z"/><path class="w7" d="M169.7 210.4l5.4 0.5 0.4-0.6-5.3-0.5z"/><path class="w8" d="M175.1 210.9l5.4 0.5 0.4-0.5-5.4-0.6z"/><path class="w11" d="M180.5 211.4l5.4 0.5 0.4-0.4-5.4-0.6z"/><path class="w13" d="M185.9 211.9l5.4 0.5 0.5-0.4-5.5-0.5z"/><path class="w16" d="M191.3 212.4l5.5 0.4 0.4-0.2-5.4-0.6z"/><path class="w17" d="M196.8 212.8l5.5 0.4 0.4-0.2-5.5-0.4z"/><path class="w17" d="M202.3 213.2l5.5 0.4 0.4-0.1-5.5-0.5z"/><path class="w17" d="M207.8 213.6l5.5 0.4 0.4 0-5.5-0.5z"/><path class="w17" d="M213.3 214l5.5 0.5 0.4 0-5.5-0.5z"/><path class="w17" d="M218.8 214.5l5.5 0.7 0.4 0.1-5.5-0.8z"/><path class="w17" d="M224.3 215.2l5.6 0.8 0.4 0.1-5.6-0.8z"/><path class="w17" d="M229.9 216l5.6 0.5 0.4 0.1-5.6-0.5z"/><path class="w17" d="M50.7 202.5l5 1.7 0.6-0.3-5-1.3z"/><path class="w15" d="M55.7 204.2l5 0.8 0.5-0.3-4.9-0.8z"/><path class="w11" d="M60.7 205l5 0.6 0.5-0.5-5-0.4z"/><path class="w10" d="M65.7 205.6l5 0.3 0.5-0.5-5-0.3z"/><path class="w8" d="M70.7 205.9l5 0.2 0.5-0.5-5-0.2z"/><path class="w7" d="M75.7 206.1l5.1 0.2 0.5-0.6-5.1-0.1z"/><path class="w6" d="M80.8 206.3l5 0.1 0.5-0.5-5-0.2z"/><path class="w5" d="M85.8 206.4l5.1 0.2 0.5-0.6-5.1-0.1z"/><path class="w4" d="M90.9 206.6l5.1 0.2 0.5-0.7-5.1-0.1z"/><path class="w3" d="M96 206.8l5.1 0.2 0.5-0.7-5.1-0.2z"/><path class="w2" d="M101.1 207l5.1 0.3 0.5-0.7-5.1-0.3z"/><path class="w1" d="M106.2 207.3l5.2 0.3 0.5-0.7-5.2-0.3z"/><path class="w1" d="M111.4 207.6l5.1 0.5 0.5-0.7-5.1-0.5z"/><path d="M116.5 208.1l5.2 0.4 0.5-0.7-5.2-0.4z"/><path d="M121.7 208.5l5.2 0.5 0.5-0.7-5.2-0.5z"/><path d="M126.9 209l5.3 0.4 0.4-0.7-5.2-0.4z"/><path d="M132.2 209.4l5.2 0.3 0.5-0.7-5.3-0.3z"/><path d="M137.4 209.7l5.3 0.3 0.4-0.7-5.2-0.3z"/><path class="w1" d="M142.7 210l5.2 0.2 0.5-0.7-5.3-0.2z"/><path class="w2" d="M147.9 210.2l5.3 0.1 0.5-0.7-5.3-0.1z"/><path class="w3" d="M153.2 210.3l5.4 0.1 0.4-0.6-5.3-0.2z"/><path class="w4" d="M158.6 210.4l5.3 0.2 0.5-0.6-5.4-0.2z"/><path class="w5" d="M163.9 210.6l5.4 0.3 0.4-0.5-5.3-0.4z"/><path class="w7" d="M169.3 210.9l5.4 0.5 0.4-0.5-5.4-0.5z"/><path class="w9" d="M174.7 211.4l5.4 0.4 0.4-0.4-5.4-0.5z"/><path class="w11" d="M180.1 211.8l5.4 0.5 0.4-0.4-5.4-0.5z"/><path class="w14" d="M185.5 212.3l5.4 0.4 0.4-0.3-5.4-0.5z"/><path class="w17" d="M190.9 212.7l5.5 0.4 0.4-0.3-5.5-0.4z"/><path class="w17" d="M196.4 213.1l5.4 0.3 0.5-0.2-5.5-0.4z"/><path class="w17" d="M201.8 213.4l5.5 0.3 0.5-0.1-5.5-0.4z"/><path class="w17" d="M207.3 213.7l5.6 0.3 0.4 0-5.5-0.4z"/><path class="w17" d="M212.9 214l5.5 0.4 0.4 0.1-5.5-0.5z"/><path class="w17" d="M218.4 214.4l5.6 0.7 0.3 0.1-5.5-0.7z"/><path class="w17" d="M224 215.1l5.5 0.8 0.4 0.1-5.6-0.8z"/><path class="w17" d="M229.5 215.9l5.6 0.4 0.4 0.2-5.6-0.5z"/><path class="w17" d="M50.1 202.4l5 2 0.6-0.2-5-1.7z"/><path class="w15" d="M55.1 204.4l5 1 0.6-0.4-5-0.8z"/><path class="w12" d="M60.1 205.4l5.1 0.6 0.5-0.4-5-0.6z"/><path class="w10" d="M65.2 206l5 0.4 0.5-0.5-5-0.3z"/><path class="w9" d="M70.2 206.4l5 0.2 0.5-0.5-5-0.2z"/><path class="w8" d="M75.2 206.6l5 0.2 0.6-0.5-5.1-0.2z"/><path class="w7" d="M80.2 206.8l5.1 0.2 0.5-0.6-5-0.1z"/><path class="w6" d="M85.3 207l5.1 0.2 0.5-0.6-5.1-0.2z"/><path class="w4" d="M90.4 207.2l5.1 0.2 0.5-0.6-5.1-0.2z"/><path class="w3" d="M95.5 207.4l5.1 0.2 0.5-0.6-5.1-0.2z"/><path class="w2" d="M100.6 207.6l5.1 0.4 0.5-0.7-5.1-0.3z"/><path class="w1" d="M105.7 208l5.2 0.3 0.5-0.7-5.2-0.3z"/><path class="w1" d="M110.9 208.3l5.1 0.5 0.5-0.7-5.1-0.5z"/><path d="M116 208.8l5.2 0.4 0.5-0.7-5.2-0.4z"/><path d="M121.2 209.2l5.3 0.5 0.4-0.7-5.2-0.5z"/><path d="M126.5 209.7l5.2 0.4 0.5-0.7-5.3-0.4z"/><path d="M131.7 210.1l5.2 0.4 0.5-0.8-5.2-0.3z"/><path d="M136.9 210.5l5.3 0.2 0.5-0.7-5.3-0.3z"/><path class="w1" d="M142.2 210.7l5.3 0.2 0.4-0.7-5.2-0.2z"/><path class="w2" d="M147.5 210.9l5.3 0.1 0.4-0.7-5.3-0.1z"/><path class="w3" d="M152.8 211l5.3 0.1 0.5-0.7-5.4-0.1z"/><path class="w4" d="M158.1 211.1l5.4 0.1 0.4-0.6-5.3-0.2z"/><path class="w6" d="M163.5 211.2l5.3 0.3 0.5-0.6-5.4-0.3z"/><path class="w7" d="M168.8 211.5l5.4 0.4 0.5-0.5-5.4-0.5z"/><path class="w9" d="M174.2 211.9l5.4 0.4 0.5-0.5-5.4-0.4z"/><path class="w12" d="M179.6 212.3l5.4 0.4 0.5-0.4-5.4-0.5z"/><path class="w15" d="M185 212.7l5.5 0.3 0.4-0.3-5.4-0.4z"/><path class="w17" d="M190.5 213l5.4 0.3 0.5-0.2-5.5-0.4z"/><path class="w17" d="M195.9 213.3l5.5 0.3 0.4-0.2-5.4-0.3z"/><path class="w17" d="M201.4 213.6l5.5 0.2 0.4-0.1-5.5-0.3z"/><path class="w17" d="M206.9 213.8l5.6 0.1 0.4 0.1-5.6-0.3z"/><path class="w17" d="M212.5 213.9l5.5 0.4 0.4 0.1-5.5-0.4z"/><path class="w17" d="M218 214.3l5.6 0.6 0.4 0.2-5.6-0.7z"/><path class="w17" d="M223.6 214.9l5.6 0.8 0.3 0.2-5.5-0.8z"/><path class="w17" d="M229.2 215.7l5.6 0.5 0.3 0.1-5.6-0.4z"/><path class="w17" d="M49.5 202.3l5.1 2.3 0.5-0.2-5-2z"/><path class="w15" d="M54.6 204.6l5 1.2 0.5-0.4-5-1z"/><path class="w12" d="M59.6 205.8l5 0.6 0.6-0.4-5.1-0.6z"/><path class="w11" d="M64.6 206.4l5 0.4 0.6-0.4-5-0.4z"/><path class="w9" d="M69.6 206.8l5.1 0.4 0.5-0.6-5-0.2z"/><path class="w8" d="M74.7 207.2l5 0.2 0.5-0.6-5-0.2z"/><path class="w7" d="M79.7 207.4l5.1 0.2 0.5-0.6-5.1-0.2z"/><path class="w6" d="M84.8 207.6l5.1 0.2 0.5-0.6-5.1-0.2z"/><path class="w5" d="M89.9 207.8l5.1 0.2 0.5-0.6-5.1-0.2z"/><path class="w3" d="M95 208l5.1 0.3 0.5-0.7-5.1-0.2z"/><path class="w2" d="M100.1 208.3l5.1 0.3 0.5-0.6-5.1-0.4z"/><path class="w1" d="M105.2 208.6l5.2 0.4 0.5-0.7-5.2-0.3z"/><path class="w1" d="M110.4 209l5.2 0.5 0.4-0.7-5.1-0.5z"/><path d="M115.6 209.5l5.2 0.4 0.4-0.7-5.2-0.4z"/><path d="M120.8 209.9l5.2 0.5 0.5-0.7-5.3-0.5z"/><path d="M126 210.4l5.2 0.4 0.5-0.7-5.2-0.4z"/><path d="M131.2 210.8l5.3 0.4 0.4-0.7-5.2-0.4z"/><path d="M136.5 211.2l5.2 0.3 0.5-0.8-5.3-0.2z"/><path class="w1" d="M141.7 211.5l5.3 0.1 0.5-0.7-5.3-0.2z"/><path class="w2" d="M147 211.6l5.3 0.1 0.5-0.7-5.3-0.1z"/><path class="w3" d="M152.3 211.7l5.4 0 0.4-0.6-5.3-0.1z"/><path class="w4" d="M157.7 211.7l5.3 0.1 0.5-0.6-5.4-0.1z"/><path class="w6" d="M163 211.8l5.4 0.3 0.4-0.6-5.3-0.3z"/><path class="w7" d="M168.4 212.1l5.4 0.3 0.4-0.5-5.4-0.4z"/><path class="w10" d="M173.8 212.4l5.4 0.3 0.4-0.4-5.4-0.4z"/><path class="w12" d="M179.2 212.7l5.4 0.4 0.4-0.4-5.4-0.4z"/><path class="w15" d="M184.6 213.1l5.5 0.2 0.4-0.3-5.5-0.3z"/><path class="w17" d="M190.1 213.3l5.4 0.2 0.4-0.2-5.4-0.3z"/><path class="w17" d="M195.5 213.5l5.5 0.2 0.4-0.1-5.5-0.3z"/><path class="w17" d="M201 213.7l5.5 0.1 0.4 0-5.5-0.2z"/><path class="w17" d="M206.5 213.8l5.6 0.1 0.4 0-5.6-0.1z"/><path class="w17" d="M212.1 213.9l5.5 0.2 0.4 0.2-5.5-0.4z"/><path class="w17" d="M217.6 214.1l5.6 0.5 0.4 0.3-5.6-0.6z"/><path class="w17" d="M223.2 214.6l5.6 0.8 0.4 0.3-5.6-0.8z"/><path class="w17" d="M228.8 215.4l5.6 0.5 0.4 0.3-5.6-0.5z"/><path class="w17" d="M48.9 202.1l5.1 2.6 0.6-0.1-5.1-2.3z"/><path class="w15" d="M54 204.7l5.1 1.4 0.5-0.3-5-1.2z"/><path class="w12" d="M59.1 206.1l5 0.7 0.5-0.4-5-0.6z"/><path class="w11" d="M64.1 206.8l5 0.5 0.5-0.5-5-0.4z"/><path class="w10" d="M69.1 207.3l5 0.3 0.6-0.4-5.1-0.4z"/><path class="w9" d="M74.1 207.6l5.1 0.3 0.5-0.5-5-0.2z"/><path class="w8" d="M79.2 207.9l5.1 0.2 0.5-0.5-5.1-0.2z"/><path class="w6" d="M84.3 208.1l5 0.3 0.6-0.6-5.1-0.2z"/><path class="w5" d="M89.3 208.4l5.1 0.2 0.6-0.6-5.1-0.2z"/><path class="w3" d="M94.4 208.6l5.2 0.3 0.5-0.6-5.1-0.3z"/><path class="w2" d="M99.6 208.9l5.1 0.4 0.5-0.7-5.1-0.3z"/><path class="w1" d="M104.7 209.3l5.2 0.4 0.5-0.7-5.2-0.4z"/><path d="M109.9 209.7l5.2 0.5 0.5-0.7-5.2-0.5z"/><path d="M115.1 210.2l5.2 0.5 0.5-0.8-5.2-0.4z"/><path d="M120.3 210.7l5.2 0.4 0.5-0.7-5.2-0.5z"/><path d="M125.5 211.1l5.2 0.5 0.5-0.8-5.2-0.4z"/><path d="M130.7 211.6l5.3 0.4 0.5-0.8-5.3-0.4z"/><path d="M136 212l5.3 0.2 0.4-0.7-5.2-0.3z"/><path d="M141.3 212.2l5.2 0.1 0.5-0.7-5.3-0.1z"/><path class="w2" d="M146.5 212.3l5.4 0.1 0.4-0.7-5.3-0.1z"/><path class="w3" d="M151.9 212.4l5.3 0 0.5-0.7-5.4 0z"/><path class="w4" d="M157.2 212.4l5.3 0.1 0.5-0.7-5.3-0.1z"/><path class="w6" d="M162.5 212.5l5.4 0.1 0.5-0.5-5.4-0.3z"/><path class="w8" d="M167.9 212.6l5.4 0.3 0.5-0.5-5.4-0.3z"/><path class="w10" d="M173.3 212.9l5.4 0.3 0.5-0.5-5.4-0.3z"/><path class="w13" d="M178.7 213.2l5.5 0.2 0.4-0.3-5.4-0.4z"/><path class="w16" d="M184.2 213.4l5.4 0.2 0.5-0.3-5.5-0.2z"/><path class="w17" d="M189.6 213.6l5.5 0.1 0.4-0.2-5.4-0.2z"/><path class="w17" d="M195.1 213.7l5.5 0.1 0.4-0.1-5.5-0.2z"/><path class="w17" d="M200.6 213.8l5.5 0 0.4 0-5.5-0.1z"/><path class="w17" d="M206.1 213.8l5.6-0.1 0.4 0.2-5.6-0.1z"/><path class="w17" d="M211.7 213.7l5.5 0.2 0.4 0.2-5.5-0.2z"/><path class="w17" d="M217.2 213.9l5.6 0.5 0.4 0.2-5.6-0.5z"/><path class="w17" d="M222.8 214.4l5.6 0.7 0.4 0.3-5.6-0.8z"/><path class="w17" d="M228.4 215.1l5.6 0.5 0.4 0.3-5.6-0.5z"/><path class="w17" d="M48.4 201.9l5.1 3 0.5-0.2-5.1-2.6z"/><path class="w15" d="M53.5 204.9l5 1.5 0.6-0.3-5.1-1.4z"/><path class="w13" d="M58.5 206.4l5 0.8 0.6-0.4-5-0.7z"/><path class="w12" d="M63.5 207.2l5.1 0.5 0.5-0.4-5-0.5z"/><path class="w11" d="M68.6 207.7l5 0.4 0.5-0.5-5-0.3z"/><path class="w10" d="M73.6 208.1l5.1 0.3 0.5-0.5-5.1-0.3z"/><path class="w8" d="M78.7 208.4l5 0.3 0.6-0.6-5.1-0.2z"/><path class="w7" d="M83.7 208.7l5.1 0.3 0.5-0.6-5-0.3z"/><path class="w5" d="M88.8 209l5.1 0.3 0.5-0.7-5.1-0.2z"/><path class="w4" d="M93.9 209.3l5.2 0.3 0.5-0.7-5.2-0.3z"/><path class="w2" d="M99.1 209.6l5.1 0.4 0.5-0.7-5.1-0.4z"/><path class="w1" d="M104.2 210l5.2 0.4 0.5-0.7-5.2-0.4z"/><path d="M109.4 210.4l5.2 0.5 0.5-0.7-5.2-0.5z"/><path d="M114.6 210.9l5.2 0.5 0.5-0.7-5.2-0.5z"/><path d="M119.8 211.4l5.2 0.5 0.5-0.8-5.2-0.4z"/><path d="M125 211.9l5.2 0.4 0.5-0.7-5.2-0.5z"/><path d="M130.2 212.3l5.3 0.4 0.5-0.7-5.3-0.4z"/><path d="M135.5 212.7l5.3 0.3 0.5-0.8-5.3-0.2z"/><path d="M140.8 213l5.3 0.1 0.4-0.8-5.2-0.1z"/><path class="w1" d="M146.1 213.1l5.3 0 0.5-0.7-5.4-0.1z"/><path class="w3" d="M151.4 213.1l5.3-0.1 0.5-0.6-5.3 0z"/><path class="w5" d="M156.7 213l5.4 0.1 0.4-0.6-5.3-0.1z"/><path class="w6" d="M162.1 213.1l5.4 0.1 0.4-0.6-5.4-0.1z"/><path class="w8" d="M167.5 213.2l5.4 0.2 0.4-0.5-5.4-0.3z"/><path class="w10" d="M172.9 213.4l5.4 0.2 0.4-0.4-5.4-0.3z"/><path class="w14" d="M178.3 213.6l5.4 0.2 0.5-0.4-5.5-0.2z"/><path class="w17" d="M183.7 213.8l5.5 0.1 0.4-0.3-5.4-0.2z"/><path class="w17" d="M189.2 213.9l5.5 0 0.4-0.2-5.5-0.1z"/><path class="w17" d="M194.7 213.9l5.5-0.1 0.4 0-5.5-0.1z"/><path class="w17" d="M200.2 213.8l5.5-0.1 0.4 0.1-5.5 0z"/><path class="w17" d="M205.7 213.7l5.6-0.1 0.4 0.1-5.6 0.1z"/><path class="w17" d="M211.3 213.6l5.6 0 0.3 0.3-5.5-0.2z"/><path class="w17" d="M216.9 213.6l5.5 0.4 0.4 0.4-5.6-0.5z"/><path class="w17" d="M222.4 214l5.6 0.8 0.4 0.3-5.6-0.7z"/><path class="wb" d="M228 214.8l5.7 0.5 0.3 0.3-5.6-0.5z"/><path class="w17" d="M47.8 201.6l5.1 3.4 0.6-0.1-5.1-3z"/><path class="w16" d="M52.9 205l5 1.7 0.6-0.3-5-1.5z"/><path class="w14" d="M57.9 206.7l5.1 0.8 0.5-0.3-5-0.8z"/><path class="w13" d="M63 207.5l5 0.6 0.6-0.4-5.1-0.5z"/><path class="w12" d="M68 208.1l5.1 0.4 0.5-0.4-5-0.4z"/><path class="w11" d="M73.1 208.5l5 0.4 0.6-0.5-5.1-0.3z"/><path class="w9" d="M78.1 208.9l5.1 0.3 0.5-0.5-5-0.3z"/><path class="w7" d="M83.2 209.2l5.1 0.3 0.5-0.5-5.1-0.3z"/><path class="w6" d="M88.3 209.5l5.1 0.4 0.5-0.6-5.1-0.3z"/><path class="w4" d="M93.4 209.9l5.2 0.3 0.5-0.6-5.2-0.3z"/><path class="w2" d="M98.6 210.2l5.1 0.4 0.5-0.6-5.1-0.4z"/><path class="w1" d="M103.7 210.6l5.2 0.5 0.5-0.7-5.2-0.4z"/><path d="M108.9 211.1l5.2 0.5 0.5-0.7-5.2-0.5z"/><path d="M114.1 211.6l5.2 0.5 0.5-0.7-5.2-0.5z"/><path d="M119.3 212.1l5.2 0.5 0.5-0.7-5.2-0.5z"/><path d="M124.5 212.6l5.3 0.5 0.4-0.8-5.2-0.4z"/><path d="M129.8 213.1l5.2 0.3 0.5-0.7-5.3-0.4z"/><path d="M135 213.4l5.3 0.3 0.5-0.7-5.3-0.3z"/><path d="M140.3 213.7l5.3 0.1 0.5-0.7-5.3-0.1z"/><path class="w1" d="M145.6 213.8l5.3 0 0.5-0.7-5.3 0z"/><path class="w3" d="M150.9 213.8l5.4-0.1 0.4-0.7-5.3 0.1z"/><path class="w5" d="M156.3 213.7l5.3 0 0.5-0.6-5.4-0.1z"/><path class="w6" d="M161.6 213.7l5.4 0.1 0.5-0.6-5.4-0.1z"/><path class="w8" d="M167 213.8l5.4 0.1 0.5-0.5-5.4-0.2z"/><path class="w11" d="M172.4 213.9l5.5 0.1 0.4-0.4-5.4-0.2z"/><path class="w14" d="M177.9 214l5.4 0.1 0.4-0.3-5.4-0.2z"/><path class="w17" d="M183.3 214.1l5.5 0 0.4-0.2-5.5-0.1z"/><path class="w17" d="M188.8 214.1l5.5 0 0.4-0.2-5.5 0z"/><path class="w17" d="M194.3 214.1l5.5-0.2 0.4-0.1-5.5 0.1z"/><path class="w17" d="M199.8 213.9l5.5-0.2 0.4 0-5.5 0.1z"/><path class="w17" d="M205.3 213.7l5.6-0.3 0.4 0.2-5.6 0.1z"/><path class="w17" d="M210.9 213.4l5.6-0.1 0.4 0.3-5.6 0z"/><path class="wb" d="M216.5 213.3l5.6 0.3 0.3 0.4-5.5-0.4z"/><path class="wb" d="M222.1 213.6l5.6 0.8 0.3 0.4-5.6-0.8z"/><path class="wb" d="M227.7 214.4l5.6 0.5 0.4 0.4-5.7-0.5z"/><path class="w17" d="M47.2 201.3l5.1 3.8 0.6-0.1-5.1-3.4z"/><path class="w17" d="M52.3 205.1l5.1 1.8 0.5-0.2-5-1.7z"/><path class="w15" d="M57.4 206.9l5 1 0.6-0.4-5.1-0.8z"/><path class="w14" d="M62.4 207.9l5.1 0.6 0.5-0.4-5-0.6z"/><path class="w13" d="M67.5 208.5l5 0.4 0.6-0.4-5.1-0.4z"/><path class="w11" d="M72.5 208.9l5.1 0.4 0.5-0.4-5-0.4z"/><path class="w10" d="M77.6 209.3l5.1 0.4 0.5-0.5-5.1-0.3z"/><path class="w8" d="M82.7 209.7l5.1 0.4 0.5-0.6-5.1-0.3z"/><path class="w6" d="M87.8 210.1l5.1 0.3 0.5-0.5-5.1-0.4z"/><path class="w4" d="M92.9 210.4l5.1 0.5 0.6-0.7-5.2-0.3z"/><path class="w3" d="M98 210.9l5.2 0.4 0.5-0.7-5.1-0.4z"/><path class="w1" d="M103.2 211.3l5.2 0.5 0.5-0.7-5.2-0.5z"/><path d="M108.4 211.8l5.2 0.5 0.5-0.7-5.2-0.5z"/><path d="M113.6 212.3l5.2 0.5 0.5-0.7-5.2-0.5z"/><path d="M118.8 212.8l5.2 0.5 0.5-0.7-5.2-0.5z"/><path d="M124 213.3l5.3 0.5 0.5-0.7-5.3-0.5z"/><path d="M129.3 213.8l5.3 0.4 0.4-0.8-5.2-0.3z"/><path d="M134.6 214.2l5.2 0.2 0.5-0.7-5.3-0.3z"/><path d="M139.8 214.4l5.3 0.1 0.5-0.7-5.3-0.1z"/><path class="w1" d="M145.1 214.5l5.4 0 0.4-0.7-5.3 0z"/><path class="w3" d="M150.5 214.5l5.3-0.1 0.5-0.7-5.4 0.1z"/><path class="w5" d="M155.8 214.4l5.4-0.1 0.4-0.6-5.3 0z"/><path class="w6" d="M161.2 214.3l5.4 0 0.4-0.5-5.4-0.1z"/><path class="w8" d="M166.6 214.3l5.4 0.1 0.4-0.5-5.4-0.1z"/><path class="w11" d="M172 214.4l5.4 0.1 0.5-0.5-5.5-0.1z"/><path class="w15" d="M177.4 214.5l5.5 0 0.4-0.4-5.4-0.1z"/><path class="w17" d="M182.9 214.5l5.4-0.1 0.5-0.3-5.5 0z"/><path class="w17" d="M188.3 214.4l5.5-0.2 0.5-0.1-5.5 0z"/><path class="w17" d="M193.8 214.2l5.6-0.3 0.4 0-5.5 0.2z"/><path class="w17" d="M199.4 213.9l5.5-0.3 0.4 0.1-5.5 0.2z"/><path class="w17" d="M204.9 213.6l5.6-0.4 0.4 0.2-5.6 0.3z"/><path class="w17" d="M210.5 213.2l5.6-0.3 0.4 0.4-5.6 0.1z"/><path class="wb" d="M216.1 212.9l5.6 0.2 0.4 0.5-5.6-0.3z"/><path class="wb" d="M221.7 213.1l5.6 0.8 0.4 0.5-5.6-0.8z"/><path class="wb" d="M227.3 213.9l5.6 0.5 0.4 0.5-5.6-0.5z"/><path class="w17" d="M46.6 200.9l5.1 4.2 0.6 0-5.1-3.8z"/><path class="w17" d="M51.7 205.1l5.1 2 0.6-0.2-5.1-1.8z"/><path class="w17" d="M56.8 207.1l5.1 1 0.5-0.2-5-1z"/><path class="w15" d="M61.9 208.1l5 0.7 0.6-0.3-5.1-0.6z"/><path class="w14" d="M66.9 208.8l5.1 0.5 0.5-0.4-5-0.4z"/><path class="w12" d="M72 209.3l5.1 0.4 0.5-0.4-5.1-0.4z"/><path class="w10" d="M77.1 209.7l5.1 0.5 0.5-0.5-5.1-0.4z"/><path class="w8" d="M82.2 210.2l5.1 0.4 0.5-0.5-5.1-0.4z"/><path class="w6" d="M87.3 210.6l5.1 0.4 0.5-0.6-5.1-0.3z"/><path class="w4" d="M92.4 211l5.1 0.5 0.5-0.6-5.1-0.5z"/><path class="w3" d="M97.5 211.5l5.2 0.5 0.5-0.7-5.2-0.4z"/><path class="w1" d="M102.7 212l5.2 0.5 0.5-0.7-5.2-0.5z"/><path d="M107.9 212.5l5.2 0.5 0.5-0.7-5.2-0.5z"/><path d="M113.1 213l5.2 0.5 0.5-0.7-5.2-0.5z"/><path d="M118.3 213.5l5.2 0.5 0.5-0.7-5.2-0.5z"/><path d="M123.5 214l5.3 0.5 0.5-0.7-5.3-0.5z"/><path d="M128.8 214.5l5.3 0.4 0.5-0.7-5.3-0.4z"/><path d="M134.1 214.9l5.3 0.3 0.4-0.8-5.2-0.2z"/><path d="M139.4 215.2l5.3 0.1 0.4-0.8-5.3-0.1z"/><path class="w1" d="M144.7 215.3l5.3-0.1 0.5-0.7-5.4 0z"/><path class="w3" d="M150 215.2l5.4-0.2 0.4-0.6-5.3 0.1z"/><path class="w5" d="M155.4 215l5.3-0.1 0.5-0.6-5.4 0.1z"/><path class="w7" d="M160.7 214.9l5.4 0 0.5-0.6-5.4 0z"/><path class="w9" d="M166.1 214.9l5.4 0 0.5-0.5-5.4-0.1z"/><path class="w12" d="M171.5 214.9l5.5 0 0.4-0.4-5.4-0.1z"/><path class="w15" d="M177 214.9l5.4-0.1 0.5-0.3-5.5 0z"/><path class="w17" d="M182.4 214.8l5.5-0.2 0.4-0.2-5.4 0.1z"/><path class="w17" d="M187.9 214.6l5.5-0.3 0.4-0.1-5.5 0.2z"/><path class="w17" d="M193.4 214.3l5.5-0.4 0.5 0-5.6 0.3z"/><path class="w17" d="M198.9 213.9l5.6-0.5 0.4 0.2-5.5 0.3z"/><path class="w17" d="M204.5 213.4l5.6-0.5 0.4 0.3-5.6 0.4z"/><path class="wb" d="M210.1 212.9l5.6-0.4 0.4 0.4-5.6 0.3z"/><path class="wb" d="M215.7 212.5l5.6 0.1 0.4 0.5-5.6-0.2z"/><path class="wb" d="M221.3 212.6l5.6 0.7 0.4 0.6-5.6-0.8z"/><path class="wb" d="M226.9 213.3l5.7 0.6 0.3 0.5-5.6-0.5z"/><path class="w16" d="M46 200.7l5.2 4.5 0.5-0.1-5.1-4.2z"/><path class="w15" d="M51.2 205.2l5.1 2.1 0.5-0.2-5.1-2z"/><path class="w16" d="M56.3 207.3l5 1.1 0.6-0.3-5.1-1z"/><path class="w16" d="M61.3 208.4l5.1 0.7 0.5-0.3-5-0.7z"/><path class="w14" d="M66.4 209.1l5 0.6 0.6-0.4-5.1-0.5z"/><path class="w13" d="M71.4 209.7l5.1 0.4 0.6-0.4-5.1-0.4z"/><path class="w11" d="M76.5 210.1l5.1 0.5 0.6-0.4-5.1-0.5z"/><path class="w9" d="M81.6 210.6l5.1 0.5 0.6-0.5-5.1-0.4z"/><path class="w7" d="M86.7 211.1l5.2 0.5 0.5-0.6-5.1-0.4z"/><path class="w5" d="M91.9 211.6l5.1 0.5 0.5-0.6-5.1-0.5z"/><path class="w3" d="M97 212.1l5.2 0.5 0.5-0.6-5.2-0.5z"/><path class="w1" d="M102.2 212.6l5.2 0.5 0.5-0.6-5.2-0.5z"/><path d="M107.4 213.1l5.2 0.6 0.5-0.7-5.2-0.5z"/><path d="M112.6 213.7l5.2 0.5 0.5-0.7-5.2-0.5z"/><path d="M117.8 214.2l5.3 0.6 0.4-0.8-5.2-0.5z"/><path d="M123.1 214.8l5.2 0.5 0.5-0.8-5.3-0.5z"/><path d="M128.3 215.3l5.3 0.4 0.5-0.8-5.3-0.4z"/><path d="M133.6 215.7l5.3 0.3 0.5-0.8-5.3-0.3z"/><path d="M138.9 216l5.3 0 0.5-0.7-5.3-0.1z"/><path class="w1" d="M144.2 216l5.3-0.1 0.5-0.7-5.3 0.1z"/><path class="w3" d="M149.5 215.9l5.4-0.2 0.5-0.7-5.4 0.2z"/><path class="w5" d="M154.9 215.7l5.4-0.2 0.4-0.6-5.3 0.1z"/><path class="w7" d="M160.3 215.5l5.4-0.1 0.4-0.5-5.4 0z"/><path class="w9" d="M165.7 215.4l5.4 0 0.4-0.5-5.4 0z"/><path class="w12" d="M171.1 215.4l5.4-0.1 0.5-0.4-5.5 0z"/><path class="w16" d="M176.5 215.3l5.5-0.2 0.4-0.3-5.4 0.1z"/><path class="w17" d="M182 215.1l5.5-0.3 0.4-0.2-5.5 0.2z"/><path class="w17" d="M187.5 214.8l5.5-0.4 0.4-0.1-5.5 0.3z"/><path class="w17" d="M193 214.4l5.5-0.6 0.4 0.1-5.5 0.4z"/><path class="w17" d="M198.5 213.8l5.6-0.5 0.4 0.1-5.6 0.5z"/><path class="w17" d="M204.1 213.3l5.6-0.7 0.4 0.3-5.6 0.5z"/><path class="wb" d="M209.7 212.6l5.6-0.5 0.4 0.4-5.6 0.4z"/><path class="wb" d="M215.3 212.1l5.6 0 0.4 0.5-5.6-0.1z"/><path class="wb" d="M220.9 212.1l5.7 0.6 0.3 0.6-5.6-0.7z"/><path class="wb" d="M226.6 212.7l5.6 0.5 0.4 0.7-5.7-0.6z"/><path class="w11" d="M45.4 200.8l5.2 4.6 0.6-0.2-5.2-4.5z"/><path class="w13" d="M50.6 205.4l5.1 2.1 0.6-0.2-5.1-2.1z"/><path class="w15" d="M55.7 207.5l5.1 1.2 0.5-0.3-5-1.1z"/><path class="w16" d="M60.8 208.7l5 0.7 0.6-0.3-5.1-0.7z"/><path class="w15" d="M65.8 209.4l5.1 0.6 0.5-0.3-5-0.6z"/><path class="w14" d="M70.9 210l5.1 0.5 0.5-0.4-5.1-0.4z"/><path class="w12" d="M76 210.5l5.1 0.6 0.5-0.5-5.1-0.5z"/><path class="w10" d="M81.1 211.1l5.1 0.5 0.5-0.5-5.1-0.5z"/><path class="w7" d="M86.2 211.6l5.2 0.5 0.5-0.5-5.2-0.5z"/><path class="w5" d="M91.4 212.1l5.1 0.6 0.5-0.6-5.1-0.5z"/><path class="w3" d="M96.5 212.7l5.2 0.6 0.5-0.7-5.2-0.5z"/><path class="w2" d="M101.7 213.3l5.2 0.5 0.5-0.7-5.2-0.5z"/><path d="M106.9 213.8l5.2 0.6 0.5-0.7-5.2-0.6z"/><path d="M112.1 214.4l5.2 0.6 0.5-0.8-5.2-0.5z"/><path d="M117.3 215l5.3 0.5 0.5-0.7-5.3-0.6z"/><path d="M122.6 215.5l5.2 0.5 0.5-0.7-5.2-0.5z"/><path d="M127.8 216l5.3 0.5 0.5-0.8-5.3-0.4z"/><path d="M133.1 216.5l5.3 0.2 0.5-0.7-5.3-0.3z"/><path d="M138.4 216.7l5.3 0.1 0.5-0.8-5.3 0z"/><path class="w1" d="M143.7 216.8l5.4-0.2 0.4-0.7-5.3 0.1z"/><path class="w3" d="M149.1 216.6l5.3-0.2 0.5-0.7-5.4 0.2z"/><path class="w5" d="M154.4 216.4l5.4-0.3 0.5-0.6-5.4 0.2z"/><path class="w7" d="M159.8 216.1l5.4-0.1 0.5-0.6-5.4 0.1z"/><path class="w9" d="M165.2 216l5.4-0.1 0.5-0.5-5.4 0z"/><path class="w12" d="M170.6 215.9l5.5-0.2 0.4-0.4-5.4 0.1z"/><path class="w17" d="M176.1 215.7l5.4-0.3 0.5-0.3-5.5 0.2z"/><path class="w17" d="M181.5 215.4l5.5-0.4 0.5-0.2-5.5 0.3z"/><path class="w17" d="M187 215l5.6-0.6 0.4 0-5.5 0.4z"/><path class="w17" d="M192.6 214.4l5.5-0.6 0.4 0-5.5 0.6z"/><path class="w17" d="M198.1 213.8l5.6-0.7 0.4 0.2-5.6 0.5z"/><path class="w17" d="M203.7 213.1l5.6-0.8 0.4 0.3-5.6 0.7z"/><path class="wb" d="M209.3 212.3l5.6-0.6 0.4 0.4-5.6 0.5z"/><path class="wb" d="M214.9 211.7l5.7-0.2 0.3 0.6-5.6 0z"/><path class="wb" d="M220.6 211.5l5.6 0.5 0.4 0.7-5.7-0.6z"/><path class="wb" d="M226.2 212l5.7 0.5 0.3 0.7-5.6-0.5z"/><path class="w12" d="M44.8 200.8l5.2 4.8 0.6-0.2-5.2-4.6z"/><path class="w15" d="M50 205.6l5.1 2.1 0.6-0.2-5.1-2.1z"/><path class="w17" d="M55.1 207.7l5.1 1.2 0.6-0.2-5.1-1.2z"/><path class="w17" d="M60.2 208.9l5.1 0.7 0.5-0.2-5-0.7z"/><path class="w16" d="M65.3 209.6l5.1 0.7 0.5-0.3-5.1-0.6z"/><path class="w15" d="M70.4 210.3l5 0.6 0.6-0.4-5.1-0.5z"/><path class="w13" d="M75.4 210.9l5.2 0.6 0.5-0.4-5.1-0.6z"/><path class="w10" d="M80.6 211.5l5.1 0.5 0.5-0.4-5.1-0.5z"/><path class="w8" d="M85.7 212l5.1 0.6 0.6-0.5-5.2-0.5z"/><path class="w6" d="M90.8 212.6l5.2 0.7 0.5-0.6-5.1-0.6z"/><path class="w3" d="M96 213.3l5.2 0.6 0.5-0.6-5.2-0.6z"/><path class="w2" d="M101.2 213.9l5.2 0.6 0.5-0.7-5.2-0.5z"/><path d="M106.4 214.5l5.2 0.6 0.5-0.7-5.2-0.6z"/><path d="M111.6 215.1l5.2 0.6 0.5-0.7-5.2-0.6z"/><path d="M116.8 215.7l5.3 0.5 0.5-0.7-5.3-0.5z"/><path d="M122.1 216.2l5.2 0.6 0.5-0.8-5.2-0.5z"/><path d="M127.3 216.8l5.3 0.4 0.5-0.7-5.3-0.5z"/><path d="M132.6 217.2l5.3 0.3 0.5-0.8-5.3-0.2z"/><path d="M137.9 217.5l5.4 0 0.4-0.7-5.3-0.1z"/><path class="w1" d="M143.3 217.5l5.3-0.1 0.5-0.8-5.4 0.2z"/><path class="w3" d="M148.6 217.4l5.4-0.4 0.4-0.6-5.3 0.2z"/><path class="w5" d="M154 217l5.3-0.3 0.5-0.6-5.4 0.3z"/><path class="w7" d="M159.3 216.7l5.4-0.1 0.5-0.6-5.4 0.1z"/><path class="w9" d="M164.7 216.6l5.5-0.2 0.4-0.5-5.4 0.1z"/><path class="w13" d="M170.2 216.4l5.4-0.3 0.5-0.4-5.5 0.2z"/><path class="w17" d="M175.6 216.1l5.5-0.4 0.4-0.3-5.4 0.3z"/><path class="w17" d="M181.1 215.7l5.5-0.5 0.4-0.2-5.5 0.4z"/><path class="w17" d="M186.6 215.2l5.5-0.7 0.5-0.1-5.6 0.6z"/><path class="w17" d="M192.1 214.5l5.6-0.8 0.4 0.1-5.5 0.6z"/><path class="w17" d="M197.7 213.7l5.6-0.8 0.4 0.2-5.6 0.7z"/><path class="wb" d="M203.3 212.9l5.6-0.9 0.4 0.3-5.6 0.8z"/><path class="wb" d="M208.9 212l5.6-0.8 0.4 0.5-5.6 0.6z"/><path class="wb" d="M214.5 211.2l5.7-0.3 0.4 0.6-5.7 0.2z"/><path class="wb" d="M220.2 210.9l5.6 0.4 0.4 0.7-5.6-0.5z"/><path class="wb" d="M225.8 211.3l5.7 0.3 0.4 0.9-5.7-0.5z"/><path class="w14" d="M44.2 200.7l5.3 5 0.5-0.1-5.2-4.8z"/><path class="w17" d="M49.5 205.7l5.1 2.2 0.5-0.2-5.1-2.1z"/><path class="w17" d="M54.6 207.9l5 1.1 0.6-0.1-5.1-1.2z"/><path class="w17" d="M59.6 209l5.1 0.9 0.6-0.3-5.1-0.7z"/><path class="w17" d="M64.7 209.9l5.1 0.7 0.6-0.3-5.1-0.7z"/><path class="w16" d="M69.8 210.6l5.1 0.6 0.5-0.3-5-0.6z"/><path class="w14" d="M74.9 211.2l5.1 0.6 0.6-0.3-5.2-0.6z"/><path class="w11" d="M80 211.8l5.2 0.7 0.5-0.5-5.1-0.5z"/><path class="w9" d="M85.2 212.5l5.1 0.6 0.5-0.5-5.1-0.6z"/><path class="w6" d="M90.3 213.1l5.2 0.7 0.5-0.5-5.2-0.7z"/><path class="w4" d="M95.5 213.8l5.2 0.7 0.5-0.6-5.2-0.6z"/><path class="w2" d="M100.7 214.5l5.2 0.7 0.5-0.7-5.2-0.6z"/><path class="w1" d="M105.9 215.2l5.2 0.6 0.5-0.7-5.2-0.6z"/><path d="M111.1 215.8l5.2 0.6 0.5-0.7-5.2-0.6z"/><path d="M116.3 216.4l5.3 0.6 0.5-0.8-5.3-0.5z"/><path d="M121.6 217l5.3 0.5 0.4-0.7-5.2-0.6z"/><path d="M126.9 217.5l5.2 0.5 0.5-0.8-5.3-0.4z"/><path d="M132.1 218l5.4 0.3 0.4-0.8-5.3-0.3z"/><path d="M137.5 218.3l5.3 0 0.5-0.8-5.4 0z"/><path class="w1" d="M142.8 218.3l5.3-0.2 0.5-0.7-5.3 0.1z"/><path class="w3" d="M148.1 218.1l5.4-0.4 0.5-0.7-5.4 0.4z"/><path class="w5" d="M153.5 217.7l5.4-0.3 0.4-0.7-5.3 0.3z"/><path class="w7" d="M158.9 217.4l5.4-0.3 0.4-0.5-5.4 0.1z"/><path class="w10" d="M164.3 217.1l5.4-0.2 0.5-0.5-5.5 0.2z"/><path class="w13" d="M169.7 216.9l5.5-0.4 0.4-0.4-5.4 0.3z"/><path class="w17" d="M175.2 216.5l5.5-0.5 0.4-0.3-5.5 0.4z"/><path class="w17" d="M180.7 216l5.5-0.7 0.4-0.1-5.5 0.5z"/><path class="w17" d="M186.2 215.3l5.5-0.8 0.4 0-5.5 0.7z"/><path class="w17" d="M191.7 214.5l5.6-0.9 0.4 0.1-5.6 0.8z"/><path class="w17" d="M197.3 213.6l5.6-0.9 0.4 0.2-5.6 0.8z"/><path class="wb" d="M202.9 212.7l5.6-1 0.4 0.3-5.6 0.9z"/><path class="wb" d="M208.5 211.7l5.6-1 0.4 0.5-5.6 0.8z"/><path class="wb" d="M214.1 210.7l5.7-0.5 0.4 0.7-5.7 0.3z"/><path class="wb" d="M219.8 210.2l5.7 0.3 0.3 0.8-5.6-0.4z"/><path class="wb" d="M225.5 210.5l5.7 0.2 0.3 0.9-5.7-0.3z"/><path class="w16" d="M43.6 200.6l5.3 5.1 0.6 0-5.3-5z"/><path class="w17" d="M48.9 205.7l5.1 2.2 0.6 0-5.1-2.2z"/><path class="w17" d="M54 207.9l5.1 1.2 0.5-0.1-5-1.1z"/><path class="w17" d="M59.1 209.1l5.1 0.9 0.5-0.1-5.1-0.9z"/><path class="w17" d="M64.2 210l5.1 0.8 0.5-0.2-5.1-0.7z"/><path class="w17" d="M69.3 210.8l5.1 0.7 0.5-0.3-5.1-0.6z"/><path class="w15" d="M74.4 211.5l5.1 0.7 0.5-0.4-5.1-0.6z"/><path class="w12" d="M79.5 212.2l5.1 0.7 0.6-0.4-5.2-0.7z"/><path class="w9" d="M84.6 212.9l5.2 0.7 0.5-0.5-5.1-0.6z"/><path class="w7" d="M89.8 213.6l5.2 0.8 0.5-0.6-5.2-0.7z"/><path class="w4" d="M95 214.4l5.2 0.7 0.5-0.6-5.2-0.7z"/><path class="w2" d="M100.2 215.1l5.2 0.7 0.5-0.6-5.2-0.7z"/><path class="w1" d="M105.4 215.8l5.2 0.7 0.5-0.7-5.2-0.6z"/><path d="M110.6 216.5l5.2 0.6 0.5-0.7-5.2-0.6z"/><path d="M115.8 217.1l5.3 0.6 0.5-0.7-5.3-0.6z"/><path d="M121.1 217.7l5.3 0.6 0.5-0.8-5.3-0.5z"/><path d="M126.4 218.3l5.3 0.4 0.4-0.7-5.2-0.5z"/><path d="M131.7 218.7l5.3 0.3 0.5-0.7-5.4-0.3z"/><path d="M137 219l5.3 0 0.5-0.7-5.3 0z"/><path class="w1" d="M142.3 219l5.4-0.2 0.4-0.7-5.3 0.2z"/><path class="w3" d="M147.7 218.8l5.3-0.4 0.5-0.7-5.4 0.4z"/><path class="w5" d="M153 218.4l5.4-0.4 0.5-0.6-5.4 0.3z"/><path class="w7" d="M158.4 218l5.4-0.3 0.5-0.6-5.4 0.3z"/><path class="w10" d="M163.8 217.7l5.5-0.3 0.4-0.5-5.4 0.2z"/><path class="w14" d="M169.3 217.4l5.4-0.5 0.5-0.4-5.5 0.4z"/><path class="w17" d="M174.7 216.9l5.5-0.7 0.5-0.2-5.5 0.5z"/><path class="w17" d="M180.2 216.2l5.5-0.8 0.5-0.1-5.5 0.7z"/><path class="w17" d="M185.7 215.4l5.6-0.9 0.4 0-5.5 0.8z"/><path class="w17" d="M191.3 214.5l5.6-1 0.4 0.1-5.6 0.9z"/><path class="w17" d="M196.9 213.5l5.6-1.1 0.4 0.3-5.6 0.9z"/><path class="wb" d="M202.5 212.4l5.6-1.1 0.4 0.4-5.6 1z"/><path class="wb" d="M208.1 211.3l5.6-1.1 0.4 0.5-5.6 1z"/><path class="wb" d="M213.7 210.2l5.7-0.7 0.4 0.7-5.7 0.5z"/><path class="wb" d="M219.4 209.5l5.7 0.1 0.4 0.9-5.7-0.3z"/><path class="wb" d="M225.1 209.6l5.7 0.1 0.4 1-5.7-0.2z"/><path class="w17" d="M43 200.3l5.3 5.3 0.6 0.1-5.3-5.1z"/><path class="w17" d="M48.3 205.6l5.1 2.3 0.6 0-5.1-2.2z"/><path class="w17" d="M53.4 207.9l5.1 1.3 0.6-0.1-5.1-1.2z"/><path class="w17" d="M58.5 209.2l5.1 0.9 0.6-0.1-5.1-0.9z"/><path class="w17" d="M63.6 210.1l5.1 0.9 0.6-0.2-5.1-0.8z"/><path class="w17" d="M68.7 211l5.1 0.7 0.6-0.2-5.1-0.7z"/><path class="w16" d="M73.8 211.7l5.1 0.8 0.6-0.3-5.1-0.7z"/><path class="w13" d="M78.9 212.5l5.2 0.8 0.5-0.4-5.1-0.7z"/><path class="w10" d="M84.1 213.3l5.2 0.8 0.5-0.5-5.2-0.7z"/><path class="w7" d="M89.3 214.1l5.1 0.8 0.6-0.5-5.2-0.8z"/><path class="w4" d="M94.4 214.9l5.2 0.9 0.6-0.7-5.2-0.7z"/><path class="w2" d="M99.6 215.8l5.3 0.7 0.5-0.7-5.2-0.7z"/><path class="w1" d="M104.9 216.5l5.2 0.7 0.5-0.7-5.2-0.7z"/><path d="M110.1 217.2l5.2 0.6 0.5-0.7-5.2-0.6z"/><path d="M115.3 217.8l5.3 0.6 0.5-0.7-5.3-0.6z"/><path d="M120.6 218.4l5.3 0.6 0.5-0.7-5.3-0.6z"/><path d="M125.9 219l5.3 0.5 0.5-0.8-5.3-0.4z"/><path d="M131.2 219.5l5.3 0.3 0.5-0.8-5.3-0.3z"/><path d="M136.5 219.8l5.3 0 0.5-0.8-5.3 0z"/><path class="w1" d="M141.8 219.8l5.4-0.2 0.5-0.8-5.4 0.2z"/><path class="w3" d="M147.2 219.6l5.4-0.5 0.4-0.7-5.3 0.4z"/><path class="w5" d="M152.6 219.1l5.4-0.5 0.4-0.6-5.4 0.4z"/><path class="w7" d="M158 218.6l5.4-0.3 0.4-0.6-5.4 0.3z"/><path class="w10" d="M163.4 218.3l5.4-0.4 0.5-0.5-5.5 0.3z"/><path class="w14" d="M168.8 217.9l5.5-0.6 0.4-0.4-5.4 0.5z"/><path class="w17" d="M174.3 217.3l5.5-0.8 0.4-0.3-5.5 0.7z"/><path class="w17" d="M179.8 216.5l5.5-0.9 0.4-0.2-5.5 0.8z"/><path class="w17" d="M185.3 215.6l5.6-1.2 0.4 0.1-5.6 0.9z"/><path class="w17" d="M190.9 214.4l5.5-1.1 0.5 0.2-5.6 1z"/><path class="w17" d="M196.4 213.3l5.6-1.1 0.5 0.2-5.6 1.1z"/><path class="wb" d="M202 212.2l5.7-1.3 0.4 0.4-5.6 1.1z"/><path class="wb" d="M207.7 210.9l5.7-1.3 0.3 0.6-5.6 1.1z"/><path class="wb" d="M213.4 209.6l5.6-0.8 0.4 0.7-5.7 0.7z"/><path class="wb" d="M219 208.8l5.7-0.1 0.4 0.9-5.7-0.1z"/><path class="wb" d="M224.7 208.7l5.8 0 0.3 1-5.7-0.1z"/><path class="w17" d="M42.4 200l5.3 5.4 0.6 0.2-5.3-5.3z"/><path class="w17" d="M47.7 205.4l5.1 2.5 0.6 0-5.1-2.3z"/><path class="w17" d="M52.8 207.9l5.1 1.3 0.6 0-5.1-1.3z"/><path class="w17" d="M57.9 209.2l5.1 1 0.6-0.1-5.1-0.9z"/><path class="w17" d="M63 210.2l5.1 0.9 0.6-0.1-5.1-0.9z"/><path class="w17" d="M68.1 211.1l5.2 0.8 0.5-0.2-5.1-0.7z"/><path class="w17" d="M73.3 211.9l5.1 0.9 0.5-0.3-5.1-0.8z"/><path class="w14" d="M78.4 212.8l5.2 0.9 0.5-0.4-5.2-0.8z"/><path class="w11" d="M83.6 213.7l5.1 0.8 0.6-0.4-5.2-0.8z"/><path class="w8" d="M88.7 214.5l5.2 0.9 0.5-0.5-5.1-0.8z"/><path class="w5" d="M93.9 215.4l5.2 0.9 0.5-0.5-5.2-0.9z"/><path class="w3" d="M99.1 216.3l5.3 0.8 0.5-0.6-5.3-0.7z"/><path class="w1" d="M104.4 217.1l5.2 0.8 0.5-0.7-5.2-0.7z"/><path d="M109.6 217.9l5.2 0.6 0.5-0.7-5.2-0.6z"/><path d="M114.8 218.5l5.3 0.6 0.5-0.7-5.3-0.6z"/><path d="M120.1 219.1l5.3 0.6 0.5-0.7-5.3-0.6z"/><path d="M125.4 219.7l5.3 0.6 0.5-0.8-5.3-0.5z"/><path d="M130.7 220.3l5.3 0.3 0.5-0.8-5.3-0.3z"/><path d="M136 220.6l5.4 0 0.4-0.8-5.3 0z"/><path class="w1" d="M141.4 220.6l5.3-0.3 0.5-0.7-5.4 0.2z"/><path class="w3" d="M146.7 220.3l5.4-0.5 0.5-0.7-5.4 0.5z"/><path class="w6" d="M152.1 219.8l5.4-0.6 0.5-0.6-5.4 0.5z"/><path class="w7" d="M157.5 219.2l5.4-0.4 0.5-0.5-5.4 0.3z"/><path class="w10" d="M162.9 218.8l5.5-0.4 0.4-0.5-5.4 0.4z"/><path class="w14" d="M168.4 218.4l5.4-0.7 0.5-0.4-5.5 0.6z"/><path class="w17" d="M173.8 217.7l5.5-0.9 0.5-0.3-5.5 0.8z"/><path class="w17" d="M179.3 216.8l5.6-1.1 0.4-0.1-5.5 0.9z"/><path class="w17" d="M184.9 215.7l5.5-1.3 0.5 0-5.6 1.2z"/><path class="w17" d="M190.4 214.4l5.6-1.2 0.4 0.1-5.5 1.1z"/><path class="w17" d="M196 213.2l5.6-1.3 0.4 0.3-5.6 1.1z"/><path class="wb" d="M201.6 211.9l5.7-1.4 0.4 0.4-5.7 1.3z"/><path class="wb" d="M207.3 210.5l5.7-1.4 0.4 0.5-5.7 1.3z"/><path class="wb" d="M213 209.1l5.7-1.1 0.3 0.8-5.6 0.8z"/><path class="wb" d="M218.7 208l5.7-0.3 0.3 1-5.7 0.1z"/><path class="wb" d="M224.4 207.7l5.7-0.1 0.4 1.1-5.8 0z"/><path class="w17" d="M41.8 199.5l5.3 5.7 0.6 0.2-5.3-5.4z"/><path class="w17" d="M47.1 205.2l5.1 2.5 0.6 0.2-5.1-2.5z"/><path class="w17" d="M52.2 207.7l5.2 1.4 0.5 0.1-5.1-1.3z"/><path class="w17" d="M57.4 209.1l5.1 1.1 0.5 0-5.1-1z"/><path class="w17" d="M62.5 210.2l5.1 1 0.5-0.1-5.1-0.9z"/><path class="w17" d="M67.6 211.2l5.1 0.9 0.6-0.2-5.2-0.8z"/><path class="w17" d="M72.7 212.1l5.2 1 0.5-0.3-5.1-0.9z"/><path class="w15" d="M77.9 213.1l5.1 0.9 0.6-0.3-5.2-0.9z"/><path class="w11" d="M83 214l5.2 1 0.5-0.5-5.1-0.8z"/><path class="w8" d="M88.2 215l5.2 0.9 0.5-0.5-5.2-0.9z"/><path class="w5" d="M93.4 215.9l5.2 1 0.5-0.6-5.2-0.9z"/><path class="w3" d="M98.6 216.9l5.2 0.9 0.6-0.7-5.3-0.8z"/><path class="w1" d="M103.8 217.8l5.3 0.7 0.5-0.6-5.2-0.8z"/><path d="M109.1 218.5l5.2 0.7 0.5-0.7-5.2-0.6z"/><path d="M114.3 219.2l5.3 0.6 0.5-0.7-5.3-0.6z"/><path d="M119.6 219.8l5.3 0.7 0.5-0.8-5.3-0.6z"/><path d="M124.9 220.5l5.3 0.5 0.5-0.7-5.3-0.6z"/><path d="M130.2 221l5.3 0.3 0.5-0.7-5.3-0.3z"/><path d="M135.5 221.3l5.4 0 0.5-0.7-5.4 0z"/><path class="w1" d="M140.9 221.3l5.3-0.3 0.5-0.7-5.3 0.3z"/><path class="w3" d="M146.2 221l5.4-0.5 0.5-0.7-5.4 0.5z"/><path class="w6" d="M151.6 220.5l5.4-0.6 0.5-0.7-5.4 0.6z"/><path class="w7" d="M157 219.9l5.5-0.5 0.4-0.6-5.4 0.4z"/><path class="w10" d="M162.5 219.4l5.4-0.5 0.5-0.5-5.5 0.4z"/><path class="w15" d="M167.9 218.9l5.5-0.8 0.4-0.4-5.4 0.7z"/><path class="w17" d="M173.4 218.1l5.5-1.1 0.4-0.2-5.5 0.9z"/><path class="w17" d="M178.9 217l5.5-1.2 0.5-0.1-5.6 1.1z"/><path class="w17" d="M184.4 215.8l5.6-1.5 0.4 0.1-5.5 1.3z"/><path class="w17" d="M190 214.3l5.6-1.3 0.4 0.2-5.6 1.2z"/><path class="wb" d="M195.6 213l5.6-1.4 0.4 0.3-5.6 1.3z"/><path class="wb" d="M201.2 211.6l5.7-1.5 0.4 0.4-5.7 1.4z"/><path class="wb" d="M206.9 210.1l5.7-1.6 0.4 0.6-5.7 1.4z"/><path class="wb" d="M212.6 208.5l5.7-1.3 0.4 0.8-5.7 1.1z"/><path class="wb" d="M218.3 207.2l5.7-0.5 0.4 1-5.7 0.3z"/><path class="wb" d="M224 206.7l5.7-0.2 0.4 1.1-5.7 0.1z"/><path class="w17" d="M41.2 198.9l5.3 6 0.6 0.3-5.3-5.7z"/><path class="w17" d="M46.5 204.9l5.2 2.6 0.5 0.2-5.1-2.5z"/><path class="w17" d="M51.7 207.5l5.1 1.5 0.6 0.1-5.2-1.4z"/><path class="w17" d="M56.8 209l5.1 1.2 0.6 0-5.1-1.1z"/><path class="w17" d="M61.9 210.2l5.1 1.1 0.6-0.1-5.1-1z"/><path class="w17" d="M67 211.3l5.2 0.9 0.5-0.1-5.1-0.9z"/><path class="w17" d="M72.2 212.2l5.1 1.1 0.6-0.2-5.2-1z"/><path class="w16" d="M77.3 213.3l5.2 1 0.5-0.3-5.1-0.9z"/><path class="w12" d="M82.5 214.3l5.2 1 0.5-0.3-5.2-1z"/><path class="w9" d="M87.7 215.3l5.2 1.1 0.5-0.5-5.2-0.9z"/><path class="w6" d="M92.9 216.4l5.2 1.1 0.5-0.6-5.2-1z"/><path class="w3" d="M98.1 217.5l5.2 0.9 0.5-0.6-5.2-0.9z"/><path class="w1" d="M103.3 218.4l5.3 0.8 0.5-0.7-5.3-0.7z"/><path d="M108.6 219.2l5.2 0.7 0.5-0.7-5.2-0.7z"/><path d="M113.8 219.9l5.3 0.6 0.5-0.7-5.3-0.6z"/><path d="M119.1 220.5l5.3 0.7 0.5-0.7-5.3-0.7z"/><path d="M124.4 221.2l5.3 0.6 0.5-0.8-5.3-0.5z"/><path d="M129.7 221.8l5.4 0.3 0.4-0.8-5.3-0.3z"/><path d="M135.1 222.1l5.3 0 0.5-0.8-5.4 0z"/><path class="w1" d="M140.4 222.1l5.4-0.3 0.4-0.8-5.3 0.3z"/><path class="w3" d="M145.8 221.8l5.3-0.6 0.5-0.7-5.4 0.5z"/><path class="w5" d="M151.1 221.2l5.5-0.7 0.4-0.6-5.4 0.6z"/><path class="w7" d="M156.6 220.5l5.4-0.5 0.5-0.6-5.5 0.5z"/><path class="w10" d="M162 220l5.4-0.6 0.5-0.5-5.4 0.5z"/><path class="w15" d="M167.4 219.4l5.5-0.9 0.5-0.4-5.5 0.8z"/><path class="w17" d="M172.9 218.5l5.5-1.2 0.5-0.3-5.5 1.1z"/><path class="w17" d="M178.4 217.3l5.6-1.4 0.4-0.1-5.5 1.2z"/><path class="w17" d="M184 215.9l5.6-1.6 0.4 0-5.6 1.5z"/><path class="w17" d="M189.6 214.3l5.6-1.5 0.4 0.2-5.6 1.3z"/><path class="wb" d="M195.2 212.8l5.6-1.5 0.4 0.3-5.6 1.4z"/><path class="wb" d="M200.8 211.3l5.7-1.7 0.4 0.5-5.7 1.5z"/><path class="wb" d="M206.5 209.6l5.7-1.7 0.4 0.6-5.7 1.6z"/><path class="wb" d="M212.2 207.9l5.7-1.5 0.4 0.8-5.7 1.3z"/><path class="wb" d="M217.9 206.4l5.7-0.8 0.4 1.1-5.7 0.5z"/><path class="wb" d="M223.6 205.6l5.8-0.3 0.3 1.2-5.7 0.2z"/><path class="w17" d="M40.5 198.2l5.4 6.3 0.6 0.4-5.3-6z"/><path class="w17" d="M45.9 204.5l5.2 2.8 0.6 0.2-5.2-2.6z"/><path class="w17" d="M51.1 207.3l5.1 1.6 0.6 0.1-5.1-1.5z"/><path class="w17" d="M56.2 208.9l5.1 1.2 0.6 0.1-5.1-1.2z"/><path class="w17" d="M61.3 210.1l5.2 1.2 0.5 0-5.1-1.1z"/><path class="w17" d="M66.5 211.3l5.1 1 0.6-0.1-5.2-0.9z"/><path class="w17" d="M71.6 212.3l5.2 1.2 0.5-0.2-5.1-1.1z"/><path class="w17" d="M76.8 213.5l5.1 1.1 0.6-0.3-5.2-1z"/><path class="w13" d="M81.9 214.6l5.2 1.1 0.6-0.4-5.2-1z"/><path class="w10" d="M87.1 215.7l5.3 1.2 0.5-0.5-5.2-1.1z"/><path class="w6" d="M92.4 216.9l5.2 1.1 0.5-0.5-5.2-1.1z"/><path class="w4" d="M97.6 218l5.2 1 0.5-0.6-5.2-0.9z"/><path class="w2" d="M102.8 219l5.3 0.9 0.5-0.7-5.3-0.8z"/><path class="w1" d="M108.1 219.9l5.2 0.7 0.5-0.7-5.2-0.7z"/><path d="M113.3 220.6l5.3 0.6 0.5-0.7-5.3-0.6z"/><path d="M118.6 221.2l5.3 0.7 0.5-0.7-5.3-0.7z"/><path d="M123.9 221.9l5.3 0.6 0.5-0.7-5.3-0.6z"/><path d="M129.2 222.5l5.4 0.4 0.5-0.8-5.4-0.3z"/><path d="M134.6 222.9l5.3-0.1 0.5-0.7-5.3 0z"/><path class="w1" d="M139.9 222.8l5.4-0.3 0.5-0.7-5.4 0.3z"/><path class="w3" d="M145.3 222.5l5.4-0.6 0.4-0.7-5.3 0.6z"/><path class="w5" d="M150.7 221.9l5.4-0.7 0.5-0.7-5.5 0.7z"/><path class="w6" d="M156.1 221.2l5.4-0.6 0.5-0.6-5.4 0.5z"/><path class="w11" d="M161.5 220.6l5.5-0.7 0.4-0.5-5.4 0.6z"/><path class="w16" d="M167 219.9l5.5-1.1 0.4-0.3-5.5 0.9z"/><path class="w17" d="M172.5 218.8l5.5-1.3 0.4-0.2-5.5 1.2z"/><path class="w17" d="M178 217.5l5.6-1.5 0.4-0.1-5.6 1.4z"/><path class="w17" d="M183.6 216l5.5-1.8 0.5 0.1-5.6 1.6z"/><path class="w17" d="M189.1 214.2l5.6-1.6 0.5 0.2-5.6 1.5z"/><path class="wb" d="M194.7 212.6l5.7-1.6 0.4 0.3-5.6 1.5z"/><path class="wb" d="M200.4 211l5.7-1.9 0.4 0.5-5.7 1.7z"/><path class="wb" d="M206.1 209.1l5.7-1.9 0.4 0.7-5.7 1.7z"/><path class="wb" d="M211.8 207.2l5.7-1.7 0.4 0.9-5.7 1.5z"/><path class="wb" d="M217.5 205.5l5.8-1 0.3 1.1-5.7 0.8z"/><path class="wb" d="M223.3 204.5l5.7-0.4 0.4 1.2-5.8 0.3z"/><path class="w17" d="M39.9 197.4l5.4 6.6 0.6 0.5-5.4-6.3z"/><path class="w17" d="M45.3 204l5.2 3 0.6 0.3-5.2-2.8z"/><path class="w17" d="M50.5 207l5.1 1.7 0.6 0.2-5.1-1.6z"/><path class="w17" d="M55.6 208.7l5.1 1.3 0.6 0.1-5.1-1.2z"/><path class="w17" d="M60.7 210l5.2 1.3 0.6 0-5.2-1.2z"/><path class="w17" d="M65.9 211.3l5.1 1 0.6 0-5.1-1z"/><path class="w17" d="M71 212.3l5.2 1.3 0.6-0.1-5.2-1.2z"/><path class="w17" d="M76.2 213.6l5.2 1.2 0.5-0.2-5.1-1.1z"/><path class="w14" d="M81.4 214.8l5.2 1.2 0.5-0.3-5.2-1.1z"/><path class="w10" d="M86.6 216l5.2 1.3 0.6-0.4-5.3-1.2z"/><path class="w7" d="M91.8 217.3l5.3 1.3 0.5-0.6-5.2-1.1z"/><path class="w4" d="M97.1 218.6l5.2 1 0.5-0.6-5.2-1z"/><path class="w2" d="M102.3 219.6l5.3 0.9 0.5-0.6-5.3-0.9z"/><path class="w1" d="M107.6 220.5l5.2 0.7 0.5-0.6-5.2-0.7z"/><path d="M112.8 221.2l5.3 0.7 0.5-0.7-5.3-0.6z"/><path d="M118.1 221.9l5.3 0.7 0.5-0.7-5.3-0.7z"/><path d="M123.4 222.6l5.3 0.7 0.5-0.8-5.3-0.6z"/><path d="M128.7 223.3l5.4 0.3 0.5-0.7-5.4-0.4z"/><path d="M134.1 223.6l5.3 0 0.5-0.8-5.3 0.1z"/><path class="w2" d="M139.4 223.6l5.4-0.4 0.5-0.7-5.4 0.3z"/><path class="w3" d="M144.8 223.2l5.4-0.6 0.5-0.7-5.4 0.6z"/><path class="w5" d="M150.2 222.6l5.4-0.7 0.5-0.7-5.4 0.7z"/><path class="w7" d="M155.6 221.9l5.5-0.7 0.4-0.6-5.4 0.6z"/><path class="w11" d="M161.1 221.2l5.4-0.8 0.5-0.5-5.5 0.7z"/><path class="w16" d="M166.5 220.4l5.5-1.2 0.5-0.4-5.5 1.1z"/><path class="w17" d="M172 219.2l5.6-1.4 0.4-0.3-5.5 1.3z"/><path class="w17" d="M177.6 217.8l5.5-1.7 0.5-0.1-5.6 1.5z"/><path class="w17" d="M183.1 216.1l5.6-2 0.4 0.1-5.5 1.8z"/><path class="w17" d="M188.7 214.1l5.6-1.7 0.4 0.2-5.6 1.6z"/><path class="wb" d="M194.3 212.4l5.7-1.8 0.4 0.4-5.7 1.6z"/><path class="wb" d="M200 210.6l5.7-2 0.4 0.5-5.7 1.9z"/><path class="wb" d="M205.7 208.6l5.7-2.1 0.4 0.7-5.7 1.9z"/><path class="wb" d="M211.4 206.5l5.7-2 0.4 1-5.7 1.7z"/><path class="wb" d="M217.1 204.5l5.8-1.2 0.4 1.2-5.8 1z"/><path class="wb" d="M222.9 203.3l5.8-0.5 0.3 1.3-5.7 0.4z"/><path class="w17" d="M39.3 196.9l5.4 6.9 0.6 0.2-5.4-6.6z"/><path class="w17" d="M44.7 203.8l5.2 3 0.6 0.2-5.2-3z"/><path class="w17" d="M49.9 206.8l5.1 1.7 0.6 0.2-5.1-1.7z"/><path class="w17" d="M55 208.5l5.2 1.4 0.5 0.1-5.1-1.3z"/><path class="w17" d="M60.2 209.9l5.1 1.3 0.6 0.1-5.2-1.3z"/><path class="w17" d="M65.3 211.2l5.2 1.2 0.5-0.1-5.1-1z"/><path class="w17" d="M70.5 212.4l5.2 1.3 0.5-0.1-5.2-1.3z"/><path class="w17" d="M75.7 213.7l5.2 1.3 0.5-0.2-5.2-1.2z"/><path class="w15" d="M80.9 215l5.2 1.3 0.5-0.3-5.2-1.2z"/><path class="w11" d="M86.1 216.3l5.2 1.4 0.5-0.4-5.2-1.3z"/><path class="w7" d="M91.3 217.7l5.2 1.4 0.6-0.5-5.3-1.3z"/><path class="w4" d="M96.5 219.1l5.3 1.1 0.5-0.6-5.2-1z"/><path class="w2" d="M101.8 220.2l5.3 1 0.5-0.7-5.3-0.9z"/><path class="w1" d="M107.1 221.2l5.2 0.7 0.5-0.7-5.2-0.7z"/><path d="M112.3 221.9l5.3 0.7 0.5-0.7-5.3-0.7z"/><path d="M117.6 222.6l5.3 0.8 0.5-0.8-5.3-0.7z"/><path d="M122.9 223.4l5.4 0.6 0.4-0.7-5.3-0.7z"/><path d="M128.3 224l5.3 0.4 0.5-0.8-5.4-0.3z"/><path d="M133.6 224.4l5.4-0.1 0.4-0.7-5.3 0z"/><path class="w2" d="M139 224.3l5.3-0.3 0.5-0.8-5.4 0.4z"/><path class="w4" d="M144.3 224l5.4-0.7 0.5-0.7-5.4 0.6z"/><path class="w5" d="M149.7 223.3l5.4-0.7 0.5-0.7-5.4 0.7z"/><path class="w7" d="M155.1 222.6l5.5-0.8 0.5-0.6-5.5 0.7z"/><path class="w12" d="M160.6 221.8l5.5-1 0.4-0.4-5.4 0.8z"/><path class="w17" d="M166.1 220.8l5.5-1.2 0.4-0.4-5.5 1.2z"/><path class="w17" d="M171.6 219.6l5.5-1.6 0.5-0.2-5.6 1.4z"/><path class="w17" d="M177.1 218l5.6-1.8 0.4-0.1-5.5 1.7z"/><path class="w17" d="M182.7 216.2l5.6-2.1 0.4 0-5.6 2z"/><path class="w17" d="M188.3 214.1l5.6-2 0.4 0.3-5.6 1.7z"/><path class="wb" d="M193.9 212.1l5.7-1.9 0.4 0.4-5.7 1.8z"/><path class="wb" d="M199.6 210.2l5.7-2.2 0.4 0.6-5.7 2z"/><path class="wb" d="M205.3 208l5.7-2.3 0.4 0.8-5.7 2.1z"/><path class="wb" d="M211 205.7l5.8-2.2 0.3 1-5.7 2z"/><path class="wb" d="M216.8 203.5l5.7-1.4 0.4 1.2-5.8 1.2z"/><path class="wb" d="M222.5 202.1l5.8-0.7 0.4 1.4-5.8 0.5z"/><path class="w17" d="M38.6 196.3l5.5 7.2 0.6 0.3-5.4-6.9z"/><path class="w17" d="M44.1 203.5l5.2 3.1 0.6 0.2-5.2-3z"/><path class="w17" d="M49.3 206.6l5.1 1.7 0.6 0.2-5.1-1.7z"/><path class="w17" d="M54.4 208.3l5.2 1.4 0.6 0.2-5.2-1.4z"/><path class="w17" d="M59.6 209.7l5.1 1.4 0.6 0.1-5.1-1.3z"/><path class="w17" d="M64.7 211.1l5.2 1.2 0.6 0.1-5.2-1.2z"/><path class="w17" d="M69.9 212.3l5.2 1.5 0.6-0.1-5.2-1.3z"/><path class="w17" d="M75.1 213.8l5.2 1.4 0.6-0.2-5.2-1.3z"/><path class="w16" d="M80.3 215.2l5.2 1.4 0.6-0.3-5.2-1.3z"/><path class="w12" d="M85.5 216.6l5.3 1.5 0.5-0.4-5.2-1.4z"/><path class="w8" d="M90.8 218.1l5.2 1.5 0.5-0.5-5.2-1.4z"/><path class="w5" d="M96 219.6l5.3 1.2 0.5-0.6-5.3-1.1z"/><path class="w3" d="M101.3 220.8l5.2 1 0.6-0.6-5.3-1z"/><path class="w2" d="M106.5 221.8l5.3 0.8 0.5-0.7-5.2-0.7z"/><path class="w1" d="M111.8 222.6l5.3 0.7 0.5-0.7-5.3-0.7z"/><path d="M117.1 223.3l5.3 0.7 0.5-0.6-5.3-0.8z"/><path d="M122.4 224l5.4 0.8 0.5-0.8-5.4-0.6z"/><path d="M127.8 224.8l5.3 0.3 0.5-0.7-5.3-0.4z"/><path class="w1" d="M133.1 225.1l5.4 0 0.5-0.8-5.4 0.1z"/><path class="w3" d="M138.5 225.1l5.4-0.4 0.4-0.7-5.3 0.3z"/><path class="w4" d="M143.9 224.7l5.4-0.7 0.4-0.7-5.4 0.7z"/><path class="w5" d="M149.3 224l5.4-0.7 0.4-0.7-5.4 0.7z"/><path class="w8" d="M154.7 223.3l5.4-0.9 0.5-0.6-5.5 0.8z"/><path class="w12" d="M160.1 222.4l5.5-1.1 0.5-0.5-5.5 1z"/><path class="w17" d="M165.6 221.3l5.5-1.3 0.5-0.4-5.5 1.2z"/><path class="w17" d="M171.1 220l5.6-1.7 0.4-0.3-5.5 1.6z"/><path class="w17" d="M176.7 218.3l5.5-2.1 0.5 0-5.6 1.8z"/><path class="w17" d="M182.2 216.2l5.6-2.2 0.5 0.1-5.6 2.1z"/><path class="w17" d="M187.8 214l5.7-2.1 0.4 0.2-5.6 2z"/><path class="wb" d="M193.5 211.9l5.6-2.1 0.5 0.4-5.7 1.9z"/><path class="wb" d="M199.1 209.8l5.8-2.5 0.4 0.7-5.7 2.2z"/><path class="wb" d="M204.9 207.3l5.7-2.5 0.4 0.9-5.7 2.3z"/><path class="wb" d="M210.6 204.8l5.8-2.4 0.4 1.1-5.8 2.2z"/><path class="wb" d="M216.4 202.4l5.8-1.6 0.3 1.3-5.7 1.4z"/><path class="wb" d="M222.2 200.8l5.8-0.7 0.3 1.3-5.8 0.7z"/><path class="w17" d="M38 195.8l5.5 7.4 0.6 0.3-5.5-7.2z"/><path class="w17" d="M43.5 203.2l5.2 3.2 0.6 0.2-5.2-3.1z"/><path class="w17" d="M48.7 206.4l5.1 1.8 0.6 0.1-5.1-1.7z"/><path class="w17" d="M53.8 208.2l5.2 1.3 0.6 0.2-5.2-1.4z"/><path class="w17" d="M59 209.5l5.2 1.5 0.5 0.1-5.1-1.4z"/><path class="w17" d="M64.2 211l5.1 1.2 0.6 0.1-5.2-1.2z"/><path class="w17" d="M69.3 212.2l5.2 1.6 0.6 0-5.2-1.5z"/><path class="w17" d="M74.5 213.8l5.3 1.5 0.5-0.1-5.2-1.4z"/><path class="w17" d="M79.8 215.3l5.2 1.5 0.5-0.2-5.2-1.4z"/><path class="w13" d="M85 216.8l5.2 1.7 0.6-0.4-5.3-1.5z"/><path class="w8" d="M90.2 218.5l5.3 1.5 0.5-0.4-5.2-1.5z"/><path class="w5" d="M95.5 220l5.3 1.3 0.5-0.5-5.3-1.2z"/><path class="w3" d="M100.8 221.3l5.2 1.1 0.5-0.6-5.2-1z"/><path class="w2" d="M106 222.4l5.3 0.8 0.5-0.6-5.3-0.8z"/><path class="w1" d="M111.3 223.2l5.3 0.8 0.5-0.7-5.3-0.7z"/><path d="M116.6 224l5.3 0.7 0.5-0.7-5.3-0.7z"/><path d="M121.9 224.7l5.4 0.8 0.5-0.7-5.4-0.8z"/><path d="M127.3 225.5l5.3 0.4 0.5-0.8-5.3-0.3z"/><path class="w2" d="M132.6 225.9l5.4-0.1 0.5-0.7-5.4 0z"/><path class="w4" d="M138 225.8l5.4-0.5 0.5-0.6-5.4 0.4z"/><path class="w5" d="M143.4 225.3l5.4-0.6 0.5-0.7-5.4 0.7z"/><path class="w6" d="M148.8 224.7l5.4-0.8 0.5-0.6-5.4 0.7z"/><path class="w9" d="M154.2 223.9l5.5-0.9 0.4-0.6-5.4 0.9z"/><path class="w13" d="M159.7 223l5.4-1.2 0.5-0.5-5.5 1.1z"/><path class="w17" d="M165.1 221.8l5.6-1.5 0.4-0.3-5.5 1.3z"/><path class="w17" d="M170.7 220.3l5.5-1.8 0.5-0.2-5.6 1.7z"/><path class="w17" d="M176.2 218.5l5.6-2.2 0.4-0.1-5.5 2.1z"/><path class="w17" d="M181.8 216.3l5.6-2.4 0.4 0.1-5.6 2.2z"/><path class="wb" d="M187.4 213.9l5.6-2.3 0.5 0.3-5.7 2.1z"/><path class="wb" d="M193 211.6l5.7-2.3 0.4 0.5-5.6 2.1z"/><path class="wb" d="M198.7 209.3l5.7-2.7 0.5 0.7-5.8 2.5z"/><path class="wb" d="M204.4 206.6l5.8-2.8 0.4 1-5.7 2.5z"/><path class="wb" d="M210.2 203.8l5.8-2.6 0.4 1.2-5.8 2.4z"/><path class="wb" d="M216 201.2l5.8-1.8 0.4 1.4-5.8 1.6z"/><path class="wb" d="M221.8 199.4l5.8-0.7 0.4 1.4-5.8 0.7z"/><path class="w17" d="M37.4 195.3l5.4 7.7 0.7 0.2-5.5-7.4z"/><path class="w17" d="M42.8 203l5.3 3.3 0.6 0.1-5.2-3.2z"/><path class="w17" d="M48.1 206.3l5.1 1.7 0.6 0.2-5.1-1.8z"/><path class="w17" d="M53.2 208l5.2 1.3 0.6 0.2-5.2-1.3z"/><path class="w17" d="M58.4 209.3l5.2 1.5 0.6 0.2-5.2-1.5z"/><path class="w17" d="M63.6 210.8l5.2 1.3 0.5 0.1-5.1-1.2z"/><path class="w17" d="M68.8 212.1l5.2 1.7 0.5 0-5.2-1.6z"/><path class="w17" d="M74 213.8l5.2 1.6 0.6-0.1-5.3-1.5z"/><path class="w17" d="M79.2 215.4l5.2 1.6 0.6-0.2-5.2-1.5z"/><path class="w14" d="M84.4 217l5.3 1.8 0.5-0.3-5.2-1.7z"/><path class="w9" d="M89.7 218.8l5.3 1.7 0.5-0.5-5.3-1.5z"/><path class="w6" d="M95 220.5l5.2 1.3 0.6-0.5-5.3-1.3z"/><path class="w4" d="M100.2 221.8l5.3 1.2 0.5-0.6-5.2-1.1z"/><path class="w3" d="M105.5 223l5.3 0.8 0.5-0.6-5.3-0.8z"/><path class="w2" d="M110.8 223.8l5.3 0.8 0.5-0.6-5.3-0.8z"/><path class="w1" d="M116.1 224.6l5.3 0.8 0.5-0.7-5.3-0.7z"/><path d="M121.4 225.4l5.4 0.8 0.5-0.7-5.4-0.8z"/><path d="M126.8 226.2l5.3 0.4 0.5-0.7-5.3-0.4z"/><path class="w3" d="M132.1 226.6l5.4-0.2 0.5-0.6-5.4 0.1z"/><path class="w5" d="M137.5 226.4l5.4-0.4 0.5-0.7-5.4 0.5z"/><path class="w6" d="M142.9 226l5.4-0.6 0.5-0.7-5.4 0.6z"/><path class="w7" d="M148.3 225.4l5.4-0.8 0.5-0.7-5.4 0.8z"/><path class="w10" d="M153.7 224.6l5.5-1.1 0.5-0.5-5.5 0.9z"/><path class="w15" d="M159.2 223.5l5.5-1.3 0.4-0.4-5.4 1.2z"/><path class="w17" d="M164.7 222.2l5.5-1.6 0.5-0.3-5.6 1.5z"/><path class="w17" d="M170.2 220.6l5.6-1.9 0.4-0.2-5.5 1.8z"/><path class="w17" d="M175.8 218.7l5.5-2.3 0.5-0.1-5.6 2.2z"/><path class="w17" d="M181.3 216.4l5.7-2.6 0.4 0.1-5.6 2.4z"/><path class="wb" d="M187 213.8l5.6-2.5 0.4 0.3-5.6 2.3z"/><path class="wb" d="M192.6 211.3l5.7-2.5 0.4 0.5-5.7 2.3z"/><path class="wb" d="M198.3 208.8l5.7-3 0.4 0.8-5.7 2.7z"/><path class="wb" d="M204 205.8l5.8-3 0.4 1-5.8 2.8z"/><path class="wb" d="M209.8 202.8l5.8-2.9 0.4 1.3-5.8 2.6z"/><path class="wb" d="M215.6 199.9l5.8-1.9 0.4 1.4-5.8 1.8z"/><path class="wb" d="M221.4 198l5.9-0.7 0.3 1.4-5.8 0.7z"/><path class="w16" d="M36.7 194.8l5.5 8.1 0.6 0.1-5.4-7.7z"/><path class="w17" d="M42.2 202.9l5.3 3.3 0.6 0.1-5.3-3.3z"/><path class="w17" d="M47.5 206.2l5.1 1.7 0.6 0.1-5.1-1.7z"/><path class="w17" d="M52.6 207.9l5.2 1.2 0.6 0.2-5.2-1.3z"/><path class="w17" d="M57.8 209.1l5.2 1.6 0.6 0.1-5.2-1.5z"/><path class="w17" d="M63 210.7l5.2 1.3 0.6 0.1-5.2-1.3z"/><path class="w17" d="M68.2 212l5.2 1.7 0.6 0.1-5.2-1.7z"/><path class="w17" d="M73.4 213.7l5.2 1.7 0.6 0-5.2-1.6z"/><path class="w17" d="M78.6 215.4l5.3 1.8 0.5-0.2-5.2-1.6z"/><path class="w14" d="M83.9 217.2l5.3 1.9 0.5-0.3-5.3-1.8z"/><path class="w10" d="M89.2 219.1l5.2 1.8 0.6-0.4-5.3-1.7z"/><path class="w7" d="M94.4 220.9l5.3 1.5 0.5-0.6-5.2-1.3z"/><path class="w4" d="M99.7 222.4l5.3 1.2 0.5-0.6-5.3-1.2z"/><path class="w3" d="M105 223.6l5.3 0.8 0.5-0.6-5.3-0.8z"/><path class="w2" d="M110.3 224.4l5.3 0.9 0.5-0.7-5.3-0.8z"/><path class="w1" d="M115.6 225.3l5.3 0.8 0.5-0.7-5.3-0.8z"/><path d="M120.9 226.1l5.4 0.8 0.5-0.7-5.4-0.8z"/><path class="w1" d="M126.3 226.9l5.3 0.4 0.5-0.7-5.3-0.4z"/><path class="w4" d="M131.6 227.3l5.4-0.2 0.5-0.7-5.4 0.2z"/><path class="w6" d="M137 227.1l5.4-0.4 0.5-0.7-5.4 0.4z"/><path class="w7" d="M142.4 226.7l5.4-0.7 0.5-0.6-5.4 0.6z"/><path class="w8" d="M147.8 226l5.5-0.8 0.4-0.6-5.4 0.8z"/><path class="w11" d="M153.3 225.2l5.4-1.2 0.5-0.5-5.5 1.1z"/><path class="w16" d="M158.7 224l5.5-1.3 0.5-0.5-5.5 1.3z"/><path class="w17" d="M164.2 222.7l5.5-1.7 0.5-0.4-5.5 1.6z"/><path class="w17" d="M169.7 221l5.6-2.1 0.5-0.2-5.6 1.9z"/><path class="w17" d="M175.3 218.9l5.6-2.4 0.4-0.1-5.5 2.3z"/><path class="w17" d="M180.9 216.5l5.6-2.8 0.5 0.1-5.7 2.6z"/><path class="wb" d="M186.5 213.7l5.7-2.7 0.4 0.3-5.6 2.5z"/><path class="wb" d="M192.2 211l5.7-2.7 0.4 0.5-5.7 2.5z"/><path class="wb" d="M197.9 208.3l5.7-3.2 0.4 0.7-5.7 3z"/><path class="wb" d="M203.6 205.1l5.8-3.4 0.4 1.1-5.8 3z"/><path class="wb" d="M209.4 201.7l5.8-3.1 0.4 1.3-5.8 2.9z"/><path class="wb" d="M215.2 198.6l5.9-2.1 0.3 1.5-5.8 1.9z"/><path class="wb" d="M221.1 196.5l5.8-0.6 0.4 1.4-5.9 0.7z"/><path class="w14" d="M36.1 194.3l5.5 8.7 0.6-0.1-5.5-8.1z"/><path class="w17" d="M41.6 203l5.3 3.2 0.6 0-5.3-3.3z"/><path class="w17" d="M46.9 206.2l5.2 1.6 0.5 0.1-5.1-1.7z"/><path class="w17" d="M52.1 207.8l5.1 1.2 0.6 0.1-5.2-1.2z"/><path class="w17" d="M57.2 209l5.2 1.5 0.6 0.2-5.2-1.6z"/><path class="w17" d="M62.4 210.5l5.2 1.3 0.6 0.2-5.2-1.3z"/><path class="w17" d="M67.6 211.8l5.2 1.8 0.6 0.1-5.2-1.7z"/><path class="w17" d="M72.8 213.6l5.3 1.8 0.5 0-5.2-1.7z"/><path class="w17" d="M78.1 215.4l5.2 1.9 0.6-0.1-5.3-1.8z"/><path class="w15" d="M83.3 217.3l5.3 2 0.6-0.2-5.3-1.9z"/><path class="w11" d="M88.6 219.3l5.3 2 0.5-0.4-5.2-1.8z"/><path class="w7" d="M93.9 221.3l5.3 1.5 0.5-0.4-5.3-1.5z"/><path class="w5" d="M99.2 222.8l5.3 1.3 0.5-0.5-5.3-1.2z"/><path class="w4" d="M104.5 224.1l5.3 0.9 0.5-0.6-5.3-0.8z"/><path class="w3" d="M109.8 225l5.3 0.9 0.5-0.6-5.3-0.9z"/><path class="w1" d="M115.1 225.9l5.3 0.9 0.5-0.7-5.3-0.8z"/><path d="M120.4 226.8l5.4 0.8 0.5-0.7-5.4-0.8z"/><path class="w2" d="M125.8 227.6l5.4 0.3 0.4-0.6-5.3-0.4z"/><path class="w5" d="M131.2 227.9l5.3-0.2 0.5-0.6-5.4 0.2z"/><path class="w7" d="M136.5 227.7l5.4-0.4 0.5-0.6-5.4 0.4z"/><path class="w8" d="M141.9 227.3l5.4-0.7 0.5-0.6-5.4 0.7z"/><path class="w10" d="M147.3 226.6l5.5-0.8 0.5-0.6-5.5 0.8z"/><path class="w13" d="M152.8 225.8l5.5-1.3 0.4-0.5-5.4 1.2z"/><path class="w17" d="M158.3 224.5l5.5-1.5 0.4-0.3-5.5 1.3z"/><path class="w17" d="M163.8 223l5.5-1.8 0.4-0.2-5.5 1.7z"/><path class="w17" d="M169.3 221.2l5.5-2.1 0.5-0.2-5.6 2.1z"/><path class="w17" d="M174.8 219.1l5.6-2.6 0.5 0-5.6 2.4z"/><path class="w17" d="M180.4 216.5l5.7-2.9 0.4 0.1-5.6 2.8z"/><path class="wb" d="M186.1 213.6l5.7-2.9 0.4 0.3-5.7 2.7z"/><path class="wb" d="M191.8 210.7l5.7-3 0.4 0.6-5.7 2.7z"/><path class="wb" d="M197.5 207.7l5.7-3.4 0.4 0.8-5.7 3.2z"/><path class="wb" d="M203.2 204.3l5.8-3.7 0.4 1.1-5.8 3.4z"/><path class="wb" d="M209 200.6l5.9-3.3 0.3 1.3-5.8 3.1z"/><path class="wb" d="M214.9 197.3l5.8-2.2 0.4 1.4-5.9 2.1z"/><path class="wb" d="M220.7 195.1l5.9-0.8 0.3 1.6-5.8 0.6z"/><path class="w11" d="M35.5 194l5.5 9.1 0.6-0.1-5.5-8.7z"/><path class="w12" d="M41 203.1l5.3 3.3 0.6-0.2-5.3-3.2z"/><path class="w17" d="M46.3 206.4l5.2 1.4 0.6 0-5.2-1.6z"/><path class="w17" d="M51.5 207.8l5.1 1 0.6 0.2-5.1-1.2z"/><path class="w17" d="M56.6 208.8l5.2 1.5 0.6 0.2-5.2-1.5z"/><path class="w17" d="M61.8 210.3l5.2 1.3 0.6 0.2-5.2-1.3z"/><path class="w17" d="M67 211.6l5.3 1.9 0.5 0.1-5.2-1.8z"/><path class="w17" d="M72.3 213.5l5.2 1.9 0.6 0-5.3-1.8z"/><path class="w17" d="M77.5 215.4l5.3 2 0.5-0.1-5.2-1.9z"/><path class="w16" d="M82.8 217.4l5.3 2.1 0.5-0.2-5.3-2z"/><path class="w12" d="M88.1 219.5l5.3 2.1 0.5-0.3-5.3-2z"/><path class="w8" d="M93.4 221.6l5.3 1.7 0.5-0.5-5.3-1.5z"/><path class="w6" d="M98.7 223.3l5.3 1.3 0.5-0.5-5.3-1.3z"/><path class="w5" d="M104 224.6l5.3 1 0.5-0.6-5.3-0.9z"/><path class="w4" d="M109.3 225.6l5.3 0.9 0.5-0.6-5.3-0.9z"/><path class="w2" d="M114.6 226.5l5.3 0.9 0.5-0.6-5.3-0.9z"/><path class="w1" d="M119.9 227.4l5.4 0.9 0.5-0.7-5.4-0.8z"/><path class="w4" d="M125.3 228.3l5.4 0.2 0.5-0.6-5.4-0.3z"/><path class="w7" d="M130.7 228.5l5.3-0.2 0.5-0.6-5.3 0.2z"/><path class="w9" d="M136 228.3l5.4-0.5 0.5-0.5-5.4 0.4z"/><path class="w10" d="M141.4 227.8l5.5-0.6 0.4-0.6-5.4 0.7z"/><path class="w11" d="M146.9 227.2l5.4-0.9 0.5-0.5-5.5 0.8z"/><path class="w15" d="M152.3 226.3l5.5-1.3 0.5-0.5-5.5 1.3z"/><path class="w17" d="M157.8 225l5.5-1.6 0.5-0.4-5.5 1.5z"/><path class="w17" d="M163.3 223.4l5.5-1.9 0.5-0.3-5.5 1.8z"/><path class="w17" d="M168.8 221.5l5.6-2.3 0.4-0.1-5.5 2.1z"/><path class="w17" d="M174.4 219.2l5.6-2.7 0.4 0-5.6 2.6z"/><path class="w17" d="M180 216.5l5.6-3 0.5 0.1-5.7 2.9z"/><path class="wb" d="M185.6 213.5l5.7-3.1 0.5 0.3-5.7 2.9z"/><path class="wb" d="M191.3 210.4l5.7-3.2 0.5 0.5-5.7 3z"/><path class="wb" d="M197 207.2l5.8-3.7 0.4 0.8-5.7 3.4z"/><path class="wb" d="M202.8 203.5l5.8-3.9 0.4 1-5.8 3.7z"/><path class="wb" d="M208.6 199.6l5.9-3.6 0.4 1.3-5.9 3.3z"/><path class="wb" d="M214.5 196l5.8-2.4 0.4 1.5-5.8 2.2z"/><path class="wb" d="M220.3 193.6l5.9-1.3 0.4 2-5.9 0.8z"/><path class="w7" d="M34.9 193.9l5.6 9.6 0.5-0.4-5.5-9.1z"/><path class="w7" d="M40.5 203.5l5.2 3.1 0.6-0.2-5.3-3.3z"/><path class="w17" d="M45.7 206.6l5.2 1.2 0.6 0-5.2-1.4z"/><path class="w17" d="M50.9 207.8l5.1 0.8 0.6 0.2-5.1-1z"/><path class="w17" d="M56 208.6l5.2 1.5 0.6 0.2-5.2-1.5z"/><path class="w17" d="M61.2 210.1l5.2 1.2 0.6 0.3-5.2-1.3z"/><path class="w17" d="M66.4 211.3l5.3 2 0.6 0.2-5.3-1.9z"/><path class="w17" d="M71.7 213.3l5.3 2 0.5 0.1-5.2-1.9z"/><path class="w17" d="M77 215.3l5.2 2.1 0.6 0-5.3-2z"/><path class="w17" d="M82.2 217.4l5.3 2.3 0.6-0.2-5.3-2.1z"/><path class="w13" d="M87.5 219.7l5.3 2.2 0.6-0.3-5.3-2.1z"/><path class="w9" d="M92.8 221.9l5.3 1.8 0.6-0.4-5.3-1.7z"/><path class="w7" d="M98.1 223.7l5.3 1.4 0.6-0.5-5.3-1.3z"/><path class="w6" d="M103.4 225.1l5.4 1 0.5-0.5-5.3-1z"/><path class="w5" d="M108.8 226.1l5.3 1 0.5-0.6-5.3-0.9z"/><path class="w4" d="M114.1 227.1l5.3 0.9 0.5-0.6-5.3-0.9z"/><path class="w3" d="M119.4 228l5.4 0.9 0.5-0.6-5.4-0.9z"/><path class="w6" d="M124.8 228.9l5.4 0.2 0.5-0.6-5.4-0.2z"/><path class="w8" d="M130.2 229.1l5.3-0.2 0.5-0.6-5.3 0.2z"/><path class="w10" d="M135.5 228.9l5.5-0.5 0.4-0.6-5.4 0.5z"/><path class="w11" d="M141 228.4l5.4-0.7 0.5-0.5-5.5 0.6z"/><path class="w13" d="M146.4 227.7l5.4-0.9 0.5-0.5-5.4 0.9z"/><path class="w17" d="M151.8 226.8l5.5-1.4 0.5-0.4-5.5 1.3z"/><path class="w17" d="M157.3 225.4l5.5-1.7 0.5-0.3-5.5 1.6z"/><path class="w17" d="M162.8 223.7l5.6-2 0.4-0.2-5.5 1.9z"/><path class="w17" d="M168.4 221.7l5.5-2.4 0.5-0.1-5.6 2.3z"/><path class="w17" d="M173.9 219.3l5.6-2.8 0.5 0-5.6 2.7z"/><path class="w17" d="M179.5 216.5l5.7-3.2 0.4 0.2-5.6 3z"/><path class="wb" d="M185.2 213.3l5.7-3.2 0.4 0.3-5.7 3.1z"/><path class="wb" d="M190.9 210.1l5.7-3.4 0.4 0.5-5.7 3.2z"/><path class="wb" d="M196.6 206.7l5.8-4 0.4 0.8-5.8 3.7z"/><path class="wb" d="M202.4 202.7l5.8-4.1 0.4 1-5.8 3.9z"/><path class="wb" d="M208.2 198.6l5.9-3.8 0.4 1.2-5.9 3.6z"/><path class="wb" d="M214.1 194.8l5.9-2.6 0.3 1.4-5.8 2.4z"/><path class="wb" d="M220 192.2l5.9-1.7 0.3 1.8-5.9 1.3z"/>
</g>
<path d="M223.5 279.6L228.6 90.4" fill="none" stroke="#333" stroke-width="0.65" stroke-dasharray="0.9 1.4"/>
<path d="M228.6 90.4L27.8 62.4" fill="none" stroke="#333" stroke-width="0.65" stroke-dasharray="0.9 1.4"/>
<path d="M228.6 90.4L284.1 20.6" fill="none" stroke="#333" stroke-width="0.65" stroke-dasharray="0.9 1.4"/>
<text x="43.1" y="265.0" font-size="10.2" text-anchor="middle">0</text>
<text x="94.6" y="275.2" font-size="10.2" text-anchor="middle">10</text>
<text x="147.8" y="285.8" font-size="10.2" text-anchor="middle">20</text>
<text x="202.7" y="296.7" font-size="10.2" text-anchor="middle">30</text>
<text x="234.9" y="296.0" font-size="10.2" text-anchor="middle">0</text>
<text x="244.5" y="278.7" font-size="10.2" text-anchor="middle">5</text>
<text x="253.6" y="262.2" font-size="10.2" text-anchor="middle">10</text>
<text x="262.3" y="246.6" font-size="10.2" text-anchor="middle">15</text>
<text x="270.5" y="231.7" font-size="10.2" text-anchor="middle">20</text>
<text x="278.4" y="217.4" font-size="10.2" text-anchor="middle">25</text>
<text x="285.9" y="203.8" font-size="10.2" text-anchor="middle">30</text>
<text x="19.5" y="212.7" font-size="10.2" text-anchor="middle">1.00</text>
<text x="15.1" y="141.2" font-size="10.2" text-anchor="middle">1.05</text>
<path d="M47.6 245.5L45.4 253.4M99.0 255.5L96.8 263.5M152.0 265.7L149.9 273.9M206.7 276.3L204.7 284.7M223.5 279.6L229.2 286.0M233.3 262.6L238.9 268.8M242.7 246.4L248.1 252.5M251.6 231.1L256.9 237.0M260.1 216.4L265.3 222.2M268.3 202.4L273.3 208.1M276.0 189.0L281.0 194.6M35.5 205.6L27.5 207.3M31.7 134.4L23.4 135.9" fill="none" stroke="#222" stroke-width="0.7"/>
<text transform="translate(117.8,289.1) rotate(10.97)" y="3.6" font-size="10" text-anchor="middle">Daily maximum temperature</text>
<text transform="translate(270.2,251.8) rotate(-59.86)" y="3.6" font-size="10" text-anchor="middle">Lag (days)</text>
<text transform="translate(5.0,176.3) rotate(86.91)" y="3.6" font-size="10" text-anchor="middle">RR</text>
<text x="33.4" y="28.8" font-size="25">(a)</text>
</svg>
</body></html>
